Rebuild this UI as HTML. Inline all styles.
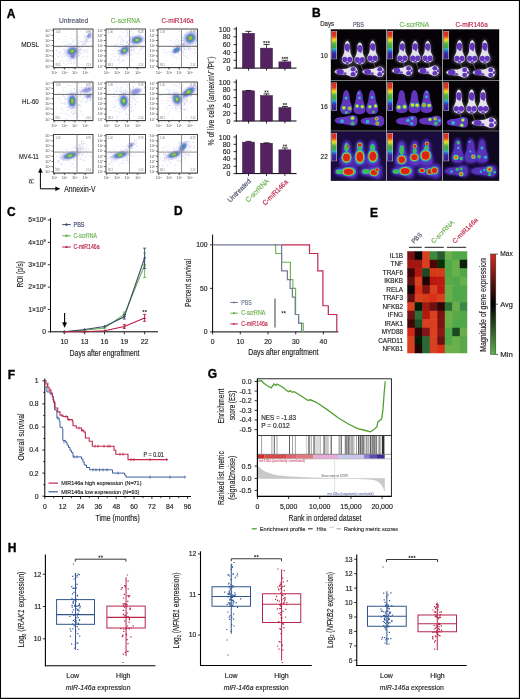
<!DOCTYPE html>
<html><head><meta charset="utf-8"><title>Figure</title>
<style>html,body{margin:0;padding:0;background:#fff;} svg{display:block;will-change:transform;} text{font-family:"Liberation Sans", sans-serif;}</style>
</head><body>
<svg width="520" height="699" viewBox="0 0 520 699" font-family='"Liberation Sans", sans-serif'>
<rect x="0" y="0" width="520" height="699" fill="#000"/>
<rect x="1" y="1" width="517.9" height="696.8" fill="#fff"/>
<text x="6.80" y="17.90" font-size="12" fill="#000" font-weight="bold" stroke="#000" stroke-width="0.35">A</text>
<text x="58.90" y="22.90" font-size="7.6" fill="#50546e" textLength="29.30" lengthAdjust="spacingAndGlyphs" stroke="#50546e" stroke-width="0.16">Untreated</text>
<text x="110.80" y="22.90" font-size="7.6" fill="#6ab04c" textLength="29.60" lengthAdjust="spacingAndGlyphs" stroke="#6ab04c" stroke-width="0.16">C-scrRNA</text>
<text x="161.50" y="22.90" font-size="7.6" fill="#c0264b" textLength="32.00" lengthAdjust="spacingAndGlyphs" stroke="#c0264b" stroke-width="0.16">C-miR146a</text>
<text x="21.20" y="47.30" font-size="7.6" fill="#231f20" textLength="18.00" lengthAdjust="spacingAndGlyphs" stroke="#231f20" stroke-width="0.16">MDSL</text>
<text x="22.00" y="103.90" font-size="7.6" fill="#231f20" textLength="16.80" lengthAdjust="spacingAndGlyphs" stroke="#231f20" stroke-width="0.16">HL-60</text>
<text x="19.00" y="158.90" font-size="7.6" fill="#231f20" textLength="19.80" lengthAdjust="spacingAndGlyphs" stroke="#231f20" stroke-width="0.16">MV4-11</text>
<defs><filter id="bl" x="-50%" y="-50%" width="200%" height="200%"><feGaussianBlur stdDeviation="0.9"/></filter><filter id="bl2" x="-50%" y="-50%" width="200%" height="200%"><feGaussianBlur stdDeviation="0.55"/></filter><filter id="bl3" x="-50%" y="-50%" width="200%" height="200%"><feGaussianBlur stdDeviation="1.4"/></filter><linearGradient id="hmcb" x1="0" y1="0" x2="0" y2="1"><stop offset="0" stop-color="#d42a1e"/><stop offset="0.5" stop-color="#000"/><stop offset="1" stop-color="#5cb04a"/></linearGradient></defs>
<g>
<path d="M71.4 54.8h.6v.6h-.6zM69.9 50.0h.6v.6h-.6zM64.9 52.5h.6v.6h-.6zM81.5 50.6h.6v.6h-.6zM80.6 49.8h.6v.6h-.6zM75.7 51.2h.6v.6h-.6zM61.6 60.6h.6v.6h-.6zM77.1 52.7h.6v.6h-.6zM56.0 45.9h.6v.6h-.6zM64.6 51.0h.6v.6h-.6zM74.5 50.1h.6v.6h-.6zM74.9 46.1h.6v.6h-.6zM75.4 52.6h.6v.6h-.6zM70.9 62.8h.6v.6h-.6zM79.0 56.5h.6v.6h-.6zM66.1 48.7h.6v.6h-.6zM69.5 51.5h.6v.6h-.6zM77.6 50.9h.6v.6h-.6zM66.9 47.0h.6v.6h-.6zM70.9 59.6h.6v.6h-.6zM66.7 54.8h.6v.6h-.6zM72.4 41.5h.6v.6h-.6zM75.4 58.5h.6v.6h-.6zM56.5 54.9h.6v.6h-.6zM69.8 46.8h.6v.6h-.6zM75.9 49.5h.6v.6h-.6zM63.0 59.9h.6v.6h-.6zM79.3 54.8h.6v.6h-.6zM83.9 49.3h.6v.6h-.6zM70.5 43.5h.6v.6h-.6zM75.7 46.0h.6v.6h-.6zM66.3 45.2h.6v.6h-.6zM63.9 50.8h.6v.6h-.6zM77.8 36.1h.6v.6h-.6zM61.8 56.6h.6v.6h-.6zM84.4 50.6h.6v.6h-.6zM73.5 46.0h.6v.6h-.6zM65.9 59.8h.6v.6h-.6zM80.9 49.1h.6v.6h-.6zM75.1 53.0h.6v.6h-.6zM85.6 50.4h.6v.6h-.6zM77.3 52.9h.6v.6h-.6zM63.2 62.8h.6v.6h-.6zM80.6 51.6h.6v.6h-.6zM56.1 53.0h.6v.6h-.6zM74.9 38.5h.6v.6h-.6zM73.0 57.5h.6v.6h-.6zM65.8 64.0h.6v.6h-.6zM76.1 48.8h.6v.6h-.6zM76.1 54.0h.6v.6h-.6zM75.6 57.4h.6v.6h-.6zM66.5 50.6h.6v.6h-.6zM80.2 48.5h.6v.6h-.6zM67.6 59.0h.6v.6h-.6zM82.4 44.6h.6v.6h-.6zM61.6 54.2h.6v.6h-.6zM70.6 49.9h.6v.6h-.6zM80.7 41.5h.6v.6h-.6zM79.1 40.5h.6v.6h-.6zM67.7 57.0h.6v.6h-.6zM82.6 53.0h.6v.6h-.6zM75.2 51.1h.6v.6h-.6zM74.6 54.1h.6v.6h-.6zM71.6 53.3h.6v.6h-.6zM76.6 49.6h.6v.6h-.6zM79.2 52.3h.6v.6h-.6zM88.1 47.6h.6v.6h-.6zM68.3 50.2h.6v.6h-.6zM74.1 56.5h.6v.6h-.6zM70.6 54.3h.6v.6h-.6zM80.8 31.5h.6v.6h-.6zM64.4 55.7h.6v.6h-.6zM75.8 51.5h.6v.6h-.6zM70.4 56.1h.6v.6h-.6zM73.3 47.4h.6v.6h-.6zM91.3 46.6h.6v.6h-.6zM67.9 52.1h.6v.6h-.6zM70.5 51.5h.6v.6h-.6zM77.5 41.8h.6v.6h-.6zM73.8 56.8h.6v.6h-.6zM81.8 57.4h.6v.6h-.6zM58.8 53.8h.6v.6h-.6zM71.0 55.7h.6v.6h-.6zM74.9 32.9h.6v.6h-.6zM77.5 40.0h.6v.6h-.6zM74.3 40.8h.6v.6h-.6zM76.1 57.5h.6v.6h-.6zM71.6 52.7h.6v.6h-.6zM78.6 49.8h.6v.6h-.6zM74.8 60.2h.6v.6h-.6zM79.6 46.7h.6v.6h-.6zM90.6 37.1h.6v.6h-.6zM78.6 47.2h.6v.6h-.6zM74.8 54.9h.6v.6h-.6zM75.3 54.2h.6v.6h-.6zM57.7 46.8h.6v.6h-.6zM74.9 44.0h.6v.6h-.6zM61.5 45.6h.6v.6h-.6zM83.4 52.0h.6v.6h-.6zM81.4 41.8h.6v.6h-.6zM69.9 44.7h.6v.6h-.6zM81.4 58.2h.6v.6h-.6zM68.9 62.6h.6v.6h-.6zM79.4 47.5h.6v.6h-.6zM60.4 64.6h.6v.6h-.6zM70.3 48.0h.6v.6h-.6zM76.2 52.4h.6v.6h-.6zM81.4 41.3h.6v.6h-.6zM83.9 56.6h.6v.6h-.6zM82.8 46.2h.6v.6h-.6zM68.8 59.1h.6v.6h-.6zM73.4 51.6h.6v.6h-.6zM82.5 45.8h.6v.6h-.6zM60.1 61.0h.6v.6h-.6zM73.4 46.8h.6v.6h-.6zM74.0 56.0h.6v.6h-.6zM75.7 58.6h.6v.6h-.6zM74.0 57.3h.6v.6h-.6zM86.9 56.3h.6v.6h-.6zM69.1 58.1h.6v.6h-.6zM55.9 50.1h.6v.6h-.6zM59.8 62.7h.6v.6h-.6zM63.0 54.5h.6v.6h-.6zM70.8 51.6h.6v.6h-.6zM68.3 54.2h.6v.6h-.6zM85.9 46.6h.6v.6h-.6zM78.4 55.5h.6v.6h-.6zM68.2 44.5h.6v.6h-.6zM70.4 58.9h.6v.6h-.6zM58.7 52.3h.6v.6h-.6zM81.5 53.0h.6v.6h-.6zM74.0 55.8h.6v.6h-.6zM71.1 44.0h.6v.6h-.6zM59.2 51.8h.6v.6h-.6zM78.1 45.4h.6v.6h-.6zM63.9 49.3h.6v.6h-.6zM60.5 54.7h.6v.6h-.6zM64.2 56.5h.6v.6h-.6zM55.2 59.5h.6v.6h-.6zM63.4 41.9h.6v.6h-.6zM77.2 47.6h.6v.6h-.6zM73.5 47.8h.6v.6h-.6zM79.7 53.3h.6v.6h-.6zM78.0 51.2h.6v.6h-.6zM83.7 51.3h.6v.6h-.6zM71.4 38.1h.6v.6h-.6zM81.8 56.2h.6v.6h-.6zM69.1 49.3h.6v.6h-.6zM83.2 35.8h.6v.6h-.6zM80.9 63.8h.6v.6h-.6zM66.8 57.7h.6v.6h-.6zM86.2 45.4h.6v.6h-.6zM78.4 54.8h.6v.6h-.6zM65.3 53.2h.6v.6h-.6zM76.2 55.1h.6v.6h-.6zM71.6 50.2h.6v.6h-.6zM63.9 51.9h.6v.6h-.6zM79.2 49.3h.6v.6h-.6zM64.1 48.7h.6v.6h-.6zM71.7 34.6h.6v.6h-.6zM78.0 52.2h.6v.6h-.6zM85.8 49.0h.6v.6h-.6zM72.9 54.4h.6v.6h-.6zM59.8 62.4h.6v.6h-.6zM73.3 46.3h.6v.6h-.6zM86.0 57.9h.6v.6h-.6zM60.4 51.2h.6v.6h-.6zM74.9 51.5h.6v.6h-.6zM67.3 46.7h.6v.6h-.6zM90.4 51.3h.6v.6h-.6zM60.5 46.8h.6v.6h-.6zM87.2 52.2h.6v.6h-.6zM87.7 50.8h.6v.6h-.6zM66.3 55.1h.6v.6h-.6zM54.5 52.8h.6v.6h-.6zM72.9 54.3h.6v.6h-.6zM66.6 52.5h.6v.6h-.6zM76.5 52.1h.6v.6h-.6zM77.5 50.6h.6v.6h-.6zM71.5 56.6h.6v.6h-.6zM71.0 46.3h.6v.6h-.6zM67.6 52.9h.6v.6h-.6zM71.8 52.4h.6v.6h-.6zM72.7 52.2h.6v.6h-.6zM68.7 44.4h.6v.6h-.6zM77.7 56.1h.6v.6h-.6zM75.2 48.9h.6v.6h-.6zM73.6 44.5h.6v.6h-.6zM58.2 56.7h.6v.6h-.6zM66.8 58.0h.6v.6h-.6zM58.7 39.1h.6v.6h-.6zM67.8 63.1h.6v.6h-.6zM66.6 44.4h.6v.6h-.6zM67.6 56.3h.6v.6h-.6zM76.4 50.9h.6v.6h-.6zM84.9 51.2h.6v.6h-.6zM73.4 54.7h.6v.6h-.6zM86.8 52.2h.6v.6h-.6zM77.7 42.2h.6v.6h-.6zM72.7 55.8h.6v.6h-.6zM72.3 58.1h.6v.6h-.6zM78.7 54.8h.6v.6h-.6zM76.0 66.3h.6v.6h-.6zM81.2 46.6h.6v.6h-.6zM78.4 65.8h.6v.6h-.6zM71.5 57.1h.6v.6h-.6zM79.7 48.6h.6v.6h-.6zM63.9 55.5h.6v.6h-.6zM77.4 56.7h.6v.6h-.6zM78.2 49.2h.6v.6h-.6zM79.8 51.9h.6v.6h-.6zM74.0 51.0h.6v.6h-.6zM71.9 55.8h.6v.6h-.6zM63.1 50.5h.6v.6h-.6zM69.3 42.8h.6v.6h-.6zM64.8 40.9h.6v.6h-.6zM68.3 56.3h.6v.6h-.6zM76.4 49.3h.6v.6h-.6zM67.6 43.7h.6v.6h-.6zM87.1 49.1h.6v.6h-.6zM78.7 43.2h.6v.6h-.6zM67.1 41.3h.6v.6h-.6zM80.1 54.4h.6v.6h-.6zM57.9 56.1h.6v.6h-.6zM73.4 39.4h.6v.6h-.6zM56.4 50.1h.6v.6h-.6zM64.7 44.9h.6v.6h-.6zM73.1 52.5h.6v.6h-.6zM78.5 53.5h.6v.6h-.6zM86.0 53.7h.6v.6h-.6zM61.4 51.9h.6v.6h-.6zM62.1 47.9h.6v.6h-.6zM71.7 51.5h.6v.6h-.6zM72.7 40.8h.6v.6h-.6zM62.9 54.5h.6v.6h-.6zM70.2 50.0h.6v.6h-.6zM70.2 47.0h.6v.6h-.6zM78.3 51.3h.6v.6h-.6zM70.2 47.6h.6v.6h-.6zM65.3 36.1h.6v.6h-.6zM65.0 54.1h.6v.6h-.6zM61.4 56.5h.6v.6h-.6zM70.5 42.9h.6v.6h-.6zM69.8 50.1h.6v.6h-.6zM77.0 53.4h.6v.6h-.6zM70.3 46.4h.6v.6h-.6zM71.1 51.2h.6v.6h-.6zM78.4 50.9h.6v.6h-.6zM64.1 45.4h.6v.6h-.6zM68.0 48.0h.6v.6h-.6zM63.7 53.6h.6v.6h-.6z" fill="#5658c8" fill-opacity="0.45"/>
<g transform="translate(72.30 51.20) rotate(-20)" filter="url(#bl2)">
<ellipse rx="7.25" ry="5.51" fill="#8a8ee0" opacity="0.35"/>
<ellipse rx="5.00" ry="3.80" fill="#6a70d0" opacity="0.75"/>
<ellipse rx="3.60" ry="2.74" fill="#3f8fb8"/>
<ellipse rx="2.50" ry="1.90" fill="#4caf50"/>
<ellipse rx="1.50" ry="1.14" fill="#d8cf28"/>
<ellipse rx="0.75" ry="0.57" fill="#e07020"/>
</g>
<path d="M71.3 56.3h.6v.6h-.6zM73.8 54.8h.6v.6h-.6zM78.3 55.0h.6v.6h-.6zM75.3 56.4h.6v.6h-.6zM75.3 48.9h.6v.6h-.6zM70.6 56.7h.6v.6h-.6zM74.0 63.0h.6v.6h-.6zM73.3 59.8h.6v.6h-.6zM74.4 58.8h.6v.6h-.6zM73.8 55.5h.6v.6h-.6zM73.8 52.8h.6v.6h-.6zM75.5 52.9h.6v.6h-.6zM73.1 62.4h.6v.6h-.6zM71.9 56.1h.6v.6h-.6zM75.4 56.1h.6v.6h-.6zM70.5 56.8h.6v.6h-.6zM74.0 58.1h.6v.6h-.6zM70.6 61.3h.6v.6h-.6zM76.7 56.1h.6v.6h-.6zM73.2 54.7h.6v.6h-.6zM76.0 53.9h.6v.6h-.6zM74.2 54.6h.6v.6h-.6zM70.8 58.2h.6v.6h-.6zM75.8 56.0h.6v.6h-.6zM70.8 58.4h.6v.6h-.6zM72.4 56.9h.6v.6h-.6zM76.3 59.4h.6v.6h-.6zM71.2 62.9h.6v.6h-.6zM72.5 58.4h.6v.6h-.6zM70.9 55.9h.6v.6h-.6zM68.1 61.4h.6v.6h-.6zM75.9 52.4h.6v.6h-.6zM68.7 51.1h.6v.6h-.6zM75.4 54.6h.6v.6h-.6zM72.3 55.1h.6v.6h-.6zM72.2 52.7h.6v.6h-.6zM72.6 51.7h.6v.6h-.6zM72.3 56.9h.6v.6h-.6zM73.7 55.3h.6v.6h-.6zM70.2 56.5h.6v.6h-.6zM71.3 60.7h.6v.6h-.6zM74.4 55.7h.6v.6h-.6zM71.3 53.9h.6v.6h-.6zM70.2 54.9h.6v.6h-.6zM73.2 57.5h.6v.6h-.6zM73.9 62.3h.6v.6h-.6zM70.7 56.0h.6v.6h-.6zM79.5 50.4h.6v.6h-.6zM71.2 56.5h.6v.6h-.6zM72.9 57.2h.6v.6h-.6zM71.9 57.1h.6v.6h-.6zM72.6 58.3h.6v.6h-.6zM67.8 53.3h.6v.6h-.6zM72.5 52.9h.6v.6h-.6zM69.9 57.9h.6v.6h-.6zM70.9 57.9h.6v.6h-.6zM74.4 56.9h.6v.6h-.6zM73.8 55.7h.6v.6h-.6zM69.0 55.9h.6v.6h-.6zM73.6 54.4h.6v.6h-.6zM72.3 58.2h.6v.6h-.6zM70.3 57.9h.6v.6h-.6zM77.2 54.3h.6v.6h-.6zM72.9 55.5h.6v.6h-.6zM76.4 56.9h.6v.6h-.6zM74.7 53.9h.6v.6h-.6zM72.5 56.0h.6v.6h-.6zM68.1 60.3h.6v.6h-.6zM74.7 50.8h.6v.6h-.6zM74.4 55.6h.6v.6h-.6zM73.6 57.1h.6v.6h-.6zM68.8 55.4h.6v.6h-.6zM76.2 54.3h.6v.6h-.6zM69.9 51.9h.6v.6h-.6zM69.4 57.0h.6v.6h-.6zM76.7 57.3h.6v.6h-.6zM73.1 62.7h.6v.6h-.6zM71.2 54.0h.6v.6h-.6zM73.8 57.6h.6v.6h-.6zM70.0 52.5h.6v.6h-.6zM73.2 56.7h.6v.6h-.6z" fill="#5658c8" fill-opacity="0.45"/>
<g transform="translate(72.50 56.00) rotate(0)" filter="url(#bl2)"><ellipse rx="2.50" ry="3.00" fill="#7a80d8" opacity="0.4"/><ellipse rx="1.50" ry="1.80" fill="#5a60c8" opacity="0.45"/></g>
<path d="M79.7 46.3h.6v.6h-.6zM83.5 43.5h.6v.6h-.6zM84.4 40.9h.6v.6h-.6zM85.1 43.3h.6v.6h-.6zM89.9 33.7h.6v.6h-.6zM87.2 35.7h.6v.6h-.6zM86.3 41.0h.6v.6h-.6zM90.3 33.1h.6v.6h-.6zM85.0 41.1h.6v.6h-.6zM79.2 47.4h.6v.6h-.6zM82.9 44.0h.6v.6h-.6zM77.9 43.4h.6v.6h-.6zM85.5 40.6h.6v.6h-.6zM84.1 44.1h.6v.6h-.6zM83.1 41.1h.6v.6h-.6zM84.7 36.5h.6v.6h-.6zM82.4 43.6h.6v.6h-.6zM88.0 36.4h.6v.6h-.6zM85.3 38.3h.6v.6h-.6zM88.5 41.0h.6v.6h-.6zM85.6 46.4h.6v.6h-.6zM82.5 43.5h.6v.6h-.6zM87.1 40.9h.6v.6h-.6zM77.3 43.8h.6v.6h-.6zM88.4 38.6h.6v.6h-.6zM91.0 40.7h.6v.6h-.6zM86.1 39.9h.6v.6h-.6zM89.1 36.7h.6v.6h-.6zM89.7 31.4h.6v.6h-.6zM78.8 38.2h.6v.6h-.6zM87.6 36.3h.6v.6h-.6zM91.5 38.7h.6v.6h-.6zM84.6 40.2h.6v.6h-.6zM81.9 41.8h.6v.6h-.6zM83.5 44.1h.6v.6h-.6zM85.2 40.4h.6v.6h-.6zM85.6 42.4h.6v.6h-.6zM86.7 38.1h.6v.6h-.6zM87.4 37.3h.6v.6h-.6zM82.6 47.5h.6v.6h-.6zM85.5 37.3h.6v.6h-.6zM89.6 35.9h.6v.6h-.6zM81.2 49.6h.6v.6h-.6zM87.5 40.0h.6v.6h-.6zM85.6 39.4h.6v.6h-.6zM80.4 48.7h.6v.6h-.6zM84.7 40.0h.6v.6h-.6zM86.5 39.0h.6v.6h-.6zM87.1 37.0h.6v.6h-.6zM81.9 38.2h.6v.6h-.6zM84.3 43.2h.6v.6h-.6zM89.7 33.9h.6v.6h-.6zM86.7 42.9h.6v.6h-.6zM84.8 42.8h.6v.6h-.6zM91.5 32.8h.6v.6h-.6zM88.8 34.0h.6v.6h-.6zM85.7 39.5h.6v.6h-.6zM87.0 41.3h.6v.6h-.6zM83.5 43.7h.6v.6h-.6zM81.6 45.9h.6v.6h-.6zM86.8 37.6h.6v.6h-.6zM84.9 36.3h.6v.6h-.6z" fill="#5658c8" fill-opacity="0.45"/>
<path d="M88.6 32.2h.6v.6h-.6zM87.1 35.8h.6v.6h-.6zM89.3 37.3h.6v.6h-.6zM88.7 34.8h.6v.6h-.6zM91.8 36.8h.6v.6h-.6zM89.4 36.0h.6v.6h-.6zM91.6 34.0h.6v.6h-.6zM89.5 40.9h.6v.6h-.6zM89.4 36.1h.6v.6h-.6zM91.5 34.9h.6v.6h-.6zM87.3 34.5h.6v.6h-.6zM90.4 36.8h.6v.6h-.6zM85.8 35.8h.6v.6h-.6zM86.7 32.9h.6v.6h-.6zM88.0 35.3h.6v.6h-.6zM89.0 33.8h.6v.6h-.6zM86.9 36.3h.6v.6h-.6zM88.1 34.7h.6v.6h-.6zM89.9 36.5h.6v.6h-.6zM87.1 36.1h.6v.6h-.6zM86.6 41.9h.6v.6h-.6zM87.6 36.6h.6v.6h-.6zM88.4 32.8h.6v.6h-.6zM89.8 34.7h.6v.6h-.6zM86.0 38.7h.6v.6h-.6zM89.0 31.1h.6v.6h-.6zM90.7 34.5h.6v.6h-.6zM90.4 35.4h.6v.6h-.6zM91.1 33.2h.6v.6h-.6zM90.1 33.6h.6v.6h-.6zM89.4 33.3h.6v.6h-.6zM90.8 38.1h.6v.6h-.6zM89.6 34.6h.6v.6h-.6zM86.0 36.2h.6v.6h-.6zM90.4 36.5h.6v.6h-.6zM90.4 35.6h.6v.6h-.6zM90.5 37.4h.6v.6h-.6zM87.6 35.3h.6v.6h-.6zM90.7 34.2h.6v.6h-.6zM87.8 35.1h.6v.6h-.6zM89.2 36.8h.6v.6h-.6zM88.3 33.3h.6v.6h-.6zM90.0 35.1h.6v.6h-.6zM88.1 38.1h.6v.6h-.6zM88.1 35.5h.6v.6h-.6zM92.0 36.1h.6v.6h-.6zM88.2 37.2h.6v.6h-.6zM90.1 40.0h.6v.6h-.6zM89.5 37.9h.6v.6h-.6zM88.7 37.6h.6v.6h-.6zM88.8 36.9h.6v.6h-.6zM88.1 34.7h.6v.6h-.6zM87.0 39.2h.6v.6h-.6zM87.2 39.7h.6v.6h-.6zM88.1 36.6h.6v.6h-.6zM91.5 33.7h.6v.6h-.6zM84.5 35.3h.6v.6h-.6zM88.5 37.9h.6v.6h-.6zM90.7 35.6h.6v.6h-.6zM84.5 38.6h.6v.6h-.6zM91.5 35.1h.6v.6h-.6zM87.8 30.8h.6v.6h-.6zM89.9 35.9h.6v.6h-.6zM88.4 36.1h.6v.6h-.6zM90.1 33.5h.6v.6h-.6zM90.2 32.6h.6v.6h-.6zM88.9 34.4h.6v.6h-.6zM88.5 34.3h.6v.6h-.6zM87.3 39.5h.6v.6h-.6zM88.9 34.3h.6v.6h-.6zM90.5 36.6h.6v.6h-.6z" fill="#5658c8" fill-opacity="0.45"/>
<g transform="translate(89.00 35.50) rotate(-40)" filter="url(#bl2)"><ellipse rx="2.40" ry="1.80" fill="#7a80d8" opacity="0.4"/><ellipse rx="1.44" ry="1.08" fill="#5a60c8" opacity="0.45"/></g>
</g>
<rect x="53.50" y="29.00" width="39.50" height="38.50" fill="none" stroke="#3c3c3c" stroke-width="0.95"/>
<line x1="77.00" y1="29.00" x2="77.00" y2="67.50" stroke="#8f8f8f" stroke-width="1.0"/>
<line x1="53.50" y1="46.30" x2="93.00" y2="46.30" stroke="#5a5a5a" stroke-width="0.9"/>
<line x1="51.50" y1="30.20" x2="53.50" y2="30.20" stroke="#333" stroke-width="0.7"/>
<text x="50.90" y="31.50" font-size="4" fill="#555" text-anchor="end">10<tspan font-size="2.4" dy="-1.3">7</tspan></text>
<line x1="51.50" y1="35.36" x2="53.50" y2="35.36" stroke="#333" stroke-width="0.7"/>
<text x="50.90" y="36.66" font-size="4" fill="#555" text-anchor="end">10<tspan font-size="2.4" dy="-1.3">6</tspan></text>
<line x1="51.50" y1="40.51" x2="53.50" y2="40.51" stroke="#333" stroke-width="0.7"/>
<text x="50.90" y="41.81" font-size="4" fill="#555" text-anchor="end">10<tspan font-size="2.4" dy="-1.3">5</tspan></text>
<line x1="51.50" y1="45.67" x2="53.50" y2="45.67" stroke="#333" stroke-width="0.7"/>
<text x="50.90" y="46.97" font-size="4" fill="#555" text-anchor="end">10<tspan font-size="2.4" dy="-1.3">4</tspan></text>
<line x1="51.50" y1="50.83" x2="53.50" y2="50.83" stroke="#333" stroke-width="0.7"/>
<text x="50.90" y="52.13" font-size="4" fill="#555" text-anchor="end">10<tspan font-size="2.4" dy="-1.3">3</tspan></text>
<line x1="51.50" y1="55.99" x2="53.50" y2="55.99" stroke="#333" stroke-width="0.7"/>
<text x="50.90" y="57.29" font-size="4" fill="#555" text-anchor="end">10<tspan font-size="2.4" dy="-1.3">2</tspan></text>
<line x1="51.50" y1="61.14" x2="53.50" y2="61.14" stroke="#333" stroke-width="0.7"/>
<text x="50.90" y="62.44" font-size="4" fill="#555" text-anchor="end">10<tspan font-size="2.4" dy="-1.3">1</tspan></text>
<line x1="51.50" y1="66.30" x2="53.50" y2="66.30" stroke="#333" stroke-width="0.7"/>
<text x="50.90" y="67.60" font-size="4" fill="#555" text-anchor="end">10<tspan font-size="2.4" dy="-1.3">0</tspan></text>
<line x1="54.10" y1="67.50" x2="54.10" y2="69.10" stroke="#333" stroke-width="0.5"/>
<line x1="55.52" y1="67.50" x2="55.52" y2="68.40" stroke="#333" stroke-width="0.5"/>
<line x1="56.94" y1="67.50" x2="56.94" y2="68.40" stroke="#333" stroke-width="0.5"/>
<line x1="58.36" y1="67.50" x2="58.36" y2="68.40" stroke="#333" stroke-width="0.5"/>
<line x1="59.77" y1="67.50" x2="59.77" y2="68.40" stroke="#333" stroke-width="0.5"/>
<line x1="61.19" y1="67.50" x2="61.19" y2="68.40" stroke="#333" stroke-width="0.5"/>
<line x1="62.61" y1="67.50" x2="62.61" y2="68.40" stroke="#333" stroke-width="0.5"/>
<line x1="64.03" y1="67.50" x2="64.03" y2="69.10" stroke="#333" stroke-width="0.5"/>
<line x1="65.45" y1="67.50" x2="65.45" y2="68.40" stroke="#333" stroke-width="0.5"/>
<line x1="66.87" y1="67.50" x2="66.87" y2="68.40" stroke="#333" stroke-width="0.5"/>
<line x1="68.29" y1="67.50" x2="68.29" y2="68.40" stroke="#333" stroke-width="0.5"/>
<line x1="69.70" y1="67.50" x2="69.70" y2="68.40" stroke="#333" stroke-width="0.5"/>
<line x1="71.12" y1="67.50" x2="71.12" y2="68.40" stroke="#333" stroke-width="0.5"/>
<line x1="72.54" y1="67.50" x2="72.54" y2="68.40" stroke="#333" stroke-width="0.5"/>
<line x1="73.96" y1="67.50" x2="73.96" y2="69.10" stroke="#333" stroke-width="0.5"/>
<line x1="75.38" y1="67.50" x2="75.38" y2="68.40" stroke="#333" stroke-width="0.5"/>
<line x1="76.80" y1="67.50" x2="76.80" y2="68.40" stroke="#333" stroke-width="0.5"/>
<line x1="78.21" y1="67.50" x2="78.21" y2="68.40" stroke="#333" stroke-width="0.5"/>
<line x1="79.63" y1="67.50" x2="79.63" y2="68.40" stroke="#333" stroke-width="0.5"/>
<line x1="81.05" y1="67.50" x2="81.05" y2="68.40" stroke="#333" stroke-width="0.5"/>
<line x1="82.47" y1="67.50" x2="82.47" y2="68.40" stroke="#333" stroke-width="0.5"/>
<line x1="83.89" y1="67.50" x2="83.89" y2="69.10" stroke="#333" stroke-width="0.5"/>
<line x1="85.31" y1="67.50" x2="85.31" y2="68.40" stroke="#333" stroke-width="0.5"/>
<line x1="86.73" y1="67.50" x2="86.73" y2="68.40" stroke="#333" stroke-width="0.5"/>
<line x1="88.14" y1="67.50" x2="88.14" y2="68.40" stroke="#333" stroke-width="0.5"/>
<line x1="89.56" y1="67.50" x2="89.56" y2="68.40" stroke="#333" stroke-width="0.5"/>
<line x1="90.98" y1="67.50" x2="90.98" y2="68.40" stroke="#333" stroke-width="0.5"/>
<line x1="92.40" y1="67.50" x2="92.40" y2="68.40" stroke="#333" stroke-width="0.5"/>
<line x1="54.20" y1="67.50" x2="54.20" y2="69.50" stroke="#333" stroke-width="0.7"/>
<text x="54.20" y="73.80" font-size="4" fill="#555" text-anchor="middle">10<tspan font-size="2.4" dy="-1.3">2</tspan></text>
<line x1="64.60" y1="67.50" x2="64.60" y2="69.50" stroke="#333" stroke-width="0.7"/>
<text x="64.60" y="73.80" font-size="4" fill="#555" text-anchor="middle">10<tspan font-size="2.4" dy="-1.3">3</tspan></text>
<line x1="75.00" y1="67.50" x2="75.00" y2="69.50" stroke="#333" stroke-width="0.7"/>
<text x="75.00" y="73.80" font-size="4" fill="#555" text-anchor="middle">10<tspan font-size="2.4" dy="-1.3">4</tspan></text>
<line x1="85.40" y1="67.50" x2="85.40" y2="69.50" stroke="#333" stroke-width="0.7"/>
<text x="85.40" y="73.80" font-size="4" fill="#555" text-anchor="middle">10<tspan font-size="2.4" dy="-1.3">5</tspan></text>
<text x="55.50" y="33.00" font-size="2.6" fill="#777">1.00</text>
<text x="91.00" y="33.00" font-size="2.6" fill="#777" text-anchor="end">8.78</text>
<text x="55.50" y="65.50" font-size="2.6" fill="#777">88.1</text>
<text x="91.00" y="65.50" font-size="2.6" fill="#777" text-anchor="end">2.14</text>
<g>
<path d="M118.3 54.2h.6v.6h-.6zM129.3 50.4h.6v.6h-.6zM116.3 43.1h.6v.6h-.6zM133.0 46.6h.6v.6h-.6zM123.8 49.3h.6v.6h-.6zM124.8 47.6h.6v.6h-.6zM116.1 51.7h.6v.6h-.6zM119.1 50.5h.6v.6h-.6zM119.4 58.1h.6v.6h-.6zM118.5 58.8h.6v.6h-.6zM119.4 56.3h.6v.6h-.6zM133.4 45.6h.6v.6h-.6zM120.2 53.8h.6v.6h-.6zM120.3 42.6h.6v.6h-.6zM121.3 53.7h.6v.6h-.6zM121.9 52.8h.6v.6h-.6zM131.2 50.6h.6v.6h-.6zM131.7 49.1h.6v.6h-.6zM122.7 51.6h.6v.6h-.6zM121.9 50.3h.6v.6h-.6zM118.4 44.0h.6v.6h-.6zM122.4 51.8h.6v.6h-.6zM118.6 54.5h.6v.6h-.6zM127.1 47.6h.6v.6h-.6zM129.4 30.8h.6v.6h-.6zM117.9 43.7h.6v.6h-.6zM138.2 57.5h.6v.6h-.6zM109.8 61.6h.6v.6h-.6zM126.7 47.0h.6v.6h-.6zM121.2 38.8h.6v.6h-.6zM130.7 48.5h.6v.6h-.6zM122.9 47.9h.6v.6h-.6zM126.9 45.8h.6v.6h-.6zM124.3 47.4h.6v.6h-.6zM110.9 59.9h.6v.6h-.6zM127.9 52.8h.6v.6h-.6zM119.1 54.1h.6v.6h-.6zM128.6 48.5h.6v.6h-.6zM137.8 53.6h.6v.6h-.6zM113.4 46.3h.6v.6h-.6zM134.2 53.3h.6v.6h-.6zM132.5 50.0h.6v.6h-.6zM118.7 50.1h.6v.6h-.6zM127.2 42.9h.6v.6h-.6zM110.6 54.0h.6v.6h-.6zM118.2 50.3h.6v.6h-.6zM123.7 46.4h.6v.6h-.6zM132.2 44.6h.6v.6h-.6zM121.8 60.6h.6v.6h-.6zM121.6 53.9h.6v.6h-.6zM123.5 49.2h.6v.6h-.6zM124.4 46.2h.6v.6h-.6zM114.6 52.7h.6v.6h-.6zM124.5 50.8h.6v.6h-.6zM128.2 48.7h.6v.6h-.6zM117.6 50.9h.6v.6h-.6zM111.2 58.7h.6v.6h-.6zM129.0 50.7h.6v.6h-.6zM123.3 50.3h.6v.6h-.6zM130.2 46.6h.6v.6h-.6zM130.7 49.8h.6v.6h-.6zM129.6 55.1h.6v.6h-.6zM120.0 51.4h.6v.6h-.6zM117.3 50.6h.6v.6h-.6zM139.0 51.3h.6v.6h-.6zM126.3 52.8h.6v.6h-.6zM134.0 48.9h.6v.6h-.6zM128.1 40.1h.6v.6h-.6zM122.0 55.1h.6v.6h-.6zM133.5 44.9h.6v.6h-.6zM118.3 52.6h.6v.6h-.6zM118.0 49.7h.6v.6h-.6zM131.7 41.5h.6v.6h-.6zM131.0 59.5h.6v.6h-.6zM132.6 46.9h.6v.6h-.6zM122.0 54.8h.6v.6h-.6zM136.1 46.3h.6v.6h-.6zM132.4 45.6h.6v.6h-.6zM127.0 47.5h.6v.6h-.6zM130.9 54.2h.6v.6h-.6zM115.7 56.3h.6v.6h-.6zM124.3 47.1h.6v.6h-.6zM125.0 55.1h.6v.6h-.6zM138.4 44.7h.6v.6h-.6zM121.9 42.6h.6v.6h-.6zM136.3 42.7h.6v.6h-.6zM121.0 46.0h.6v.6h-.6zM120.9 46.1h.6v.6h-.6zM126.3 52.2h.6v.6h-.6zM125.5 51.5h.6v.6h-.6zM123.6 60.1h.6v.6h-.6zM115.2 45.6h.6v.6h-.6zM121.1 48.1h.6v.6h-.6zM117.4 53.3h.6v.6h-.6zM122.8 44.3h.6v.6h-.6zM127.9 57.1h.6v.6h-.6zM128.2 47.0h.6v.6h-.6zM124.9 49.5h.6v.6h-.6zM126.4 53.8h.6v.6h-.6zM116.9 40.8h.6v.6h-.6zM121.8 46.9h.6v.6h-.6zM126.6 45.2h.6v.6h-.6zM131.8 59.0h.6v.6h-.6zM114.9 50.2h.6v.6h-.6zM109.0 46.4h.6v.6h-.6zM114.2 60.0h.6v.6h-.6zM115.2 45.4h.6v.6h-.6zM117.4 59.3h.6v.6h-.6zM118.7 52.2h.6v.6h-.6zM130.5 54.8h.6v.6h-.6zM139.2 46.6h.6v.6h-.6zM125.9 50.7h.6v.6h-.6zM139.6 48.9h.6v.6h-.6zM124.0 53.7h.6v.6h-.6zM126.4 49.5h.6v.6h-.6zM117.6 47.0h.6v.6h-.6zM116.7 46.3h.6v.6h-.6zM133.5 47.6h.6v.6h-.6zM121.3 61.4h.6v.6h-.6zM124.3 38.7h.6v.6h-.6zM138.0 46.1h.6v.6h-.6zM133.3 36.6h.6v.6h-.6zM128.9 50.0h.6v.6h-.6zM126.2 50.4h.6v.6h-.6zM126.5 39.8h.6v.6h-.6zM112.9 49.9h.6v.6h-.6zM119.4 50.3h.6v.6h-.6zM127.5 50.1h.6v.6h-.6zM122.7 47.5h.6v.6h-.6zM124.6 56.4h.6v.6h-.6zM129.4 47.7h.6v.6h-.6zM127.1 58.4h.6v.6h-.6zM122.8 55.7h.6v.6h-.6zM130.7 44.5h.6v.6h-.6zM126.2 42.3h.6v.6h-.6zM131.2 47.1h.6v.6h-.6zM116.9 60.0h.6v.6h-.6zM122.9 59.6h.6v.6h-.6zM119.9 52.7h.6v.6h-.6zM125.2 47.9h.6v.6h-.6zM124.4 47.1h.6v.6h-.6zM128.6 47.7h.6v.6h-.6zM117.7 38.1h.6v.6h-.6zM131.6 45.7h.6v.6h-.6zM114.0 58.4h.6v.6h-.6zM130.5 53.0h.6v.6h-.6zM122.5 61.6h.6v.6h-.6zM130.6 61.2h.6v.6h-.6zM125.6 54.0h.6v.6h-.6zM119.0 47.4h.6v.6h-.6zM133.8 49.7h.6v.6h-.6zM136.3 47.6h.6v.6h-.6zM116.2 45.9h.6v.6h-.6zM118.6 50.4h.6v.6h-.6zM121.3 56.4h.6v.6h-.6zM125.7 48.0h.6v.6h-.6zM125.1 49.2h.6v.6h-.6zM128.0 52.8h.6v.6h-.6zM128.3 43.6h.6v.6h-.6zM119.6 62.8h.6v.6h-.6zM128.4 54.7h.6v.6h-.6zM113.6 56.1h.6v.6h-.6zM120.4 44.3h.6v.6h-.6zM123.5 55.7h.6v.6h-.6zM135.7 52.6h.6v.6h-.6zM115.2 48.3h.6v.6h-.6zM130.4 52.2h.6v.6h-.6zM121.8 44.2h.6v.6h-.6zM131.5 50.5h.6v.6h-.6zM126.4 46.1h.6v.6h-.6zM128.7 52.5h.6v.6h-.6zM115.7 45.1h.6v.6h-.6zM127.9 51.1h.6v.6h-.6zM127.2 54.2h.6v.6h-.6zM120.7 52.6h.6v.6h-.6zM124.3 54.2h.6v.6h-.6zM133.4 42.7h.6v.6h-.6zM141.4 48.2h.6v.6h-.6zM131.0 49.6h.6v.6h-.6zM134.6 42.3h.6v.6h-.6zM120.7 46.5h.6v.6h-.6zM131.3 54.1h.6v.6h-.6zM129.0 50.0h.6v.6h-.6zM123.8 52.1h.6v.6h-.6zM119.0 60.9h.6v.6h-.6zM118.8 47.6h.6v.6h-.6zM117.5 50.2h.6v.6h-.6zM132.8 51.3h.6v.6h-.6zM119.0 60.1h.6v.6h-.6zM128.2 44.3h.6v.6h-.6zM113.3 53.6h.6v.6h-.6z" fill="#5658c8" fill-opacity="0.45"/>
<g transform="translate(124.50 50.50) rotate(-35)" filter="url(#bl2)">
<ellipse rx="6.67" ry="4.64" fill="#8a8ee0" opacity="0.35"/>
<ellipse rx="4.60" ry="3.20" fill="#6a70d0" opacity="0.75"/>
<ellipse rx="3.31" ry="2.30" fill="#3f8fb8"/>
<ellipse rx="2.30" ry="1.60" fill="#4caf50"/>
<ellipse rx="1.38" ry="0.96" fill="#d8cf28"/>
</g>
<path d="M131.9 42.8h.6v.6h-.6zM137.5 31.4h.6v.6h-.6zM143.6 32.2h.6v.6h-.6zM130.3 36.5h.6v.6h-.6zM133.6 47.8h.6v.6h-.6zM138.3 31.2h.6v.6h-.6zM132.0 37.8h.6v.6h-.6zM129.2 44.2h.6v.6h-.6zM130.0 37.3h.6v.6h-.6zM126.2 30.5h.6v.6h-.6zM143.3 46.2h.6v.6h-.6zM137.6 34.5h.6v.6h-.6zM114.1 45.0h.6v.6h-.6zM123.5 40.1h.6v.6h-.6zM124.8 41.6h.6v.6h-.6zM140.9 33.4h.6v.6h-.6zM120.7 50.0h.6v.6h-.6zM141.6 47.3h.6v.6h-.6zM126.7 47.7h.6v.6h-.6zM135.5 41.8h.6v.6h-.6zM136.6 45.6h.6v.6h-.6zM126.1 46.0h.6v.6h-.6zM133.6 44.1h.6v.6h-.6zM140.8 48.3h.6v.6h-.6zM141.6 48.9h.6v.6h-.6zM132.8 43.1h.6v.6h-.6zM140.2 32.1h.6v.6h-.6zM126.5 43.2h.6v.6h-.6zM142.7 53.1h.6v.6h-.6zM130.7 47.4h.6v.6h-.6zM130.2 42.1h.6v.6h-.6zM132.7 39.9h.6v.6h-.6zM140.2 35.0h.6v.6h-.6zM140.4 35.9h.6v.6h-.6zM132.9 43.7h.6v.6h-.6zM132.4 42.4h.6v.6h-.6zM136.5 44.2h.6v.6h-.6zM134.9 46.3h.6v.6h-.6zM126.7 45.2h.6v.6h-.6zM131.9 36.5h.6v.6h-.6zM135.9 39.5h.6v.6h-.6zM132.8 37.3h.6v.6h-.6zM141.1 41.1h.6v.6h-.6zM140.1 49.0h.6v.6h-.6zM134.7 43.0h.6v.6h-.6zM124.4 36.2h.6v.6h-.6zM126.4 31.7h.6v.6h-.6zM142.6 47.0h.6v.6h-.6zM123.0 40.7h.6v.6h-.6zM121.4 47.1h.6v.6h-.6zM130.5 39.7h.6v.6h-.6zM138.0 42.8h.6v.6h-.6zM134.1 40.6h.6v.6h-.6zM132.5 41.4h.6v.6h-.6zM127.1 42.1h.6v.6h-.6zM120.1 40.3h.6v.6h-.6zM126.5 43.3h.6v.6h-.6zM127.2 32.6h.6v.6h-.6zM131.4 45.1h.6v.6h-.6zM140.2 38.9h.6v.6h-.6zM128.1 35.6h.6v.6h-.6zM126.9 30.1h.6v.6h-.6zM127.7 55.3h.6v.6h-.6zM127.2 41.3h.6v.6h-.6zM138.6 38.8h.6v.6h-.6zM133.3 33.1h.6v.6h-.6zM129.7 50.6h.6v.6h-.6zM131.4 45.7h.6v.6h-.6zM122.3 41.1h.6v.6h-.6zM140.2 45.2h.6v.6h-.6zM128.0 44.9h.6v.6h-.6zM139.6 35.5h.6v.6h-.6zM140.2 34.5h.6v.6h-.6zM130.2 41.1h.6v.6h-.6zM113.8 43.5h.6v.6h-.6zM127.1 33.7h.6v.6h-.6zM134.1 44.7h.6v.6h-.6zM134.8 47.4h.6v.6h-.6zM125.9 34.7h.6v.6h-.6zM144.3 34.2h.6v.6h-.6zM144.1 40.2h.6v.6h-.6zM142.5 39.2h.6v.6h-.6zM127.4 33.5h.6v.6h-.6zM127.2 36.5h.6v.6h-.6zM132.0 33.9h.6v.6h-.6zM133.9 37.1h.6v.6h-.6zM131.4 35.7h.6v.6h-.6zM136.9 37.5h.6v.6h-.6zM138.2 41.2h.6v.6h-.6zM131.7 36.5h.6v.6h-.6zM142.1 30.4h.6v.6h-.6zM130.6 39.5h.6v.6h-.6zM135.1 45.8h.6v.6h-.6zM134.1 45.8h.6v.6h-.6zM122.8 32.5h.6v.6h-.6zM141.3 39.9h.6v.6h-.6zM140.0 32.8h.6v.6h-.6zM119.0 36.1h.6v.6h-.6zM133.9 41.9h.6v.6h-.6zM132.9 37.7h.6v.6h-.6zM138.0 40.6h.6v.6h-.6zM138.2 40.5h.6v.6h-.6zM135.1 36.3h.6v.6h-.6zM135.8 36.7h.6v.6h-.6zM131.4 30.4h.6v.6h-.6zM136.2 37.8h.6v.6h-.6zM126.7 35.5h.6v.6h-.6zM118.4 46.4h.6v.6h-.6zM138.9 53.9h.6v.6h-.6zM136.6 39.3h.6v.6h-.6zM138.1 37.8h.6v.6h-.6zM133.3 48.9h.6v.6h-.6zM134.1 40.7h.6v.6h-.6zM130.4 46.5h.6v.6h-.6zM125.7 45.1h.6v.6h-.6zM130.0 47.2h.6v.6h-.6zM130.2 37.0h.6v.6h-.6zM126.8 48.2h.6v.6h-.6zM130.2 39.3h.6v.6h-.6zM130.7 31.2h.6v.6h-.6zM132.4 47.4h.6v.6h-.6zM130.6 38.3h.6v.6h-.6zM121.8 47.7h.6v.6h-.6zM128.8 47.3h.6v.6h-.6zM121.3 35.8h.6v.6h-.6zM138.7 35.5h.6v.6h-.6zM143.7 38.9h.6v.6h-.6zM127.6 45.1h.6v.6h-.6zM130.5 39.2h.6v.6h-.6zM127.6 30.5h.6v.6h-.6zM135.3 42.2h.6v.6h-.6zM122.1 39.4h.6v.6h-.6zM142.8 47.7h.6v.6h-.6zM142.4 37.4h.6v.6h-.6zM126.1 36.8h.6v.6h-.6zM131.5 41.8h.6v.6h-.6zM138.2 49.0h.6v.6h-.6zM138.4 33.8h.6v.6h-.6zM137.2 36.0h.6v.6h-.6zM120.1 37.3h.6v.6h-.6zM144.0 34.3h.6v.6h-.6z" fill="#5658c8" fill-opacity="0.45"/>
<g transform="translate(137.00 40.00) rotate(-10)" filter="url(#bl2)">
<ellipse rx="7.83" ry="4.93" fill="#8a8ee0" opacity="0.35"/>
<ellipse rx="5.40" ry="3.40" fill="#6a70d0" opacity="0.75"/>
<ellipse rx="3.89" ry="2.45" fill="#3f8fb8"/>
<ellipse rx="2.70" ry="1.70" fill="#4caf50"/>
<ellipse rx="1.62" ry="1.02" fill="#d8cf28"/>
</g>
</g>
<rect x="106.00" y="29.00" width="39.50" height="38.50" fill="none" stroke="#3c3c3c" stroke-width="0.95"/>
<line x1="129.50" y1="29.00" x2="129.50" y2="67.50" stroke="#8f8f8f" stroke-width="1.0"/>
<line x1="106.00" y1="46.30" x2="145.50" y2="46.30" stroke="#5a5a5a" stroke-width="0.9"/>
<line x1="104.00" y1="30.20" x2="106.00" y2="30.20" stroke="#333" stroke-width="0.7"/>
<text x="103.40" y="31.50" font-size="4" fill="#555" text-anchor="end">10<tspan font-size="2.4" dy="-1.3">7</tspan></text>
<line x1="104.00" y1="35.36" x2="106.00" y2="35.36" stroke="#333" stroke-width="0.7"/>
<text x="103.40" y="36.66" font-size="4" fill="#555" text-anchor="end">10<tspan font-size="2.4" dy="-1.3">6</tspan></text>
<line x1="104.00" y1="40.51" x2="106.00" y2="40.51" stroke="#333" stroke-width="0.7"/>
<text x="103.40" y="41.81" font-size="4" fill="#555" text-anchor="end">10<tspan font-size="2.4" dy="-1.3">5</tspan></text>
<line x1="104.00" y1="45.67" x2="106.00" y2="45.67" stroke="#333" stroke-width="0.7"/>
<text x="103.40" y="46.97" font-size="4" fill="#555" text-anchor="end">10<tspan font-size="2.4" dy="-1.3">4</tspan></text>
<line x1="104.00" y1="50.83" x2="106.00" y2="50.83" stroke="#333" stroke-width="0.7"/>
<text x="103.40" y="52.13" font-size="4" fill="#555" text-anchor="end">10<tspan font-size="2.4" dy="-1.3">3</tspan></text>
<line x1="104.00" y1="55.99" x2="106.00" y2="55.99" stroke="#333" stroke-width="0.7"/>
<text x="103.40" y="57.29" font-size="4" fill="#555" text-anchor="end">10<tspan font-size="2.4" dy="-1.3">2</tspan></text>
<line x1="104.00" y1="61.14" x2="106.00" y2="61.14" stroke="#333" stroke-width="0.7"/>
<text x="103.40" y="62.44" font-size="4" fill="#555" text-anchor="end">10<tspan font-size="2.4" dy="-1.3">1</tspan></text>
<line x1="104.00" y1="66.30" x2="106.00" y2="66.30" stroke="#333" stroke-width="0.7"/>
<text x="103.40" y="67.60" font-size="4" fill="#555" text-anchor="end">10<tspan font-size="2.4" dy="-1.3">0</tspan></text>
<line x1="106.60" y1="67.50" x2="106.60" y2="69.10" stroke="#333" stroke-width="0.5"/>
<line x1="108.02" y1="67.50" x2="108.02" y2="68.40" stroke="#333" stroke-width="0.5"/>
<line x1="109.44" y1="67.50" x2="109.44" y2="68.40" stroke="#333" stroke-width="0.5"/>
<line x1="110.86" y1="67.50" x2="110.86" y2="68.40" stroke="#333" stroke-width="0.5"/>
<line x1="112.27" y1="67.50" x2="112.27" y2="68.40" stroke="#333" stroke-width="0.5"/>
<line x1="113.69" y1="67.50" x2="113.69" y2="68.40" stroke="#333" stroke-width="0.5"/>
<line x1="115.11" y1="67.50" x2="115.11" y2="68.40" stroke="#333" stroke-width="0.5"/>
<line x1="116.53" y1="67.50" x2="116.53" y2="69.10" stroke="#333" stroke-width="0.5"/>
<line x1="117.95" y1="67.50" x2="117.95" y2="68.40" stroke="#333" stroke-width="0.5"/>
<line x1="119.37" y1="67.50" x2="119.37" y2="68.40" stroke="#333" stroke-width="0.5"/>
<line x1="120.79" y1="67.50" x2="120.79" y2="68.40" stroke="#333" stroke-width="0.5"/>
<line x1="122.20" y1="67.50" x2="122.20" y2="68.40" stroke="#333" stroke-width="0.5"/>
<line x1="123.62" y1="67.50" x2="123.62" y2="68.40" stroke="#333" stroke-width="0.5"/>
<line x1="125.04" y1="67.50" x2="125.04" y2="68.40" stroke="#333" stroke-width="0.5"/>
<line x1="126.46" y1="67.50" x2="126.46" y2="69.10" stroke="#333" stroke-width="0.5"/>
<line x1="127.88" y1="67.50" x2="127.88" y2="68.40" stroke="#333" stroke-width="0.5"/>
<line x1="129.30" y1="67.50" x2="129.30" y2="68.40" stroke="#333" stroke-width="0.5"/>
<line x1="130.71" y1="67.50" x2="130.71" y2="68.40" stroke="#333" stroke-width="0.5"/>
<line x1="132.13" y1="67.50" x2="132.13" y2="68.40" stroke="#333" stroke-width="0.5"/>
<line x1="133.55" y1="67.50" x2="133.55" y2="68.40" stroke="#333" stroke-width="0.5"/>
<line x1="134.97" y1="67.50" x2="134.97" y2="68.40" stroke="#333" stroke-width="0.5"/>
<line x1="136.39" y1="67.50" x2="136.39" y2="69.10" stroke="#333" stroke-width="0.5"/>
<line x1="137.81" y1="67.50" x2="137.81" y2="68.40" stroke="#333" stroke-width="0.5"/>
<line x1="139.23" y1="67.50" x2="139.23" y2="68.40" stroke="#333" stroke-width="0.5"/>
<line x1="140.64" y1="67.50" x2="140.64" y2="68.40" stroke="#333" stroke-width="0.5"/>
<line x1="142.06" y1="67.50" x2="142.06" y2="68.40" stroke="#333" stroke-width="0.5"/>
<line x1="143.48" y1="67.50" x2="143.48" y2="68.40" stroke="#333" stroke-width="0.5"/>
<line x1="144.90" y1="67.50" x2="144.90" y2="68.40" stroke="#333" stroke-width="0.5"/>
<line x1="106.70" y1="67.50" x2="106.70" y2="69.50" stroke="#333" stroke-width="0.7"/>
<text x="106.70" y="73.80" font-size="4" fill="#555" text-anchor="middle">10<tspan font-size="2.4" dy="-1.3">2</tspan></text>
<line x1="117.10" y1="67.50" x2="117.10" y2="69.50" stroke="#333" stroke-width="0.7"/>
<text x="117.10" y="73.80" font-size="4" fill="#555" text-anchor="middle">10<tspan font-size="2.4" dy="-1.3">3</tspan></text>
<line x1="127.50" y1="67.50" x2="127.50" y2="69.50" stroke="#333" stroke-width="0.7"/>
<text x="127.50" y="73.80" font-size="4" fill="#555" text-anchor="middle">10<tspan font-size="2.4" dy="-1.3">4</tspan></text>
<line x1="137.90" y1="67.50" x2="137.90" y2="69.50" stroke="#333" stroke-width="0.7"/>
<text x="137.90" y="73.80" font-size="4" fill="#555" text-anchor="middle">10<tspan font-size="2.4" dy="-1.3">5</tspan></text>
<text x="108.00" y="33.00" font-size="2.6" fill="#777">1.00</text>
<text x="143.50" y="33.00" font-size="2.6" fill="#777" text-anchor="end">8.78</text>
<text x="108.00" y="65.50" font-size="2.6" fill="#777">88.1</text>
<text x="143.50" y="65.50" font-size="2.6" fill="#777" text-anchor="end">2.14</text>
<g>
<path d="M170.3 55.2h.6v.6h-.6zM179.0 51.0h.6v.6h-.6zM182.7 52.0h.6v.6h-.6zM174.4 55.9h.6v.6h-.6zM173.0 55.5h.6v.6h-.6zM177.9 50.1h.6v.6h-.6zM181.3 46.6h.6v.6h-.6zM183.9 48.8h.6v.6h-.6zM176.0 47.8h.6v.6h-.6zM171.6 51.0h.6v.6h-.6zM175.4 50.6h.6v.6h-.6zM192.7 41.5h.6v.6h-.6zM178.5 44.7h.6v.6h-.6zM172.3 51.5h.6v.6h-.6zM175.3 46.2h.6v.6h-.6zM183.3 42.7h.6v.6h-.6zM176.9 39.2h.6v.6h-.6zM177.1 50.9h.6v.6h-.6zM178.7 51.1h.6v.6h-.6zM178.2 49.5h.6v.6h-.6zM165.6 54.4h.6v.6h-.6zM166.2 60.1h.6v.6h-.6zM177.6 48.3h.6v.6h-.6zM171.2 51.1h.6v.6h-.6zM189.3 48.8h.6v.6h-.6zM178.9 54.1h.6v.6h-.6zM164.5 49.7h.6v.6h-.6zM172.2 49.0h.6v.6h-.6zM174.1 52.5h.6v.6h-.6zM190.2 37.5h.6v.6h-.6zM177.3 50.7h.6v.6h-.6zM178.3 52.9h.6v.6h-.6zM182.7 40.1h.6v.6h-.6zM176.7 48.6h.6v.6h-.6zM175.0 44.1h.6v.6h-.6zM162.9 49.1h.6v.6h-.6zM179.5 48.7h.6v.6h-.6zM171.9 42.6h.6v.6h-.6zM173.0 49.0h.6v.6h-.6zM167.5 52.2h.6v.6h-.6zM181.1 49.2h.6v.6h-.6zM177.5 51.6h.6v.6h-.6zM173.6 52.3h.6v.6h-.6zM177.9 51.5h.6v.6h-.6zM175.8 49.8h.6v.6h-.6zM174.5 48.5h.6v.6h-.6zM188.7 43.8h.6v.6h-.6zM183.5 55.4h.6v.6h-.6zM180.2 40.4h.6v.6h-.6zM181.7 50.1h.6v.6h-.6zM188.7 47.4h.6v.6h-.6zM177.9 43.8h.6v.6h-.6zM172.7 53.8h.6v.6h-.6zM176.9 45.2h.6v.6h-.6zM173.7 50.1h.6v.6h-.6zM177.5 50.8h.6v.6h-.6zM172.5 47.3h.6v.6h-.6zM186.1 50.5h.6v.6h-.6zM178.1 53.5h.6v.6h-.6zM180.1 50.4h.6v.6h-.6zM177.3 46.0h.6v.6h-.6zM181.5 51.0h.6v.6h-.6zM176.2 59.1h.6v.6h-.6zM190.8 48.2h.6v.6h-.6zM188.0 45.3h.6v.6h-.6zM173.5 49.4h.6v.6h-.6zM172.7 53.2h.6v.6h-.6zM177.8 52.1h.6v.6h-.6zM171.3 64.0h.6v.6h-.6zM187.8 42.0h.6v.6h-.6zM180.9 49.1h.6v.6h-.6zM177.4 48.4h.6v.6h-.6zM174.1 47.9h.6v.6h-.6zM177.3 49.3h.6v.6h-.6zM176.3 46.3h.6v.6h-.6zM176.8 50.0h.6v.6h-.6zM177.3 44.7h.6v.6h-.6zM180.7 51.5h.6v.6h-.6zM178.7 46.8h.6v.6h-.6zM173.6 51.0h.6v.6h-.6zM183.4 52.1h.6v.6h-.6zM174.4 48.6h.6v.6h-.6zM178.8 49.3h.6v.6h-.6zM170.4 50.9h.6v.6h-.6zM177.4 52.4h.6v.6h-.6zM168.4 51.1h.6v.6h-.6zM176.4 44.6h.6v.6h-.6zM177.8 50.7h.6v.6h-.6zM173.8 47.3h.6v.6h-.6zM175.5 49.2h.6v.6h-.6zM176.4 46.3h.6v.6h-.6zM178.4 41.1h.6v.6h-.6zM175.6 50.6h.6v.6h-.6zM180.0 44.8h.6v.6h-.6zM178.0 46.4h.6v.6h-.6zM183.8 52.7h.6v.6h-.6zM175.4 52.7h.6v.6h-.6zM173.9 56.2h.6v.6h-.6zM182.6 45.9h.6v.6h-.6zM171.7 55.2h.6v.6h-.6zM184.5 49.3h.6v.6h-.6zM176.7 41.6h.6v.6h-.6zM176.1 56.7h.6v.6h-.6zM172.8 57.7h.6v.6h-.6zM187.5 45.7h.6v.6h-.6zM181.4 45.1h.6v.6h-.6zM170.2 54.0h.6v.6h-.6zM175.4 50.6h.6v.6h-.6zM179.7 47.1h.6v.6h-.6zM178.4 50.6h.6v.6h-.6zM180.4 55.6h.6v.6h-.6zM178.9 48.7h.6v.6h-.6zM174.1 48.8h.6v.6h-.6zM183.5 45.8h.6v.6h-.6zM169.9 52.1h.6v.6h-.6zM174.9 49.1h.6v.6h-.6z" fill="#5658c8" fill-opacity="0.45"/>
<g transform="translate(176.50 50.00) rotate(-35)" filter="url(#bl2)">
<ellipse rx="5.51" ry="3.33" fill="#8a8ee0" opacity="0.35"/>
<ellipse rx="3.80" ry="2.30" fill="#6a70d0" opacity="0.75"/>
<ellipse rx="2.74" ry="1.66" fill="#3f8fb8"/>
</g>
<path d="M194.3 36.2h.6v.6h-.6zM183.2 44.6h.6v.6h-.6zM192.3 41.3h.6v.6h-.6zM189.1 42.1h.6v.6h-.6zM174.8 40.8h.6v.6h-.6zM187.6 34.7h.6v.6h-.6zM188.6 46.1h.6v.6h-.6zM185.3 56.3h.6v.6h-.6zM187.2 32.1h.6v.6h-.6zM195.1 42.8h.6v.6h-.6zM179.2 58.1h.6v.6h-.6zM195.5 43.9h.6v.6h-.6zM183.1 37.4h.6v.6h-.6zM187.8 39.6h.6v.6h-.6zM185.9 46.5h.6v.6h-.6zM194.3 35.5h.6v.6h-.6zM190.9 36.0h.6v.6h-.6zM184.5 37.2h.6v.6h-.6zM184.9 35.8h.6v.6h-.6zM173.7 46.4h.6v.6h-.6zM184.5 38.0h.6v.6h-.6zM183.1 42.9h.6v.6h-.6zM194.3 32.4h.6v.6h-.6zM193.8 48.3h.6v.6h-.6zM194.9 45.0h.6v.6h-.6zM186.4 40.3h.6v.6h-.6zM194.7 38.1h.6v.6h-.6zM193.4 45.0h.6v.6h-.6zM192.8 43.0h.6v.6h-.6zM179.2 41.5h.6v.6h-.6zM184.2 46.3h.6v.6h-.6zM181.6 38.4h.6v.6h-.6zM192.0 43.4h.6v.6h-.6zM188.4 48.3h.6v.6h-.6zM190.9 32.3h.6v.6h-.6zM181.6 41.5h.6v.6h-.6zM195.2 49.9h.6v.6h-.6zM193.3 38.7h.6v.6h-.6zM183.7 49.5h.6v.6h-.6zM196.2 37.6h.6v.6h-.6zM190.4 49.6h.6v.6h-.6zM175.1 38.4h.6v.6h-.6zM185.6 31.2h.6v.6h-.6zM192.1 34.1h.6v.6h-.6zM190.6 37.3h.6v.6h-.6zM174.3 51.9h.6v.6h-.6zM182.4 40.4h.6v.6h-.6zM182.7 38.6h.6v.6h-.6zM185.3 45.5h.6v.6h-.6zM185.7 34.1h.6v.6h-.6zM188.0 47.8h.6v.6h-.6zM189.1 44.8h.6v.6h-.6zM183.6 43.8h.6v.6h-.6zM196.4 40.6h.6v.6h-.6zM187.1 38.8h.6v.6h-.6zM193.4 31.5h.6v.6h-.6zM193.8 33.5h.6v.6h-.6zM182.6 54.0h.6v.6h-.6zM192.6 36.5h.6v.6h-.6zM181.4 41.1h.6v.6h-.6zM164.3 51.7h.6v.6h-.6zM182.2 43.7h.6v.6h-.6zM183.7 35.0h.6v.6h-.6zM190.1 48.4h.6v.6h-.6zM190.6 56.7h.6v.6h-.6zM181.9 34.7h.6v.6h-.6zM187.4 47.8h.6v.6h-.6zM174.4 42.6h.6v.6h-.6zM196.5 30.5h.6v.6h-.6zM184.6 47.9h.6v.6h-.6zM196.2 33.0h.6v.6h-.6zM177.3 45.7h.6v.6h-.6zM187.2 40.4h.6v.6h-.6zM182.6 43.8h.6v.6h-.6zM194.8 40.0h.6v.6h-.6zM179.9 37.4h.6v.6h-.6zM190.3 62.6h.6v.6h-.6zM188.2 37.8h.6v.6h-.6zM185.4 51.2h.6v.6h-.6zM193.9 49.0h.6v.6h-.6zM196.0 33.6h.6v.6h-.6zM185.7 36.5h.6v.6h-.6zM182.5 44.9h.6v.6h-.6zM196.4 46.9h.6v.6h-.6zM166.0 52.1h.6v.6h-.6zM182.5 40.3h.6v.6h-.6zM195.1 38.0h.6v.6h-.6zM188.4 35.2h.6v.6h-.6zM195.4 37.4h.6v.6h-.6zM177.5 46.4h.6v.6h-.6zM176.1 38.7h.6v.6h-.6zM191.7 37.6h.6v.6h-.6zM187.1 32.5h.6v.6h-.6zM184.9 33.9h.6v.6h-.6zM196.2 39.8h.6v.6h-.6zM183.2 39.7h.6v.6h-.6zM186.0 44.7h.6v.6h-.6zM170.5 42.7h.6v.6h-.6zM184.7 47.8h.6v.6h-.6zM191.9 39.7h.6v.6h-.6zM194.4 53.6h.6v.6h-.6zM189.0 31.8h.6v.6h-.6zM170.4 40.3h.6v.6h-.6zM175.2 51.5h.6v.6h-.6zM195.5 43.4h.6v.6h-.6zM186.3 34.8h.6v.6h-.6zM194.8 52.7h.6v.6h-.6zM180.1 48.4h.6v.6h-.6zM193.6 41.3h.6v.6h-.6zM190.3 43.0h.6v.6h-.6zM195.0 32.8h.6v.6h-.6zM186.7 39.4h.6v.6h-.6zM183.4 42.0h.6v.6h-.6zM189.6 40.8h.6v.6h-.6zM190.5 43.8h.6v.6h-.6zM196.0 40.7h.6v.6h-.6zM191.9 39.4h.6v.6h-.6zM183.8 36.1h.6v.6h-.6zM190.1 34.0h.6v.6h-.6zM182.3 51.3h.6v.6h-.6zM189.1 33.8h.6v.6h-.6zM190.4 50.4h.6v.6h-.6zM187.3 57.6h.6v.6h-.6zM185.8 41.7h.6v.6h-.6zM188.0 41.6h.6v.6h-.6zM185.6 34.9h.6v.6h-.6zM189.9 43.8h.6v.6h-.6zM185.0 38.4h.6v.6h-.6zM191.0 34.0h.6v.6h-.6zM182.1 44.1h.6v.6h-.6zM188.1 49.3h.6v.6h-.6zM183.8 40.2h.6v.6h-.6zM189.7 41.3h.6v.6h-.6zM192.7 48.9h.6v.6h-.6zM189.9 47.1h.6v.6h-.6zM191.5 40.6h.6v.6h-.6zM191.9 43.2h.6v.6h-.6zM193.9 44.7h.6v.6h-.6zM183.7 36.1h.6v.6h-.6zM186.1 49.0h.6v.6h-.6zM185.6 35.2h.6v.6h-.6zM190.3 30.8h.6v.6h-.6zM185.5 37.8h.6v.6h-.6zM192.6 36.9h.6v.6h-.6zM195.4 39.3h.6v.6h-.6zM192.8 44.9h.6v.6h-.6zM185.6 37.5h.6v.6h-.6zM185.9 34.6h.6v.6h-.6zM184.5 48.9h.6v.6h-.6zM190.5 38.3h.6v.6h-.6zM191.4 40.0h.6v.6h-.6zM196.1 35.4h.6v.6h-.6zM188.5 35.6h.6v.6h-.6zM183.9 34.5h.6v.6h-.6zM192.0 40.9h.6v.6h-.6zM195.2 30.7h.6v.6h-.6zM181.9 37.6h.6v.6h-.6zM186.1 46.7h.6v.6h-.6zM192.4 34.2h.6v.6h-.6zM189.2 36.2h.6v.6h-.6zM178.9 31.1h.6v.6h-.6zM195.9 45.5h.6v.6h-.6zM184.9 40.7h.6v.6h-.6zM188.5 43.0h.6v.6h-.6zM191.6 41.9h.6v.6h-.6zM181.2 32.0h.6v.6h-.6zM194.4 41.9h.6v.6h-.6zM183.1 43.2h.6v.6h-.6zM194.2 31.4h.6v.6h-.6zM195.8 52.6h.6v.6h-.6zM192.2 51.9h.6v.6h-.6zM177.8 43.8h.6v.6h-.6zM181.7 39.2h.6v.6h-.6zM190.2 43.3h.6v.6h-.6z" fill="#5658c8" fill-opacity="0.45"/>
<g transform="translate(190.50 38.00) rotate(-40)" filter="url(#bl2)">
<ellipse rx="7.54" ry="6.67" fill="#8a8ee0" opacity="0.35"/>
<ellipse rx="5.20" ry="4.60" fill="#6a70d0" opacity="0.75"/>
<ellipse rx="3.74" ry="3.31" fill="#3f8fb8"/>
<ellipse rx="2.60" ry="2.30" fill="#4caf50"/>
<ellipse rx="1.56" ry="1.38" fill="#d8cf28"/>
<ellipse rx="0.78" ry="0.69" fill="#e07020"/>
</g>
<path d="M187.1 45.3h.6v.6h-.6zM183.1 45.1h.6v.6h-.6zM184.1 46.5h.6v.6h-.6zM183.7 45.5h.6v.6h-.6zM184.4 43.8h.6v.6h-.6zM187.7 40.7h.6v.6h-.6zM188.2 42.6h.6v.6h-.6zM186.7 41.3h.6v.6h-.6zM187.0 43.4h.6v.6h-.6zM183.0 45.5h.6v.6h-.6zM183.7 44.2h.6v.6h-.6zM186.0 40.5h.6v.6h-.6zM178.1 44.6h.6v.6h-.6zM182.2 43.9h.6v.6h-.6zM184.7 44.8h.6v.6h-.6zM188.3 41.2h.6v.6h-.6zM184.1 42.1h.6v.6h-.6zM187.0 44.9h.6v.6h-.6zM184.5 38.6h.6v.6h-.6zM187.9 44.7h.6v.6h-.6zM184.0 40.3h.6v.6h-.6zM184.0 45.4h.6v.6h-.6zM183.9 42.0h.6v.6h-.6zM183.2 47.1h.6v.6h-.6zM182.8 48.6h.6v.6h-.6zM184.4 44.4h.6v.6h-.6zM180.3 45.6h.6v.6h-.6zM183.7 40.6h.6v.6h-.6zM186.8 38.1h.6v.6h-.6zM181.4 46.3h.6v.6h-.6zM186.0 44.2h.6v.6h-.6zM182.9 44.4h.6v.6h-.6zM182.8 43.6h.6v.6h-.6zM179.5 50.2h.6v.6h-.6zM184.8 43.8h.6v.6h-.6zM182.9 45.5h.6v.6h-.6zM183.9 43.9h.6v.6h-.6zM184.3 39.4h.6v.6h-.6zM183.2 42.0h.6v.6h-.6zM185.1 46.8h.6v.6h-.6zM181.5 45.9h.6v.6h-.6zM183.9 46.5h.6v.6h-.6zM179.8 43.3h.6v.6h-.6zM184.7 42.5h.6v.6h-.6zM184.6 46.2h.6v.6h-.6zM181.6 45.1h.6v.6h-.6zM184.8 44.3h.6v.6h-.6zM184.1 46.5h.6v.6h-.6zM188.4 39.2h.6v.6h-.6zM185.5 37.4h.6v.6h-.6zM186.7 40.9h.6v.6h-.6zM183.9 43.2h.6v.6h-.6zM181.0 43.3h.6v.6h-.6zM184.7 46.6h.6v.6h-.6zM186.1 41.4h.6v.6h-.6zM182.0 43.9h.6v.6h-.6zM183.6 48.9h.6v.6h-.6zM185.6 42.9h.6v.6h-.6zM181.7 43.4h.6v.6h-.6zM187.9 42.7h.6v.6h-.6z" fill="#5658c8" fill-opacity="0.45"/>
</g>
<rect x="158.00" y="29.00" width="39.50" height="38.50" fill="none" stroke="#3c3c3c" stroke-width="0.95"/>
<line x1="181.50" y1="29.00" x2="181.50" y2="67.50" stroke="#8f8f8f" stroke-width="1.0"/>
<line x1="158.00" y1="46.30" x2="197.50" y2="46.30" stroke="#5a5a5a" stroke-width="0.9"/>
<line x1="156.00" y1="30.20" x2="158.00" y2="30.20" stroke="#333" stroke-width="0.7"/>
<text x="155.40" y="31.50" font-size="4" fill="#555" text-anchor="end">10<tspan font-size="2.4" dy="-1.3">7</tspan></text>
<line x1="156.00" y1="35.36" x2="158.00" y2="35.36" stroke="#333" stroke-width="0.7"/>
<text x="155.40" y="36.66" font-size="4" fill="#555" text-anchor="end">10<tspan font-size="2.4" dy="-1.3">6</tspan></text>
<line x1="156.00" y1="40.51" x2="158.00" y2="40.51" stroke="#333" stroke-width="0.7"/>
<text x="155.40" y="41.81" font-size="4" fill="#555" text-anchor="end">10<tspan font-size="2.4" dy="-1.3">5</tspan></text>
<line x1="156.00" y1="45.67" x2="158.00" y2="45.67" stroke="#333" stroke-width="0.7"/>
<text x="155.40" y="46.97" font-size="4" fill="#555" text-anchor="end">10<tspan font-size="2.4" dy="-1.3">4</tspan></text>
<line x1="156.00" y1="50.83" x2="158.00" y2="50.83" stroke="#333" stroke-width="0.7"/>
<text x="155.40" y="52.13" font-size="4" fill="#555" text-anchor="end">10<tspan font-size="2.4" dy="-1.3">3</tspan></text>
<line x1="156.00" y1="55.99" x2="158.00" y2="55.99" stroke="#333" stroke-width="0.7"/>
<text x="155.40" y="57.29" font-size="4" fill="#555" text-anchor="end">10<tspan font-size="2.4" dy="-1.3">2</tspan></text>
<line x1="156.00" y1="61.14" x2="158.00" y2="61.14" stroke="#333" stroke-width="0.7"/>
<text x="155.40" y="62.44" font-size="4" fill="#555" text-anchor="end">10<tspan font-size="2.4" dy="-1.3">1</tspan></text>
<line x1="156.00" y1="66.30" x2="158.00" y2="66.30" stroke="#333" stroke-width="0.7"/>
<text x="155.40" y="67.60" font-size="4" fill="#555" text-anchor="end">10<tspan font-size="2.4" dy="-1.3">0</tspan></text>
<line x1="158.60" y1="67.50" x2="158.60" y2="69.10" stroke="#333" stroke-width="0.5"/>
<line x1="160.02" y1="67.50" x2="160.02" y2="68.40" stroke="#333" stroke-width="0.5"/>
<line x1="161.44" y1="67.50" x2="161.44" y2="68.40" stroke="#333" stroke-width="0.5"/>
<line x1="162.86" y1="67.50" x2="162.86" y2="68.40" stroke="#333" stroke-width="0.5"/>
<line x1="164.27" y1="67.50" x2="164.27" y2="68.40" stroke="#333" stroke-width="0.5"/>
<line x1="165.69" y1="67.50" x2="165.69" y2="68.40" stroke="#333" stroke-width="0.5"/>
<line x1="167.11" y1="67.50" x2="167.11" y2="68.40" stroke="#333" stroke-width="0.5"/>
<line x1="168.53" y1="67.50" x2="168.53" y2="69.10" stroke="#333" stroke-width="0.5"/>
<line x1="169.95" y1="67.50" x2="169.95" y2="68.40" stroke="#333" stroke-width="0.5"/>
<line x1="171.37" y1="67.50" x2="171.37" y2="68.40" stroke="#333" stroke-width="0.5"/>
<line x1="172.79" y1="67.50" x2="172.79" y2="68.40" stroke="#333" stroke-width="0.5"/>
<line x1="174.20" y1="67.50" x2="174.20" y2="68.40" stroke="#333" stroke-width="0.5"/>
<line x1="175.62" y1="67.50" x2="175.62" y2="68.40" stroke="#333" stroke-width="0.5"/>
<line x1="177.04" y1="67.50" x2="177.04" y2="68.40" stroke="#333" stroke-width="0.5"/>
<line x1="178.46" y1="67.50" x2="178.46" y2="69.10" stroke="#333" stroke-width="0.5"/>
<line x1="179.88" y1="67.50" x2="179.88" y2="68.40" stroke="#333" stroke-width="0.5"/>
<line x1="181.30" y1="67.50" x2="181.30" y2="68.40" stroke="#333" stroke-width="0.5"/>
<line x1="182.71" y1="67.50" x2="182.71" y2="68.40" stroke="#333" stroke-width="0.5"/>
<line x1="184.13" y1="67.50" x2="184.13" y2="68.40" stroke="#333" stroke-width="0.5"/>
<line x1="185.55" y1="67.50" x2="185.55" y2="68.40" stroke="#333" stroke-width="0.5"/>
<line x1="186.97" y1="67.50" x2="186.97" y2="68.40" stroke="#333" stroke-width="0.5"/>
<line x1="188.39" y1="67.50" x2="188.39" y2="69.10" stroke="#333" stroke-width="0.5"/>
<line x1="189.81" y1="67.50" x2="189.81" y2="68.40" stroke="#333" stroke-width="0.5"/>
<line x1="191.23" y1="67.50" x2="191.23" y2="68.40" stroke="#333" stroke-width="0.5"/>
<line x1="192.64" y1="67.50" x2="192.64" y2="68.40" stroke="#333" stroke-width="0.5"/>
<line x1="194.06" y1="67.50" x2="194.06" y2="68.40" stroke="#333" stroke-width="0.5"/>
<line x1="195.48" y1="67.50" x2="195.48" y2="68.40" stroke="#333" stroke-width="0.5"/>
<line x1="196.90" y1="67.50" x2="196.90" y2="68.40" stroke="#333" stroke-width="0.5"/>
<line x1="158.70" y1="67.50" x2="158.70" y2="69.50" stroke="#333" stroke-width="0.7"/>
<text x="158.70" y="73.80" font-size="4" fill="#555" text-anchor="middle">10<tspan font-size="2.4" dy="-1.3">2</tspan></text>
<line x1="169.10" y1="67.50" x2="169.10" y2="69.50" stroke="#333" stroke-width="0.7"/>
<text x="169.10" y="73.80" font-size="4" fill="#555" text-anchor="middle">10<tspan font-size="2.4" dy="-1.3">3</tspan></text>
<line x1="179.50" y1="67.50" x2="179.50" y2="69.50" stroke="#333" stroke-width="0.7"/>
<text x="179.50" y="73.80" font-size="4" fill="#555" text-anchor="middle">10<tspan font-size="2.4" dy="-1.3">4</tspan></text>
<line x1="189.90" y1="67.50" x2="189.90" y2="69.50" stroke="#333" stroke-width="0.7"/>
<text x="189.90" y="73.80" font-size="4" fill="#555" text-anchor="middle">10<tspan font-size="2.4" dy="-1.3">5</tspan></text>
<text x="160.00" y="33.00" font-size="2.6" fill="#777">1.00</text>
<text x="195.50" y="33.00" font-size="2.6" fill="#777" text-anchor="end">8.78</text>
<text x="160.00" y="65.50" font-size="2.6" fill="#777">88.1</text>
<text x="195.50" y="65.50" font-size="2.6" fill="#777" text-anchor="end">2.14</text>
<g>
<path d="M67.0 109.8h.6v.6h-.6zM66.2 106.7h.6v.6h-.6zM67.0 97.3h.6v.6h-.6zM75.0 104.9h.6v.6h-.6zM77.9 93.5h.6v.6h-.6zM81.0 113.0h.6v.6h-.6zM72.2 105.1h.6v.6h-.6zM68.0 99.6h.6v.6h-.6zM65.0 101.8h.6v.6h-.6zM73.4 113.0h.6v.6h-.6zM77.5 108.3h.6v.6h-.6zM70.3 99.0h.6v.6h-.6zM70.4 103.0h.6v.6h-.6zM61.6 107.9h.6v.6h-.6zM63.6 96.4h.6v.6h-.6zM72.4 96.4h.6v.6h-.6zM81.5 100.1h.6v.6h-.6zM81.0 111.5h.6v.6h-.6zM69.6 104.6h.6v.6h-.6zM79.5 98.0h.6v.6h-.6zM72.8 96.0h.6v.6h-.6zM72.6 97.8h.6v.6h-.6zM72.8 109.9h.6v.6h-.6zM80.0 102.2h.6v.6h-.6zM73.4 108.6h.6v.6h-.6zM70.7 91.6h.6v.6h-.6zM78.4 92.7h.6v.6h-.6zM77.4 92.4h.6v.6h-.6zM82.4 91.7h.6v.6h-.6zM77.0 114.4h.6v.6h-.6zM67.0 114.2h.6v.6h-.6zM67.7 85.3h.6v.6h-.6zM76.3 107.2h.6v.6h-.6zM72.0 98.3h.6v.6h-.6zM70.2 98.4h.6v.6h-.6zM62.4 95.9h.6v.6h-.6zM82.3 114.8h.6v.6h-.6zM70.3 94.7h.6v.6h-.6zM74.5 110.5h.6v.6h-.6zM76.3 90.6h.6v.6h-.6zM73.2 102.3h.6v.6h-.6zM80.3 111.7h.6v.6h-.6zM75.2 111.8h.6v.6h-.6zM70.1 114.7h.6v.6h-.6zM69.9 104.5h.6v.6h-.6zM77.4 92.9h.6v.6h-.6zM68.4 85.3h.6v.6h-.6zM73.2 100.5h.6v.6h-.6zM70.5 105.4h.6v.6h-.6zM60.6 100.8h.6v.6h-.6zM72.8 98.6h.6v.6h-.6zM76.7 116.6h.6v.6h-.6zM69.8 92.6h.6v.6h-.6zM69.0 101.8h.6v.6h-.6zM75.5 93.3h.6v.6h-.6zM77.8 91.9h.6v.6h-.6zM76.9 104.8h.6v.6h-.6zM70.8 99.5h.6v.6h-.6zM74.9 108.7h.6v.6h-.6zM64.9 103.4h.6v.6h-.6zM68.2 106.6h.6v.6h-.6zM79.9 101.5h.6v.6h-.6zM71.7 102.6h.6v.6h-.6zM56.0 107.9h.6v.6h-.6zM75.4 102.5h.6v.6h-.6zM70.1 94.5h.6v.6h-.6zM71.3 111.8h.6v.6h-.6zM71.7 113.0h.6v.6h-.6zM58.1 96.9h.6v.6h-.6zM73.8 100.9h.6v.6h-.6zM63.1 95.1h.6v.6h-.6zM79.2 89.5h.6v.6h-.6zM66.8 91.2h.6v.6h-.6zM69.2 106.7h.6v.6h-.6zM80.4 95.7h.6v.6h-.6zM69.0 115.9h.6v.6h-.6zM71.8 90.0h.6v.6h-.6zM68.8 94.5h.6v.6h-.6zM66.7 98.0h.6v.6h-.6zM77.2 104.1h.6v.6h-.6zM66.8 102.0h.6v.6h-.6zM72.5 107.8h.6v.6h-.6zM70.5 105.1h.6v.6h-.6zM83.9 101.9h.6v.6h-.6zM66.3 103.9h.6v.6h-.6zM67.9 97.7h.6v.6h-.6zM73.3 104.0h.6v.6h-.6zM70.7 108.6h.6v.6h-.6zM71.2 89.4h.6v.6h-.6zM77.2 97.8h.6v.6h-.6zM79.0 95.2h.6v.6h-.6zM75.5 103.8h.6v.6h-.6zM57.4 87.7h.6v.6h-.6zM66.1 113.5h.6v.6h-.6zM61.9 109.1h.6v.6h-.6zM78.3 105.4h.6v.6h-.6zM76.0 96.6h.6v.6h-.6zM72.2 103.0h.6v.6h-.6zM74.6 107.3h.6v.6h-.6zM71.2 94.8h.6v.6h-.6zM69.2 104.7h.6v.6h-.6zM63.1 89.8h.6v.6h-.6zM70.0 96.1h.6v.6h-.6zM70.4 98.8h.6v.6h-.6zM76.6 83.4h.6v.6h-.6zM70.6 105.2h.6v.6h-.6zM75.0 111.7h.6v.6h-.6zM78.1 91.6h.6v.6h-.6zM75.8 98.0h.6v.6h-.6zM67.9 114.7h.6v.6h-.6zM68.8 93.4h.6v.6h-.6zM70.0 93.4h.6v.6h-.6zM77.9 104.4h.6v.6h-.6zM80.1 104.7h.6v.6h-.6zM68.9 110.3h.6v.6h-.6zM68.7 96.9h.6v.6h-.6zM71.4 101.4h.6v.6h-.6zM78.9 95.6h.6v.6h-.6zM74.2 100.8h.6v.6h-.6zM65.3 91.2h.6v.6h-.6zM71.1 104.6h.6v.6h-.6zM74.1 105.3h.6v.6h-.6zM72.6 97.0h.6v.6h-.6zM74.7 92.0h.6v.6h-.6zM64.8 98.0h.6v.6h-.6zM64.4 96.4h.6v.6h-.6zM68.2 96.0h.6v.6h-.6zM72.1 93.8h.6v.6h-.6zM70.0 85.7h.6v.6h-.6zM73.1 93.1h.6v.6h-.6zM67.8 103.2h.6v.6h-.6zM58.7 97.8h.6v.6h-.6zM72.8 101.9h.6v.6h-.6zM64.0 103.1h.6v.6h-.6zM73.1 92.3h.6v.6h-.6zM76.4 100.6h.6v.6h-.6zM72.4 97.0h.6v.6h-.6zM75.3 101.9h.6v.6h-.6zM78.6 105.0h.6v.6h-.6zM68.9 99.0h.6v.6h-.6zM77.4 97.7h.6v.6h-.6zM74.4 105.7h.6v.6h-.6zM73.0 102.9h.6v.6h-.6zM73.1 94.2h.6v.6h-.6zM79.0 99.8h.6v.6h-.6zM68.8 94.6h.6v.6h-.6zM74.3 91.2h.6v.6h-.6zM66.7 118.9h.6v.6h-.6zM79.6 110.5h.6v.6h-.6zM79.9 106.3h.6v.6h-.6zM62.9 111.7h.6v.6h-.6zM79.2 105.4h.6v.6h-.6zM61.4 112.2h.6v.6h-.6zM79.9 96.6h.6v.6h-.6zM73.0 108.0h.6v.6h-.6zM71.8 110.9h.6v.6h-.6zM72.8 107.2h.6v.6h-.6zM72.8 87.7h.6v.6h-.6zM73.9 112.8h.6v.6h-.6zM78.7 116.4h.6v.6h-.6zM75.4 95.6h.6v.6h-.6zM72.4 83.7h.6v.6h-.6zM71.2 109.2h.6v.6h-.6zM60.2 102.8h.6v.6h-.6zM76.9 112.9h.6v.6h-.6zM67.1 95.1h.6v.6h-.6zM61.8 91.8h.6v.6h-.6zM65.9 113.4h.6v.6h-.6zM74.7 96.5h.6v.6h-.6zM71.9 103.0h.6v.6h-.6zM84.2 117.2h.6v.6h-.6zM85.0 102.2h.6v.6h-.6zM77.8 113.3h.6v.6h-.6zM75.2 104.2h.6v.6h-.6zM71.3 97.3h.6v.6h-.6zM65.4 118.6h.6v.6h-.6zM73.8 100.7h.6v.6h-.6zM73.3 117.4h.6v.6h-.6zM71.7 98.6h.6v.6h-.6zM68.1 100.8h.6v.6h-.6zM69.8 102.8h.6v.6h-.6zM89.8 104.5h.6v.6h-.6zM67.5 118.4h.6v.6h-.6zM77.1 108.4h.6v.6h-.6zM76.3 108.4h.6v.6h-.6zM76.1 113.7h.6v.6h-.6zM77.9 113.2h.6v.6h-.6zM69.5 101.0h.6v.6h-.6zM68.2 109.6h.6v.6h-.6zM77.0 96.8h.6v.6h-.6zM79.2 90.9h.6v.6h-.6zM71.8 106.7h.6v.6h-.6zM72.1 104.5h.6v.6h-.6zM78.9 104.0h.6v.6h-.6zM66.1 107.5h.6v.6h-.6zM71.8 102.0h.6v.6h-.6zM69.1 88.5h.6v.6h-.6zM65.3 97.8h.6v.6h-.6zM78.7 90.5h.6v.6h-.6zM68.2 105.8h.6v.6h-.6zM58.8 113.1h.6v.6h-.6zM68.0 107.0h.6v.6h-.6zM69.6 103.8h.6v.6h-.6zM72.9 101.0h.6v.6h-.6zM62.1 87.7h.6v.6h-.6zM72.1 113.7h.6v.6h-.6zM69.2 105.8h.6v.6h-.6zM73.2 105.4h.6v.6h-.6zM77.9 87.5h.6v.6h-.6zM73.8 99.4h.6v.6h-.6zM70.5 93.3h.6v.6h-.6zM67.9 91.7h.6v.6h-.6zM81.8 101.1h.6v.6h-.6zM76.5 92.2h.6v.6h-.6zM56.7 84.5h.6v.6h-.6zM73.1 114.0h.6v.6h-.6zM72.1 92.0h.6v.6h-.6zM70.9 92.0h.6v.6h-.6zM64.5 98.9h.6v.6h-.6zM70.1 93.7h.6v.6h-.6zM67.3 92.6h.6v.6h-.6zM73.6 113.6h.6v.6h-.6zM63.2 103.5h.6v.6h-.6zM65.8 99.5h.6v.6h-.6zM72.9 106.1h.6v.6h-.6zM78.6 96.0h.6v.6h-.6zM65.3 99.3h.6v.6h-.6zM73.9 94.7h.6v.6h-.6zM77.3 116.2h.6v.6h-.6zM64.3 104.3h.6v.6h-.6zM78.0 83.6h.6v.6h-.6zM73.5 99.0h.6v.6h-.6zM64.3 112.9h.6v.6h-.6zM73.5 96.7h.6v.6h-.6zM74.8 106.8h.6v.6h-.6zM76.6 106.2h.6v.6h-.6zM74.6 90.4h.6v.6h-.6zM69.9 102.2h.6v.6h-.6zM70.2 91.5h.6v.6h-.6zM62.1 103.3h.6v.6h-.6zM72.5 95.7h.6v.6h-.6zM70.0 93.0h.6v.6h-.6zM68.1 100.1h.6v.6h-.6zM68.7 107.1h.6v.6h-.6zM71.5 102.2h.6v.6h-.6zM74.6 112.5h.6v.6h-.6zM75.7 103.1h.6v.6h-.6zM71.4 93.7h.6v.6h-.6zM70.4 107.2h.6v.6h-.6zM73.6 97.5h.6v.6h-.6zM64.8 87.1h.6v.6h-.6zM74.1 110.3h.6v.6h-.6zM74.4 88.6h.6v.6h-.6zM71.1 103.0h.6v.6h-.6z" fill="#5658c8" fill-opacity="0.45"/>
<g transform="translate(72.30 101.00) rotate(0)" filter="url(#bl2)">
<ellipse rx="5.22" ry="8.41" fill="#8a8ee0" opacity="0.35"/>
<ellipse rx="3.60" ry="5.80" fill="#6a70d0" opacity="0.75"/>
<ellipse rx="2.59" ry="4.18" fill="#3f8fb8"/>
<ellipse rx="1.80" ry="2.90" fill="#4caf50"/>
<ellipse rx="1.08" ry="1.74" fill="#d8cf28"/>
<ellipse rx="0.54" ry="0.87" fill="#e07020"/>
</g>
<path d="M81.6 92.4h.6v.6h-.6zM85.2 88.1h.6v.6h-.6zM80.0 94.2h.6v.6h-.6zM88.6 87.1h.6v.6h-.6zM81.4 94.0h.6v.6h-.6zM90.4 88.2h.6v.6h-.6zM81.3 94.6h.6v.6h-.6zM86.1 91.2h.6v.6h-.6zM86.5 87.3h.6v.6h-.6zM79.6 91.4h.6v.6h-.6zM80.4 92.5h.6v.6h-.6zM89.8 86.7h.6v.6h-.6zM74.2 94.4h.6v.6h-.6zM80.5 93.0h.6v.6h-.6zM75.2 92.8h.6v.6h-.6zM81.0 87.4h.6v.6h-.6zM85.6 90.8h.6v.6h-.6zM82.8 87.8h.6v.6h-.6zM87.1 85.1h.6v.6h-.6zM90.6 90.4h.6v.6h-.6zM89.4 90.1h.6v.6h-.6zM86.2 86.5h.6v.6h-.6zM84.4 87.5h.6v.6h-.6zM80.2 93.7h.6v.6h-.6zM89.1 88.3h.6v.6h-.6zM83.9 93.8h.6v.6h-.6zM86.8 92.3h.6v.6h-.6zM85.7 92.4h.6v.6h-.6zM91.3 86.0h.6v.6h-.6zM80.4 91.6h.6v.6h-.6zM89.6 87.6h.6v.6h-.6zM87.8 90.7h.6v.6h-.6zM80.9 91.0h.6v.6h-.6zM80.1 92.6h.6v.6h-.6zM81.5 90.1h.6v.6h-.6zM87.9 87.9h.6v.6h-.6zM80.5 91.1h.6v.6h-.6zM81.6 90.4h.6v.6h-.6zM86.6 95.2h.6v.6h-.6zM85.6 94.8h.6v.6h-.6zM88.8 85.8h.6v.6h-.6zM73.4 95.6h.6v.6h-.6zM75.4 95.1h.6v.6h-.6zM85.5 89.7h.6v.6h-.6zM88.4 88.8h.6v.6h-.6zM83.5 89.9h.6v.6h-.6zM88.5 86.4h.6v.6h-.6zM81.7 87.6h.6v.6h-.6zM86.3 92.1h.6v.6h-.6zM88.5 88.2h.6v.6h-.6zM90.5 88.1h.6v.6h-.6zM89.5 90.1h.6v.6h-.6zM79.6 94.1h.6v.6h-.6zM87.9 96.0h.6v.6h-.6zM85.2 88.9h.6v.6h-.6zM86.3 92.2h.6v.6h-.6zM81.9 90.1h.6v.6h-.6zM83.5 90.3h.6v.6h-.6zM91.4 87.5h.6v.6h-.6zM88.6 88.2h.6v.6h-.6zM85.9 90.8h.6v.6h-.6zM81.2 94.4h.6v.6h-.6zM89.2 93.0h.6v.6h-.6zM85.3 87.4h.6v.6h-.6zM85.3 89.2h.6v.6h-.6zM88.2 88.4h.6v.6h-.6zM86.2 92.8h.6v.6h-.6zM86.2 86.8h.6v.6h-.6zM89.4 88.8h.6v.6h-.6zM74.7 93.9h.6v.6h-.6z" fill="#5658c8" fill-opacity="0.45"/>
<g transform="translate(87.00 90.00) rotate(-15)" filter="url(#bl2)"><ellipse rx="6.50" ry="2.80" fill="#7a80d8" opacity="0.4"/><ellipse rx="3.90" ry="1.68" fill="#5a60c8" opacity="0.45"/></g>
<path d="M84.9 95.6h.6v.6h-.6zM90.1 96.1h.6v.6h-.6zM89.2 100.6h.6v.6h-.6zM89.3 94.3h.6v.6h-.6zM89.1 95.5h.6v.6h-.6zM81.0 95.2h.6v.6h-.6zM86.0 101.6h.6v.6h-.6zM87.8 95.6h.6v.6h-.6zM87.6 98.6h.6v.6h-.6zM89.8 99.4h.6v.6h-.6zM92.0 98.4h.6v.6h-.6zM88.4 96.9h.6v.6h-.6zM87.1 96.1h.6v.6h-.6zM83.1 96.7h.6v.6h-.6zM85.3 95.7h.6v.6h-.6zM91.9 97.0h.6v.6h-.6zM87.3 98.2h.6v.6h-.6zM87.2 95.3h.6v.6h-.6zM86.9 100.5h.6v.6h-.6zM90.3 93.4h.6v.6h-.6zM89.6 96.5h.6v.6h-.6zM89.3 94.9h.6v.6h-.6zM84.8 97.4h.6v.6h-.6zM91.6 96.7h.6v.6h-.6zM91.2 97.5h.6v.6h-.6zM85.6 97.0h.6v.6h-.6zM90.2 97.6h.6v.6h-.6zM89.3 96.9h.6v.6h-.6zM90.4 100.0h.6v.6h-.6zM82.2 98.3h.6v.6h-.6zM83.3 98.2h.6v.6h-.6zM83.9 96.2h.6v.6h-.6zM90.4 99.2h.6v.6h-.6zM90.3 96.8h.6v.6h-.6zM91.6 95.3h.6v.6h-.6zM85.9 96.7h.6v.6h-.6zM89.3 95.1h.6v.6h-.6zM86.3 96.0h.6v.6h-.6zM83.4 95.5h.6v.6h-.6zM88.0 95.4h.6v.6h-.6zM89.6 98.8h.6v.6h-.6zM89.3 95.6h.6v.6h-.6zM84.3 95.1h.6v.6h-.6zM89.0 93.9h.6v.6h-.6zM89.0 93.4h.6v.6h-.6zM88.8 95.7h.6v.6h-.6zM91.1 94.2h.6v.6h-.6zM87.6 96.9h.6v.6h-.6zM89.9 99.3h.6v.6h-.6zM87.4 95.2h.6v.6h-.6zM87.9 97.3h.6v.6h-.6zM89.7 97.1h.6v.6h-.6zM86.3 102.4h.6v.6h-.6zM85.1 97.6h.6v.6h-.6zM88.1 91.1h.6v.6h-.6zM87.5 93.0h.6v.6h-.6zM90.8 98.3h.6v.6h-.6zM90.4 91.9h.6v.6h-.6zM87.8 97.4h.6v.6h-.6zM88.0 94.9h.6v.6h-.6zM90.3 90.5h.6v.6h-.6zM91.9 92.6h.6v.6h-.6zM90.0 91.8h.6v.6h-.6zM85.4 95.8h.6v.6h-.6zM89.7 91.9h.6v.6h-.6zM89.8 94.1h.6v.6h-.6zM91.9 94.1h.6v.6h-.6zM89.8 95.1h.6v.6h-.6zM89.9 100.0h.6v.6h-.6zM89.2 97.3h.6v.6h-.6zM86.5 97.2h.6v.6h-.6zM82.0 98.6h.6v.6h-.6zM85.5 93.7h.6v.6h-.6zM85.2 99.8h.6v.6h-.6zM88.6 92.5h.6v.6h-.6zM87.6 96.9h.6v.6h-.6zM84.0 94.0h.6v.6h-.6zM87.2 99.1h.6v.6h-.6zM90.1 91.9h.6v.6h-.6z" fill="#5658c8" fill-opacity="0.45"/>
<g transform="translate(88.50 96.00) rotate(-20)" filter="url(#bl2)"><ellipse rx="3.20" ry="2.20" fill="#7a80d8" opacity="0.4"/><ellipse rx="1.92" ry="1.32" fill="#5a60c8" opacity="0.45"/></g>
</g>
<rect x="53.50" y="82.00" width="39.50" height="38.50" fill="none" stroke="#3c3c3c" stroke-width="0.95"/>
<line x1="77.00" y1="82.00" x2="77.00" y2="120.50" stroke="#8f8f8f" stroke-width="1.0"/>
<line x1="53.50" y1="94.40" x2="93.00" y2="94.40" stroke="#5a5a5a" stroke-width="0.9"/>
<line x1="51.50" y1="83.20" x2="53.50" y2="83.20" stroke="#333" stroke-width="0.7"/>
<text x="50.90" y="84.50" font-size="4" fill="#555" text-anchor="end">10<tspan font-size="2.4" dy="-1.3">7</tspan></text>
<line x1="51.50" y1="88.36" x2="53.50" y2="88.36" stroke="#333" stroke-width="0.7"/>
<text x="50.90" y="89.66" font-size="4" fill="#555" text-anchor="end">10<tspan font-size="2.4" dy="-1.3">6</tspan></text>
<line x1="51.50" y1="93.51" x2="53.50" y2="93.51" stroke="#333" stroke-width="0.7"/>
<text x="50.90" y="94.81" font-size="4" fill="#555" text-anchor="end">10<tspan font-size="2.4" dy="-1.3">5</tspan></text>
<line x1="51.50" y1="98.67" x2="53.50" y2="98.67" stroke="#333" stroke-width="0.7"/>
<text x="50.90" y="99.97" font-size="4" fill="#555" text-anchor="end">10<tspan font-size="2.4" dy="-1.3">4</tspan></text>
<line x1="51.50" y1="103.83" x2="53.50" y2="103.83" stroke="#333" stroke-width="0.7"/>
<text x="50.90" y="105.13" font-size="4" fill="#555" text-anchor="end">10<tspan font-size="2.4" dy="-1.3">3</tspan></text>
<line x1="51.50" y1="108.99" x2="53.50" y2="108.99" stroke="#333" stroke-width="0.7"/>
<text x="50.90" y="110.29" font-size="4" fill="#555" text-anchor="end">10<tspan font-size="2.4" dy="-1.3">2</tspan></text>
<line x1="51.50" y1="114.14" x2="53.50" y2="114.14" stroke="#333" stroke-width="0.7"/>
<text x="50.90" y="115.44" font-size="4" fill="#555" text-anchor="end">10<tspan font-size="2.4" dy="-1.3">1</tspan></text>
<line x1="51.50" y1="119.30" x2="53.50" y2="119.30" stroke="#333" stroke-width="0.7"/>
<text x="50.90" y="120.60" font-size="4" fill="#555" text-anchor="end">10<tspan font-size="2.4" dy="-1.3">0</tspan></text>
<line x1="54.10" y1="120.50" x2="54.10" y2="122.10" stroke="#333" stroke-width="0.5"/>
<line x1="55.52" y1="120.50" x2="55.52" y2="121.40" stroke="#333" stroke-width="0.5"/>
<line x1="56.94" y1="120.50" x2="56.94" y2="121.40" stroke="#333" stroke-width="0.5"/>
<line x1="58.36" y1="120.50" x2="58.36" y2="121.40" stroke="#333" stroke-width="0.5"/>
<line x1="59.77" y1="120.50" x2="59.77" y2="121.40" stroke="#333" stroke-width="0.5"/>
<line x1="61.19" y1="120.50" x2="61.19" y2="121.40" stroke="#333" stroke-width="0.5"/>
<line x1="62.61" y1="120.50" x2="62.61" y2="121.40" stroke="#333" stroke-width="0.5"/>
<line x1="64.03" y1="120.50" x2="64.03" y2="122.10" stroke="#333" stroke-width="0.5"/>
<line x1="65.45" y1="120.50" x2="65.45" y2="121.40" stroke="#333" stroke-width="0.5"/>
<line x1="66.87" y1="120.50" x2="66.87" y2="121.40" stroke="#333" stroke-width="0.5"/>
<line x1="68.29" y1="120.50" x2="68.29" y2="121.40" stroke="#333" stroke-width="0.5"/>
<line x1="69.70" y1="120.50" x2="69.70" y2="121.40" stroke="#333" stroke-width="0.5"/>
<line x1="71.12" y1="120.50" x2="71.12" y2="121.40" stroke="#333" stroke-width="0.5"/>
<line x1="72.54" y1="120.50" x2="72.54" y2="121.40" stroke="#333" stroke-width="0.5"/>
<line x1="73.96" y1="120.50" x2="73.96" y2="122.10" stroke="#333" stroke-width="0.5"/>
<line x1="75.38" y1="120.50" x2="75.38" y2="121.40" stroke="#333" stroke-width="0.5"/>
<line x1="76.80" y1="120.50" x2="76.80" y2="121.40" stroke="#333" stroke-width="0.5"/>
<line x1="78.21" y1="120.50" x2="78.21" y2="121.40" stroke="#333" stroke-width="0.5"/>
<line x1="79.63" y1="120.50" x2="79.63" y2="121.40" stroke="#333" stroke-width="0.5"/>
<line x1="81.05" y1="120.50" x2="81.05" y2="121.40" stroke="#333" stroke-width="0.5"/>
<line x1="82.47" y1="120.50" x2="82.47" y2="121.40" stroke="#333" stroke-width="0.5"/>
<line x1="83.89" y1="120.50" x2="83.89" y2="122.10" stroke="#333" stroke-width="0.5"/>
<line x1="85.31" y1="120.50" x2="85.31" y2="121.40" stroke="#333" stroke-width="0.5"/>
<line x1="86.73" y1="120.50" x2="86.73" y2="121.40" stroke="#333" stroke-width="0.5"/>
<line x1="88.14" y1="120.50" x2="88.14" y2="121.40" stroke="#333" stroke-width="0.5"/>
<line x1="89.56" y1="120.50" x2="89.56" y2="121.40" stroke="#333" stroke-width="0.5"/>
<line x1="90.98" y1="120.50" x2="90.98" y2="121.40" stroke="#333" stroke-width="0.5"/>
<line x1="92.40" y1="120.50" x2="92.40" y2="121.40" stroke="#333" stroke-width="0.5"/>
<line x1="54.20" y1="120.50" x2="54.20" y2="122.50" stroke="#333" stroke-width="0.7"/>
<text x="54.20" y="126.80" font-size="4" fill="#555" text-anchor="middle">10<tspan font-size="2.4" dy="-1.3">2</tspan></text>
<line x1="64.60" y1="120.50" x2="64.60" y2="122.50" stroke="#333" stroke-width="0.7"/>
<text x="64.60" y="126.80" font-size="4" fill="#555" text-anchor="middle">10<tspan font-size="2.4" dy="-1.3">3</tspan></text>
<line x1="75.00" y1="120.50" x2="75.00" y2="122.50" stroke="#333" stroke-width="0.7"/>
<text x="75.00" y="126.80" font-size="4" fill="#555" text-anchor="middle">10<tspan font-size="2.4" dy="-1.3">4</tspan></text>
<line x1="85.40" y1="120.50" x2="85.40" y2="122.50" stroke="#333" stroke-width="0.7"/>
<text x="85.40" y="126.80" font-size="4" fill="#555" text-anchor="middle">10<tspan font-size="2.4" dy="-1.3">5</tspan></text>
<text x="55.50" y="86.00" font-size="2.6" fill="#777">1.00</text>
<text x="91.00" y="86.00" font-size="2.6" fill="#777" text-anchor="end">8.78</text>
<text x="55.50" y="118.50" font-size="2.6" fill="#777">88.1</text>
<text x="91.00" y="118.50" font-size="2.6" fill="#777" text-anchor="end">2.14</text>
<g>
<path d="M130.8 100.7h.6v.6h-.6zM126.8 101.2h.6v.6h-.6zM125.4 91.9h.6v.6h-.6zM118.0 95.2h.6v.6h-.6zM122.1 106.7h.6v.6h-.6zM118.0 115.8h.6v.6h-.6zM119.7 96.1h.6v.6h-.6zM128.2 104.5h.6v.6h-.6zM121.0 91.7h.6v.6h-.6zM116.7 87.3h.6v.6h-.6zM131.3 110.1h.6v.6h-.6zM135.1 104.5h.6v.6h-.6zM126.3 107.6h.6v.6h-.6zM129.1 98.2h.6v.6h-.6zM112.8 89.4h.6v.6h-.6zM118.8 108.2h.6v.6h-.6zM130.5 97.4h.6v.6h-.6zM127.7 100.2h.6v.6h-.6zM125.1 96.0h.6v.6h-.6zM123.6 101.0h.6v.6h-.6zM113.6 106.7h.6v.6h-.6zM124.5 109.6h.6v.6h-.6zM130.6 107.4h.6v.6h-.6zM127.8 92.1h.6v.6h-.6zM115.2 116.7h.6v.6h-.6zM130.1 91.9h.6v.6h-.6zM131.8 106.3h.6v.6h-.6zM110.2 110.3h.6v.6h-.6zM118.9 111.9h.6v.6h-.6zM119.2 94.7h.6v.6h-.6zM114.6 99.9h.6v.6h-.6zM129.2 94.5h.6v.6h-.6zM135.1 106.2h.6v.6h-.6zM119.7 90.5h.6v.6h-.6zM114.7 106.8h.6v.6h-.6zM130.6 90.9h.6v.6h-.6zM123.6 98.5h.6v.6h-.6zM122.7 105.6h.6v.6h-.6zM135.5 94.3h.6v.6h-.6zM129.6 110.3h.6v.6h-.6zM122.0 99.8h.6v.6h-.6zM116.8 111.3h.6v.6h-.6zM120.2 95.4h.6v.6h-.6zM123.5 93.3h.6v.6h-.6zM117.5 98.9h.6v.6h-.6zM132.3 98.4h.6v.6h-.6zM125.7 87.7h.6v.6h-.6zM113.8 118.2h.6v.6h-.6zM120.3 87.5h.6v.6h-.6zM123.7 106.5h.6v.6h-.6zM113.0 94.0h.6v.6h-.6zM124.6 92.6h.6v.6h-.6zM129.2 109.2h.6v.6h-.6zM126.1 96.9h.6v.6h-.6zM123.0 95.4h.6v.6h-.6zM123.3 103.9h.6v.6h-.6zM122.8 109.8h.6v.6h-.6zM138.5 94.8h.6v.6h-.6zM126.4 108.2h.6v.6h-.6zM127.4 98.5h.6v.6h-.6zM121.8 110.2h.6v.6h-.6zM127.8 105.2h.6v.6h-.6zM119.6 107.0h.6v.6h-.6zM128.3 98.9h.6v.6h-.6zM113.3 107.4h.6v.6h-.6zM115.9 89.4h.6v.6h-.6zM122.8 106.0h.6v.6h-.6zM123.2 90.6h.6v.6h-.6zM114.9 96.8h.6v.6h-.6zM123.2 93.6h.6v.6h-.6zM116.4 117.5h.6v.6h-.6zM118.8 100.0h.6v.6h-.6zM120.1 96.0h.6v.6h-.6zM123.8 98.3h.6v.6h-.6zM126.5 90.1h.6v.6h-.6zM116.6 119.2h.6v.6h-.6zM124.0 107.9h.6v.6h-.6zM131.1 105.4h.6v.6h-.6zM122.8 87.1h.6v.6h-.6zM115.2 110.6h.6v.6h-.6zM128.2 105.7h.6v.6h-.6zM116.7 91.0h.6v.6h-.6zM123.9 91.8h.6v.6h-.6zM132.6 94.6h.6v.6h-.6zM121.2 109.0h.6v.6h-.6zM125.0 92.8h.6v.6h-.6zM130.1 117.8h.6v.6h-.6zM116.4 99.4h.6v.6h-.6zM116.0 84.1h.6v.6h-.6zM128.0 106.9h.6v.6h-.6zM129.9 104.3h.6v.6h-.6zM111.9 101.8h.6v.6h-.6zM118.9 90.8h.6v.6h-.6zM117.9 108.4h.6v.6h-.6zM123.6 118.8h.6v.6h-.6zM125.1 83.6h.6v.6h-.6zM130.0 111.8h.6v.6h-.6zM123.0 90.1h.6v.6h-.6zM133.2 88.3h.6v.6h-.6zM121.8 83.9h.6v.6h-.6zM115.1 86.4h.6v.6h-.6zM131.1 111.0h.6v.6h-.6zM120.3 89.0h.6v.6h-.6zM123.7 104.4h.6v.6h-.6zM113.9 91.4h.6v.6h-.6zM123.7 107.4h.6v.6h-.6zM124.6 105.0h.6v.6h-.6zM124.9 92.6h.6v.6h-.6zM122.8 97.7h.6v.6h-.6zM126.0 93.8h.6v.6h-.6zM132.4 100.5h.6v.6h-.6zM127.4 106.4h.6v.6h-.6zM130.3 104.1h.6v.6h-.6zM113.0 96.2h.6v.6h-.6zM135.2 104.3h.6v.6h-.6zM127.5 104.9h.6v.6h-.6zM119.5 95.2h.6v.6h-.6zM120.9 111.8h.6v.6h-.6zM127.4 116.9h.6v.6h-.6zM128.2 117.8h.6v.6h-.6zM125.6 90.1h.6v.6h-.6zM134.4 103.2h.6v.6h-.6zM131.0 102.3h.6v.6h-.6zM122.0 102.7h.6v.6h-.6zM116.2 90.8h.6v.6h-.6zM118.1 96.7h.6v.6h-.6zM115.7 100.8h.6v.6h-.6zM127.2 119.2h.6v.6h-.6zM134.7 99.6h.6v.6h-.6zM128.9 98.6h.6v.6h-.6zM126.1 100.5h.6v.6h-.6zM120.6 102.0h.6v.6h-.6zM115.4 105.8h.6v.6h-.6zM121.2 91.3h.6v.6h-.6zM122.1 106.2h.6v.6h-.6zM120.1 105.7h.6v.6h-.6zM128.4 114.9h.6v.6h-.6zM117.2 100.6h.6v.6h-.6zM128.0 114.4h.6v.6h-.6zM126.0 107.7h.6v.6h-.6zM114.6 96.5h.6v.6h-.6zM133.5 97.5h.6v.6h-.6zM136.1 93.2h.6v.6h-.6zM120.9 86.6h.6v.6h-.6zM127.8 103.1h.6v.6h-.6zM136.0 101.5h.6v.6h-.6zM121.2 88.3h.6v.6h-.6zM124.1 109.7h.6v.6h-.6zM129.2 111.8h.6v.6h-.6zM128.9 100.1h.6v.6h-.6zM127.6 102.3h.6v.6h-.6zM117.2 117.3h.6v.6h-.6zM125.2 91.2h.6v.6h-.6zM126.3 103.4h.6v.6h-.6zM130.9 113.7h.6v.6h-.6zM132.2 91.5h.6v.6h-.6zM112.9 104.5h.6v.6h-.6zM126.1 104.0h.6v.6h-.6zM116.8 97.3h.6v.6h-.6zM125.6 107.7h.6v.6h-.6zM137.2 102.5h.6v.6h-.6zM130.1 99.2h.6v.6h-.6zM122.4 92.0h.6v.6h-.6zM126.8 84.2h.6v.6h-.6zM124.5 102.1h.6v.6h-.6zM126.6 112.8h.6v.6h-.6zM123.3 101.9h.6v.6h-.6zM127.7 86.3h.6v.6h-.6zM122.1 101.8h.6v.6h-.6zM128.9 93.2h.6v.6h-.6zM128.9 104.1h.6v.6h-.6zM113.7 88.2h.6v.6h-.6zM115.3 103.0h.6v.6h-.6zM125.6 107.5h.6v.6h-.6zM128.3 95.5h.6v.6h-.6zM130.9 108.0h.6v.6h-.6zM127.0 105.2h.6v.6h-.6zM116.4 105.0h.6v.6h-.6zM116.6 90.6h.6v.6h-.6zM121.8 102.5h.6v.6h-.6zM123.2 98.0h.6v.6h-.6zM117.9 103.2h.6v.6h-.6zM118.2 88.5h.6v.6h-.6zM125.5 114.3h.6v.6h-.6zM120.5 91.5h.6v.6h-.6zM133.5 116.0h.6v.6h-.6zM121.9 99.2h.6v.6h-.6zM125.4 110.1h.6v.6h-.6zM125.0 84.0h.6v.6h-.6zM116.2 90.2h.6v.6h-.6zM126.5 101.7h.6v.6h-.6zM134.4 97.6h.6v.6h-.6zM125.7 101.5h.6v.6h-.6zM126.7 114.4h.6v.6h-.6zM131.1 94.7h.6v.6h-.6zM127.6 97.1h.6v.6h-.6zM124.6 102.4h.6v.6h-.6zM123.5 96.7h.6v.6h-.6zM133.0 97.7h.6v.6h-.6zM129.4 116.1h.6v.6h-.6zM128.4 110.1h.6v.6h-.6zM133.1 110.3h.6v.6h-.6zM133.0 86.9h.6v.6h-.6zM135.6 100.2h.6v.6h-.6zM112.7 96.0h.6v.6h-.6zM115.4 101.5h.6v.6h-.6zM114.0 92.5h.6v.6h-.6zM125.7 102.3h.6v.6h-.6zM118.8 99.3h.6v.6h-.6zM123.3 101.7h.6v.6h-.6zM123.6 99.0h.6v.6h-.6z" fill="#5658c8" fill-opacity="0.45"/>
<g transform="translate(123.80 101.00) rotate(-5)" filter="url(#bl2)">
<ellipse rx="5.51" ry="8.41" fill="#8a8ee0" opacity="0.35"/>
<ellipse rx="3.80" ry="5.80" fill="#6a70d0" opacity="0.75"/>
<ellipse rx="2.74" ry="4.18" fill="#3f8fb8"/>
<ellipse rx="1.90" ry="2.90" fill="#4caf50"/>
<ellipse rx="1.14" ry="1.74" fill="#d8cf28"/>
</g>
<path d="M139.2 84.7h.6v.6h-.6zM132.7 93.0h.6v.6h-.6zM132.6 90.7h.6v.6h-.6zM133.2 93.1h.6v.6h-.6zM143.0 88.2h.6v.6h-.6zM134.4 93.2h.6v.6h-.6zM132.0 86.2h.6v.6h-.6zM136.8 89.8h.6v.6h-.6zM132.8 94.7h.6v.6h-.6zM135.3 89.7h.6v.6h-.6zM120.4 91.2h.6v.6h-.6zM135.6 91.1h.6v.6h-.6zM138.5 91.2h.6v.6h-.6zM131.3 88.8h.6v.6h-.6zM128.8 93.5h.6v.6h-.6zM129.4 96.3h.6v.6h-.6zM125.5 89.1h.6v.6h-.6zM132.5 86.6h.6v.6h-.6zM144.5 84.9h.6v.6h-.6zM135.0 90.9h.6v.6h-.6zM128.7 88.0h.6v.6h-.6zM125.2 98.2h.6v.6h-.6zM144.2 95.7h.6v.6h-.6zM127.3 96.4h.6v.6h-.6zM136.4 94.1h.6v.6h-.6zM133.3 94.8h.6v.6h-.6zM141.7 91.3h.6v.6h-.6zM144.2 87.8h.6v.6h-.6zM144.3 86.0h.6v.6h-.6zM134.8 89.1h.6v.6h-.6zM136.7 94.6h.6v.6h-.6zM140.1 90.2h.6v.6h-.6zM144.4 83.3h.6v.6h-.6zM132.3 97.9h.6v.6h-.6zM135.3 84.5h.6v.6h-.6zM136.4 87.2h.6v.6h-.6zM133.7 96.6h.6v.6h-.6zM131.5 96.1h.6v.6h-.6zM139.0 89.8h.6v.6h-.6zM126.6 93.8h.6v.6h-.6zM121.0 94.9h.6v.6h-.6zM125.6 99.3h.6v.6h-.6zM127.0 86.3h.6v.6h-.6zM139.6 91.3h.6v.6h-.6zM134.8 99.0h.6v.6h-.6zM140.4 90.0h.6v.6h-.6zM128.4 84.0h.6v.6h-.6zM139.6 93.3h.6v.6h-.6zM130.4 88.6h.6v.6h-.6zM133.5 86.6h.6v.6h-.6zM136.5 93.8h.6v.6h-.6zM137.6 93.3h.6v.6h-.6zM143.8 87.4h.6v.6h-.6zM127.2 91.8h.6v.6h-.6zM126.9 91.6h.6v.6h-.6zM135.2 92.8h.6v.6h-.6zM136.6 91.4h.6v.6h-.6zM133.9 93.6h.6v.6h-.6zM141.8 91.8h.6v.6h-.6zM144.4 87.3h.6v.6h-.6zM135.9 97.2h.6v.6h-.6zM137.3 92.3h.6v.6h-.6zM134.6 95.2h.6v.6h-.6zM132.0 89.4h.6v.6h-.6zM134.7 90.3h.6v.6h-.6zM140.3 88.5h.6v.6h-.6zM136.1 90.6h.6v.6h-.6zM137.0 88.8h.6v.6h-.6zM140.8 84.8h.6v.6h-.6zM132.5 90.2h.6v.6h-.6zM139.6 90.2h.6v.6h-.6zM138.2 89.4h.6v.6h-.6zM130.0 89.7h.6v.6h-.6zM133.0 90.6h.6v.6h-.6zM137.7 91.9h.6v.6h-.6zM141.5 89.0h.6v.6h-.6zM129.9 90.0h.6v.6h-.6zM136.4 92.4h.6v.6h-.6zM130.5 97.5h.6v.6h-.6zM144.0 93.0h.6v.6h-.6zM136.6 94.4h.6v.6h-.6zM132.6 92.4h.6v.6h-.6zM137.7 96.8h.6v.6h-.6zM135.3 94.9h.6v.6h-.6zM135.2 89.2h.6v.6h-.6zM137.8 92.9h.6v.6h-.6z" fill="#5658c8" fill-opacity="0.45"/>
<g transform="translate(135.60 91.50) rotate(-20)" filter="url(#bl2)"><ellipse rx="6.50" ry="3.20" fill="#7a80d8" opacity="0.4"/><ellipse rx="3.90" ry="1.92" fill="#5a60c8" opacity="0.45"/></g>
</g>
<rect x="106.00" y="82.00" width="39.50" height="38.50" fill="none" stroke="#3c3c3c" stroke-width="0.95"/>
<line x1="129.50" y1="82.00" x2="129.50" y2="120.50" stroke="#8f8f8f" stroke-width="1.0"/>
<line x1="106.00" y1="94.40" x2="145.50" y2="94.40" stroke="#5a5a5a" stroke-width="0.9"/>
<line x1="104.00" y1="83.20" x2="106.00" y2="83.20" stroke="#333" stroke-width="0.7"/>
<text x="103.40" y="84.50" font-size="4" fill="#555" text-anchor="end">10<tspan font-size="2.4" dy="-1.3">7</tspan></text>
<line x1="104.00" y1="88.36" x2="106.00" y2="88.36" stroke="#333" stroke-width="0.7"/>
<text x="103.40" y="89.66" font-size="4" fill="#555" text-anchor="end">10<tspan font-size="2.4" dy="-1.3">6</tspan></text>
<line x1="104.00" y1="93.51" x2="106.00" y2="93.51" stroke="#333" stroke-width="0.7"/>
<text x="103.40" y="94.81" font-size="4" fill="#555" text-anchor="end">10<tspan font-size="2.4" dy="-1.3">5</tspan></text>
<line x1="104.00" y1="98.67" x2="106.00" y2="98.67" stroke="#333" stroke-width="0.7"/>
<text x="103.40" y="99.97" font-size="4" fill="#555" text-anchor="end">10<tspan font-size="2.4" dy="-1.3">4</tspan></text>
<line x1="104.00" y1="103.83" x2="106.00" y2="103.83" stroke="#333" stroke-width="0.7"/>
<text x="103.40" y="105.13" font-size="4" fill="#555" text-anchor="end">10<tspan font-size="2.4" dy="-1.3">3</tspan></text>
<line x1="104.00" y1="108.99" x2="106.00" y2="108.99" stroke="#333" stroke-width="0.7"/>
<text x="103.40" y="110.29" font-size="4" fill="#555" text-anchor="end">10<tspan font-size="2.4" dy="-1.3">2</tspan></text>
<line x1="104.00" y1="114.14" x2="106.00" y2="114.14" stroke="#333" stroke-width="0.7"/>
<text x="103.40" y="115.44" font-size="4" fill="#555" text-anchor="end">10<tspan font-size="2.4" dy="-1.3">1</tspan></text>
<line x1="104.00" y1="119.30" x2="106.00" y2="119.30" stroke="#333" stroke-width="0.7"/>
<text x="103.40" y="120.60" font-size="4" fill="#555" text-anchor="end">10<tspan font-size="2.4" dy="-1.3">0</tspan></text>
<line x1="106.60" y1="120.50" x2="106.60" y2="122.10" stroke="#333" stroke-width="0.5"/>
<line x1="108.02" y1="120.50" x2="108.02" y2="121.40" stroke="#333" stroke-width="0.5"/>
<line x1="109.44" y1="120.50" x2="109.44" y2="121.40" stroke="#333" stroke-width="0.5"/>
<line x1="110.86" y1="120.50" x2="110.86" y2="121.40" stroke="#333" stroke-width="0.5"/>
<line x1="112.27" y1="120.50" x2="112.27" y2="121.40" stroke="#333" stroke-width="0.5"/>
<line x1="113.69" y1="120.50" x2="113.69" y2="121.40" stroke="#333" stroke-width="0.5"/>
<line x1="115.11" y1="120.50" x2="115.11" y2="121.40" stroke="#333" stroke-width="0.5"/>
<line x1="116.53" y1="120.50" x2="116.53" y2="122.10" stroke="#333" stroke-width="0.5"/>
<line x1="117.95" y1="120.50" x2="117.95" y2="121.40" stroke="#333" stroke-width="0.5"/>
<line x1="119.37" y1="120.50" x2="119.37" y2="121.40" stroke="#333" stroke-width="0.5"/>
<line x1="120.79" y1="120.50" x2="120.79" y2="121.40" stroke="#333" stroke-width="0.5"/>
<line x1="122.20" y1="120.50" x2="122.20" y2="121.40" stroke="#333" stroke-width="0.5"/>
<line x1="123.62" y1="120.50" x2="123.62" y2="121.40" stroke="#333" stroke-width="0.5"/>
<line x1="125.04" y1="120.50" x2="125.04" y2="121.40" stroke="#333" stroke-width="0.5"/>
<line x1="126.46" y1="120.50" x2="126.46" y2="122.10" stroke="#333" stroke-width="0.5"/>
<line x1="127.88" y1="120.50" x2="127.88" y2="121.40" stroke="#333" stroke-width="0.5"/>
<line x1="129.30" y1="120.50" x2="129.30" y2="121.40" stroke="#333" stroke-width="0.5"/>
<line x1="130.71" y1="120.50" x2="130.71" y2="121.40" stroke="#333" stroke-width="0.5"/>
<line x1="132.13" y1="120.50" x2="132.13" y2="121.40" stroke="#333" stroke-width="0.5"/>
<line x1="133.55" y1="120.50" x2="133.55" y2="121.40" stroke="#333" stroke-width="0.5"/>
<line x1="134.97" y1="120.50" x2="134.97" y2="121.40" stroke="#333" stroke-width="0.5"/>
<line x1="136.39" y1="120.50" x2="136.39" y2="122.10" stroke="#333" stroke-width="0.5"/>
<line x1="137.81" y1="120.50" x2="137.81" y2="121.40" stroke="#333" stroke-width="0.5"/>
<line x1="139.23" y1="120.50" x2="139.23" y2="121.40" stroke="#333" stroke-width="0.5"/>
<line x1="140.64" y1="120.50" x2="140.64" y2="121.40" stroke="#333" stroke-width="0.5"/>
<line x1="142.06" y1="120.50" x2="142.06" y2="121.40" stroke="#333" stroke-width="0.5"/>
<line x1="143.48" y1="120.50" x2="143.48" y2="121.40" stroke="#333" stroke-width="0.5"/>
<line x1="144.90" y1="120.50" x2="144.90" y2="121.40" stroke="#333" stroke-width="0.5"/>
<line x1="106.70" y1="120.50" x2="106.70" y2="122.50" stroke="#333" stroke-width="0.7"/>
<text x="106.70" y="126.80" font-size="4" fill="#555" text-anchor="middle">10<tspan font-size="2.4" dy="-1.3">2</tspan></text>
<line x1="117.10" y1="120.50" x2="117.10" y2="122.50" stroke="#333" stroke-width="0.7"/>
<text x="117.10" y="126.80" font-size="4" fill="#555" text-anchor="middle">10<tspan font-size="2.4" dy="-1.3">3</tspan></text>
<line x1="127.50" y1="120.50" x2="127.50" y2="122.50" stroke="#333" stroke-width="0.7"/>
<text x="127.50" y="126.80" font-size="4" fill="#555" text-anchor="middle">10<tspan font-size="2.4" dy="-1.3">4</tspan></text>
<line x1="137.90" y1="120.50" x2="137.90" y2="122.50" stroke="#333" stroke-width="0.7"/>
<text x="137.90" y="126.80" font-size="4" fill="#555" text-anchor="middle">10<tspan font-size="2.4" dy="-1.3">5</tspan></text>
<text x="108.00" y="86.00" font-size="2.6" fill="#777">1.00</text>
<text x="143.50" y="86.00" font-size="2.6" fill="#777" text-anchor="end">8.78</text>
<text x="108.00" y="118.50" font-size="2.6" fill="#777">88.1</text>
<text x="143.50" y="118.50" font-size="2.6" fill="#777" text-anchor="end">2.14</text>
<g>
<path d="M174.6 105.4h.6v.6h-.6zM170.4 94.1h.6v.6h-.6zM177.5 97.0h.6v.6h-.6zM166.8 89.0h.6v.6h-.6zM177.7 101.0h.6v.6h-.6zM174.8 101.6h.6v.6h-.6zM169.2 105.3h.6v.6h-.6zM180.0 100.4h.6v.6h-.6zM173.6 101.1h.6v.6h-.6zM180.6 107.0h.6v.6h-.6zM179.2 100.5h.6v.6h-.6zM175.1 107.2h.6v.6h-.6zM182.2 93.1h.6v.6h-.6zM181.4 100.2h.6v.6h-.6zM173.1 89.6h.6v.6h-.6zM177.6 95.7h.6v.6h-.6zM182.3 93.6h.6v.6h-.6zM178.8 103.7h.6v.6h-.6zM178.1 94.3h.6v.6h-.6zM181.9 100.7h.6v.6h-.6zM181.1 93.3h.6v.6h-.6zM175.6 96.4h.6v.6h-.6zM172.8 102.9h.6v.6h-.6zM183.1 109.0h.6v.6h-.6zM176.1 102.8h.6v.6h-.6zM183.1 96.0h.6v.6h-.6zM177.6 100.1h.6v.6h-.6zM170.3 93.2h.6v.6h-.6zM183.7 98.2h.6v.6h-.6zM173.1 90.0h.6v.6h-.6zM180.8 107.8h.6v.6h-.6zM167.9 94.9h.6v.6h-.6zM187.1 107.6h.6v.6h-.6zM184.2 91.8h.6v.6h-.6zM178.3 92.3h.6v.6h-.6zM178.9 95.4h.6v.6h-.6zM181.7 108.8h.6v.6h-.6zM178.2 96.7h.6v.6h-.6zM177.9 101.1h.6v.6h-.6zM174.5 101.8h.6v.6h-.6zM184.6 109.6h.6v.6h-.6zM161.9 94.6h.6v.6h-.6zM172.3 108.3h.6v.6h-.6zM191.3 95.6h.6v.6h-.6zM180.7 107.5h.6v.6h-.6zM162.5 102.9h.6v.6h-.6zM159.6 106.8h.6v.6h-.6zM172.7 96.6h.6v.6h-.6zM177.2 94.1h.6v.6h-.6zM183.2 96.9h.6v.6h-.6zM186.0 117.4h.6v.6h-.6zM176.9 107.0h.6v.6h-.6zM175.6 110.2h.6v.6h-.6zM182.8 98.3h.6v.6h-.6zM186.9 109.2h.6v.6h-.6zM184.7 96.4h.6v.6h-.6zM179.6 107.6h.6v.6h-.6zM166.9 97.7h.6v.6h-.6zM181.2 102.4h.6v.6h-.6zM192.2 108.5h.6v.6h-.6zM179.9 101.8h.6v.6h-.6zM168.9 100.5h.6v.6h-.6zM177.8 97.0h.6v.6h-.6zM178.9 103.6h.6v.6h-.6zM170.0 96.9h.6v.6h-.6zM169.9 111.4h.6v.6h-.6zM166.3 88.7h.6v.6h-.6zM180.7 96.0h.6v.6h-.6zM181.4 94.5h.6v.6h-.6zM190.9 100.1h.6v.6h-.6zM178.1 99.7h.6v.6h-.6zM177.9 105.6h.6v.6h-.6zM187.1 91.9h.6v.6h-.6zM172.4 105.9h.6v.6h-.6zM178.9 85.9h.6v.6h-.6zM170.3 93.2h.6v.6h-.6zM181.4 101.8h.6v.6h-.6zM169.7 92.3h.6v.6h-.6zM180.1 96.7h.6v.6h-.6zM190.4 102.6h.6v.6h-.6zM172.9 98.4h.6v.6h-.6zM173.4 94.4h.6v.6h-.6zM180.0 106.2h.6v.6h-.6zM167.8 100.6h.6v.6h-.6zM187.3 101.6h.6v.6h-.6zM170.1 94.9h.6v.6h-.6zM167.8 89.1h.6v.6h-.6zM183.6 97.4h.6v.6h-.6zM169.1 90.0h.6v.6h-.6zM173.4 96.2h.6v.6h-.6zM185.4 92.3h.6v.6h-.6zM180.4 106.9h.6v.6h-.6zM180.2 96.5h.6v.6h-.6zM168.4 114.0h.6v.6h-.6zM179.1 94.8h.6v.6h-.6zM173.8 92.3h.6v.6h-.6zM167.9 90.1h.6v.6h-.6zM181.1 102.0h.6v.6h-.6zM180.0 104.6h.6v.6h-.6zM180.2 99.0h.6v.6h-.6zM173.5 105.4h.6v.6h-.6zM185.3 101.4h.6v.6h-.6zM182.6 93.2h.6v.6h-.6zM174.8 110.4h.6v.6h-.6zM174.3 102.2h.6v.6h-.6zM175.9 99.8h.6v.6h-.6zM173.9 95.8h.6v.6h-.6zM172.0 116.9h.6v.6h-.6zM172.9 84.6h.6v.6h-.6zM168.8 92.7h.6v.6h-.6zM184.5 110.1h.6v.6h-.6zM177.5 105.2h.6v.6h-.6zM176.9 88.8h.6v.6h-.6zM179.2 84.3h.6v.6h-.6zM172.7 97.7h.6v.6h-.6zM184.3 97.5h.6v.6h-.6zM174.0 93.5h.6v.6h-.6zM177.5 99.3h.6v.6h-.6zM184.7 108.0h.6v.6h-.6zM181.1 97.8h.6v.6h-.6zM180.3 111.3h.6v.6h-.6zM178.0 98.7h.6v.6h-.6zM191.2 107.1h.6v.6h-.6zM179.8 97.2h.6v.6h-.6zM176.2 108.3h.6v.6h-.6zM176.9 107.2h.6v.6h-.6zM172.8 101.6h.6v.6h-.6zM179.5 99.4h.6v.6h-.6zM179.2 101.5h.6v.6h-.6zM167.7 93.3h.6v.6h-.6zM180.9 112.8h.6v.6h-.6zM173.7 92.6h.6v.6h-.6zM173.3 100.8h.6v.6h-.6zM182.0 92.6h.6v.6h-.6zM180.5 99.4h.6v.6h-.6zM172.4 93.0h.6v.6h-.6zM174.1 94.2h.6v.6h-.6zM175.2 85.2h.6v.6h-.6zM185.2 102.5h.6v.6h-.6zM184.1 109.0h.6v.6h-.6zM175.7 85.4h.6v.6h-.6zM178.4 102.4h.6v.6h-.6zM170.1 92.3h.6v.6h-.6zM180.7 102.1h.6v.6h-.6zM173.9 98.3h.6v.6h-.6zM172.6 96.1h.6v.6h-.6zM179.4 107.2h.6v.6h-.6zM167.0 100.0h.6v.6h-.6zM186.7 98.3h.6v.6h-.6zM180.0 105.0h.6v.6h-.6zM168.1 92.4h.6v.6h-.6zM163.8 91.9h.6v.6h-.6zM180.6 104.9h.6v.6h-.6zM172.8 95.1h.6v.6h-.6zM180.8 102.9h.6v.6h-.6zM173.3 84.7h.6v.6h-.6zM176.0 92.5h.6v.6h-.6zM177.3 111.5h.6v.6h-.6zM185.5 100.1h.6v.6h-.6zM178.9 99.9h.6v.6h-.6zM173.5 100.0h.6v.6h-.6zM185.2 88.9h.6v.6h-.6zM173.6 101.7h.6v.6h-.6zM184.1 103.5h.6v.6h-.6zM171.2 100.2h.6v.6h-.6zM172.1 90.7h.6v.6h-.6zM176.1 95.5h.6v.6h-.6zM183.2 100.5h.6v.6h-.6zM172.8 101.4h.6v.6h-.6zM173.2 95.3h.6v.6h-.6zM177.0 108.0h.6v.6h-.6zM170.0 87.5h.6v.6h-.6zM174.7 106.7h.6v.6h-.6zM186.1 87.1h.6v.6h-.6zM174.0 97.5h.6v.6h-.6zM170.2 105.0h.6v.6h-.6zM177.4 101.3h.6v.6h-.6zM188.6 92.7h.6v.6h-.6zM183.5 103.7h.6v.6h-.6zM171.8 96.2h.6v.6h-.6zM187.5 101.3h.6v.6h-.6zM174.8 90.9h.6v.6h-.6zM183.2 101.3h.6v.6h-.6zM193.0 105.5h.6v.6h-.6zM182.1 99.5h.6v.6h-.6zM175.8 95.1h.6v.6h-.6zM179.3 100.4h.6v.6h-.6zM183.4 105.8h.6v.6h-.6zM177.2 94.6h.6v.6h-.6zM185.5 108.9h.6v.6h-.6zM173.4 104.0h.6v.6h-.6zM181.4 102.0h.6v.6h-.6zM179.5 97.5h.6v.6h-.6zM180.8 111.7h.6v.6h-.6zM182.8 85.5h.6v.6h-.6zM164.0 107.5h.6v.6h-.6z" fill="#5658c8" fill-opacity="0.45"/>
<g transform="translate(176.90 99.20) rotate(-20)" filter="url(#bl2)">
<ellipse rx="5.51" ry="7.25" fill="#8a8ee0" opacity="0.35"/>
<ellipse rx="3.80" ry="5.00" fill="#6a70d0" opacity="0.75"/>
<ellipse rx="2.74" ry="3.60" fill="#3f8fb8"/>
<ellipse rx="1.90" ry="2.50" fill="#4caf50"/>
<ellipse rx="1.14" ry="1.50" fill="#d8cf28"/>
</g>
<path d="M181.0 94.1h.6v.6h-.6zM175.3 103.4h.6v.6h-.6zM186.5 90.1h.6v.6h-.6zM186.7 97.3h.6v.6h-.6zM191.5 97.0h.6v.6h-.6zM193.6 88.2h.6v.6h-.6zM191.4 85.6h.6v.6h-.6zM186.9 96.5h.6v.6h-.6zM176.3 106.2h.6v.6h-.6zM169.2 97.2h.6v.6h-.6zM195.5 85.4h.6v.6h-.6zM190.4 96.6h.6v.6h-.6zM184.4 99.0h.6v.6h-.6zM186.3 95.6h.6v.6h-.6zM179.7 102.9h.6v.6h-.6zM195.8 100.9h.6v.6h-.6zM181.5 86.5h.6v.6h-.6zM189.1 87.1h.6v.6h-.6zM181.1 92.1h.6v.6h-.6zM189.8 88.3h.6v.6h-.6zM179.8 96.7h.6v.6h-.6zM189.7 86.0h.6v.6h-.6zM191.0 87.9h.6v.6h-.6zM178.8 90.7h.6v.6h-.6zM177.9 97.4h.6v.6h-.6zM184.3 104.2h.6v.6h-.6zM193.0 94.4h.6v.6h-.6zM189.9 93.9h.6v.6h-.6zM188.1 93.5h.6v.6h-.6zM188.4 87.8h.6v.6h-.6zM192.1 90.5h.6v.6h-.6zM186.2 89.5h.6v.6h-.6zM180.2 99.3h.6v.6h-.6zM187.6 100.9h.6v.6h-.6zM194.6 83.4h.6v.6h-.6zM187.0 104.8h.6v.6h-.6zM184.0 93.8h.6v.6h-.6zM170.9 98.2h.6v.6h-.6zM177.6 98.8h.6v.6h-.6zM175.2 107.8h.6v.6h-.6zM183.6 91.8h.6v.6h-.6zM185.0 99.0h.6v.6h-.6zM177.1 104.1h.6v.6h-.6zM185.4 95.3h.6v.6h-.6zM170.9 102.6h.6v.6h-.6zM187.9 86.7h.6v.6h-.6zM195.9 97.0h.6v.6h-.6zM188.6 87.8h.6v.6h-.6zM181.5 99.4h.6v.6h-.6zM176.7 86.3h.6v.6h-.6zM193.2 93.8h.6v.6h-.6zM185.6 103.0h.6v.6h-.6zM196.4 93.7h.6v.6h-.6zM174.9 101.5h.6v.6h-.6zM188.3 88.3h.6v.6h-.6zM180.1 108.7h.6v.6h-.6zM189.6 92.5h.6v.6h-.6zM168.8 105.6h.6v.6h-.6zM166.8 106.2h.6v.6h-.6zM183.1 94.5h.6v.6h-.6zM173.4 94.3h.6v.6h-.6zM179.3 102.4h.6v.6h-.6zM190.4 95.7h.6v.6h-.6zM180.5 101.2h.6v.6h-.6zM184.8 95.1h.6v.6h-.6zM180.6 87.4h.6v.6h-.6zM191.3 94.8h.6v.6h-.6zM182.6 95.7h.6v.6h-.6zM168.8 97.6h.6v.6h-.6zM195.8 94.8h.6v.6h-.6zM180.9 87.1h.6v.6h-.6zM180.6 88.0h.6v.6h-.6zM191.6 101.7h.6v.6h-.6zM190.7 89.5h.6v.6h-.6zM192.1 90.7h.6v.6h-.6zM188.3 83.2h.6v.6h-.6zM160.2 95.2h.6v.6h-.6zM184.7 103.8h.6v.6h-.6zM190.6 94.7h.6v.6h-.6zM196.0 92.2h.6v.6h-.6zM181.1 93.6h.6v.6h-.6zM193.6 92.1h.6v.6h-.6zM194.7 89.8h.6v.6h-.6zM187.3 99.6h.6v.6h-.6zM195.8 93.4h.6v.6h-.6zM168.5 112.2h.6v.6h-.6zM167.1 108.3h.6v.6h-.6zM182.9 96.7h.6v.6h-.6zM183.3 93.7h.6v.6h-.6zM191.2 92.2h.6v.6h-.6zM174.0 86.6h.6v.6h-.6zM183.0 99.2h.6v.6h-.6zM182.1 99.1h.6v.6h-.6zM182.4 90.4h.6v.6h-.6zM187.4 92.4h.6v.6h-.6zM183.9 102.2h.6v.6h-.6zM195.2 84.2h.6v.6h-.6zM182.5 98.4h.6v.6h-.6zM174.3 98.9h.6v.6h-.6zM179.3 83.3h.6v.6h-.6zM196.1 91.4h.6v.6h-.6zM174.5 96.8h.6v.6h-.6zM182.6 108.8h.6v.6h-.6zM178.7 96.9h.6v.6h-.6zM191.7 92.6h.6v.6h-.6zM178.3 100.1h.6v.6h-.6zM180.5 107.7h.6v.6h-.6zM184.8 100.8h.6v.6h-.6zM180.7 98.3h.6v.6h-.6zM181.6 102.4h.6v.6h-.6zM187.9 87.7h.6v.6h-.6zM184.4 99.4h.6v.6h-.6zM180.2 108.3h.6v.6h-.6zM180.8 96.2h.6v.6h-.6zM184.8 104.7h.6v.6h-.6zM194.7 88.2h.6v.6h-.6zM194.2 91.6h.6v.6h-.6zM196.0 88.5h.6v.6h-.6zM182.3 86.4h.6v.6h-.6zM166.7 102.8h.6v.6h-.6zM183.8 97.0h.6v.6h-.6zM182.5 83.9h.6v.6h-.6zM186.3 95.4h.6v.6h-.6zM163.2 99.9h.6v.6h-.6zM191.8 90.2h.6v.6h-.6zM190.3 91.7h.6v.6h-.6zM181.1 88.6h.6v.6h-.6zM193.8 90.7h.6v.6h-.6zM170.3 90.2h.6v.6h-.6zM178.4 112.4h.6v.6h-.6zM181.3 99.5h.6v.6h-.6zM190.5 95.1h.6v.6h-.6zM185.2 90.6h.6v.6h-.6zM192.3 92.6h.6v.6h-.6zM183.5 103.7h.6v.6h-.6zM186.8 91.7h.6v.6h-.6zM175.3 105.3h.6v.6h-.6zM178.1 96.2h.6v.6h-.6zM186.2 98.9h.6v.6h-.6zM193.5 91.5h.6v.6h-.6zM181.1 103.6h.6v.6h-.6z" fill="#5658c8" fill-opacity="0.45"/>
<g transform="translate(188.50 92.00) rotate(-35)" filter="url(#bl2)">
<ellipse rx="10.15" ry="4.64" fill="#8a8ee0" opacity="0.35"/>
<ellipse rx="7.00" ry="3.20" fill="#6a70d0" opacity="0.75"/>
<ellipse rx="5.04" ry="2.30" fill="#3f8fb8"/>
<ellipse rx="3.50" ry="1.60" fill="#4caf50"/>
<ellipse rx="2.10" ry="0.96" fill="#d8cf28"/>
</g>
</g>
<rect x="158.00" y="82.00" width="39.50" height="38.50" fill="none" stroke="#3c3c3c" stroke-width="0.95"/>
<line x1="181.50" y1="82.00" x2="181.50" y2="120.50" stroke="#8f8f8f" stroke-width="1.0"/>
<line x1="158.00" y1="94.40" x2="197.50" y2="94.40" stroke="#5a5a5a" stroke-width="0.9"/>
<line x1="156.00" y1="83.20" x2="158.00" y2="83.20" stroke="#333" stroke-width="0.7"/>
<text x="155.40" y="84.50" font-size="4" fill="#555" text-anchor="end">10<tspan font-size="2.4" dy="-1.3">7</tspan></text>
<line x1="156.00" y1="88.36" x2="158.00" y2="88.36" stroke="#333" stroke-width="0.7"/>
<text x="155.40" y="89.66" font-size="4" fill="#555" text-anchor="end">10<tspan font-size="2.4" dy="-1.3">6</tspan></text>
<line x1="156.00" y1="93.51" x2="158.00" y2="93.51" stroke="#333" stroke-width="0.7"/>
<text x="155.40" y="94.81" font-size="4" fill="#555" text-anchor="end">10<tspan font-size="2.4" dy="-1.3">5</tspan></text>
<line x1="156.00" y1="98.67" x2="158.00" y2="98.67" stroke="#333" stroke-width="0.7"/>
<text x="155.40" y="99.97" font-size="4" fill="#555" text-anchor="end">10<tspan font-size="2.4" dy="-1.3">4</tspan></text>
<line x1="156.00" y1="103.83" x2="158.00" y2="103.83" stroke="#333" stroke-width="0.7"/>
<text x="155.40" y="105.13" font-size="4" fill="#555" text-anchor="end">10<tspan font-size="2.4" dy="-1.3">3</tspan></text>
<line x1="156.00" y1="108.99" x2="158.00" y2="108.99" stroke="#333" stroke-width="0.7"/>
<text x="155.40" y="110.29" font-size="4" fill="#555" text-anchor="end">10<tspan font-size="2.4" dy="-1.3">2</tspan></text>
<line x1="156.00" y1="114.14" x2="158.00" y2="114.14" stroke="#333" stroke-width="0.7"/>
<text x="155.40" y="115.44" font-size="4" fill="#555" text-anchor="end">10<tspan font-size="2.4" dy="-1.3">1</tspan></text>
<line x1="156.00" y1="119.30" x2="158.00" y2="119.30" stroke="#333" stroke-width="0.7"/>
<text x="155.40" y="120.60" font-size="4" fill="#555" text-anchor="end">10<tspan font-size="2.4" dy="-1.3">0</tspan></text>
<line x1="158.60" y1="120.50" x2="158.60" y2="122.10" stroke="#333" stroke-width="0.5"/>
<line x1="160.02" y1="120.50" x2="160.02" y2="121.40" stroke="#333" stroke-width="0.5"/>
<line x1="161.44" y1="120.50" x2="161.44" y2="121.40" stroke="#333" stroke-width="0.5"/>
<line x1="162.86" y1="120.50" x2="162.86" y2="121.40" stroke="#333" stroke-width="0.5"/>
<line x1="164.27" y1="120.50" x2="164.27" y2="121.40" stroke="#333" stroke-width="0.5"/>
<line x1="165.69" y1="120.50" x2="165.69" y2="121.40" stroke="#333" stroke-width="0.5"/>
<line x1="167.11" y1="120.50" x2="167.11" y2="121.40" stroke="#333" stroke-width="0.5"/>
<line x1="168.53" y1="120.50" x2="168.53" y2="122.10" stroke="#333" stroke-width="0.5"/>
<line x1="169.95" y1="120.50" x2="169.95" y2="121.40" stroke="#333" stroke-width="0.5"/>
<line x1="171.37" y1="120.50" x2="171.37" y2="121.40" stroke="#333" stroke-width="0.5"/>
<line x1="172.79" y1="120.50" x2="172.79" y2="121.40" stroke="#333" stroke-width="0.5"/>
<line x1="174.20" y1="120.50" x2="174.20" y2="121.40" stroke="#333" stroke-width="0.5"/>
<line x1="175.62" y1="120.50" x2="175.62" y2="121.40" stroke="#333" stroke-width="0.5"/>
<line x1="177.04" y1="120.50" x2="177.04" y2="121.40" stroke="#333" stroke-width="0.5"/>
<line x1="178.46" y1="120.50" x2="178.46" y2="122.10" stroke="#333" stroke-width="0.5"/>
<line x1="179.88" y1="120.50" x2="179.88" y2="121.40" stroke="#333" stroke-width="0.5"/>
<line x1="181.30" y1="120.50" x2="181.30" y2="121.40" stroke="#333" stroke-width="0.5"/>
<line x1="182.71" y1="120.50" x2="182.71" y2="121.40" stroke="#333" stroke-width="0.5"/>
<line x1="184.13" y1="120.50" x2="184.13" y2="121.40" stroke="#333" stroke-width="0.5"/>
<line x1="185.55" y1="120.50" x2="185.55" y2="121.40" stroke="#333" stroke-width="0.5"/>
<line x1="186.97" y1="120.50" x2="186.97" y2="121.40" stroke="#333" stroke-width="0.5"/>
<line x1="188.39" y1="120.50" x2="188.39" y2="122.10" stroke="#333" stroke-width="0.5"/>
<line x1="189.81" y1="120.50" x2="189.81" y2="121.40" stroke="#333" stroke-width="0.5"/>
<line x1="191.23" y1="120.50" x2="191.23" y2="121.40" stroke="#333" stroke-width="0.5"/>
<line x1="192.64" y1="120.50" x2="192.64" y2="121.40" stroke="#333" stroke-width="0.5"/>
<line x1="194.06" y1="120.50" x2="194.06" y2="121.40" stroke="#333" stroke-width="0.5"/>
<line x1="195.48" y1="120.50" x2="195.48" y2="121.40" stroke="#333" stroke-width="0.5"/>
<line x1="196.90" y1="120.50" x2="196.90" y2="121.40" stroke="#333" stroke-width="0.5"/>
<line x1="158.70" y1="120.50" x2="158.70" y2="122.50" stroke="#333" stroke-width="0.7"/>
<text x="158.70" y="126.80" font-size="4" fill="#555" text-anchor="middle">10<tspan font-size="2.4" dy="-1.3">2</tspan></text>
<line x1="169.10" y1="120.50" x2="169.10" y2="122.50" stroke="#333" stroke-width="0.7"/>
<text x="169.10" y="126.80" font-size="4" fill="#555" text-anchor="middle">10<tspan font-size="2.4" dy="-1.3">3</tspan></text>
<line x1="179.50" y1="120.50" x2="179.50" y2="122.50" stroke="#333" stroke-width="0.7"/>
<text x="179.50" y="126.80" font-size="4" fill="#555" text-anchor="middle">10<tspan font-size="2.4" dy="-1.3">4</tspan></text>
<line x1="189.90" y1="120.50" x2="189.90" y2="122.50" stroke="#333" stroke-width="0.7"/>
<text x="189.90" y="126.80" font-size="4" fill="#555" text-anchor="middle">10<tspan font-size="2.4" dy="-1.3">5</tspan></text>
<text x="160.00" y="86.00" font-size="2.6" fill="#777">1.00</text>
<text x="195.50" y="86.00" font-size="2.6" fill="#777" text-anchor="end">8.78</text>
<text x="160.00" y="118.50" font-size="2.6" fill="#777">88.1</text>
<text x="195.50" y="118.50" font-size="2.6" fill="#777" text-anchor="end">2.14</text>
<g>
<path d="M71.5 149.6h.6v.6h-.6zM89.4 150.7h.6v.6h-.6zM57.1 162.7h.6v.6h-.6zM62.2 154.9h.6v.6h-.6zM64.5 159.7h.6v.6h-.6zM84.6 146.9h.6v.6h-.6zM72.6 146.2h.6v.6h-.6zM86.4 150.8h.6v.6h-.6zM64.3 164.5h.6v.6h-.6zM70.5 162.0h.6v.6h-.6zM83.6 159.9h.6v.6h-.6zM61.4 158.2h.6v.6h-.6zM73.8 153.7h.6v.6h-.6zM85.6 148.0h.6v.6h-.6zM82.5 158.8h.6v.6h-.6zM59.6 155.8h.6v.6h-.6zM74.0 153.7h.6v.6h-.6zM70.3 153.3h.6v.6h-.6zM69.7 158.0h.6v.6h-.6zM77.1 149.9h.6v.6h-.6zM67.9 152.5h.6v.6h-.6zM66.3 149.7h.6v.6h-.6zM81.1 155.8h.6v.6h-.6zM67.9 152.9h.6v.6h-.6zM64.3 153.9h.6v.6h-.6zM55.3 167.4h.6v.6h-.6zM58.1 161.6h.6v.6h-.6zM74.7 146.8h.6v.6h-.6zM64.7 157.4h.6v.6h-.6zM69.3 153.1h.6v.6h-.6zM68.1 154.7h.6v.6h-.6zM83.4 151.6h.6v.6h-.6zM69.0 153.3h.6v.6h-.6zM62.3 154.1h.6v.6h-.6zM72.3 163.8h.6v.6h-.6zM82.3 153.4h.6v.6h-.6zM89.3 155.3h.6v.6h-.6zM72.0 154.3h.6v.6h-.6zM58.4 159.9h.6v.6h-.6zM64.7 149.4h.6v.6h-.6zM58.4 168.0h.6v.6h-.6zM72.9 157.2h.6v.6h-.6zM71.6 152.9h.6v.6h-.6zM76.3 159.1h.6v.6h-.6zM67.3 158.8h.6v.6h-.6zM80.5 150.5h.6v.6h-.6zM70.9 151.8h.6v.6h-.6zM76.1 152.2h.6v.6h-.6zM81.5 148.9h.6v.6h-.6zM87.9 149.3h.6v.6h-.6zM59.8 154.0h.6v.6h-.6zM76.1 149.8h.6v.6h-.6zM91.1 156.1h.6v.6h-.6zM73.9 147.7h.6v.6h-.6zM68.9 152.4h.6v.6h-.6zM80.3 159.0h.6v.6h-.6zM59.2 156.9h.6v.6h-.6zM73.5 156.9h.6v.6h-.6zM57.9 159.9h.6v.6h-.6zM70.0 160.2h.6v.6h-.6zM64.2 155.6h.6v.6h-.6zM77.1 150.7h.6v.6h-.6zM80.3 157.7h.6v.6h-.6zM80.2 151.9h.6v.6h-.6zM60.7 156.9h.6v.6h-.6zM77.3 154.2h.6v.6h-.6zM77.0 156.5h.6v.6h-.6zM59.3 154.0h.6v.6h-.6zM85.0 149.2h.6v.6h-.6zM55.1 168.5h.6v.6h-.6zM59.9 153.8h.6v.6h-.6zM79.1 147.7h.6v.6h-.6zM61.8 162.8h.6v.6h-.6zM64.1 169.2h.6v.6h-.6zM74.3 167.3h.6v.6h-.6zM71.5 155.5h.6v.6h-.6zM62.8 156.5h.6v.6h-.6zM64.6 156.9h.6v.6h-.6zM76.8 147.7h.6v.6h-.6zM57.6 148.9h.6v.6h-.6zM86.2 150.9h.6v.6h-.6zM69.8 155.4h.6v.6h-.6zM81.3 154.1h.6v.6h-.6zM79.0 152.4h.6v.6h-.6zM68.6 155.7h.6v.6h-.6zM77.3 153.9h.6v.6h-.6zM80.8 160.9h.6v.6h-.6zM91.8 156.4h.6v.6h-.6zM70.0 165.4h.6v.6h-.6zM60.4 157.8h.6v.6h-.6zM80.5 151.8h.6v.6h-.6zM68.3 154.4h.6v.6h-.6zM81.8 140.6h.6v.6h-.6zM85.0 156.7h.6v.6h-.6zM69.9 158.3h.6v.6h-.6zM60.9 163.4h.6v.6h-.6zM85.0 151.3h.6v.6h-.6zM65.8 154.4h.6v.6h-.6zM66.4 150.5h.6v.6h-.6zM57.3 167.0h.6v.6h-.6zM70.5 158.1h.6v.6h-.6zM73.9 156.8h.6v.6h-.6zM78.0 158.2h.6v.6h-.6zM56.9 156.3h.6v.6h-.6zM59.2 161.6h.6v.6h-.6zM73.8 154.7h.6v.6h-.6zM63.4 159.0h.6v.6h-.6zM69.5 152.2h.6v.6h-.6zM72.8 151.7h.6v.6h-.6zM81.1 155.6h.6v.6h-.6zM63.3 160.2h.6v.6h-.6zM69.9 152.2h.6v.6h-.6zM58.1 150.8h.6v.6h-.6zM58.2 160.4h.6v.6h-.6zM82.3 149.3h.6v.6h-.6zM72.1 156.7h.6v.6h-.6zM79.0 155.3h.6v.6h-.6zM84.2 155.5h.6v.6h-.6zM62.2 159.6h.6v.6h-.6zM70.9 158.1h.6v.6h-.6zM67.7 160.2h.6v.6h-.6zM83.3 148.0h.6v.6h-.6zM64.4 158.3h.6v.6h-.6zM75.5 154.8h.6v.6h-.6zM77.6 147.9h.6v.6h-.6zM79.8 158.6h.6v.6h-.6zM82.5 154.3h.6v.6h-.6zM67.9 158.1h.6v.6h-.6zM67.3 148.7h.6v.6h-.6zM63.4 157.2h.6v.6h-.6zM63.3 152.9h.6v.6h-.6zM67.0 154.6h.6v.6h-.6zM70.7 155.2h.6v.6h-.6zM73.1 159.6h.6v.6h-.6zM72.0 157.0h.6v.6h-.6zM66.5 159.8h.6v.6h-.6zM65.6 153.8h.6v.6h-.6zM57.7 163.2h.6v.6h-.6zM64.6 158.2h.6v.6h-.6zM82.9 154.7h.6v.6h-.6zM81.2 155.9h.6v.6h-.6zM63.0 157.7h.6v.6h-.6zM62.7 152.6h.6v.6h-.6zM72.3 151.3h.6v.6h-.6zM87.3 147.4h.6v.6h-.6zM64.2 157.6h.6v.6h-.6zM64.5 157.3h.6v.6h-.6zM61.7 151.0h.6v.6h-.6zM87.0 153.2h.6v.6h-.6zM71.1 153.1h.6v.6h-.6zM68.8 157.4h.6v.6h-.6zM61.9 163.8h.6v.6h-.6zM60.0 163.9h.6v.6h-.6zM68.2 169.2h.6v.6h-.6zM69.2 156.0h.6v.6h-.6zM85.7 155.6h.6v.6h-.6zM78.9 148.1h.6v.6h-.6zM84.3 159.8h.6v.6h-.6zM68.3 153.7h.6v.6h-.6z" fill="#5658c8" fill-opacity="0.45"/>
<g transform="translate(70.00 155.60) rotate(-15)" filter="url(#bl2)">
<ellipse rx="10.15" ry="4.21" fill="#8a8ee0" opacity="0.35"/>
<ellipse rx="7.00" ry="2.90" fill="#6a70d0" opacity="0.75"/>
<ellipse rx="5.04" ry="2.09" fill="#3f8fb8"/>
<ellipse rx="3.50" ry="1.45" fill="#4caf50"/>
<ellipse rx="2.10" ry="0.87" fill="#d8cf28"/>
</g>
<path d="M78.4 151.5h.6v.6h-.6zM80.8 146.2h.6v.6h-.6zM78.8 152.8h.6v.6h-.6zM82.4 144.5h.6v.6h-.6zM82.8 141.5h.6v.6h-.6zM81.1 143.1h.6v.6h-.6zM83.6 142.6h.6v.6h-.6zM82.9 143.0h.6v.6h-.6zM82.7 147.5h.6v.6h-.6zM77.6 149.7h.6v.6h-.6zM78.8 150.6h.6v.6h-.6zM77.8 148.2h.6v.6h-.6zM81.1 149.2h.6v.6h-.6zM77.0 149.9h.6v.6h-.6zM78.3 147.2h.6v.6h-.6zM77.5 149.0h.6v.6h-.6zM78.4 144.3h.6v.6h-.6zM79.0 144.7h.6v.6h-.6zM83.3 150.2h.6v.6h-.6zM77.2 149.6h.6v.6h-.6zM80.7 149.1h.6v.6h-.6zM76.1 145.8h.6v.6h-.6zM75.7 151.8h.6v.6h-.6zM82.2 147.8h.6v.6h-.6zM79.4 149.5h.6v.6h-.6zM78.8 151.8h.6v.6h-.6zM78.8 146.2h.6v.6h-.6zM83.0 149.0h.6v.6h-.6zM75.9 147.6h.6v.6h-.6zM75.5 148.2h.6v.6h-.6zM80.4 147.6h.6v.6h-.6zM79.8 147.7h.6v.6h-.6zM82.9 143.2h.6v.6h-.6zM73.2 147.3h.6v.6h-.6zM79.7 145.4h.6v.6h-.6zM79.9 148.3h.6v.6h-.6zM79.1 143.5h.6v.6h-.6zM77.4 149.8h.6v.6h-.6zM81.2 149.0h.6v.6h-.6zM75.7 145.5h.6v.6h-.6zM81.0 141.4h.6v.6h-.6zM77.8 150.3h.6v.6h-.6zM80.5 153.5h.6v.6h-.6zM81.4 147.1h.6v.6h-.6zM81.9 151.4h.6v.6h-.6zM80.5 144.5h.6v.6h-.6zM81.2 141.1h.6v.6h-.6zM78.7 149.1h.6v.6h-.6zM79.0 145.3h.6v.6h-.6zM86.6 144.6h.6v.6h-.6zM77.9 150.2h.6v.6h-.6zM77.6 148.2h.6v.6h-.6zM83.0 144.4h.6v.6h-.6zM79.8 147.5h.6v.6h-.6zM78.4 152.0h.6v.6h-.6zM79.7 151.0h.6v.6h-.6zM78.1 147.7h.6v.6h-.6zM84.5 143.1h.6v.6h-.6zM77.4 148.1h.6v.6h-.6zM84.4 147.9h.6v.6h-.6zM81.2 144.7h.6v.6h-.6zM75.9 149.2h.6v.6h-.6zM80.0 147.7h.6v.6h-.6zM80.0 150.7h.6v.6h-.6zM76.3 148.7h.6v.6h-.6zM82.1 146.3h.6v.6h-.6zM80.3 149.5h.6v.6h-.6z" fill="#5658c8" fill-opacity="0.45"/>
</g>
<rect x="53.50" y="134.50" width="39.50" height="38.50" fill="none" stroke="#3c3c3c" stroke-width="0.95"/>
<line x1="77.00" y1="134.50" x2="77.00" y2="173.00" stroke="#8f8f8f" stroke-width="1.0"/>
<line x1="53.50" y1="152.10" x2="93.00" y2="152.10" stroke="#8a8a8a" stroke-width="0.9"/>
<line x1="51.50" y1="135.70" x2="53.50" y2="135.70" stroke="#333" stroke-width="0.7"/>
<text x="50.90" y="137.00" font-size="4" fill="#555" text-anchor="end">10<tspan font-size="2.4" dy="-1.3">7</tspan></text>
<line x1="51.50" y1="140.86" x2="53.50" y2="140.86" stroke="#333" stroke-width="0.7"/>
<text x="50.90" y="142.16" font-size="4" fill="#555" text-anchor="end">10<tspan font-size="2.4" dy="-1.3">6</tspan></text>
<line x1="51.50" y1="146.01" x2="53.50" y2="146.01" stroke="#333" stroke-width="0.7"/>
<text x="50.90" y="147.31" font-size="4" fill="#555" text-anchor="end">10<tspan font-size="2.4" dy="-1.3">5</tspan></text>
<line x1="51.50" y1="151.17" x2="53.50" y2="151.17" stroke="#333" stroke-width="0.7"/>
<text x="50.90" y="152.47" font-size="4" fill="#555" text-anchor="end">10<tspan font-size="2.4" dy="-1.3">4</tspan></text>
<line x1="51.50" y1="156.33" x2="53.50" y2="156.33" stroke="#333" stroke-width="0.7"/>
<text x="50.90" y="157.63" font-size="4" fill="#555" text-anchor="end">10<tspan font-size="2.4" dy="-1.3">3</tspan></text>
<line x1="51.50" y1="161.49" x2="53.50" y2="161.49" stroke="#333" stroke-width="0.7"/>
<text x="50.90" y="162.79" font-size="4" fill="#555" text-anchor="end">10<tspan font-size="2.4" dy="-1.3">2</tspan></text>
<line x1="51.50" y1="166.64" x2="53.50" y2="166.64" stroke="#333" stroke-width="0.7"/>
<text x="50.90" y="167.94" font-size="4" fill="#555" text-anchor="end">10<tspan font-size="2.4" dy="-1.3">1</tspan></text>
<line x1="51.50" y1="171.80" x2="53.50" y2="171.80" stroke="#333" stroke-width="0.7"/>
<text x="50.90" y="173.10" font-size="4" fill="#555" text-anchor="end">10<tspan font-size="2.4" dy="-1.3">0</tspan></text>
<line x1="54.10" y1="173.00" x2="54.10" y2="174.60" stroke="#333" stroke-width="0.5"/>
<line x1="55.52" y1="173.00" x2="55.52" y2="173.90" stroke="#333" stroke-width="0.5"/>
<line x1="56.94" y1="173.00" x2="56.94" y2="173.90" stroke="#333" stroke-width="0.5"/>
<line x1="58.36" y1="173.00" x2="58.36" y2="173.90" stroke="#333" stroke-width="0.5"/>
<line x1="59.77" y1="173.00" x2="59.77" y2="173.90" stroke="#333" stroke-width="0.5"/>
<line x1="61.19" y1="173.00" x2="61.19" y2="173.90" stroke="#333" stroke-width="0.5"/>
<line x1="62.61" y1="173.00" x2="62.61" y2="173.90" stroke="#333" stroke-width="0.5"/>
<line x1="64.03" y1="173.00" x2="64.03" y2="174.60" stroke="#333" stroke-width="0.5"/>
<line x1="65.45" y1="173.00" x2="65.45" y2="173.90" stroke="#333" stroke-width="0.5"/>
<line x1="66.87" y1="173.00" x2="66.87" y2="173.90" stroke="#333" stroke-width="0.5"/>
<line x1="68.29" y1="173.00" x2="68.29" y2="173.90" stroke="#333" stroke-width="0.5"/>
<line x1="69.70" y1="173.00" x2="69.70" y2="173.90" stroke="#333" stroke-width="0.5"/>
<line x1="71.12" y1="173.00" x2="71.12" y2="173.90" stroke="#333" stroke-width="0.5"/>
<line x1="72.54" y1="173.00" x2="72.54" y2="173.90" stroke="#333" stroke-width="0.5"/>
<line x1="73.96" y1="173.00" x2="73.96" y2="174.60" stroke="#333" stroke-width="0.5"/>
<line x1="75.38" y1="173.00" x2="75.38" y2="173.90" stroke="#333" stroke-width="0.5"/>
<line x1="76.80" y1="173.00" x2="76.80" y2="173.90" stroke="#333" stroke-width="0.5"/>
<line x1="78.21" y1="173.00" x2="78.21" y2="173.90" stroke="#333" stroke-width="0.5"/>
<line x1="79.63" y1="173.00" x2="79.63" y2="173.90" stroke="#333" stroke-width="0.5"/>
<line x1="81.05" y1="173.00" x2="81.05" y2="173.90" stroke="#333" stroke-width="0.5"/>
<line x1="82.47" y1="173.00" x2="82.47" y2="173.90" stroke="#333" stroke-width="0.5"/>
<line x1="83.89" y1="173.00" x2="83.89" y2="174.60" stroke="#333" stroke-width="0.5"/>
<line x1="85.31" y1="173.00" x2="85.31" y2="173.90" stroke="#333" stroke-width="0.5"/>
<line x1="86.73" y1="173.00" x2="86.73" y2="173.90" stroke="#333" stroke-width="0.5"/>
<line x1="88.14" y1="173.00" x2="88.14" y2="173.90" stroke="#333" stroke-width="0.5"/>
<line x1="89.56" y1="173.00" x2="89.56" y2="173.90" stroke="#333" stroke-width="0.5"/>
<line x1="90.98" y1="173.00" x2="90.98" y2="173.90" stroke="#333" stroke-width="0.5"/>
<line x1="92.40" y1="173.00" x2="92.40" y2="173.90" stroke="#333" stroke-width="0.5"/>
<line x1="54.20" y1="173.00" x2="54.20" y2="175.00" stroke="#333" stroke-width="0.7"/>
<text x="54.20" y="179.30" font-size="4" fill="#555" text-anchor="middle">10<tspan font-size="2.4" dy="-1.3">2</tspan></text>
<line x1="64.60" y1="173.00" x2="64.60" y2="175.00" stroke="#333" stroke-width="0.7"/>
<text x="64.60" y="179.30" font-size="4" fill="#555" text-anchor="middle">10<tspan font-size="2.4" dy="-1.3">3</tspan></text>
<line x1="75.00" y1="173.00" x2="75.00" y2="175.00" stroke="#333" stroke-width="0.7"/>
<text x="75.00" y="179.30" font-size="4" fill="#555" text-anchor="middle">10<tspan font-size="2.4" dy="-1.3">4</tspan></text>
<line x1="85.40" y1="173.00" x2="85.40" y2="175.00" stroke="#333" stroke-width="0.7"/>
<text x="85.40" y="179.30" font-size="4" fill="#555" text-anchor="middle">10<tspan font-size="2.4" dy="-1.3">5</tspan></text>
<text x="55.50" y="138.50" font-size="2.6" fill="#777">1.00</text>
<text x="91.00" y="138.50" font-size="2.6" fill="#777" text-anchor="end">8.78</text>
<text x="55.50" y="171.00" font-size="2.6" fill="#777">88.1</text>
<text x="91.00" y="171.00" font-size="2.6" fill="#777" text-anchor="end">2.14</text>
<g>
<path d="M123.8 163.2h.6v.6h-.6zM122.3 160.6h.6v.6h-.6zM118.3 156.4h.6v.6h-.6zM123.8 145.9h.6v.6h-.6zM119.9 163.0h.6v.6h-.6zM130.6 153.7h.6v.6h-.6zM123.9 160.4h.6v.6h-.6zM121.6 145.8h.6v.6h-.6zM109.6 156.5h.6v.6h-.6zM121.2 152.6h.6v.6h-.6zM121.0 162.5h.6v.6h-.6zM131.0 154.9h.6v.6h-.6zM120.4 155.2h.6v.6h-.6zM124.4 155.0h.6v.6h-.6zM113.3 160.5h.6v.6h-.6zM111.2 157.2h.6v.6h-.6zM115.0 151.1h.6v.6h-.6zM126.7 152.9h.6v.6h-.6zM107.5 158.0h.6v.6h-.6zM128.1 162.1h.6v.6h-.6zM114.9 159.7h.6v.6h-.6zM108.8 154.1h.6v.6h-.6zM119.7 157.0h.6v.6h-.6zM129.9 151.2h.6v.6h-.6zM133.2 156.0h.6v.6h-.6zM110.5 156.8h.6v.6h-.6zM112.3 165.0h.6v.6h-.6zM115.3 160.4h.6v.6h-.6zM129.8 151.3h.6v.6h-.6zM115.3 157.9h.6v.6h-.6zM110.4 151.8h.6v.6h-.6zM110.2 159.3h.6v.6h-.6zM124.3 162.0h.6v.6h-.6zM109.1 163.3h.6v.6h-.6zM127.8 153.5h.6v.6h-.6zM135.7 149.1h.6v.6h-.6zM113.3 152.0h.6v.6h-.6zM113.3 157.4h.6v.6h-.6zM128.9 158.6h.6v.6h-.6zM116.5 152.6h.6v.6h-.6zM116.1 154.1h.6v.6h-.6zM114.7 154.6h.6v.6h-.6zM110.8 157.3h.6v.6h-.6zM114.5 155.8h.6v.6h-.6zM127.1 156.1h.6v.6h-.6zM113.0 151.7h.6v.6h-.6zM112.9 155.5h.6v.6h-.6zM113.4 160.6h.6v.6h-.6zM139.5 148.2h.6v.6h-.6zM116.8 154.1h.6v.6h-.6zM117.9 154.8h.6v.6h-.6zM118.1 151.9h.6v.6h-.6zM123.4 151.7h.6v.6h-.6zM125.1 148.7h.6v.6h-.6zM143.1 149.8h.6v.6h-.6zM113.8 151.4h.6v.6h-.6zM124.3 151.5h.6v.6h-.6zM127.5 150.5h.6v.6h-.6zM130.0 153.0h.6v.6h-.6zM124.2 154.6h.6v.6h-.6zM115.9 154.5h.6v.6h-.6zM125.9 156.7h.6v.6h-.6zM118.4 165.7h.6v.6h-.6zM137.0 145.3h.6v.6h-.6zM131.7 151.6h.6v.6h-.6zM121.8 151.0h.6v.6h-.6zM136.9 146.7h.6v.6h-.6zM118.5 152.1h.6v.6h-.6zM142.3 154.8h.6v.6h-.6zM123.6 152.1h.6v.6h-.6zM115.2 151.4h.6v.6h-.6zM121.6 149.6h.6v.6h-.6zM131.8 162.8h.6v.6h-.6zM118.6 162.9h.6v.6h-.6zM123.4 151.1h.6v.6h-.6zM115.4 151.9h.6v.6h-.6zM122.2 157.7h.6v.6h-.6zM129.8 151.2h.6v.6h-.6zM107.4 158.1h.6v.6h-.6zM138.4 151.4h.6v.6h-.6zM117.2 146.3h.6v.6h-.6zM116.2 158.6h.6v.6h-.6zM111.6 163.5h.6v.6h-.6zM113.2 152.9h.6v.6h-.6zM113.9 156.3h.6v.6h-.6zM130.2 149.7h.6v.6h-.6zM127.5 160.1h.6v.6h-.6zM109.9 164.5h.6v.6h-.6zM127.9 155.0h.6v.6h-.6zM111.0 153.5h.6v.6h-.6zM111.1 161.7h.6v.6h-.6zM123.8 158.9h.6v.6h-.6zM139.6 149.9h.6v.6h-.6zM121.9 163.3h.6v.6h-.6zM115.8 154.5h.6v.6h-.6zM120.8 151.0h.6v.6h-.6zM131.0 145.9h.6v.6h-.6zM109.6 150.2h.6v.6h-.6zM126.7 152.4h.6v.6h-.6zM129.9 155.2h.6v.6h-.6zM114.0 156.5h.6v.6h-.6zM126.4 162.5h.6v.6h-.6zM115.9 157.8h.6v.6h-.6zM127.4 158.6h.6v.6h-.6zM125.9 158.4h.6v.6h-.6zM108.6 156.9h.6v.6h-.6zM121.5 155.9h.6v.6h-.6zM120.2 149.0h.6v.6h-.6zM112.6 156.3h.6v.6h-.6zM121.0 150.9h.6v.6h-.6zM118.2 152.2h.6v.6h-.6zM112.6 160.9h.6v.6h-.6zM135.1 153.7h.6v.6h-.6zM117.3 153.3h.6v.6h-.6zM138.2 155.4h.6v.6h-.6zM122.3 153.3h.6v.6h-.6zM120.7 156.8h.6v.6h-.6zM120.6 156.9h.6v.6h-.6zM112.1 157.4h.6v.6h-.6zM117.7 160.6h.6v.6h-.6zM108.5 164.0h.6v.6h-.6zM118.7 153.1h.6v.6h-.6zM120.6 155.5h.6v.6h-.6zM118.2 157.5h.6v.6h-.6zM112.2 149.5h.6v.6h-.6zM127.6 152.9h.6v.6h-.6zM138.4 151.9h.6v.6h-.6zM113.5 159.3h.6v.6h-.6zM108.5 157.8h.6v.6h-.6zM125.0 149.1h.6v.6h-.6zM126.1 157.7h.6v.6h-.6zM128.0 149.9h.6v.6h-.6zM111.6 152.3h.6v.6h-.6zM122.1 160.4h.6v.6h-.6zM122.8 152.9h.6v.6h-.6zM121.9 154.4h.6v.6h-.6zM108.3 153.5h.6v.6h-.6zM125.8 149.1h.6v.6h-.6zM127.1 156.0h.6v.6h-.6zM114.3 149.3h.6v.6h-.6zM126.2 159.8h.6v.6h-.6zM110.0 152.1h.6v.6h-.6zM131.9 152.5h.6v.6h-.6zM115.0 162.0h.6v.6h-.6zM117.8 157.7h.6v.6h-.6zM115.1 153.0h.6v.6h-.6zM121.6 150.8h.6v.6h-.6zM134.6 156.1h.6v.6h-.6zM144.4 153.0h.6v.6h-.6zM137.6 151.5h.6v.6h-.6zM116.1 158.2h.6v.6h-.6zM111.0 160.8h.6v.6h-.6zM115.7 157.4h.6v.6h-.6z" fill="#5658c8" fill-opacity="0.45"/>
<g transform="translate(120.20 155.00) rotate(-15)" filter="url(#bl2)">
<ellipse rx="10.15" ry="4.06" fill="#8a8ee0" opacity="0.35"/>
<ellipse rx="7.00" ry="2.80" fill="#6a70d0" opacity="0.75"/>
<ellipse rx="5.04" ry="2.02" fill="#3f8fb8"/>
<ellipse rx="3.50" ry="1.40" fill="#4caf50"/>
<ellipse rx="2.10" ry="0.84" fill="#d8cf28"/>
</g>
<path d="M128.6 147.3h.6v.6h-.6zM132.9 142.7h.6v.6h-.6zM129.6 147.4h.6v.6h-.6zM132.7 143.0h.6v.6h-.6zM125.8 146.1h.6v.6h-.6zM129.0 150.1h.6v.6h-.6zM131.3 146.3h.6v.6h-.6zM133.8 143.2h.6v.6h-.6zM131.3 143.6h.6v.6h-.6zM127.8 150.2h.6v.6h-.6zM131.4 146.4h.6v.6h-.6zM128.0 147.8h.6v.6h-.6zM134.6 139.4h.6v.6h-.6zM132.8 147.0h.6v.6h-.6zM130.4 146.1h.6v.6h-.6zM126.7 151.6h.6v.6h-.6zM131.5 148.2h.6v.6h-.6zM130.1 145.1h.6v.6h-.6zM131.5 144.0h.6v.6h-.6zM131.7 148.8h.6v.6h-.6zM133.3 143.2h.6v.6h-.6zM133.9 144.6h.6v.6h-.6zM132.3 144.1h.6v.6h-.6zM131.6 145.8h.6v.6h-.6zM132.7 144.5h.6v.6h-.6zM129.4 146.6h.6v.6h-.6zM130.6 143.0h.6v.6h-.6zM131.8 146.5h.6v.6h-.6zM130.8 144.6h.6v.6h-.6zM130.1 144.8h.6v.6h-.6zM132.7 142.5h.6v.6h-.6zM125.1 147.8h.6v.6h-.6zM131.8 145.0h.6v.6h-.6zM127.9 144.8h.6v.6h-.6zM129.3 144.6h.6v.6h-.6zM129.2 147.0h.6v.6h-.6zM129.4 147.7h.6v.6h-.6zM128.4 146.6h.6v.6h-.6zM132.3 148.0h.6v.6h-.6zM135.9 142.9h.6v.6h-.6zM129.0 147.2h.6v.6h-.6zM134.1 144.3h.6v.6h-.6zM126.8 149.3h.6v.6h-.6zM130.0 148.2h.6v.6h-.6zM131.6 143.1h.6v.6h-.6zM135.6 139.9h.6v.6h-.6zM136.5 139.3h.6v.6h-.6zM133.2 148.2h.6v.6h-.6zM128.9 146.1h.6v.6h-.6zM134.3 141.8h.6v.6h-.6zM130.3 142.6h.6v.6h-.6zM136.5 142.4h.6v.6h-.6zM132.6 145.5h.6v.6h-.6zM129.0 146.0h.6v.6h-.6zM127.5 149.7h.6v.6h-.6zM135.0 143.6h.6v.6h-.6zM134.0 144.2h.6v.6h-.6zM126.8 145.9h.6v.6h-.6zM132.6 144.1h.6v.6h-.6zM132.8 142.7h.6v.6h-.6zM129.3 148.2h.6v.6h-.6zM127.3 144.6h.6v.6h-.6zM128.2 145.7h.6v.6h-.6zM127.4 147.4h.6v.6h-.6zM136.3 146.3h.6v.6h-.6zM134.4 140.7h.6v.6h-.6zM133.5 142.6h.6v.6h-.6zM130.9 143.5h.6v.6h-.6zM128.4 143.3h.6v.6h-.6zM134.1 140.1h.6v.6h-.6zM131.5 143.2h.6v.6h-.6zM129.9 143.2h.6v.6h-.6zM131.1 147.6h.6v.6h-.6zM129.6 141.4h.6v.6h-.6z" fill="#5658c8" fill-opacity="0.45"/>
<g transform="translate(130.80 145.40) rotate(-45)" filter="url(#bl2)"><ellipse rx="3.50" ry="2.00" fill="#7a80d8" opacity="0.4"/><ellipse rx="2.10" ry="1.20" fill="#5a60c8" opacity="0.45"/></g>
</g>
<rect x="106.00" y="134.50" width="39.50" height="38.50" fill="none" stroke="#3c3c3c" stroke-width="0.95"/>
<line x1="129.50" y1="134.50" x2="129.50" y2="173.00" stroke="#8f8f8f" stroke-width="1.0"/>
<line x1="106.00" y1="152.10" x2="145.50" y2="152.10" stroke="#8a8a8a" stroke-width="0.9"/>
<line x1="104.00" y1="135.70" x2="106.00" y2="135.70" stroke="#333" stroke-width="0.7"/>
<text x="103.40" y="137.00" font-size="4" fill="#555" text-anchor="end">10<tspan font-size="2.4" dy="-1.3">7</tspan></text>
<line x1="104.00" y1="140.86" x2="106.00" y2="140.86" stroke="#333" stroke-width="0.7"/>
<text x="103.40" y="142.16" font-size="4" fill="#555" text-anchor="end">10<tspan font-size="2.4" dy="-1.3">6</tspan></text>
<line x1="104.00" y1="146.01" x2="106.00" y2="146.01" stroke="#333" stroke-width="0.7"/>
<text x="103.40" y="147.31" font-size="4" fill="#555" text-anchor="end">10<tspan font-size="2.4" dy="-1.3">5</tspan></text>
<line x1="104.00" y1="151.17" x2="106.00" y2="151.17" stroke="#333" stroke-width="0.7"/>
<text x="103.40" y="152.47" font-size="4" fill="#555" text-anchor="end">10<tspan font-size="2.4" dy="-1.3">4</tspan></text>
<line x1="104.00" y1="156.33" x2="106.00" y2="156.33" stroke="#333" stroke-width="0.7"/>
<text x="103.40" y="157.63" font-size="4" fill="#555" text-anchor="end">10<tspan font-size="2.4" dy="-1.3">3</tspan></text>
<line x1="104.00" y1="161.49" x2="106.00" y2="161.49" stroke="#333" stroke-width="0.7"/>
<text x="103.40" y="162.79" font-size="4" fill="#555" text-anchor="end">10<tspan font-size="2.4" dy="-1.3">2</tspan></text>
<line x1="104.00" y1="166.64" x2="106.00" y2="166.64" stroke="#333" stroke-width="0.7"/>
<text x="103.40" y="167.94" font-size="4" fill="#555" text-anchor="end">10<tspan font-size="2.4" dy="-1.3">1</tspan></text>
<line x1="104.00" y1="171.80" x2="106.00" y2="171.80" stroke="#333" stroke-width="0.7"/>
<text x="103.40" y="173.10" font-size="4" fill="#555" text-anchor="end">10<tspan font-size="2.4" dy="-1.3">0</tspan></text>
<line x1="106.60" y1="173.00" x2="106.60" y2="174.60" stroke="#333" stroke-width="0.5"/>
<line x1="108.02" y1="173.00" x2="108.02" y2="173.90" stroke="#333" stroke-width="0.5"/>
<line x1="109.44" y1="173.00" x2="109.44" y2="173.90" stroke="#333" stroke-width="0.5"/>
<line x1="110.86" y1="173.00" x2="110.86" y2="173.90" stroke="#333" stroke-width="0.5"/>
<line x1="112.27" y1="173.00" x2="112.27" y2="173.90" stroke="#333" stroke-width="0.5"/>
<line x1="113.69" y1="173.00" x2="113.69" y2="173.90" stroke="#333" stroke-width="0.5"/>
<line x1="115.11" y1="173.00" x2="115.11" y2="173.90" stroke="#333" stroke-width="0.5"/>
<line x1="116.53" y1="173.00" x2="116.53" y2="174.60" stroke="#333" stroke-width="0.5"/>
<line x1="117.95" y1="173.00" x2="117.95" y2="173.90" stroke="#333" stroke-width="0.5"/>
<line x1="119.37" y1="173.00" x2="119.37" y2="173.90" stroke="#333" stroke-width="0.5"/>
<line x1="120.79" y1="173.00" x2="120.79" y2="173.90" stroke="#333" stroke-width="0.5"/>
<line x1="122.20" y1="173.00" x2="122.20" y2="173.90" stroke="#333" stroke-width="0.5"/>
<line x1="123.62" y1="173.00" x2="123.62" y2="173.90" stroke="#333" stroke-width="0.5"/>
<line x1="125.04" y1="173.00" x2="125.04" y2="173.90" stroke="#333" stroke-width="0.5"/>
<line x1="126.46" y1="173.00" x2="126.46" y2="174.60" stroke="#333" stroke-width="0.5"/>
<line x1="127.88" y1="173.00" x2="127.88" y2="173.90" stroke="#333" stroke-width="0.5"/>
<line x1="129.30" y1="173.00" x2="129.30" y2="173.90" stroke="#333" stroke-width="0.5"/>
<line x1="130.71" y1="173.00" x2="130.71" y2="173.90" stroke="#333" stroke-width="0.5"/>
<line x1="132.13" y1="173.00" x2="132.13" y2="173.90" stroke="#333" stroke-width="0.5"/>
<line x1="133.55" y1="173.00" x2="133.55" y2="173.90" stroke="#333" stroke-width="0.5"/>
<line x1="134.97" y1="173.00" x2="134.97" y2="173.90" stroke="#333" stroke-width="0.5"/>
<line x1="136.39" y1="173.00" x2="136.39" y2="174.60" stroke="#333" stroke-width="0.5"/>
<line x1="137.81" y1="173.00" x2="137.81" y2="173.90" stroke="#333" stroke-width="0.5"/>
<line x1="139.23" y1="173.00" x2="139.23" y2="173.90" stroke="#333" stroke-width="0.5"/>
<line x1="140.64" y1="173.00" x2="140.64" y2="173.90" stroke="#333" stroke-width="0.5"/>
<line x1="142.06" y1="173.00" x2="142.06" y2="173.90" stroke="#333" stroke-width="0.5"/>
<line x1="143.48" y1="173.00" x2="143.48" y2="173.90" stroke="#333" stroke-width="0.5"/>
<line x1="144.90" y1="173.00" x2="144.90" y2="173.90" stroke="#333" stroke-width="0.5"/>
<line x1="106.70" y1="173.00" x2="106.70" y2="175.00" stroke="#333" stroke-width="0.7"/>
<text x="106.70" y="179.30" font-size="4" fill="#555" text-anchor="middle">10<tspan font-size="2.4" dy="-1.3">2</tspan></text>
<line x1="117.10" y1="173.00" x2="117.10" y2="175.00" stroke="#333" stroke-width="0.7"/>
<text x="117.10" y="179.30" font-size="4" fill="#555" text-anchor="middle">10<tspan font-size="2.4" dy="-1.3">3</tspan></text>
<line x1="127.50" y1="173.00" x2="127.50" y2="175.00" stroke="#333" stroke-width="0.7"/>
<text x="127.50" y="179.30" font-size="4" fill="#555" text-anchor="middle">10<tspan font-size="2.4" dy="-1.3">4</tspan></text>
<line x1="137.90" y1="173.00" x2="137.90" y2="175.00" stroke="#333" stroke-width="0.7"/>
<text x="137.90" y="179.30" font-size="4" fill="#555" text-anchor="middle">10<tspan font-size="2.4" dy="-1.3">5</tspan></text>
<text x="108.00" y="138.50" font-size="2.6" fill="#777">1.00</text>
<text x="143.50" y="138.50" font-size="2.6" fill="#777" text-anchor="end">8.78</text>
<text x="108.00" y="171.00" font-size="2.6" fill="#777">88.1</text>
<text x="143.50" y="171.00" font-size="2.6" fill="#777" text-anchor="end">2.14</text>
<g>
<path d="M180.3 146.4h.6v.6h-.6zM177.5 155.8h.6v.6h-.6zM167.4 155.6h.6v.6h-.6zM172.3 157.1h.6v.6h-.6zM184.8 156.9h.6v.6h-.6zM180.1 161.5h.6v.6h-.6zM167.6 165.1h.6v.6h-.6zM172.6 158.7h.6v.6h-.6zM172.9 155.4h.6v.6h-.6zM165.8 159.4h.6v.6h-.6zM193.6 148.2h.6v.6h-.6zM173.8 154.8h.6v.6h-.6zM180.5 151.4h.6v.6h-.6zM174.3 155.5h.6v.6h-.6zM187.9 153.9h.6v.6h-.6zM163.0 155.8h.6v.6h-.6zM175.5 158.0h.6v.6h-.6zM183.0 150.5h.6v.6h-.6zM194.1 146.6h.6v.6h-.6zM189.5 155.5h.6v.6h-.6zM189.6 149.9h.6v.6h-.6zM177.3 146.6h.6v.6h-.6zM182.5 156.4h.6v.6h-.6zM174.6 159.2h.6v.6h-.6zM181.8 158.8h.6v.6h-.6zM163.4 153.8h.6v.6h-.6zM188.4 145.2h.6v.6h-.6zM165.5 156.0h.6v.6h-.6zM181.8 149.7h.6v.6h-.6zM181.9 154.3h.6v.6h-.6zM164.5 147.4h.6v.6h-.6zM163.4 152.9h.6v.6h-.6zM188.6 146.1h.6v.6h-.6zM164.3 159.9h.6v.6h-.6zM173.2 150.7h.6v.6h-.6zM185.8 154.5h.6v.6h-.6zM175.6 150.7h.6v.6h-.6zM162.7 149.5h.6v.6h-.6zM178.3 154.9h.6v.6h-.6zM165.3 158.0h.6v.6h-.6zM169.2 154.2h.6v.6h-.6zM179.8 152.0h.6v.6h-.6zM184.3 153.3h.6v.6h-.6zM185.3 151.1h.6v.6h-.6zM159.2 164.8h.6v.6h-.6zM174.4 148.2h.6v.6h-.6zM175.9 157.9h.6v.6h-.6zM164.3 158.4h.6v.6h-.6zM165.5 153.2h.6v.6h-.6zM170.0 161.9h.6v.6h-.6zM180.6 152.1h.6v.6h-.6zM173.4 155.4h.6v.6h-.6zM177.0 154.4h.6v.6h-.6zM162.0 147.2h.6v.6h-.6zM179.0 147.4h.6v.6h-.6zM172.5 154.8h.6v.6h-.6zM169.1 158.9h.6v.6h-.6zM171.0 154.5h.6v.6h-.6zM164.5 156.9h.6v.6h-.6zM164.1 158.4h.6v.6h-.6zM188.2 154.1h.6v.6h-.6zM176.1 147.7h.6v.6h-.6zM185.2 154.8h.6v.6h-.6zM190.5 138.4h.6v.6h-.6zM173.7 153.3h.6v.6h-.6zM182.9 146.5h.6v.6h-.6zM173.7 165.3h.6v.6h-.6zM180.7 143.2h.6v.6h-.6zM176.2 160.0h.6v.6h-.6zM169.0 159.2h.6v.6h-.6zM172.8 148.4h.6v.6h-.6zM169.7 161.4h.6v.6h-.6zM184.5 148.1h.6v.6h-.6zM183.8 147.9h.6v.6h-.6zM176.4 153.7h.6v.6h-.6zM162.5 160.3h.6v.6h-.6zM166.3 145.0h.6v.6h-.6zM164.8 154.1h.6v.6h-.6zM164.6 153.6h.6v.6h-.6zM163.8 147.2h.6v.6h-.6zM182.7 151.8h.6v.6h-.6zM176.1 152.7h.6v.6h-.6zM174.2 153.4h.6v.6h-.6zM161.3 152.3h.6v.6h-.6zM176.2 158.5h.6v.6h-.6zM178.6 160.3h.6v.6h-.6zM160.5 158.3h.6v.6h-.6zM169.9 161.7h.6v.6h-.6zM189.5 146.6h.6v.6h-.6zM180.7 151.1h.6v.6h-.6zM164.2 157.7h.6v.6h-.6zM166.3 164.5h.6v.6h-.6zM181.4 157.3h.6v.6h-.6zM173.9 143.6h.6v.6h-.6zM181.9 152.2h.6v.6h-.6zM186.2 158.0h.6v.6h-.6zM165.3 161.4h.6v.6h-.6zM177.0 152.8h.6v.6h-.6zM172.1 157.7h.6v.6h-.6zM180.5 155.3h.6v.6h-.6zM168.2 150.7h.6v.6h-.6zM188.6 155.2h.6v.6h-.6zM168.5 156.5h.6v.6h-.6zM179.2 144.7h.6v.6h-.6zM182.4 162.6h.6v.6h-.6zM175.6 150.8h.6v.6h-.6zM193.7 147.5h.6v.6h-.6zM175.4 152.2h.6v.6h-.6zM173.1 146.8h.6v.6h-.6zM159.5 153.2h.6v.6h-.6zM182.5 151.1h.6v.6h-.6zM182.1 142.4h.6v.6h-.6zM170.4 162.6h.6v.6h-.6zM163.7 149.9h.6v.6h-.6zM166.3 155.8h.6v.6h-.6zM175.8 159.9h.6v.6h-.6zM189.1 156.2h.6v.6h-.6zM178.9 150.6h.6v.6h-.6zM167.1 150.4h.6v.6h-.6zM188.1 155.2h.6v.6h-.6zM173.6 150.7h.6v.6h-.6zM181.2 154.2h.6v.6h-.6zM173.8 149.4h.6v.6h-.6zM175.5 151.5h.6v.6h-.6zM182.0 154.4h.6v.6h-.6zM177.6 151.3h.6v.6h-.6zM189.8 152.4h.6v.6h-.6zM187.4 153.6h.6v.6h-.6zM180.9 153.9h.6v.6h-.6zM161.1 151.0h.6v.6h-.6zM165.9 160.4h.6v.6h-.6zM183.0 152.2h.6v.6h-.6zM177.6 161.7h.6v.6h-.6zM167.6 148.8h.6v.6h-.6zM181.8 155.1h.6v.6h-.6zM173.1 158.7h.6v.6h-.6zM172.5 151.9h.6v.6h-.6zM171.5 159.0h.6v.6h-.6zM181.5 146.7h.6v.6h-.6zM164.7 158.6h.6v.6h-.6zM192.7 142.5h.6v.6h-.6zM162.6 160.7h.6v.6h-.6zM178.0 150.4h.6v.6h-.6zM174.5 156.7h.6v.6h-.6zM181.1 156.2h.6v.6h-.6zM185.1 150.2h.6v.6h-.6zM162.2 165.1h.6v.6h-.6zM180.5 149.3h.6v.6h-.6zM185.5 155.2h.6v.6h-.6zM169.2 145.6h.6v.6h-.6zM168.4 153.2h.6v.6h-.6zM165.9 157.2h.6v.6h-.6zM164.2 159.9h.6v.6h-.6zM190.4 143.2h.6v.6h-.6zM183.2 148.8h.6v.6h-.6zM179.0 152.2h.6v.6h-.6zM185.2 147.3h.6v.6h-.6zM179.9 148.9h.6v.6h-.6zM176.2 153.7h.6v.6h-.6zM182.1 144.4h.6v.6h-.6zM163.1 164.9h.6v.6h-.6zM180.2 160.1h.6v.6h-.6zM164.5 159.0h.6v.6h-.6zM182.4 159.6h.6v.6h-.6zM172.8 153.0h.6v.6h-.6zM180.7 151.7h.6v.6h-.6zM168.0 160.3h.6v.6h-.6zM186.3 147.8h.6v.6h-.6zM171.5 157.2h.6v.6h-.6z" fill="#5658c8" fill-opacity="0.45"/>
<g transform="translate(174.00 154.60) rotate(-20)" filter="url(#bl2)">
<ellipse rx="9.42" ry="4.06" fill="#8a8ee0" opacity="0.35"/>
<ellipse rx="6.50" ry="2.80" fill="#6a70d0" opacity="0.75"/>
<ellipse rx="4.68" ry="2.02" fill="#3f8fb8"/>
<ellipse rx="3.25" ry="1.40" fill="#4caf50"/>
<ellipse rx="1.95" ry="0.84" fill="#d8cf28"/>
</g>
<path d="M189.2 141.7h.6v.6h-.6zM177.3 151.3h.6v.6h-.6zM186.9 140.7h.6v.6h-.6zM183.2 152.6h.6v.6h-.6zM194.4 145.2h.6v.6h-.6zM176.4 151.7h.6v.6h-.6zM181.3 151.8h.6v.6h-.6zM184.6 152.2h.6v.6h-.6zM175.2 164.6h.6v.6h-.6zM179.5 150.1h.6v.6h-.6zM185.9 144.2h.6v.6h-.6zM183.6 156.1h.6v.6h-.6zM183.8 142.6h.6v.6h-.6zM180.4 143.4h.6v.6h-.6zM177.1 153.4h.6v.6h-.6zM184.8 145.1h.6v.6h-.6zM175.5 148.4h.6v.6h-.6zM181.3 160.2h.6v.6h-.6zM182.0 143.1h.6v.6h-.6zM189.5 141.4h.6v.6h-.6zM179.4 148.0h.6v.6h-.6zM188.6 141.2h.6v.6h-.6zM190.7 138.4h.6v.6h-.6zM178.8 149.0h.6v.6h-.6zM181.0 151.6h.6v.6h-.6zM185.9 146.9h.6v.6h-.6zM181.5 142.1h.6v.6h-.6zM179.2 146.1h.6v.6h-.6zM180.8 141.3h.6v.6h-.6zM178.0 148.5h.6v.6h-.6zM179.7 150.0h.6v.6h-.6zM188.3 137.7h.6v.6h-.6zM176.3 154.6h.6v.6h-.6zM187.8 143.9h.6v.6h-.6zM190.2 150.0h.6v.6h-.6zM187.8 140.8h.6v.6h-.6zM183.7 137.1h.6v.6h-.6zM179.6 146.1h.6v.6h-.6zM188.8 149.5h.6v.6h-.6zM186.0 153.4h.6v.6h-.6zM183.4 156.0h.6v.6h-.6zM173.5 154.9h.6v.6h-.6zM186.7 141.1h.6v.6h-.6zM183.5 146.1h.6v.6h-.6zM183.2 145.6h.6v.6h-.6zM178.2 152.0h.6v.6h-.6zM180.6 144.4h.6v.6h-.6zM190.4 148.2h.6v.6h-.6zM174.7 155.2h.6v.6h-.6zM181.9 148.6h.6v.6h-.6zM181.1 144.9h.6v.6h-.6zM182.9 147.2h.6v.6h-.6zM187.5 150.9h.6v.6h-.6zM178.9 143.0h.6v.6h-.6zM178.6 157.3h.6v.6h-.6zM179.7 147.6h.6v.6h-.6zM176.6 154.1h.6v.6h-.6zM180.5 146.0h.6v.6h-.6zM184.4 151.0h.6v.6h-.6zM187.9 143.7h.6v.6h-.6zM178.0 145.0h.6v.6h-.6zM190.8 145.8h.6v.6h-.6zM191.8 142.3h.6v.6h-.6zM185.3 146.2h.6v.6h-.6zM186.9 149.8h.6v.6h-.6zM188.7 153.3h.6v.6h-.6zM185.1 141.8h.6v.6h-.6zM177.9 143.5h.6v.6h-.6zM179.1 150.5h.6v.6h-.6zM186.9 141.9h.6v.6h-.6zM183.8 150.1h.6v.6h-.6zM178.0 160.5h.6v.6h-.6zM191.7 136.6h.6v.6h-.6zM183.3 147.7h.6v.6h-.6zM184.1 142.1h.6v.6h-.6zM185.1 147.4h.6v.6h-.6zM182.8 149.9h.6v.6h-.6zM186.6 146.7h.6v.6h-.6zM177.4 151.5h.6v.6h-.6zM185.1 152.1h.6v.6h-.6zM178.8 141.9h.6v.6h-.6zM184.0 158.6h.6v.6h-.6zM180.3 142.2h.6v.6h-.6zM179.8 152.5h.6v.6h-.6zM193.8 142.4h.6v.6h-.6zM180.6 148.4h.6v.6h-.6zM190.3 138.8h.6v.6h-.6zM187.4 149.3h.6v.6h-.6zM182.3 142.4h.6v.6h-.6zM176.9 155.8h.6v.6h-.6zM189.4 147.1h.6v.6h-.6zM176.7 164.9h.6v.6h-.6zM190.3 146.8h.6v.6h-.6zM186.9 142.9h.6v.6h-.6zM186.0 145.4h.6v.6h-.6zM180.1 150.3h.6v.6h-.6zM182.1 145.3h.6v.6h-.6zM172.6 152.2h.6v.6h-.6zM186.7 145.3h.6v.6h-.6zM179.8 143.8h.6v.6h-.6zM185.2 141.3h.6v.6h-.6zM179.6 162.3h.6v.6h-.6zM184.1 160.5h.6v.6h-.6zM183.8 143.0h.6v.6h-.6zM171.4 158.9h.6v.6h-.6zM193.2 141.5h.6v.6h-.6zM178.7 141.7h.6v.6h-.6zM180.6 148.6h.6v.6h-.6zM184.5 144.1h.6v.6h-.6zM179.2 141.4h.6v.6h-.6zM185.0 153.9h.6v.6h-.6zM180.1 157.4h.6v.6h-.6zM181.4 157.7h.6v.6h-.6zM176.6 158.4h.6v.6h-.6zM185.3 152.1h.6v.6h-.6zM188.3 140.7h.6v.6h-.6zM193.3 138.9h.6v.6h-.6zM178.0 147.6h.6v.6h-.6zM184.3 144.4h.6v.6h-.6z" fill="#5658c8" fill-opacity="0.45"/>
<g transform="translate(183.00 147.00) rotate(-55)" filter="url(#bl2)">
<ellipse rx="6.52" ry="3.62" fill="#8a8ee0" opacity="0.35"/>
<ellipse rx="4.50" ry="2.50" fill="#6a70d0" opacity="0.75"/>
<ellipse rx="3.24" ry="1.80" fill="#3f8fb8"/>
</g>
</g>
<rect x="158.00" y="134.50" width="39.50" height="38.50" fill="none" stroke="#3c3c3c" stroke-width="0.95"/>
<line x1="181.50" y1="134.50" x2="181.50" y2="173.00" stroke="#8f8f8f" stroke-width="1.0"/>
<line x1="158.00" y1="152.10" x2="197.50" y2="152.10" stroke="#8a8a8a" stroke-width="0.9"/>
<line x1="156.00" y1="135.70" x2="158.00" y2="135.70" stroke="#333" stroke-width="0.7"/>
<text x="155.40" y="137.00" font-size="4" fill="#555" text-anchor="end">10<tspan font-size="2.4" dy="-1.3">7</tspan></text>
<line x1="156.00" y1="140.86" x2="158.00" y2="140.86" stroke="#333" stroke-width="0.7"/>
<text x="155.40" y="142.16" font-size="4" fill="#555" text-anchor="end">10<tspan font-size="2.4" dy="-1.3">6</tspan></text>
<line x1="156.00" y1="146.01" x2="158.00" y2="146.01" stroke="#333" stroke-width="0.7"/>
<text x="155.40" y="147.31" font-size="4" fill="#555" text-anchor="end">10<tspan font-size="2.4" dy="-1.3">5</tspan></text>
<line x1="156.00" y1="151.17" x2="158.00" y2="151.17" stroke="#333" stroke-width="0.7"/>
<text x="155.40" y="152.47" font-size="4" fill="#555" text-anchor="end">10<tspan font-size="2.4" dy="-1.3">4</tspan></text>
<line x1="156.00" y1="156.33" x2="158.00" y2="156.33" stroke="#333" stroke-width="0.7"/>
<text x="155.40" y="157.63" font-size="4" fill="#555" text-anchor="end">10<tspan font-size="2.4" dy="-1.3">3</tspan></text>
<line x1="156.00" y1="161.49" x2="158.00" y2="161.49" stroke="#333" stroke-width="0.7"/>
<text x="155.40" y="162.79" font-size="4" fill="#555" text-anchor="end">10<tspan font-size="2.4" dy="-1.3">2</tspan></text>
<line x1="156.00" y1="166.64" x2="158.00" y2="166.64" stroke="#333" stroke-width="0.7"/>
<text x="155.40" y="167.94" font-size="4" fill="#555" text-anchor="end">10<tspan font-size="2.4" dy="-1.3">1</tspan></text>
<line x1="156.00" y1="171.80" x2="158.00" y2="171.80" stroke="#333" stroke-width="0.7"/>
<text x="155.40" y="173.10" font-size="4" fill="#555" text-anchor="end">10<tspan font-size="2.4" dy="-1.3">0</tspan></text>
<line x1="158.60" y1="173.00" x2="158.60" y2="174.60" stroke="#333" stroke-width="0.5"/>
<line x1="160.02" y1="173.00" x2="160.02" y2="173.90" stroke="#333" stroke-width="0.5"/>
<line x1="161.44" y1="173.00" x2="161.44" y2="173.90" stroke="#333" stroke-width="0.5"/>
<line x1="162.86" y1="173.00" x2="162.86" y2="173.90" stroke="#333" stroke-width="0.5"/>
<line x1="164.27" y1="173.00" x2="164.27" y2="173.90" stroke="#333" stroke-width="0.5"/>
<line x1="165.69" y1="173.00" x2="165.69" y2="173.90" stroke="#333" stroke-width="0.5"/>
<line x1="167.11" y1="173.00" x2="167.11" y2="173.90" stroke="#333" stroke-width="0.5"/>
<line x1="168.53" y1="173.00" x2="168.53" y2="174.60" stroke="#333" stroke-width="0.5"/>
<line x1="169.95" y1="173.00" x2="169.95" y2="173.90" stroke="#333" stroke-width="0.5"/>
<line x1="171.37" y1="173.00" x2="171.37" y2="173.90" stroke="#333" stroke-width="0.5"/>
<line x1="172.79" y1="173.00" x2="172.79" y2="173.90" stroke="#333" stroke-width="0.5"/>
<line x1="174.20" y1="173.00" x2="174.20" y2="173.90" stroke="#333" stroke-width="0.5"/>
<line x1="175.62" y1="173.00" x2="175.62" y2="173.90" stroke="#333" stroke-width="0.5"/>
<line x1="177.04" y1="173.00" x2="177.04" y2="173.90" stroke="#333" stroke-width="0.5"/>
<line x1="178.46" y1="173.00" x2="178.46" y2="174.60" stroke="#333" stroke-width="0.5"/>
<line x1="179.88" y1="173.00" x2="179.88" y2="173.90" stroke="#333" stroke-width="0.5"/>
<line x1="181.30" y1="173.00" x2="181.30" y2="173.90" stroke="#333" stroke-width="0.5"/>
<line x1="182.71" y1="173.00" x2="182.71" y2="173.90" stroke="#333" stroke-width="0.5"/>
<line x1="184.13" y1="173.00" x2="184.13" y2="173.90" stroke="#333" stroke-width="0.5"/>
<line x1="185.55" y1="173.00" x2="185.55" y2="173.90" stroke="#333" stroke-width="0.5"/>
<line x1="186.97" y1="173.00" x2="186.97" y2="173.90" stroke="#333" stroke-width="0.5"/>
<line x1="188.39" y1="173.00" x2="188.39" y2="174.60" stroke="#333" stroke-width="0.5"/>
<line x1="189.81" y1="173.00" x2="189.81" y2="173.90" stroke="#333" stroke-width="0.5"/>
<line x1="191.23" y1="173.00" x2="191.23" y2="173.90" stroke="#333" stroke-width="0.5"/>
<line x1="192.64" y1="173.00" x2="192.64" y2="173.90" stroke="#333" stroke-width="0.5"/>
<line x1="194.06" y1="173.00" x2="194.06" y2="173.90" stroke="#333" stroke-width="0.5"/>
<line x1="195.48" y1="173.00" x2="195.48" y2="173.90" stroke="#333" stroke-width="0.5"/>
<line x1="196.90" y1="173.00" x2="196.90" y2="173.90" stroke="#333" stroke-width="0.5"/>
<line x1="158.70" y1="173.00" x2="158.70" y2="175.00" stroke="#333" stroke-width="0.7"/>
<text x="158.70" y="179.30" font-size="4" fill="#555" text-anchor="middle">10<tspan font-size="2.4" dy="-1.3">2</tspan></text>
<line x1="169.10" y1="173.00" x2="169.10" y2="175.00" stroke="#333" stroke-width="0.7"/>
<text x="169.10" y="179.30" font-size="4" fill="#555" text-anchor="middle">10<tspan font-size="2.4" dy="-1.3">3</tspan></text>
<line x1="179.50" y1="173.00" x2="179.50" y2="175.00" stroke="#333" stroke-width="0.7"/>
<text x="179.50" y="179.30" font-size="4" fill="#555" text-anchor="middle">10<tspan font-size="2.4" dy="-1.3">4</tspan></text>
<line x1="189.90" y1="173.00" x2="189.90" y2="175.00" stroke="#333" stroke-width="0.7"/>
<text x="189.90" y="179.30" font-size="4" fill="#555" text-anchor="middle">10<tspan font-size="2.4" dy="-1.3">5</tspan></text>
<text x="160.00" y="138.50" font-size="2.6" fill="#777">1.00</text>
<text x="195.50" y="138.50" font-size="2.6" fill="#777" text-anchor="end">8.78</text>
<text x="160.00" y="171.00" font-size="2.6" fill="#777">88.1</text>
<text x="195.50" y="171.00" font-size="2.6" fill="#777" text-anchor="end">2.14</text>
<line x1="40.40" y1="171.00" x2="40.40" y2="188.80" stroke="#000" stroke-width="1"/>
<line x1="40.40" y1="188.80" x2="57.00" y2="188.80" stroke="#000" stroke-width="1"/>
<path d="M40.4,168 L38.4,172.5 L42.4,172.5 Z" stroke="#000" stroke-width="0.3" fill="#000"/>
<path d="M60,188.8 L55.5,186.8 L55.5,190.8 Z" stroke="#000" stroke-width="0.3" fill="#000"/>
<text x="33.60" y="183.80" font-size="7.6" fill="#231f20" textLength="5.40" lengthAdjust="spacingAndGlyphs" transform="rotate(-90 33.60 183.80)" stroke="#231f20" stroke-width="0.16">PI</text>
<text x="64.30" y="191.60" font-size="9" fill="#231f20" textLength="31.10" lengthAdjust="spacingAndGlyphs" stroke="#231f20" stroke-width="0.16">Annexin-V</text>
<line x1="236.30" y1="26.90" x2="236.30" y2="68.60" stroke="#000" stroke-width="1"/>
<line x1="235.80" y1="68.10" x2="296.50" y2="68.10" stroke="#000" stroke-width="1"/>
<line x1="233.50" y1="68.10" x2="236.30" y2="68.10" stroke="#000" stroke-width="0.8"/>
<text x="230.50" y="70.60" font-size="7" fill="#231f20" text-anchor="end" stroke="#231f20" stroke-width="0.16">0</text>
<line x1="233.50" y1="60.28" x2="236.30" y2="60.28" stroke="#000" stroke-width="0.8"/>
<text x="230.50" y="62.78" font-size="7" fill="#231f20" text-anchor="end" stroke="#231f20" stroke-width="0.16">20</text>
<line x1="233.50" y1="52.46" x2="236.30" y2="52.46" stroke="#000" stroke-width="0.8"/>
<text x="230.50" y="54.96" font-size="7" fill="#231f20" text-anchor="end" stroke="#231f20" stroke-width="0.16">40</text>
<line x1="233.50" y1="44.64" x2="236.30" y2="44.64" stroke="#000" stroke-width="0.8"/>
<text x="230.50" y="47.14" font-size="7" fill="#231f20" text-anchor="end" stroke="#231f20" stroke-width="0.16">60</text>
<line x1="233.50" y1="36.82" x2="236.30" y2="36.82" stroke="#000" stroke-width="0.8"/>
<text x="230.50" y="39.32" font-size="7" fill="#231f20" text-anchor="end" stroke="#231f20" stroke-width="0.16">80</text>
<line x1="233.50" y1="29.00" x2="236.30" y2="29.00" stroke="#000" stroke-width="0.8"/>
<text x="230.50" y="31.50" font-size="7" fill="#231f20" text-anchor="end" stroke="#231f20" stroke-width="0.16">100</text>
<rect x="242.50" y="33.30" width="12.00" height="34.80" fill="#53235f" stroke="#3b1149" stroke-width="0.5"/>
<line x1="248.50" y1="33.30" x2="248.50" y2="31.35" stroke="#000" stroke-width="0.7"/>
<line x1="245.50" y1="31.35" x2="251.50" y2="31.35" stroke="#000" stroke-width="0.8"/>
<line x1="248.50" y1="68.10" x2="248.50" y2="70.60" stroke="#000" stroke-width="0.8"/>
<rect x="260.50" y="48.16" width="12.00" height="19.94" fill="#53235f" stroke="#3b1149" stroke-width="0.5"/>
<line x1="266.50" y1="48.16" x2="266.50" y2="44.44" stroke="#000" stroke-width="0.7"/>
<line x1="263.50" y1="44.44" x2="269.50" y2="44.44" stroke="#000" stroke-width="0.8"/>
<line x1="266.50" y1="68.10" x2="266.50" y2="70.60" stroke="#000" stroke-width="0.8"/>
<path d="M264.20,41.04V43.04M263.33,41.54L265.07,42.54M263.33,42.54L265.07,41.54M266.50,41.04V43.04M265.63,41.54L267.37,42.54M265.63,42.54L267.37,41.54M268.80,41.04V43.04M267.93,41.54L269.67,42.54M267.93,42.54L269.67,41.54" stroke="#231f20" stroke-width="0.6" fill="none"/>
<rect x="278.90" y="61.84" width="12.00" height="6.26" fill="#53235f" stroke="#3b1149" stroke-width="0.5"/>
<line x1="284.90" y1="61.84" x2="284.90" y2="60.28" stroke="#000" stroke-width="0.7"/>
<line x1="281.90" y1="60.28" x2="287.90" y2="60.28" stroke="#000" stroke-width="0.8"/>
<line x1="284.90" y1="68.10" x2="284.90" y2="70.60" stroke="#000" stroke-width="0.8"/>
<path d="M282.60,56.88V58.88M281.73,57.38L283.47,58.38M281.73,58.38L283.47,57.38M284.90,56.88V58.88M284.03,57.38L285.77,58.38M284.03,58.38L285.77,57.38M287.20,56.88V58.88M286.33,57.38L288.07,58.38M286.33,58.38L288.07,57.38" stroke="#231f20" stroke-width="0.6" fill="none"/>
<line x1="236.30" y1="79.50" x2="236.30" y2="121.50" stroke="#000" stroke-width="1"/>
<line x1="235.80" y1="121.00" x2="296.50" y2="121.00" stroke="#000" stroke-width="1"/>
<line x1="233.50" y1="121.00" x2="236.30" y2="121.00" stroke="#000" stroke-width="0.8"/>
<text x="230.50" y="123.50" font-size="7" fill="#231f20" text-anchor="end" stroke="#231f20" stroke-width="0.16">0</text>
<line x1="233.50" y1="113.22" x2="236.30" y2="113.22" stroke="#000" stroke-width="0.8"/>
<text x="230.50" y="115.72" font-size="7" fill="#231f20" text-anchor="end" stroke="#231f20" stroke-width="0.16">20</text>
<line x1="233.50" y1="105.44" x2="236.30" y2="105.44" stroke="#000" stroke-width="0.8"/>
<text x="230.50" y="107.94" font-size="7" fill="#231f20" text-anchor="end" stroke="#231f20" stroke-width="0.16">40</text>
<line x1="233.50" y1="97.66" x2="236.30" y2="97.66" stroke="#000" stroke-width="0.8"/>
<text x="230.50" y="100.16" font-size="7" fill="#231f20" text-anchor="end" stroke="#231f20" stroke-width="0.16">60</text>
<line x1="233.50" y1="89.88" x2="236.30" y2="89.88" stroke="#000" stroke-width="0.8"/>
<text x="230.50" y="92.38" font-size="7" fill="#231f20" text-anchor="end" stroke="#231f20" stroke-width="0.16">80</text>
<line x1="233.50" y1="82.10" x2="236.30" y2="82.10" stroke="#000" stroke-width="0.8"/>
<text x="230.50" y="84.60" font-size="7" fill="#231f20" text-anchor="end" stroke="#231f20" stroke-width="0.16">100</text>
<rect x="242.50" y="90.85" width="12.00" height="30.15" fill="#53235f" stroke="#3b1149" stroke-width="0.5"/>
<line x1="248.50" y1="90.85" x2="248.50" y2="90.46" stroke="#000" stroke-width="0.7"/>
<line x1="245.50" y1="90.46" x2="251.50" y2="90.46" stroke="#000" stroke-width="0.8"/>
<line x1="248.50" y1="121.00" x2="248.50" y2="123.50" stroke="#000" stroke-width="0.8"/>
<rect x="260.50" y="95.52" width="12.00" height="25.48" fill="#53235f" stroke="#3b1149" stroke-width="0.5"/>
<line x1="266.50" y1="95.52" x2="266.50" y2="93.96" stroke="#000" stroke-width="0.7"/>
<line x1="263.50" y1="93.96" x2="269.50" y2="93.96" stroke="#000" stroke-width="0.8"/>
<line x1="266.50" y1="121.00" x2="266.50" y2="123.50" stroke="#000" stroke-width="0.8"/>
<path d="M265.35,90.56V92.56M264.48,91.06L266.22,92.06M264.48,92.06L266.22,91.06M267.65,90.56V92.56M266.78,91.06L268.52,92.06M266.78,92.06L268.52,91.06" stroke="#231f20" stroke-width="0.6" fill="none"/>
<rect x="278.90" y="107.58" width="12.00" height="13.42" fill="#53235f" stroke="#3b1149" stroke-width="0.5"/>
<line x1="284.90" y1="107.58" x2="284.90" y2="106.41" stroke="#000" stroke-width="0.7"/>
<line x1="281.90" y1="106.41" x2="287.90" y2="106.41" stroke="#000" stroke-width="0.8"/>
<line x1="284.90" y1="121.00" x2="284.90" y2="123.50" stroke="#000" stroke-width="0.8"/>
<path d="M283.75,103.01V105.01M282.88,103.51L284.62,104.51M282.88,104.51L284.62,103.51M286.05,103.01V105.01M285.18,103.51L286.92,104.51M285.18,104.51L286.92,103.51" stroke="#231f20" stroke-width="0.6" fill="none"/>
<line x1="236.30" y1="134.70" x2="236.30" y2="174.10" stroke="#000" stroke-width="1"/>
<line x1="235.80" y1="173.60" x2="296.50" y2="173.60" stroke="#000" stroke-width="1"/>
<line x1="233.50" y1="173.60" x2="236.30" y2="173.60" stroke="#000" stroke-width="0.8"/>
<text x="230.50" y="176.10" font-size="7" fill="#231f20" text-anchor="end" stroke="#231f20" stroke-width="0.16">0</text>
<line x1="233.50" y1="166.28" x2="236.30" y2="166.28" stroke="#000" stroke-width="0.8"/>
<text x="230.50" y="168.78" font-size="7" fill="#231f20" text-anchor="end" stroke="#231f20" stroke-width="0.16">20</text>
<line x1="233.50" y1="158.96" x2="236.30" y2="158.96" stroke="#000" stroke-width="0.8"/>
<text x="230.50" y="161.46" font-size="7" fill="#231f20" text-anchor="end" stroke="#231f20" stroke-width="0.16">40</text>
<line x1="233.50" y1="151.64" x2="236.30" y2="151.64" stroke="#000" stroke-width="0.8"/>
<text x="230.50" y="154.14" font-size="7" fill="#231f20" text-anchor="end" stroke="#231f20" stroke-width="0.16">60</text>
<line x1="233.50" y1="144.32" x2="236.30" y2="144.32" stroke="#000" stroke-width="0.8"/>
<text x="230.50" y="146.82" font-size="7" fill="#231f20" text-anchor="end" stroke="#231f20" stroke-width="0.16">80</text>
<line x1="233.50" y1="137.00" x2="236.30" y2="137.00" stroke="#000" stroke-width="0.8"/>
<text x="230.50" y="139.50" font-size="7" fill="#231f20" text-anchor="end" stroke="#231f20" stroke-width="0.16">100</text>
<rect x="242.50" y="142.12" width="12.00" height="31.48" fill="#53235f" stroke="#3b1149" stroke-width="0.5"/>
<line x1="248.50" y1="142.12" x2="248.50" y2="141.39" stroke="#000" stroke-width="0.7"/>
<line x1="245.50" y1="141.39" x2="251.50" y2="141.39" stroke="#000" stroke-width="0.8"/>
<line x1="248.50" y1="173.60" x2="248.50" y2="176.10" stroke="#000" stroke-width="0.8"/>
<rect x="260.50" y="143.22" width="12.00" height="30.38" fill="#53235f" stroke="#3b1149" stroke-width="0.5"/>
<line x1="266.50" y1="143.22" x2="266.50" y2="142.86" stroke="#000" stroke-width="0.7"/>
<line x1="263.50" y1="142.86" x2="269.50" y2="142.86" stroke="#000" stroke-width="0.8"/>
<line x1="266.50" y1="173.60" x2="266.50" y2="176.10" stroke="#000" stroke-width="0.8"/>
<rect x="278.90" y="149.81" width="12.00" height="23.79" fill="#53235f" stroke="#3b1149" stroke-width="0.5"/>
<line x1="284.90" y1="149.81" x2="284.90" y2="147.98" stroke="#000" stroke-width="0.7"/>
<line x1="281.90" y1="147.98" x2="287.90" y2="147.98" stroke="#000" stroke-width="0.8"/>
<line x1="284.90" y1="173.60" x2="284.90" y2="176.10" stroke="#000" stroke-width="0.8"/>
<path d="M283.75,144.58V146.58M282.88,145.08L284.62,146.08M282.88,146.08L284.62,145.08M286.05,144.58V146.58M285.18,145.08L286.92,146.08M285.18,146.08L286.92,145.08" stroke="#231f20" stroke-width="0.6" fill="none"/>
<text x="213.80" y="101.00" font-size="9" fill="#231f20" text-anchor="middle" textLength="89.00" lengthAdjust="spacingAndGlyphs" transform="rotate(-90 213.80 101.00)" stroke="#231f20" stroke-width="0.16">% of live cells (annexinV⁻/PI⁻)</text>
<text x="251.50" y="181.50" font-size="7" fill="#50546e" text-anchor="end" textLength="30.00" lengthAdjust="spacingAndGlyphs" transform="rotate(-45 251.50 181.50)" stroke="#50546e" stroke-width="0.16">Untreated</text>
<text x="269.50" y="181.50" font-size="7" fill="#6ab04c" text-anchor="end" textLength="30.00" lengthAdjust="spacingAndGlyphs" transform="rotate(-45 269.50 181.50)" stroke="#6ab04c" stroke-width="0.16">C-scrRNA</text>
<text x="288.50" y="182.50" font-size="7" fill="#c0264b" text-anchor="end" textLength="33.00" lengthAdjust="spacingAndGlyphs" transform="rotate(-45 288.50 182.50)" stroke="#c0264b" stroke-width="0.16">C-miR146a</text>
<text x="312.00" y="17.20" font-size="12" fill="#000" font-weight="bold" stroke="#000" stroke-width="0.35">B</text>
<text x="320.20" y="26.30" font-size="6.8" fill="#231f20" textLength="13.80" lengthAdjust="spacingAndGlyphs" stroke="#231f20" stroke-width="0.16">Days</text>
<text x="352.90" y="26.60" font-size="7" fill="#50546e" textLength="11.00" lengthAdjust="spacingAndGlyphs" stroke="#50546e" stroke-width="0.16">PBS</text>
<text x="399.40" y="26.60" font-size="7" fill="#6ab04c" textLength="29.90" lengthAdjust="spacingAndGlyphs" stroke="#6ab04c" stroke-width="0.16">C-scrRNA</text>
<text x="455.40" y="26.60" font-size="7" fill="#c0264b" textLength="32.30" lengthAdjust="spacingAndGlyphs" stroke="#c0264b" stroke-width="0.16">C-miR146a</text>
<text x="320.60" y="58.00" font-size="7" fill="#231f20" textLength="7.10" lengthAdjust="spacingAndGlyphs" stroke="#231f20" stroke-width="0.16">10</text>
<text x="320.60" y="108.50" font-size="7" fill="#231f20" textLength="7.10" lengthAdjust="spacingAndGlyphs" stroke="#231f20" stroke-width="0.16">16</text>
<text x="320.60" y="159.00" font-size="7" fill="#231f20" textLength="7.10" lengthAdjust="spacingAndGlyphs" stroke="#231f20" stroke-width="0.16">22</text>
<rect x="330.50" y="29.00" width="169.00" height="152.00" fill="#9a9a9a"/>
<rect x="331.00" y="29.50" width="55.00" height="50.70" fill="#050208"/>
<rect x="387.00" y="29.50" width="55.00" height="50.70" fill="#050208"/>
<rect x="443.00" y="29.50" width="56.00" height="50.70" fill="#050208"/>
<rect x="331.00" y="81.00" width="55.00" height="49.60" fill="#050208"/>
<rect x="387.00" y="81.00" width="55.00" height="49.60" fill="#050208"/>
<rect x="443.00" y="81.00" width="56.00" height="49.60" fill="#050208"/>
<rect x="331.00" y="131.50" width="55.00" height="49.10" fill="#050208"/>
<rect x="387.00" y="131.50" width="55.00" height="49.10" fill="#050208"/>
<rect x="443.00" y="131.50" width="56.00" height="49.10" fill="#050208"/>
<defs><linearGradient id="lcb" x1="0" y1="0" x2="0" y2="1"><stop offset="0" stop-color="#d62a1e"/><stop offset="0.17" stop-color="#d83a20"/><stop offset="0.24" stop-color="#f08a1e"/><stop offset="0.31" stop-color="#f2e01e"/><stop offset="0.38" stop-color="#9ccc3c"/><stop offset="0.46" stop-color="#4caf42"/><stop offset="0.58" stop-color="#3ea848"/><stop offset="0.65" stop-color="#2ab4c8"/><stop offset="0.72" stop-color="#2a60d0"/><stop offset="0.8" stop-color="#3a2aa0"/><stop offset="1" stop-color="#3a1a90"/></linearGradient><filter id="mb" x="-30%" y="-30%" width="160%" height="160%"><feGaussianBlur stdDeviation="0.6"/></filter><filter id="hb" x="-30%" y="-30%" width="160%" height="160%"><feGaussianBlur stdDeviation="2.2"/></filter><clipPath id="cpB"><rect x="331" y="29.5" width="168" height="151.1"/></clipPath></defs>
<g clip-path="url(#cpB)">
<g filter="url(#hb2)" opacity="0.7">
<path d="M347.3,39.2 L348.7,40.0 L350.1,41.9 L350.9,45.1 L351.2,48.8 L351.5,52.5 L352.9,55.7 L354.3,58.4 L354.6,61.0 L353.5,63.7 L350.8,65.3 L348.7,65.8 L347.3,65.8 L347.3,65.8 L345.9,65.8 L343.8,65.3 L341.1,63.7 L340.0,61.0 L340.3,58.4 L341.7,55.7 L343.1,52.5 L343.4,48.8 L343.7,45.1 L344.5,41.9 L345.9,40.0 L347.3,39.2Z" fill="#4a4a50"/>
<path d="M359.8,40.9 L361.2,41.6 L362.6,43.4 L363.4,46.4 L363.7,49.9 L364.0,53.3 L365.4,56.3 L366.8,58.8 L367.1,61.3 L366.0,63.8 L363.3,65.3 L361.2,65.8 L359.8,65.8 L359.8,65.8 L358.4,65.8 L356.3,65.3 L353.6,63.8 L352.5,61.3 L352.8,58.8 L354.2,56.3 L355.6,53.3 L355.9,49.9 L356.2,46.4 L357.0,43.4 L358.4,41.6 L359.8,40.9Z" fill="#4a4a50"/>
<path d="M372.7,39.0 L374.1,39.8 L375.5,41.5 L376.3,44.5 L376.6,48.0 L376.9,51.5 L378.3,54.6 L379.7,57.1 L380.0,59.6 L378.9,62.1 L376.2,63.6 L374.1,64.1 L372.7,64.1 L372.7,64.1 L371.3,64.1 L369.2,63.6 L366.5,62.1 L365.4,59.6 L365.7,57.1 L367.1,54.6 L368.5,51.5 L368.8,48.0 L369.1,44.5 L369.9,41.5 L371.3,39.8 L372.7,39.0Z" fill="#4a4a50"/>
<path d="M333.1,71.8 L333.9,73.1 L335.7,74.4 L338.8,75.2 L342.5,75.4 L346.1,75.7 L349.3,77.0 L351.9,78.3 L354.5,78.6 L357.1,77.5 L358.7,75.0 L359.2,73.1 L359.2,71.8 L359.2,71.8 L359.2,70.5 L358.7,68.5 L357.1,66.1 L354.5,65.0 L351.9,65.3 L349.3,66.6 L346.1,67.9 L342.5,68.2 L338.8,68.4 L335.7,69.2 L333.9,70.5 L333.1,71.8Z" fill="#4a4a50"/>
<path d="M360.8,71.8 L361.5,73.1 L363.3,74.4 L366.3,75.2 L369.8,75.4 L373.2,75.7 L376.2,77.0 L378.7,78.3 L381.2,78.6 L383.7,77.5 L385.2,75.0 L385.7,73.1 L385.7,71.8 L385.7,71.8 L385.7,70.5 L385.2,68.5 L383.7,66.1 L381.2,65.0 L378.7,65.3 L376.2,66.6 L373.2,67.9 L369.8,68.2 L366.3,68.4 L363.3,69.2 L361.5,70.5 L360.8,71.8Z" fill="#4a4a50"/>
</g>
<path d="M347.3,62.3 q1.5,4 3,8" stroke="#5a5a5a" stroke-width="0.9" fill="none"/>
<path d="M359.8,62.3 q1.5,4 3,8" stroke="#5a5a5a" stroke-width="0.9" fill="none"/>
<path d="M372.7,60.6 q1.5,4 3,8" stroke="#5a5a5a" stroke-width="0.9" fill="none"/>
<g filter="url(#mb)">
<path d="M347.3,40.7 L348.4,41.4 L349.4,43.1 L350.0,45.9 L350.2,49.2 L350.4,52.5 L351.5,55.3 L352.6,57.7 L352.8,60.1 L351.9,62.4 L349.9,63.8 L348.4,64.3 L347.3,64.3 L347.3,64.3 L346.2,64.3 L344.7,63.8 L342.7,62.4 L341.8,60.1 L342.1,57.7 L343.1,55.3 L344.2,52.5 L344.4,49.2 L344.6,45.9 L345.2,43.1 L346.2,41.4 L347.3,40.7Z" fill="#e4e3ea"/>
<ellipse cx="347.3" cy="47.3" rx="2.7" ry="3.8" fill="#6234bc"/>
<ellipse cx="348.1" cy="51.1" rx="1.2" ry="1.1" fill="#6234bc" opacity="0.8"/>
<ellipse cx="344.8" cy="59.6" rx="2.6" ry="2.8" fill="#6234bc"/>
<ellipse cx="349.8" cy="59.6" rx="2.6" ry="2.8" fill="#6234bc"/>
<ellipse cx="347.3" cy="63.1" rx="1.8" ry="1.1" fill="#6234bc"/>
<path d="M359.8,42.4 L360.9,43.1 L361.9,44.6 L362.5,47.2 L362.7,50.3 L362.9,53.3 L364.0,56.0 L365.1,58.2 L365.3,60.4 L364.4,62.5 L362.4,63.9 L360.9,64.3 L359.8,64.3 L359.8,64.3 L358.8,64.3 L357.2,63.9 L355.2,62.5 L354.3,60.4 L354.6,58.2 L355.6,56.0 L356.7,53.3 L356.9,50.3 L357.1,47.2 L357.7,44.6 L358.8,43.1 L359.8,42.4Z" fill="#e4e3ea"/>
<ellipse cx="359.8" cy="48.5" rx="2.7" ry="3.5" fill="#6234bc"/>
<ellipse cx="360.6" cy="52.0" rx="1.2" ry="1.1" fill="#6234bc" opacity="0.8"/>
<ellipse cx="357.3" cy="59.9" rx="2.6" ry="2.8" fill="#6234bc"/>
<ellipse cx="362.3" cy="59.9" rx="2.6" ry="2.8" fill="#6234bc"/>
<ellipse cx="359.8" cy="63.2" rx="1.8" ry="1.1" fill="#6234bc"/>
<path d="M372.7,40.5 L373.8,41.2 L374.8,42.7 L375.4,45.4 L375.6,48.5 L375.8,51.5 L376.9,54.2 L377.9,56.4 L378.2,58.6 L377.3,60.8 L375.3,62.2 L373.8,62.6 L372.7,62.6 L372.7,62.6 L371.6,62.6 L370.1,62.2 L368.1,60.8 L367.2,58.6 L367.4,56.4 L368.5,54.2 L369.6,51.5 L369.8,48.5 L370.0,45.4 L370.6,42.7 L371.6,41.2 L372.7,40.5Z" fill="#e4e3ea"/>
<ellipse cx="372.7" cy="46.7" rx="2.7" ry="3.5" fill="#6234bc"/>
<ellipse cx="373.5" cy="50.2" rx="1.2" ry="1.1" fill="#6234bc" opacity="0.8"/>
<ellipse cx="370.2" cy="58.2" rx="2.6" ry="2.8" fill="#6234bc"/>
<ellipse cx="375.2" cy="58.2" rx="2.6" ry="2.8" fill="#6234bc"/>
<ellipse cx="372.7" cy="61.5" rx="1.8" ry="1.1" fill="#6234bc"/>
<path d="M334.6,71.8 L335.3,72.8 L336.9,73.8 L339.7,74.4 L342.9,74.6 L346.1,74.8 L348.9,75.8 L351.2,76.8 L353.5,77.0 L355.9,76.2 L357.2,74.3 L357.7,72.8 L357.7,71.8 L357.7,71.8 L357.7,70.8 L357.2,69.3 L355.9,67.4 L353.5,66.6 L351.2,66.8 L348.9,67.8 L346.1,68.8 L342.9,69.0 L339.7,69.2 L336.9,69.8 L335.3,70.8 L334.6,71.8Z" fill="#e4e3ea"/>
<ellipse cx="340.1" cy="71.8" rx="3.7" ry="2.9" fill="#6234bc"/>
<ellipse cx="345.0" cy="73.6" rx="1.6" ry="1.3" fill="#6234bc" opacity="0.85"/>
<ellipse cx="353.1" cy="69.3" rx="2.5" ry="2.2" fill="#6234bc"/>
<ellipse cx="353.1" cy="74.3" rx="2.5" ry="2.2" fill="#6234bc"/>
<ellipse cx="356.5" cy="71.8" rx="1.2" ry="1.5" fill="#6234bc"/>
<path d="M362.3,71.8 L363.0,72.8 L364.5,73.8 L367.1,74.4 L370.2,74.6 L373.2,74.8 L375.9,75.8 L378.1,76.8 L380.3,77.0 L382.4,76.2 L383.8,74.3 L384.2,72.8 L384.2,71.8 L384.2,71.8 L384.2,70.8 L383.8,69.3 L382.4,67.4 L380.3,66.6 L378.1,66.8 L375.9,67.8 L373.2,68.8 L370.2,69.0 L367.1,69.2 L364.5,69.8 L363.0,70.8 L362.3,71.8Z" fill="#e4e3ea"/>
<ellipse cx="367.6" cy="71.8" rx="3.5" ry="2.9" fill="#6234bc"/>
<ellipse cx="372.2" cy="73.6" rx="1.6" ry="1.3" fill="#6234bc" opacity="0.85"/>
<ellipse cx="379.8" cy="69.3" rx="2.5" ry="2.2" fill="#6234bc"/>
<ellipse cx="379.8" cy="74.3" rx="2.5" ry="2.2" fill="#6234bc"/>
<ellipse cx="383.1" cy="71.8" rx="1.2" ry="1.5" fill="#6234bc"/>
</g>
<g filter="url(#hb2)" opacity="0.7">
<path d="M402.3,39.2 L403.7,39.9 L405.1,41.7 L405.9,44.7 L406.2,48.2 L406.5,51.7 L407.9,54.6 L409.3,57.1 L409.6,59.6 L408.5,62.1 L405.8,63.6 L403.7,64.1 L402.3,64.1 L402.3,64.1 L400.9,64.1 L398.8,63.6 L396.1,62.1 L395.0,59.6 L395.3,57.1 L396.7,54.6 L398.1,51.7 L398.4,48.2 L398.7,44.7 L399.5,41.7 L400.9,39.9 L402.3,39.2Z" fill="#4a4a50"/>
<path d="M415.2,39.2 L416.6,39.9 L418.0,41.7 L418.8,44.7 L419.1,48.2 L419.4,51.7 L420.8,54.6 L422.2,57.1 L422.5,59.6 L421.4,62.1 L418.7,63.6 L416.6,64.1 L415.2,64.1 L415.2,64.1 L413.8,64.1 L411.7,63.6 L409.0,62.1 L407.9,59.6 L408.2,57.1 L409.6,54.6 L411.0,51.7 L411.3,48.2 L411.6,44.7 L412.4,41.7 L413.8,39.9 L415.2,39.2Z" fill="#4a4a50"/>
<path d="M427.7,39.2 L429.1,39.9 L430.5,41.7 L431.3,44.7 L431.6,48.2 L431.9,51.7 L433.3,54.6 L434.7,57.1 L435.0,59.6 L433.9,62.1 L431.2,63.6 L429.1,64.1 L427.7,64.1 L427.7,64.1 L426.3,64.1 L424.2,63.6 L421.5,62.1 L420.4,59.6 L420.7,57.1 L422.1,54.6 L423.5,51.7 L423.8,48.2 L424.1,44.7 L424.9,41.7 L426.3,39.9 L427.7,39.2Z" fill="#4a4a50"/>
<path d="M390.5,70.7 L391.2,72.0 L392.9,73.3 L395.7,74.1 L399.0,74.3 L402.4,74.6 L405.2,75.9 L407.6,77.2 L409.9,77.5 L412.3,76.4 L413.7,74.0 L414.2,72.0 L414.2,70.7 L414.2,70.7 L414.2,69.4 L413.7,67.5 L412.3,65.0 L409.9,63.9 L407.6,64.2 L405.2,65.5 L402.4,66.8 L399.0,67.1 L395.7,67.3 L392.9,68.1 L391.2,69.4 L390.5,70.7Z" fill="#4a4a50"/>
<path d="M416.4,70.7 L417.1,72.0 L418.8,73.3 L421.7,74.1 L425.1,74.3 L428.5,74.6 L431.5,75.9 L433.9,77.2 L436.3,77.5 L438.8,76.4 L440.2,74.0 L440.7,72.0 L440.7,70.7 L440.7,70.7 L440.7,69.4 L440.2,67.5 L438.8,65.0 L436.3,63.9 L433.9,64.2 L431.5,65.5 L428.5,66.8 L425.1,67.1 L421.7,67.3 L418.8,68.1 L417.1,69.4 L416.4,70.7Z" fill="#4a4a50"/>
</g>
<path d="M402.3,60.6 q1.5,4 3,8" stroke="#5a5a5a" stroke-width="0.9" fill="none"/>
<path d="M415.2,60.6 q1.5,4 3,8" stroke="#5a5a5a" stroke-width="0.9" fill="none"/>
<path d="M427.7,60.6 q1.5,4 3,8" stroke="#5a5a5a" stroke-width="0.9" fill="none"/>
<g filter="url(#mb)">
<path d="M402.3,40.7 L403.4,41.4 L404.4,42.9 L405.0,45.5 L405.2,48.6 L405.4,51.7 L406.5,54.3 L407.6,56.5 L407.8,58.7 L406.9,60.8 L404.9,62.2 L403.4,62.6 L402.3,62.6 L402.3,62.6 L401.2,62.6 L399.7,62.2 L397.7,60.8 L396.8,58.7 L397.1,56.5 L398.1,54.3 L399.2,51.7 L399.4,48.6 L399.6,45.5 L400.2,42.9 L401.2,41.4 L402.3,40.7Z" fill="#e4e3ea"/>
<ellipse cx="402.3" cy="46.8" rx="2.7" ry="3.5" fill="#6234bc"/>
<ellipse cx="403.1" cy="50.3" rx="1.2" ry="1.1" fill="#6234bc" opacity="0.8"/>
<ellipse cx="399.8" cy="58.2" rx="2.6" ry="2.8" fill="#6234bc"/>
<ellipse cx="404.8" cy="58.2" rx="2.6" ry="2.8" fill="#6234bc"/>
<ellipse cx="402.3" cy="61.5" rx="1.8" ry="1.1" fill="#6234bc"/>
<path d="M415.2,40.7 L416.2,41.4 L417.3,42.9 L417.9,45.5 L418.1,48.6 L418.3,51.7 L419.4,54.3 L420.4,56.5 L420.7,58.7 L419.8,60.8 L417.8,62.2 L416.2,62.6 L415.2,62.6 L415.2,62.6 L414.1,62.6 L412.6,62.2 L410.6,60.8 L409.7,58.7 L409.9,56.5 L411.0,54.3 L412.1,51.7 L412.3,48.6 L412.5,45.5 L413.1,42.9 L414.1,41.4 L415.2,40.7Z" fill="#e4e3ea"/>
<ellipse cx="415.2" cy="46.8" rx="2.7" ry="3.5" fill="#6234bc"/>
<ellipse cx="416.0" cy="50.3" rx="1.2" ry="1.1" fill="#6234bc" opacity="0.8"/>
<ellipse cx="412.7" cy="58.2" rx="2.6" ry="2.8" fill="#6234bc"/>
<ellipse cx="417.7" cy="58.2" rx="2.6" ry="2.8" fill="#6234bc"/>
<ellipse cx="415.2" cy="61.5" rx="1.8" ry="1.1" fill="#6234bc"/>
<path d="M427.7,40.7 L428.8,41.4 L429.8,42.9 L430.4,45.5 L430.6,48.6 L430.8,51.7 L431.9,54.3 L432.9,56.5 L433.2,58.7 L432.3,60.8 L430.3,62.2 L428.8,62.6 L427.7,62.6 L427.7,62.6 L426.6,62.6 L425.1,62.2 L423.1,60.8 L422.2,58.7 L422.4,56.5 L423.5,54.3 L424.6,51.7 L424.8,48.6 L425.0,45.5 L425.6,42.9 L426.6,41.4 L427.7,40.7Z" fill="#e4e3ea"/>
<ellipse cx="427.7" cy="46.8" rx="2.7" ry="3.5" fill="#6234bc"/>
<ellipse cx="428.5" cy="50.3" rx="1.2" ry="1.1" fill="#6234bc" opacity="0.8"/>
<ellipse cx="425.2" cy="58.2" rx="2.6" ry="2.8" fill="#6234bc"/>
<ellipse cx="430.2" cy="58.2" rx="2.6" ry="2.8" fill="#6234bc"/>
<ellipse cx="427.7" cy="61.5" rx="1.8" ry="1.1" fill="#6234bc"/>
<path d="M392.0,70.7 L392.6,71.7 L394.1,72.7 L396.6,73.3 L399.5,73.5 L402.4,73.7 L404.8,74.7 L406.9,75.7 L409.0,75.9 L411.0,75.1 L412.3,73.2 L412.7,71.7 L412.7,70.7 L412.7,70.7 L412.7,69.7 L412.3,68.2 L411.0,66.3 L409.0,65.5 L406.9,65.7 L404.8,66.7 L402.4,67.7 L399.5,67.9 L396.6,68.1 L394.1,68.7 L392.6,69.7 L392.0,70.7Z" fill="#e4e3ea"/>
<ellipse cx="397.0" cy="70.7" rx="3.3" ry="2.9" fill="#6234bc"/>
<ellipse cx="401.3" cy="72.5" rx="1.6" ry="1.3" fill="#6234bc" opacity="0.85"/>
<ellipse cx="408.6" cy="68.2" rx="2.5" ry="2.2" fill="#6234bc"/>
<ellipse cx="408.6" cy="73.2" rx="2.5" ry="2.2" fill="#6234bc"/>
<ellipse cx="411.7" cy="70.7" rx="1.2" ry="1.5" fill="#6234bc"/>
<path d="M417.9,70.7 L418.5,71.7 L420.0,72.7 L422.6,73.3 L425.6,73.5 L428.5,73.7 L431.1,74.7 L433.2,75.7 L435.4,75.9 L437.5,75.1 L438.8,73.2 L439.2,71.7 L439.2,70.7 L439.2,70.7 L439.2,69.7 L438.8,68.2 L437.5,66.3 L435.4,65.5 L433.2,65.7 L431.1,66.7 L428.5,67.7 L425.6,67.9 L422.6,68.1 L420.0,68.7 L418.5,69.7 L417.9,70.7Z" fill="#e4e3ea"/>
<ellipse cx="423.0" cy="70.7" rx="3.4" ry="2.9" fill="#6234bc"/>
<ellipse cx="427.5" cy="72.5" rx="1.6" ry="1.3" fill="#6234bc" opacity="0.85"/>
<ellipse cx="434.9" cy="68.2" rx="2.5" ry="2.2" fill="#6234bc"/>
<ellipse cx="434.9" cy="73.2" rx="2.5" ry="2.2" fill="#6234bc"/>
<ellipse cx="438.1" cy="70.7" rx="1.2" ry="1.5" fill="#6234bc"/>
</g>
<g filter="url(#hb2)" opacity="0.7">
<path d="M459.5,38.5 L460.9,39.3 L462.3,41.1 L463.1,44.3 L463.4,47.9 L463.7,51.6 L465.1,54.7 L466.5,57.4 L466.8,60.0 L465.7,62.6 L463.0,64.2 L460.9,64.7 L459.5,64.7 L459.5,64.7 L458.1,64.7 L456.0,64.2 L453.3,62.6 L452.2,60.0 L452.5,57.4 L453.9,54.7 L455.3,51.6 L455.6,47.9 L455.9,44.3 L456.7,41.1 L458.1,39.3 L459.5,38.5Z" fill="#4a4a50"/>
<path d="M472.2,38.5 L473.6,39.3 L475.0,41.1 L475.8,44.3 L476.1,47.9 L476.4,51.6 L477.8,54.7 L479.2,57.4 L479.5,60.0 L478.4,62.6 L475.7,64.2 L473.6,64.7 L472.2,64.7 L472.2,64.7 L470.8,64.7 L468.7,64.2 L466.0,62.6 L464.9,60.0 L465.2,57.4 L466.6,54.7 L468.0,51.6 L468.3,47.9 L468.6,44.3 L469.4,41.1 L470.8,39.3 L472.2,38.5Z" fill="#4a4a50"/>
<path d="M484.8,38.5 L486.2,39.3 L487.6,41.1 L488.4,44.3 L488.7,47.9 L489.0,51.6 L490.4,54.7 L491.8,57.4 L492.1,60.0 L491.0,62.6 L488.3,64.2 L486.2,64.7 L484.8,64.7 L484.8,64.7 L483.4,64.7 L481.3,64.2 L478.6,62.6 L477.5,60.0 L477.8,57.4 L479.2,54.7 L480.6,51.6 L480.9,47.9 L481.2,44.3 L482.0,41.1 L483.4,39.3 L484.8,38.5Z" fill="#4a4a50"/>
<path d="M444.7,72.4 L445.5,73.7 L447.3,75.0 L450.4,75.8 L454.1,76.0 L457.8,76.3 L460.9,77.6 L463.5,78.9 L466.1,79.2 L468.7,78.1 L470.3,75.7 L470.8,73.7 L470.8,72.4 L470.8,72.4 L470.8,71.1 L470.3,69.2 L468.7,66.7 L466.1,65.6 L463.5,65.9 L460.9,67.2 L457.8,68.5 L454.1,68.8 L450.4,69.0 L447.3,69.8 L445.5,71.1 L444.7,72.4Z" fill="#4a4a50"/>
<path d="M471.2,72.4 L472.0,73.7 L473.8,75.0 L476.8,75.8 L480.4,76.0 L483.9,76.3 L487.0,77.6 L489.6,78.9 L492.1,79.2 L494.7,78.1 L496.2,75.7 L496.7,73.7 L496.7,72.4 L496.7,72.4 L496.7,71.1 L496.2,69.2 L494.7,66.7 L492.1,65.6 L489.6,65.9 L487.0,67.2 L483.9,68.5 L480.4,68.8 L476.8,69.0 L473.8,69.8 L472.0,71.1 L471.2,72.4Z" fill="#4a4a50"/>
</g>
<path d="M459.5,61.2 q1.5,4 3,8" stroke="#5a5a5a" stroke-width="0.9" fill="none"/>
<path d="M472.2,61.2 q1.5,4 3,8" stroke="#5a5a5a" stroke-width="0.9" fill="none"/>
<path d="M484.8,61.2 q1.5,4 3,8" stroke="#5a5a5a" stroke-width="0.9" fill="none"/>
<g filter="url(#mb)">
<path d="M459.5,40.0 L460.6,40.7 L461.6,42.3 L462.2,45.1 L462.4,48.4 L462.6,51.6 L463.7,54.4 L464.8,56.7 L465.0,59.0 L464.1,61.3 L462.1,62.7 L460.6,63.2 L459.5,63.2 L459.5,63.2 L458.4,63.2 L456.9,62.7 L454.9,61.3 L454.0,59.0 L454.2,56.7 L455.3,54.4 L456.4,51.6 L456.6,48.4 L456.8,45.1 L457.4,42.3 L458.4,40.7 L459.5,40.0Z" fill="#e4e3ea"/>
<ellipse cx="459.5" cy="46.5" rx="2.7" ry="3.7" fill="#6234bc"/>
<ellipse cx="460.3" cy="50.2" rx="1.2" ry="1.1" fill="#6234bc" opacity="0.8"/>
<ellipse cx="457.0" cy="58.6" rx="2.6" ry="2.8" fill="#6234bc"/>
<ellipse cx="462.0" cy="58.6" rx="2.6" ry="2.8" fill="#6234bc"/>
<ellipse cx="459.5" cy="62.0" rx="1.8" ry="1.1" fill="#6234bc"/>
<path d="M472.2,40.0 L473.2,40.7 L474.3,42.3 L474.9,45.1 L475.1,48.4 L475.3,51.6 L476.4,54.4 L477.4,56.7 L477.7,59.0 L476.8,61.3 L474.8,62.7 L473.2,63.2 L472.2,63.2 L472.2,63.2 L471.1,63.2 L469.6,62.7 L467.6,61.3 L466.7,59.0 L466.9,56.7 L468.0,54.4 L469.1,51.6 L469.3,48.4 L469.5,45.1 L470.1,42.3 L471.1,40.7 L472.2,40.0Z" fill="#e4e3ea"/>
<ellipse cx="472.2" cy="46.5" rx="2.7" ry="3.7" fill="#6234bc"/>
<ellipse cx="473.0" cy="50.2" rx="1.2" ry="1.1" fill="#6234bc" opacity="0.8"/>
<ellipse cx="469.7" cy="58.6" rx="2.6" ry="2.8" fill="#6234bc"/>
<ellipse cx="474.7" cy="58.6" rx="2.6" ry="2.8" fill="#6234bc"/>
<ellipse cx="472.2" cy="62.0" rx="1.8" ry="1.1" fill="#6234bc"/>
<path d="M484.8,40.0 L485.9,40.7 L486.9,42.3 L487.5,45.1 L487.7,48.4 L487.9,51.6 L489.0,54.4 L490.1,56.7 L490.3,59.0 L489.4,61.3 L487.4,62.7 L485.9,63.2 L484.8,63.2 L484.8,63.2 L483.8,63.2 L482.2,62.7 L480.2,61.3 L479.3,59.0 L479.6,56.7 L480.6,54.4 L481.7,51.6 L481.9,48.4 L482.1,45.1 L482.7,42.3 L483.8,40.7 L484.8,40.0Z" fill="#e4e3ea"/>
<ellipse cx="484.8" cy="46.5" rx="2.7" ry="3.7" fill="#6234bc"/>
<ellipse cx="485.6" cy="50.2" rx="1.2" ry="1.1" fill="#6234bc" opacity="0.8"/>
<ellipse cx="482.3" cy="58.6" rx="2.6" ry="2.8" fill="#6234bc"/>
<ellipse cx="487.3" cy="58.6" rx="2.6" ry="2.8" fill="#6234bc"/>
<ellipse cx="484.8" cy="62.0" rx="1.8" ry="1.1" fill="#6234bc"/>
<path d="M446.2,72.4 L446.9,73.4 L448.5,74.4 L451.3,75.0 L454.5,75.2 L457.8,75.4 L460.5,76.4 L462.8,77.4 L465.1,77.6 L467.5,76.8 L468.8,74.9 L469.3,73.4 L469.3,72.4 L469.3,72.4 L469.3,71.4 L468.8,69.9 L467.5,68.0 L465.1,67.2 L462.8,67.4 L460.5,68.4 L457.8,69.4 L454.5,69.6 L451.3,69.8 L448.5,70.4 L446.9,71.4 L446.2,72.4Z" fill="#e4e3ea"/>
<ellipse cx="451.7" cy="72.4" rx="3.7" ry="2.9" fill="#6234bc"/>
<ellipse cx="456.6" cy="74.2" rx="1.6" ry="1.3" fill="#6234bc" opacity="0.85"/>
<ellipse cx="464.7" cy="69.9" rx="2.5" ry="2.2" fill="#6234bc"/>
<ellipse cx="464.7" cy="74.9" rx="2.5" ry="2.2" fill="#6234bc"/>
<ellipse cx="468.1" cy="72.4" rx="1.2" ry="1.5" fill="#6234bc"/>
<path d="M472.7,72.4 L473.4,73.4 L474.9,74.4 L477.6,75.0 L480.8,75.2 L483.9,75.4 L486.6,76.4 L488.9,77.4 L491.1,77.6 L493.4,76.8 L494.8,74.9 L495.2,73.4 L495.2,72.4 L495.2,72.4 L495.2,71.4 L494.8,69.9 L493.4,68.0 L491.1,67.2 L488.9,67.4 L486.6,68.4 L483.9,69.4 L480.8,69.6 L477.6,69.8 L474.9,70.4 L473.4,71.4 L472.7,72.4Z" fill="#e4e3ea"/>
<ellipse cx="478.1" cy="72.4" rx="3.6" ry="2.9" fill="#6234bc"/>
<ellipse cx="482.8" cy="74.2" rx="1.6" ry="1.3" fill="#6234bc" opacity="0.85"/>
<ellipse cx="490.7" cy="69.9" rx="2.5" ry="2.2" fill="#6234bc"/>
<ellipse cx="490.7" cy="74.9" rx="2.5" ry="2.2" fill="#6234bc"/>
<ellipse cx="494.1" cy="72.4" rx="1.2" ry="1.5" fill="#6234bc"/>
</g>
<g filter="url(#mb)">
<path d="M346.2,90.0 L347.4,90.5 L348.4,91.9 L349.3,94.4 L349.7,97.7 L350.1,100.9 L351.2,104.0 L352.1,106.9 L352.3,109.4 L351.6,112.3 L349.7,113.7 L347.4,114.2 L346.2,114.2 L346.2,114.2 L345.0,114.2 L342.7,113.7 L340.8,112.3 L340.1,109.4 L340.3,106.9 L341.2,104.0 L342.3,100.9 L342.7,97.7 L343.1,94.4 L344.0,91.9 L345.0,90.5 L346.2,90.0Z" fill="#6234bc"/>
<path d="M359.4,90.0 L360.6,90.5 L361.6,91.9 L362.5,94.4 L362.9,97.7 L363.3,100.9 L364.4,104.0 L365.3,106.9 L365.5,109.4 L364.8,112.3 L362.9,113.7 L360.6,114.2 L359.4,114.2 L359.4,114.2 L358.2,114.2 L355.9,113.7 L354.0,112.3 L353.3,109.4 L353.5,106.9 L354.4,104.0 L355.5,100.9 L355.9,97.7 L356.3,94.4 L357.2,91.9 L358.2,90.5 L359.4,90.0Z" fill="#6234bc"/>
<path d="M372.1,90.0 L373.3,90.5 L374.3,91.9 L375.2,94.4 L375.6,97.7 L376.0,100.9 L377.1,104.0 L378.0,106.9 L378.2,109.4 L377.5,112.3 L375.6,113.7 L373.3,114.2 L372.1,114.2 L372.1,114.2 L370.9,114.2 L368.6,113.7 L366.7,112.3 L366.0,109.4 L366.2,106.9 L367.1,104.0 L368.2,100.9 L368.6,97.7 L369.0,94.4 L369.9,91.9 L370.9,90.5 L372.1,90.0Z" fill="#6234bc"/>
<path d="M334.6,120.5 L335.1,121.8 L336.4,122.9 L339.2,123.8 L343.4,124.1 L347.1,124.7 L350.1,125.5 L353.1,126.0 L355.9,125.3 L357.2,123.7 L357.7,121.5 L357.7,120.5 L357.7,120.5 L357.7,119.5 L357.2,117.3 L355.9,115.7 L353.1,115.0 L350.1,115.5 L347.1,116.3 L343.4,116.9 L339.2,117.2 L336.4,118.1 L335.1,119.2 L334.6,120.5Z" fill="#6234bc"/>
<path d="M360.6,121.1 L361.1,122.4 L362.5,123.5 L365.3,124.4 L369.6,124.7 L373.3,125.3 L376.4,126.1 L379.5,126.6 L382.3,125.9 L383.7,124.2 L384.2,122.1 L384.2,121.1 L384.2,121.1 L384.2,120.0 L383.7,117.9 L382.3,116.3 L379.5,115.6 L376.4,116.1 L373.3,116.9 L369.6,117.5 L365.3,117.8 L362.5,118.7 L361.1,119.8 L360.6,121.1Z" fill="#6234bc"/>
</g>
<g filter="url(#mb)">
<ellipse cx="343.8" cy="107.8" rx="2.12" ry="2.12" fill="#2ab4d8"/>
<ellipse cx="343.8" cy="107.8" rx="1.76" ry="1.76" fill="#3cba4a"/>
<ellipse cx="343.8" cy="107.8" rx="1.40" ry="1.40" fill="#e8e020"/>
</g>
<g filter="url(#mb)">
<ellipse cx="349.6" cy="108.4" rx="2.12" ry="2.12" fill="#2ab4d8"/>
<ellipse cx="349.6" cy="108.4" rx="1.76" ry="1.76" fill="#3cba4a"/>
<ellipse cx="349.6" cy="108.4" rx="1.40" ry="1.40" fill="#e8e020"/>
<ellipse cx="349.6" cy="108.4" rx="1.04" ry="1.04" fill="#f08020"/>
</g>
<g filter="url(#mb)">
<ellipse cx="346.2" cy="98.0" rx="1.50" ry="1.50" fill="#2ab4d8"/>
</g>
<g filter="url(#mb)">
<ellipse cx="346.2" cy="112.5" rx="1.38" ry="1.38" fill="#2ab4d8"/>
<ellipse cx="346.2" cy="112.5" rx="1.14" ry="1.14" fill="#3cba4a"/>
</g>
<g filter="url(#mb)">
<ellipse cx="357.1" cy="106.1" rx="2.00" ry="2.00" fill="#2ab4d8"/>
<ellipse cx="357.1" cy="106.1" rx="1.66" ry="1.66" fill="#3cba4a"/>
<ellipse cx="357.1" cy="106.1" rx="1.32" ry="1.32" fill="#e8e020"/>
</g>
<g filter="url(#mb)">
<ellipse cx="362.3" cy="106.7" rx="2.00" ry="2.00" fill="#2ab4d8"/>
<ellipse cx="362.3" cy="106.7" rx="1.66" ry="1.66" fill="#3cba4a"/>
<ellipse cx="362.3" cy="106.7" rx="1.32" ry="1.32" fill="#e8e020"/>
</g>
<g filter="url(#mb)">
<ellipse cx="359.4" cy="98.0" rx="1.38" ry="1.38" fill="#2ab4d8"/>
</g>
<g filter="url(#mb)">
<ellipse cx="358.8" cy="93.4" rx="1.12" ry="1.12" fill="#2ab4d8"/>
</g>
<g filter="url(#mb)">
<ellipse cx="369.8" cy="106.7" rx="2.00" ry="2.00" fill="#2ab4d8"/>
<ellipse cx="369.8" cy="106.7" rx="1.66" ry="1.66" fill="#3cba4a"/>
<ellipse cx="369.8" cy="106.7" rx="1.32" ry="1.32" fill="#e8e020"/>
</g>
<g filter="url(#mb)">
<ellipse cx="375.6" cy="106.1" rx="2.00" ry="2.00" fill="#2ab4d8"/>
<ellipse cx="375.6" cy="106.1" rx="1.66" ry="1.66" fill="#3cba4a"/>
<ellipse cx="375.6" cy="106.1" rx="1.32" ry="1.32" fill="#e8e020"/>
</g>
<g filter="url(#mb)">
<ellipse cx="372.1" cy="97.5" rx="1.38" ry="1.38" fill="#2ab4d8"/>
</g>
<g filter="url(#mb)">
<ellipse cx="373.3" cy="111.9" rx="1.38" ry="1.38" fill="#2ab4d8"/>
<ellipse cx="373.3" cy="111.9" rx="1.14" ry="1.14" fill="#3cba4a"/>
</g>
<g filter="url(#mb)">
<ellipse cx="342.1" cy="121.1" rx="1.88" ry="1.88" fill="#2ab4d8"/>
</g>
<g filter="url(#mb)">
<ellipse cx="352.5" cy="118.2" rx="2.12" ry="2.12" fill="#2ab4d8"/>
<ellipse cx="352.5" cy="118.2" rx="1.76" ry="1.76" fill="#3cba4a"/>
<ellipse cx="352.5" cy="118.2" rx="1.40" ry="1.40" fill="#e8e020"/>
</g>
<g filter="url(#mb)">
<ellipse cx="352.5" cy="123.4" rx="1.88" ry="1.88" fill="#2ab4d8"/>
<ellipse cx="352.5" cy="123.4" rx="1.56" ry="1.56" fill="#3cba4a"/>
</g>
<g filter="url(#mb)">
<ellipse cx="367.5" cy="121.7" rx="1.88" ry="1.88" fill="#2ab4d8"/>
</g>
<g filter="url(#mb)">
<ellipse cx="376.7" cy="118.8" rx="2.12" ry="2.12" fill="#2ab4d8"/>
<ellipse cx="376.7" cy="118.8" rx="1.76" ry="1.76" fill="#3cba4a"/>
<ellipse cx="376.7" cy="118.8" rx="1.40" ry="1.40" fill="#e8e020"/>
<ellipse cx="376.7" cy="118.8" rx="1.04" ry="1.04" fill="#f08020"/>
<ellipse cx="376.7" cy="118.8" rx="0.68" ry="0.68" fill="#e02020"/>
</g>
<g filter="url(#mb)">
<ellipse cx="377.3" cy="123.4" rx="2.12" ry="2.12" fill="#2ab4d8"/>
<ellipse cx="377.3" cy="123.4" rx="1.76" ry="1.76" fill="#3cba4a"/>
<ellipse cx="377.3" cy="123.4" rx="1.40" ry="1.40" fill="#e8e020"/>
<ellipse cx="377.3" cy="123.4" rx="1.04" ry="1.04" fill="#f08020"/>
<ellipse cx="377.3" cy="123.4" rx="0.68" ry="0.68" fill="#e02020"/>
</g>
<g filter="url(#mb)">
<path d="M401.7,90.0 L402.9,90.5 L403.9,91.8 L404.8,94.1 L405.2,97.4 L405.6,100.3 L406.7,103.3 L407.6,106.1 L407.8,108.4 L407.1,111.2 L405.2,112.5 L402.9,113.0 L401.7,113.0 L401.7,113.0 L400.5,113.0 L398.2,112.5 L396.3,111.2 L395.6,108.4 L395.8,106.1 L396.7,103.3 L397.8,100.3 L398.2,97.4 L398.6,94.1 L399.5,91.8 L400.5,90.5 L401.7,90.0Z" fill="#6234bc"/>
<path d="M414.4,90.0 L415.6,90.5 L416.6,91.8 L417.5,94.1 L417.9,97.4 L418.3,100.3 L419.4,103.3 L420.3,106.1 L420.5,108.4 L419.8,111.2 L417.9,112.5 L415.6,113.0 L414.4,113.0 L414.4,113.0 L413.2,113.0 L410.9,112.5 L409.0,111.2 L408.3,108.4 L408.5,106.1 L409.4,103.3 L410.5,100.3 L410.9,97.4 L411.3,94.1 L412.2,91.8 L413.2,90.5 L414.4,90.0Z" fill="#6234bc"/>
<path d="M426.5,90.0 L427.7,90.5 L428.7,91.8 L429.6,94.1 L430.0,97.4 L430.4,100.3 L431.5,103.3 L432.4,106.1 L432.6,108.4 L431.9,111.2 L430.0,112.5 L427.7,113.0 L426.5,113.0 L426.5,113.0 L425.3,113.0 L423.0,112.5 L421.1,111.2 L420.4,108.4 L420.6,106.1 L421.5,103.3 L422.6,100.3 L423.0,97.4 L423.4,94.1 L424.3,91.8 L425.3,90.5 L426.5,90.0Z" fill="#6234bc"/>
<path d="M396.0,121.1 L396.4,122.4 L397.7,123.5 L400.3,124.4 L404.1,124.7 L407.5,125.3 L410.3,126.1 L413.0,126.6 L415.6,125.9 L416.9,124.2 L417.3,122.1 L417.3,121.1 L417.3,121.1 L417.3,120.0 L416.9,117.9 L415.6,116.3 L413.0,115.6 L410.3,116.1 L407.5,116.9 L404.1,117.5 L400.3,117.8 L397.7,118.7 L396.4,119.8 L396.0,121.1Z" fill="#6234bc"/>
<path d="M419.0,121.1 L419.4,122.4 L420.8,123.5 L423.5,124.4 L427.6,124.7 L431.1,125.3 L434.1,126.1 L437.0,126.6 L439.7,125.9 L441.1,124.2 L441.5,122.1 L441.5,121.1 L441.5,121.1 L441.5,120.0 L441.1,117.9 L439.7,116.3 L437.0,115.6 L434.1,116.1 L431.1,116.9 L427.6,117.5 L423.5,117.8 L420.8,118.7 L419.4,119.8 L419.0,121.1Z" fill="#6234bc"/>
</g>
<g filter="url(#mb)">
<ellipse cx="398.8" cy="107.3" rx="2.25" ry="2.25" fill="#2ab4d8"/>
<ellipse cx="398.8" cy="107.3" rx="1.87" ry="1.87" fill="#3cba4a"/>
<ellipse cx="398.8" cy="107.3" rx="1.48" ry="1.48" fill="#e8e020"/>
</g>
<g filter="url(#mb)">
<ellipse cx="404.6" cy="106.7" rx="2.25" ry="2.25" fill="#2ab4d8"/>
<ellipse cx="404.6" cy="106.7" rx="1.87" ry="1.87" fill="#3cba4a"/>
<ellipse cx="404.6" cy="106.7" rx="1.48" ry="1.48" fill="#e8e020"/>
</g>
<g filter="url(#mb)">
<ellipse cx="412.5" cy="105.0" rx="2.25" ry="2.25" fill="#2ab4d8"/>
<ellipse cx="412.5" cy="105.0" rx="1.87" ry="1.87" fill="#3cba4a"/>
<ellipse cx="412.5" cy="105.0" rx="1.48" ry="1.48" fill="#e8e020"/>
</g>
<g filter="url(#mb)">
<ellipse cx="417.1" cy="105.3" rx="2.25" ry="2.25" fill="#2ab4d8"/>
<ellipse cx="417.1" cy="105.3" rx="1.87" ry="1.87" fill="#3cba4a"/>
<ellipse cx="417.1" cy="105.3" rx="1.48" ry="1.48" fill="#e8e020"/>
</g>
<g filter="url(#mb)">
<ellipse cx="424.0" cy="105.0" rx="2.38" ry="2.38" fill="#2ab4d8"/>
<ellipse cx="424.0" cy="105.0" rx="1.97" ry="1.97" fill="#3cba4a"/>
<ellipse cx="424.0" cy="105.0" rx="1.57" ry="1.57" fill="#e8e020"/>
<ellipse cx="424.0" cy="105.0" rx="1.16" ry="1.16" fill="#f08020"/>
</g>
<g filter="url(#mb)">
<ellipse cx="429.1" cy="105.5" rx="2.12" ry="2.12" fill="#2ab4d8"/>
<ellipse cx="429.1" cy="105.5" rx="1.76" ry="1.76" fill="#3cba4a"/>
<ellipse cx="429.1" cy="105.5" rx="1.40" ry="1.40" fill="#e8e020"/>
</g>
<g filter="url(#mb)">
<ellipse cx="426.5" cy="96.9" rx="1.38" ry="1.38" fill="#2ab4d8"/>
</g>
<g filter="url(#mb)">
<ellipse cx="426.8" cy="92.6" rx="1.12" ry="1.12" fill="#2ab4d8"/>
</g>
<g filter="url(#mb)">
<ellipse cx="412.1" cy="118.2" rx="1.50" ry="1.50" fill="#2ab4d8"/>
</g>
<g filter="url(#mb)">
<ellipse cx="411.5" cy="123.4" rx="1.50" ry="1.50" fill="#2ab4d8"/>
</g>
<g filter="url(#mb)">
<ellipse cx="430.0" cy="119.6" rx="1.88" ry="1.88" fill="#2ab4d8"/>
<ellipse cx="430.0" cy="119.6" rx="1.56" ry="1.56" fill="#3cba4a"/>
<ellipse cx="430.0" cy="119.6" rx="1.24" ry="1.24" fill="#e8e020"/>
</g>
<g filter="url(#mb)">
<ellipse cx="435.2" cy="118.8" rx="2.00" ry="2.00" fill="#2ab4d8"/>
<ellipse cx="435.2" cy="118.8" rx="1.66" ry="1.66" fill="#3cba4a"/>
<ellipse cx="435.2" cy="118.8" rx="1.32" ry="1.32" fill="#e8e020"/>
<ellipse cx="435.2" cy="118.8" rx="0.98" ry="0.98" fill="#f08020"/>
</g>
<g filter="url(#mb)">
<ellipse cx="435.8" cy="123.4" rx="2.00" ry="2.00" fill="#2ab4d8"/>
<ellipse cx="435.8" cy="123.4" rx="1.66" ry="1.66" fill="#3cba4a"/>
</g>
<g filter="url(#mb)">
<ellipse cx="439.2" cy="120.5" rx="1.50" ry="1.50" fill="#2ab4d8"/>
</g>
<g filter="url(#mb)">
<ellipse cx="408.0" cy="120.5" rx="1.75" ry="1.75" fill="#2ab4d8"/>
</g>
<g filter="url(#hb2)" opacity="0.7">
<path d="M458.9,87.9 L460.3,88.7 L461.7,90.6 L462.5,93.9 L462.8,97.7 L463.1,101.5 L464.5,104.8 L465.9,107.5 L466.2,110.2 L465.1,112.9 L462.4,114.6 L460.3,115.1 L458.9,115.1 L458.9,115.1 L457.5,115.1 L455.4,114.6 L452.7,112.9 L451.6,110.2 L451.9,107.5 L453.3,104.8 L454.7,101.5 L455.0,97.7 L455.3,93.9 L456.1,90.6 L457.5,88.7 L458.9,87.9Z" fill="#4a4a50"/>
<path d="M471.6,87.9 L473.0,88.7 L474.4,90.6 L475.2,93.9 L475.5,97.7 L475.8,101.5 L477.2,104.8 L478.6,107.5 L478.9,110.2 L477.8,112.9 L475.1,114.6 L473.0,115.1 L471.6,115.1 L471.6,115.1 L470.2,115.1 L468.1,114.6 L465.4,112.9 L464.3,110.2 L464.6,107.5 L466.0,104.8 L467.4,101.5 L467.7,97.7 L468.0,93.9 L468.8,90.6 L470.2,88.7 L471.6,87.9Z" fill="#4a4a50"/>
<path d="M483.1,87.9 L484.5,88.7 L485.9,90.6 L486.7,93.9 L487.0,97.7 L487.3,101.5 L488.7,104.8 L490.1,107.5 L490.4,110.2 L489.3,112.9 L486.6,114.6 L484.5,115.1 L483.1,115.1 L483.1,115.1 L481.7,115.1 L479.6,114.6 L476.9,112.9 L475.8,110.2 L476.1,107.5 L477.5,104.8 L478.9,101.5 L479.2,97.7 L479.5,93.9 L480.3,90.6 L481.7,88.7 L483.1,87.9Z" fill="#4a4a50"/>
<path d="M470.1,122.8 L470.9,124.1 L472.9,125.4 L476.2,126.2 L480.1,126.4 L484.0,126.7 L487.3,128.0 L490.1,129.3 L492.9,129.6 L495.7,128.5 L497.3,126.0 L497.9,124.1 L497.9,122.8 L497.9,122.8 L497.9,121.5 L497.3,119.5 L495.7,117.1 L492.9,116.0 L490.1,116.3 L487.3,117.6 L484.0,118.9 L480.1,119.2 L476.2,119.4 L472.9,120.2 L470.9,121.5 L470.1,122.8Z" fill="#4a4a50"/>
</g>
<path d="M458.9,111.6 q1.5,4 3,8" stroke="#5a5a5a" stroke-width="0.9" fill="none"/>
<path d="M471.6,111.6 q1.5,4 3,8" stroke="#5a5a5a" stroke-width="0.9" fill="none"/>
<path d="M483.1,111.6 q1.5,4 3,8" stroke="#5a5a5a" stroke-width="0.9" fill="none"/>
<g filter="url(#mb)">
<path d="M458.9,89.4 L459.9,90.1 L461.0,91.8 L461.6,94.7 L461.8,98.1 L462.0,101.5 L463.1,104.4 L464.1,106.8 L464.4,109.2 L463.5,111.7 L461.5,113.1 L459.9,113.6 L458.9,113.6 L458.9,113.6 L457.8,113.6 L456.3,113.1 L454.3,111.7 L453.4,109.2 L453.6,106.8 L454.7,104.4 L455.8,101.5 L456.0,98.1 L456.2,94.7 L456.8,91.8 L457.8,90.1 L458.9,89.4Z" fill="#e4e3ea"/>
<ellipse cx="458.9" cy="96.2" rx="2.7" ry="3.9" fill="#6234bc"/>
<ellipse cx="459.7" cy="100.0" rx="1.2" ry="1.1" fill="#6234bc" opacity="0.8"/>
<ellipse cx="456.4" cy="108.8" rx="2.6" ry="2.8" fill="#6234bc"/>
<ellipse cx="461.4" cy="108.8" rx="2.6" ry="2.8" fill="#6234bc"/>
<ellipse cx="458.9" cy="112.4" rx="1.8" ry="1.1" fill="#6234bc"/>
<path d="M471.6,89.4 L472.7,90.1 L473.7,91.8 L474.3,94.7 L474.5,98.1 L474.8,101.5 L475.8,104.4 L476.9,106.8 L477.1,109.2 L476.2,111.7 L474.2,113.1 L472.7,113.6 L471.6,113.6 L471.6,113.6 L470.6,113.6 L469.0,113.1 L467.0,111.7 L466.1,109.2 L466.4,106.8 L467.4,104.4 L468.5,101.5 L468.7,98.1 L468.9,94.7 L469.5,91.8 L470.6,90.1 L471.6,89.4Z" fill="#e4e3ea"/>
<ellipse cx="471.6" cy="96.2" rx="2.7" ry="3.9" fill="#6234bc"/>
<ellipse cx="472.4" cy="100.0" rx="1.2" ry="1.1" fill="#6234bc" opacity="0.8"/>
<ellipse cx="469.1" cy="108.8" rx="2.6" ry="2.8" fill="#6234bc"/>
<ellipse cx="474.1" cy="108.8" rx="2.6" ry="2.8" fill="#6234bc"/>
<ellipse cx="471.6" cy="112.4" rx="1.8" ry="1.1" fill="#6234bc"/>
<path d="M483.1,89.4 L484.2,90.1 L485.2,91.8 L485.8,94.7 L486.0,98.1 L486.2,101.5 L487.3,104.4 L488.4,106.8 L488.6,109.2 L487.7,111.7 L485.7,113.1 L484.2,113.6 L483.1,113.6 L483.1,113.6 L482.1,113.6 L480.5,113.1 L478.5,111.7 L477.6,109.2 L477.9,106.8 L478.9,104.4 L480.0,101.5 L480.2,98.1 L480.4,94.7 L481.0,91.8 L482.1,90.1 L483.1,89.4Z" fill="#e4e3ea"/>
<ellipse cx="483.1" cy="96.2" rx="2.7" ry="3.9" fill="#6234bc"/>
<ellipse cx="483.9" cy="100.0" rx="1.2" ry="1.1" fill="#6234bc" opacity="0.8"/>
<ellipse cx="480.6" cy="108.8" rx="2.6" ry="2.8" fill="#6234bc"/>
<ellipse cx="485.6" cy="108.8" rx="2.6" ry="2.8" fill="#6234bc"/>
<ellipse cx="483.1" cy="112.4" rx="1.8" ry="1.1" fill="#6234bc"/>
<path d="M471.6,122.8 L472.3,123.8 L474.1,124.8 L477.1,125.4 L480.5,125.6 L484.0,125.8 L487.0,126.8 L489.5,127.8 L491.9,128.0 L494.4,127.2 L495.9,125.3 L496.4,123.8 L496.4,122.8 L496.4,122.8 L496.4,121.8 L495.9,120.3 L494.4,118.4 L491.9,117.6 L489.5,117.8 L487.0,118.8 L484.0,119.8 L480.5,120.0 L477.1,120.2 L474.1,120.8 L472.3,121.8 L471.6,122.8Z" fill="#e4e3ea"/>
<ellipse cx="477.6" cy="122.8" rx="4.0" ry="2.9" fill="#6234bc"/>
<ellipse cx="482.8" cy="124.6" rx="1.6" ry="1.3" fill="#6234bc" opacity="0.85"/>
<ellipse cx="491.4" cy="120.3" rx="2.5" ry="2.2" fill="#6234bc"/>
<ellipse cx="491.4" cy="125.3" rx="2.5" ry="2.2" fill="#6234bc"/>
<ellipse cx="495.2" cy="122.8" rx="1.2" ry="1.5" fill="#6234bc"/>
</g>
<g filter="url(#mb)">
<path d="M446.8,122.3 L447.2,123.6 L448.5,124.7 L451.1,125.6 L454.9,125.9 L458.3,126.5 L461.1,127.3 L463.8,127.8 L466.4,127.1 L467.7,125.5 L468.1,123.3 L468.1,122.3 L468.1,122.3 L468.1,121.2 L467.7,119.1 L466.4,117.5 L463.8,116.8 L461.1,117.3 L458.3,118.1 L454.9,118.7 L451.1,119.0 L448.5,119.9 L447.2,121.0 L446.8,122.3Z" fill="#6234bc"/>
</g>
<g filter="url(#mb)">
<ellipse cx="453.1" cy="122.8" rx="1.88" ry="1.88" fill="#2ab4d8"/>
</g>
<g filter="url(#mb)">
<ellipse cx="462.9" cy="120.0" rx="1.88" ry="1.88" fill="#2ab4d8"/>
<ellipse cx="462.9" cy="120.0" rx="1.56" ry="1.56" fill="#3cba4a"/>
<ellipse cx="462.9" cy="120.0" rx="1.24" ry="1.24" fill="#e8e020"/>
</g>
<g filter="url(#mb)">
<ellipse cx="461.8" cy="125.2" rx="1.88" ry="1.88" fill="#2ab4d8"/>
<ellipse cx="461.8" cy="125.2" rx="1.56" ry="1.56" fill="#3cba4a"/>
<ellipse cx="461.8" cy="125.2" rx="1.24" ry="1.24" fill="#e8e020"/>
</g>
<defs><filter id="hb2" x="-30%" y="-30%" width="160%" height="160%"><feGaussianBlur stdDeviation="1.3"/></filter></defs>
<rect x="331" y="131.5" width="55" height="49.1" fill="#1a0c3e"/>
<rect x="387" y="131.5" width="55" height="49.1" fill="#1a0c3e"/>
<rect x="443" y="131.5" width="56" height="49.1" fill="#0e0820"/>
<g filter="url(#hb2)">
<path d="M346.7,140.0 L348.5,140.5 L350.1,142.2 L351.3,145.4 L351.7,150.3 L352.6,154.6 L353.8,158.1 L354.4,161.6 L353.5,164.8 L351.2,166.5 L348.2,167.0 L346.7,167.0 L346.7,167.0 L345.2,167.0 L342.2,166.5 L339.9,164.8 L339.0,161.6 L339.6,158.1 L340.8,154.6 L341.7,150.3 L342.1,145.4 L343.3,142.2 L344.9,140.5 L346.7,140.0Z" fill="#4a28aa"/>
<path d="M359.8,140.0 L361.6,140.5 L363.2,142.2 L364.4,145.4 L364.8,150.3 L365.7,154.6 L366.9,158.1 L367.5,161.6 L366.6,164.8 L364.3,166.5 L361.3,167.0 L359.8,167.0 L359.8,167.0 L358.3,167.0 L355.3,166.5 L353.0,164.8 L352.1,161.6 L352.7,158.1 L353.9,154.6 L354.8,150.3 L355.2,145.4 L356.4,142.2 L358.0,140.5 L359.8,140.0Z" fill="#4a28aa"/>
<path d="M372.7,140.0 L374.5,140.5 L376.1,142.2 L377.3,145.4 L377.7,150.3 L378.6,154.6 L379.8,158.1 L380.4,161.6 L379.5,164.8 L377.2,166.5 L374.2,167.0 L372.7,167.0 L372.7,167.0 L371.2,167.0 L368.2,166.5 L365.9,164.8 L365.0,161.6 L365.6,158.1 L366.8,154.6 L367.7,150.3 L368.1,145.4 L369.3,142.2 L370.9,140.5 L372.7,140.0Z" fill="#4a28aa"/>
<path d="M333.8,171.7 L334.3,173.5 L335.7,175.1 L338.6,176.3 L343.0,176.8 L346.9,177.7 L350.0,178.9 L353.2,179.5 L356.1,178.6 L357.5,176.2 L358.0,173.2 L358.0,171.7 L358.0,171.7 L358.0,170.2 L357.5,167.2 L356.1,164.8 L353.2,163.9 L350.0,164.5 L346.9,165.7 L343.0,166.6 L338.6,167.0 L335.7,168.2 L334.3,169.9 L333.8,171.7Z" fill="#4a28aa"/>
<path d="M359.2,171.7 L359.7,173.5 L361.1,175.1 L363.9,176.3 L368.2,176.8 L371.9,177.7 L375.0,178.9 L378.1,179.5 L380.9,178.6 L382.3,176.2 L382.8,173.2 L382.8,171.7 L382.8,171.7 L382.8,170.2 L382.3,167.2 L380.9,164.8 L378.1,163.9 L375.0,164.5 L371.9,165.7 L368.2,166.6 L363.9,167.0 L361.1,168.2 L359.7,169.9 L359.2,171.7Z" fill="#4a28aa"/>
</g>
<g filter="url(#hb2)">
<path d="M401.7,140.0 L403.5,140.5 L405.1,142.2 L406.3,145.4 L406.7,150.3 L407.6,154.6 L408.8,158.1 L409.4,161.6 L408.5,164.8 L406.2,166.5 L403.2,167.0 L401.7,167.0 L401.7,167.0 L400.2,167.0 L397.2,166.5 L394.9,164.8 L394.0,161.6 L394.6,158.1 L395.8,154.6 L396.7,150.3 L397.1,145.4 L398.3,142.2 L399.9,140.5 L401.7,140.0Z" fill="#4a28aa"/>
<path d="M414.8,140.0 L416.6,140.5 L418.2,142.2 L419.4,145.4 L419.8,150.3 L420.7,154.6 L421.9,158.1 L422.5,161.6 L421.6,164.8 L419.3,166.5 L416.3,167.0 L414.8,167.0 L414.8,167.0 L413.3,167.0 L410.3,166.5 L408.0,164.8 L407.1,161.6 L407.7,158.1 L408.9,154.6 L409.8,150.3 L410.2,145.4 L411.4,142.2 L413.0,140.5 L414.8,140.0Z" fill="#4a28aa"/>
<path d="M426.3,139.0 L428.1,139.6 L429.7,141.2 L430.9,144.6 L431.3,149.6 L432.2,154.1 L433.4,157.8 L434.0,161.4 L433.1,164.8 L430.8,166.4 L427.8,167.0 L426.3,167.0 L426.3,167.0 L424.8,167.0 L421.8,166.4 L419.5,164.8 L418.6,161.4 L419.2,157.8 L420.4,154.1 L421.3,149.6 L421.7,144.6 L422.9,141.2 L424.5,139.6 L426.3,139.0Z" fill="#4a28aa"/>
<path d="M391.0,171.1 L391.5,172.9 L392.9,174.5 L395.7,175.8 L400.0,176.2 L403.8,177.1 L406.9,178.3 L410.0,178.9 L412.8,178.0 L414.2,175.6 L414.7,172.6 L414.7,171.1 L414.7,171.1 L414.7,169.6 L414.2,166.6 L412.8,164.2 L410.0,163.3 L406.9,163.9 L403.8,165.1 L400.0,166.0 L395.7,166.4 L392.9,167.7 L391.5,169.3 L391.0,171.1Z" fill="#4a28aa"/>
<path d="M416.5,171.1 L417.0,172.9 L418.5,174.5 L421.4,175.8 L425.9,176.2 L429.8,177.1 L433.0,178.3 L436.3,178.9 L439.2,178.0 L440.7,175.6 L441.2,172.6 L441.2,171.1 L441.2,171.1 L441.2,169.6 L440.7,166.6 L439.2,164.2 L436.3,163.3 L433.0,163.9 L429.8,165.1 L425.9,166.0 L421.4,166.4 L418.5,167.7 L417.0,169.3 L416.5,171.1Z" fill="#4a28aa"/>
</g>
<g filter="url(#hb2)">
<path d="M457.7,137.4 L459.3,137.9 L460.7,139.6 L461.8,142.8 L462.2,147.7 L463.0,152.0 L464.0,155.6 L464.6,159.1 L463.8,162.3 L461.7,164.0 L459.0,164.5 L457.7,164.5 L457.7,164.5 L456.4,164.5 L453.7,164.0 L451.6,162.3 L450.8,159.1 L451.4,155.6 L452.4,152.0 L453.2,147.7 L453.6,142.8 L454.7,139.6 L456.1,137.9 L457.7,137.4Z" fill="#3a1c88"/>
<path d="M470.8,137.4 L472.4,137.9 L473.8,139.6 L474.9,142.8 L475.3,147.7 L476.1,152.0 L477.1,155.6 L477.7,159.1 L476.9,162.3 L474.8,164.0 L472.1,164.5 L470.8,164.5 L470.8,164.5 L469.5,164.5 L466.8,164.0 L464.7,162.3 L463.9,159.1 L464.5,155.6 L465.5,152.0 L466.3,147.7 L466.7,142.8 L467.8,139.6 L469.2,137.9 L470.8,137.4Z" fill="#3a1c88"/>
<path d="M482.0,137.4 L483.6,137.9 L485.0,139.6 L486.1,142.8 L486.5,147.7 L487.3,152.0 L488.3,155.6 L488.9,159.1 L488.1,162.3 L486.0,164.0 L483.3,164.5 L482.0,164.5 L482.0,164.5 L480.7,164.5 L478.0,164.0 L475.9,162.3 L475.1,159.1 L475.7,155.6 L476.7,152.0 L477.5,147.7 L477.9,142.8 L479.0,139.6 L480.4,137.9 L482.0,137.4Z" fill="#3a1c88"/>
<path d="M443.6,171.1 L444.1,172.7 L445.7,174.1 L448.8,175.1 L453.4,175.5 L457.6,176.3 L461.0,177.3 L464.3,177.9 L467.4,177.1 L469.0,175.0 L469.5,172.4 L469.5,171.1 L469.5,171.1 L469.5,169.8 L469.0,167.2 L467.4,165.1 L464.3,164.3 L461.0,164.9 L457.6,165.9 L453.4,166.7 L448.8,167.1 L445.7,168.1 L444.1,169.5 L443.6,171.1Z" fill="#3a1c88"/>
<path d="M469.6,171.1 L470.2,172.7 L471.9,174.1 L475.2,175.1 L480.3,175.5 L484.8,176.3 L488.5,177.3 L492.2,177.9 L495.5,177.1 L497.2,175.0 L497.8,172.4 L497.8,171.1 L497.8,171.1 L497.8,169.8 L497.2,167.2 L495.5,165.1 L492.2,164.3 L488.5,164.9 L484.8,165.9 L480.3,166.7 L475.2,167.1 L471.9,168.1 L470.2,169.5 L469.6,171.1Z" fill="#3a1c88"/>
</g>
<g filter="url(#mb)">
<path d="M346.7,142.0 L347.9,142.5 L348.9,143.8 L349.8,146.1 L350.2,149.4 L350.6,152.3 L351.7,155.3 L352.6,158.1 L352.8,160.4 L352.1,163.2 L350.2,164.5 L347.9,165.0 L346.7,165.0 L346.7,165.0 L345.5,165.0 L343.2,164.5 L341.3,163.2 L340.6,160.4 L340.8,158.1 L341.7,155.3 L342.8,152.3 L343.2,149.4 L343.6,146.1 L344.5,143.8 L345.5,142.5 L346.7,142.0Z" fill="#5a34c0"/>
<path d="M359.8,142.0 L361.0,142.5 L362.0,143.8 L362.9,146.1 L363.3,149.4 L363.7,152.3 L364.8,155.3 L365.7,158.1 L365.9,160.4 L365.2,163.2 L363.3,164.5 L361.0,165.0 L359.8,165.0 L359.8,165.0 L358.6,165.0 L356.3,164.5 L354.4,163.2 L353.7,160.4 L353.9,158.1 L354.8,155.3 L355.9,152.3 L356.3,149.4 L356.7,146.1 L357.6,143.8 L358.6,142.5 L359.8,142.0Z" fill="#5a34c0"/>
<path d="M372.7,142.0 L373.9,142.5 L374.9,143.8 L375.8,146.1 L376.2,149.4 L376.6,152.3 L377.7,155.3 L378.6,158.1 L378.8,160.4 L378.1,163.2 L376.2,164.5 L373.9,165.0 L372.7,165.0 L372.7,165.0 L371.5,165.0 L369.2,164.5 L367.3,163.2 L366.6,160.4 L366.8,158.1 L367.7,155.3 L368.8,152.3 L369.2,149.4 L369.6,146.1 L370.5,143.8 L371.5,142.5 L372.7,142.0Z" fill="#5a34c0"/>
<path d="M335.8,171.7 L336.2,173.0 L337.4,174.1 L339.8,175.0 L343.5,175.3 L346.7,175.9 L349.3,176.7 L352.0,177.2 L354.4,176.5 L355.6,174.8 L356.0,172.8 L356.0,171.7 L356.0,171.7 L356.0,170.6 L355.6,168.5 L354.4,166.9 L352.0,166.2 L349.3,166.7 L346.7,167.5 L343.5,168.1 L339.8,168.4 L337.4,169.3 L336.2,170.4 L335.8,171.7Z" fill="#5a34c0"/>
<path d="M361.2,171.7 L361.6,173.0 L362.8,174.1 L365.1,175.0 L368.6,175.3 L371.8,175.9 L374.3,176.7 L376.9,177.2 L379.2,176.5 L380.4,174.8 L380.8,172.8 L380.8,171.7 L380.8,171.7 L380.8,170.6 L380.4,168.5 L379.2,166.9 L376.9,166.2 L374.3,166.7 L371.8,167.5 L368.6,168.1 L365.1,168.4 L362.8,169.3 L361.6,170.4 L361.2,171.7Z" fill="#5a34c0"/>
</g>
<g filter="url(#mb)">
<path d="M401.7,142.0 L402.9,142.5 L403.9,143.8 L404.8,146.1 L405.2,149.4 L405.6,152.3 L406.7,155.3 L407.6,158.1 L407.8,160.4 L407.1,163.2 L405.2,164.5 L402.9,165.0 L401.7,165.0 L401.7,165.0 L400.5,165.0 L398.2,164.5 L396.3,163.2 L395.6,160.4 L395.8,158.1 L396.7,155.3 L397.8,152.3 L398.2,149.4 L398.6,146.1 L399.5,143.8 L400.5,142.5 L401.7,142.0Z" fill="#5a34c0"/>
<path d="M414.8,142.0 L416.0,142.5 L417.0,143.8 L417.9,146.1 L418.3,149.4 L418.7,152.3 L419.8,155.3 L420.7,158.1 L420.9,160.4 L420.2,163.2 L418.3,164.5 L416.0,165.0 L414.8,165.0 L414.8,165.0 L413.6,165.0 L411.3,164.5 L409.4,163.2 L408.7,160.4 L408.9,158.1 L409.8,155.3 L410.9,152.3 L411.3,149.4 L411.7,146.1 L412.6,143.8 L413.6,142.5 L414.8,142.0Z" fill="#5a34c0"/>
<path d="M426.3,141.0 L427.5,141.5 L428.5,142.9 L429.4,145.3 L429.8,148.7 L430.2,151.8 L431.3,154.9 L432.2,157.8 L432.4,160.2 L431.7,163.1 L429.8,164.5 L427.5,165.0 L426.3,165.0 L426.3,165.0 L425.1,165.0 L422.8,164.5 L420.9,163.1 L420.2,160.2 L420.4,157.8 L421.3,154.9 L422.4,151.8 L422.8,148.7 L423.2,145.3 L424.1,142.9 L425.1,141.5 L426.3,141.0Z" fill="#5a34c0"/>
<path d="M393.0,171.1 L393.4,172.4 L394.6,173.5 L396.9,174.4 L400.5,174.7 L403.6,175.3 L406.2,176.1 L408.8,176.6 L411.1,175.9 L412.3,174.2 L412.7,172.2 L412.7,171.1 L412.7,171.1 L412.7,170.0 L412.3,167.9 L411.1,166.3 L408.8,165.6 L406.2,166.1 L403.6,166.9 L400.5,167.5 L396.9,167.8 L394.6,168.7 L393.4,169.8 L393.0,171.1Z" fill="#5a34c0"/>
<path d="M418.5,171.1 L418.9,172.4 L420.2,173.5 L422.6,174.4 L426.4,174.7 L429.7,175.3 L432.4,176.1 L435.1,176.6 L437.5,175.9 L438.8,174.2 L439.2,172.2 L439.2,171.1 L439.2,171.1 L439.2,170.0 L438.8,167.9 L437.5,166.3 L435.1,165.6 L432.4,166.1 L429.7,166.9 L426.4,167.5 L422.6,167.8 L420.2,168.7 L418.9,169.8 L418.5,171.1Z" fill="#5a34c0"/>
</g>
<g filter="url(#mb)">
<ellipse cx="346.5" cy="147.5" rx="2.20" ry="4.50" fill="#2aa8e0"/>
<ellipse cx="346.5" cy="147.5" rx="1.89" ry="3.87" fill="#3fbf48"/>
</g>
<g filter="url(#mb)">
<ellipse cx="347.9" cy="146.3" rx="1.60" ry="1.80" fill="#2aa8e0"/>
<ellipse cx="347.9" cy="146.3" rx="1.38" ry="1.55" fill="#3fbf48"/>
<ellipse cx="347.9" cy="146.3" rx="1.22" ry="1.37" fill="#e6e024"/>
<ellipse cx="347.9" cy="146.3" rx="1.07" ry="1.21" fill="#e02418"/>
</g>
<g filter="url(#mb)">
<ellipse cx="346.5" cy="157.5" rx="5.20" ry="6.00" fill="#2aa8e0"/>
<ellipse cx="346.5" cy="157.5" rx="4.47" ry="5.16" fill="#3fbf48"/>
<ellipse cx="346.5" cy="157.5" rx="3.95" ry="4.56" fill="#e6e024"/>
<ellipse cx="346.5" cy="157.5" rx="3.48" ry="4.02" fill="#e02418"/>
</g>
<g filter="url(#mb)">
<ellipse cx="359.8" cy="145.5" rx="3.00" ry="3.20" fill="#2aa8e0"/>
<ellipse cx="359.8" cy="145.5" rx="2.58" ry="2.75" fill="#3fbf48"/>
<ellipse cx="359.8" cy="145.5" rx="2.28" ry="2.43" fill="#e6e024"/>
<ellipse cx="359.8" cy="145.5" rx="2.01" ry="2.14" fill="#e02418"/>
</g>
<g filter="url(#mb)">
<ellipse cx="359.8" cy="149.0" rx="2.50" ry="3.00" fill="#2aa8e0"/>
<ellipse cx="359.8" cy="149.0" rx="2.15" ry="2.58" fill="#3fbf48"/>
</g>
<g filter="url(#mb)">
<ellipse cx="359.8" cy="156.8" rx="5.20" ry="7.60" fill="#2aa8e0"/>
<ellipse cx="359.8" cy="156.8" rx="4.47" ry="6.54" fill="#3fbf48"/>
<ellipse cx="359.8" cy="156.8" rx="3.95" ry="5.78" fill="#e6e024"/>
<ellipse cx="359.8" cy="156.8" rx="3.48" ry="5.09" fill="#e02418"/>
</g>
<g filter="url(#mb)">
<ellipse cx="372.5" cy="148.0" rx="2.60" ry="4.00" fill="#2aa8e0"/>
<ellipse cx="372.5" cy="148.0" rx="2.24" ry="3.44" fill="#3fbf48"/>
</g>
<g filter="url(#mb)">
<ellipse cx="372.9" cy="156.3" rx="5.40" ry="7.00" fill="#2aa8e0"/>
<ellipse cx="372.9" cy="156.3" rx="4.64" ry="6.02" fill="#3fbf48"/>
<ellipse cx="372.9" cy="156.3" rx="4.10" ry="5.32" fill="#e6e024"/>
<ellipse cx="372.9" cy="156.3" rx="3.62" ry="4.69" fill="#e02418"/>
</g>
<g filter="url(#mb)">
<ellipse cx="339.5" cy="171.7" rx="4.00" ry="2.40" fill="#2aa8e0"/>
<ellipse cx="339.5" cy="171.7" rx="3.44" ry="2.06" fill="#3fbf48"/>
</g>
<g filter="url(#mb)">
<ellipse cx="348.5" cy="171.7" rx="7.50" ry="4.80" fill="#2aa8e0"/>
<ellipse cx="348.5" cy="171.7" rx="6.45" ry="4.13" fill="#3fbf48"/>
<ellipse cx="348.5" cy="171.7" rx="5.70" ry="3.65" fill="#e6e024"/>
<ellipse cx="348.5" cy="171.7" rx="5.03" ry="3.22" fill="#e02418"/>
</g>
<g filter="url(#mb)">
<ellipse cx="366.0" cy="171.5" rx="4.00" ry="2.60" fill="#2aa8e0"/>
<ellipse cx="366.0" cy="171.5" rx="3.44" ry="2.24" fill="#3fbf48"/>
</g>
<g filter="url(#mb)">
<ellipse cx="374.0" cy="172.5" rx="5.00" ry="4.00" fill="#2aa8e0"/>
<ellipse cx="374.0" cy="172.5" rx="4.30" ry="3.44" fill="#3fbf48"/>
<ellipse cx="374.0" cy="172.5" rx="3.80" ry="3.04" fill="#e6e024"/>
<ellipse cx="374.0" cy="172.5" rx="3.35" ry="2.68" fill="#e02418"/>
</g>
<g filter="url(#mb)">
<ellipse cx="377.0" cy="169.8" rx="2.50" ry="2.20" fill="#2aa8e0"/>
<ellipse cx="377.0" cy="169.8" rx="2.15" ry="1.89" fill="#3fbf48"/>
<ellipse cx="377.0" cy="169.8" rx="1.90" ry="1.67" fill="#e6e024"/>
<ellipse cx="377.0" cy="169.8" rx="1.68" ry="1.47" fill="#e02418"/>
</g>
<g filter="url(#mb)">
<ellipse cx="401.7" cy="150.0" rx="2.40" ry="5.00" fill="#2aa8e0"/>
<ellipse cx="401.7" cy="150.0" rx="2.06" ry="4.30" fill="#3fbf48"/>
</g>
<g filter="url(#mb)">
<ellipse cx="401.7" cy="159.6" rx="5.00" ry="5.00" fill="#2aa8e0"/>
<ellipse cx="401.7" cy="159.6" rx="4.30" ry="4.30" fill="#3fbf48"/>
<ellipse cx="401.7" cy="159.6" rx="3.80" ry="3.80" fill="#e6e024"/>
<ellipse cx="401.7" cy="159.6" rx="3.35" ry="3.35" fill="#e02418"/>
</g>
<g filter="url(#mb)">
<ellipse cx="414.8" cy="146.3" rx="2.20" ry="2.60" fill="#2aa8e0"/>
<ellipse cx="414.8" cy="146.3" rx="1.89" ry="2.24" fill="#3fbf48"/>
<ellipse cx="414.8" cy="146.3" rx="1.67" ry="1.98" fill="#e6e024"/>
<ellipse cx="414.8" cy="146.3" rx="1.47" ry="1.74" fill="#e02418"/>
</g>
<g filter="url(#mb)">
<ellipse cx="414.8" cy="151.0" rx="2.00" ry="2.50" fill="#2aa8e0"/>
<ellipse cx="414.8" cy="151.0" rx="1.72" ry="2.15" fill="#3fbf48"/>
</g>
<g filter="url(#mb)">
<ellipse cx="414.4" cy="157.3" rx="4.80" ry="4.40" fill="#2aa8e0"/>
<ellipse cx="414.4" cy="157.3" rx="4.13" ry="3.78" fill="#3fbf48"/>
<ellipse cx="414.4" cy="157.3" rx="3.65" ry="3.34" fill="#e6e024"/>
<ellipse cx="414.4" cy="157.3" rx="3.22" ry="2.95" fill="#e02418"/>
</g>
<g filter="url(#mb)">
<ellipse cx="427.1" cy="143.8" rx="2.20" ry="2.40" fill="#2aa8e0"/>
<ellipse cx="427.1" cy="143.8" rx="1.89" ry="2.06" fill="#3fbf48"/>
<ellipse cx="427.1" cy="143.8" rx="1.67" ry="1.82" fill="#e6e024"/>
<ellipse cx="427.1" cy="143.8" rx="1.47" ry="1.61" fill="#e02418"/>
</g>
<g filter="url(#mb)">
<ellipse cx="426.5" cy="149.0" rx="2.40" ry="3.50" fill="#2aa8e0"/>
<ellipse cx="426.5" cy="149.0" rx="2.06" ry="3.01" fill="#3fbf48"/>
</g>
<g filter="url(#mb)">
<ellipse cx="425.6" cy="155.5" rx="6.00" ry="6.20" fill="#2aa8e0"/>
<ellipse cx="425.6" cy="155.5" rx="5.16" ry="5.33" fill="#3fbf48"/>
<ellipse cx="425.6" cy="155.5" rx="4.56" ry="4.71" fill="#e6e024"/>
<ellipse cx="425.6" cy="155.5" rx="4.02" ry="4.15" fill="#e02418"/>
</g>
<g filter="url(#mb)">
<ellipse cx="396.0" cy="171.5" rx="3.50" ry="2.20" fill="#2aa8e0"/>
<ellipse cx="396.0" cy="171.5" rx="3.01" ry="1.89" fill="#3fbf48"/>
</g>
<g filter="url(#mb)">
<ellipse cx="405.2" cy="171.1" rx="7.00" ry="4.60" fill="#2aa8e0"/>
<ellipse cx="405.2" cy="171.1" rx="6.02" ry="3.96" fill="#3fbf48"/>
<ellipse cx="405.2" cy="171.1" rx="5.32" ry="3.50" fill="#e6e024"/>
<ellipse cx="405.2" cy="171.1" rx="4.69" ry="3.08" fill="#e02418"/>
</g>
<g filter="url(#mb)">
<ellipse cx="422.0" cy="170.5" rx="3.50" ry="2.50" fill="#2aa8e0"/>
<ellipse cx="422.0" cy="170.5" rx="3.01" ry="2.15" fill="#3fbf48"/>
<ellipse cx="422.0" cy="170.5" rx="2.66" ry="1.90" fill="#e6e024"/>
<ellipse cx="422.0" cy="170.5" rx="2.35" ry="1.68" fill="#e02418"/>
</g>
<g filter="url(#mb)">
<ellipse cx="430.0" cy="171.5" rx="4.00" ry="3.60" fill="#2aa8e0"/>
<ellipse cx="430.0" cy="171.5" rx="3.44" ry="3.10" fill="#3fbf48"/>
<ellipse cx="430.0" cy="171.5" rx="3.04" ry="2.74" fill="#e6e024"/>
<ellipse cx="430.0" cy="171.5" rx="2.68" ry="2.41" fill="#e02418"/>
</g>
<g filter="url(#mb)">
<ellipse cx="434.5" cy="170.5" rx="4.00" ry="4.00" fill="#2aa8e0"/>
<ellipse cx="434.5" cy="170.5" rx="3.44" ry="3.44" fill="#3fbf48"/>
<ellipse cx="434.5" cy="170.5" rx="3.04" ry="3.04" fill="#e6e024"/>
<ellipse cx="434.5" cy="170.5" rx="2.68" ry="2.68" fill="#e02418"/>
</g>
<g filter="url(#mb)">
<path d="M457.7,139.4 L458.9,139.9 L459.9,141.2 L460.8,143.6 L461.2,146.8 L461.6,149.8 L462.7,152.8 L463.6,155.6 L463.8,157.9 L463.1,160.7 L461.2,162.0 L458.9,162.5 L457.7,162.5 L457.7,162.5 L456.5,162.5 L454.2,162.0 L452.3,160.7 L451.6,157.9 L451.8,155.6 L452.7,152.8 L453.8,149.8 L454.2,146.8 L454.6,143.6 L455.5,141.2 L456.5,139.9 L457.7,139.4Z" fill="#5530b8"/>
<path d="M470.8,139.4 L472.0,139.9 L473.0,141.2 L473.9,143.6 L474.3,146.8 L474.7,149.8 L475.8,152.8 L476.7,155.6 L476.9,157.9 L476.2,160.7 L474.3,162.0 L472.0,162.5 L470.8,162.5 L470.8,162.5 L469.6,162.5 L467.3,162.0 L465.4,160.7 L464.7,157.9 L464.9,155.6 L465.8,152.8 L466.9,149.8 L467.3,146.8 L467.7,143.6 L468.6,141.2 L469.6,139.9 L470.8,139.4Z" fill="#5530b8"/>
<path d="M482.0,139.4 L483.2,139.9 L484.2,141.2 L485.1,143.6 L485.5,146.8 L485.9,149.8 L487.0,152.8 L487.9,155.6 L488.1,157.9 L487.4,160.7 L485.5,162.0 L483.2,162.5 L482.0,162.5 L482.0,162.5 L480.8,162.5 L478.5,162.0 L476.6,160.7 L475.9,157.9 L476.1,155.6 L477.0,152.8 L478.1,149.8 L478.5,146.8 L478.9,143.6 L479.8,141.2 L480.8,139.9 L482.0,139.4Z" fill="#5530b8"/>
<path d="M445.6,171.1 L446.0,172.4 L447.4,173.5 L450.0,174.4 L453.9,174.7 L457.4,175.3 L460.3,176.1 L463.1,176.6 L465.7,175.9 L467.1,174.2 L467.5,172.2 L467.5,171.1 L467.5,171.1 L467.5,170.0 L467.1,167.9 L465.7,166.3 L463.1,165.6 L460.3,166.1 L457.4,166.9 L453.9,167.5 L450.0,167.8 L447.4,168.7 L446.0,169.8 L445.6,171.1Z" fill="#5530b8"/>
<path d="M471.6,171.1 L472.1,172.4 L473.5,173.5 L476.4,174.4 L480.8,174.7 L484.7,175.3 L487.8,176.1 L491.0,176.6 L493.9,175.9 L495.3,174.2 L495.8,172.2 L495.8,171.1 L495.8,171.1 L495.8,170.0 L495.3,167.9 L493.9,166.3 L491.0,165.6 L487.8,166.1 L484.7,166.9 L480.8,167.5 L476.4,167.8 L473.5,168.7 L472.1,169.8 L471.6,171.1Z" fill="#5530b8"/>
</g>
<g filter="url(#mb)">
<ellipse cx="456.0" cy="157.3" rx="2.88" ry="2.88" fill="#2ab4d8"/>
<ellipse cx="456.0" cy="157.3" rx="2.39" ry="2.39" fill="#3cba4a"/>
<ellipse cx="456.0" cy="157.3" rx="1.90" ry="1.90" fill="#e8e020"/>
<ellipse cx="456.0" cy="157.3" rx="1.41" ry="1.41" fill="#f08020"/>
<ellipse cx="456.0" cy="157.3" rx="0.92" ry="0.92" fill="#e02020"/>
</g>
<g filter="url(#mb)">
<ellipse cx="461.2" cy="158.4" rx="1.75" ry="1.75" fill="#2ab4d8"/>
<ellipse cx="461.2" cy="158.4" rx="1.45" ry="1.45" fill="#3cba4a"/>
</g>
<g filter="url(#mb)">
<ellipse cx="458.3" cy="142.8" rx="1.75" ry="1.75" fill="#2ab4d8"/>
<ellipse cx="458.3" cy="142.8" rx="1.45" ry="1.45" fill="#3cba4a"/>
</g>
<g filter="url(#mb)">
<ellipse cx="458.3" cy="148.0" rx="1.25" ry="1.25" fill="#2ab4d8"/>
</g>
<g filter="url(#mb)">
<ellipse cx="473.3" cy="156.7" rx="2.38" ry="2.38" fill="#2ab4d8"/>
<ellipse cx="473.3" cy="156.7" rx="1.97" ry="1.97" fill="#3cba4a"/>
<ellipse cx="473.3" cy="156.7" rx="1.57" ry="1.57" fill="#e8e020"/>
<ellipse cx="473.3" cy="156.7" rx="1.16" ry="1.16" fill="#f08020"/>
<ellipse cx="473.3" cy="156.7" rx="0.76" ry="0.76" fill="#e02020"/>
</g>
<g filter="url(#mb)">
<ellipse cx="470.4" cy="151.5" rx="1.12" ry="1.12" fill="#2ab4d8"/>
</g>
<g filter="url(#mb)">
<ellipse cx="469.3" cy="141.7" rx="1.00" ry="1.00" fill="#2ab4d8"/>
</g>
<g filter="url(#mb)">
<ellipse cx="479.1" cy="156.7" rx="1.75" ry="1.75" fill="#2ab4d8"/>
<ellipse cx="479.1" cy="156.7" rx="1.45" ry="1.45" fill="#3cba4a"/>
</g>
<g filter="url(#mb)">
<ellipse cx="485.4" cy="157.3" rx="1.62" ry="1.62" fill="#2ab4d8"/>
</g>
<g filter="url(#mb)">
<ellipse cx="482.0" cy="148.0" rx="1.50" ry="1.50" fill="#2ab4d8"/>
</g>
<g filter="url(#mb)">
<ellipse cx="461.2" cy="174.0" rx="2.50" ry="2.50" fill="#2ab4d8"/>
<ellipse cx="461.2" cy="174.0" rx="2.07" ry="2.07" fill="#3cba4a"/>
<ellipse cx="461.2" cy="174.0" rx="1.65" ry="1.65" fill="#e8e020"/>
<ellipse cx="461.2" cy="174.0" rx="1.23" ry="1.23" fill="#f08020"/>
<ellipse cx="461.2" cy="174.0" rx="0.80" ry="0.80" fill="#e02020"/>
</g>
<g filter="url(#mb)">
<ellipse cx="457.2" cy="169.4" rx="1.62" ry="1.62" fill="#2ab4d8"/>
<ellipse cx="457.2" cy="169.4" rx="1.35" ry="1.35" fill="#3cba4a"/>
</g>
<g filter="url(#mb)">
<ellipse cx="461.2" cy="168.8" rx="1.62" ry="1.62" fill="#2ab4d8"/>
<ellipse cx="461.2" cy="168.8" rx="1.35" ry="1.35" fill="#3cba4a"/>
</g>
<g filter="url(#mb)">
<ellipse cx="451.4" cy="171.7" rx="1.38" ry="1.38" fill="#2ab4d8"/>
</g>
<g filter="url(#mb)">
<ellipse cx="489.5" cy="169.4" rx="3.25" ry="3.25" fill="#2ab4d8"/>
<ellipse cx="489.5" cy="169.4" rx="2.70" ry="2.70" fill="#3cba4a"/>
<ellipse cx="489.5" cy="169.4" rx="2.14" ry="2.14" fill="#e8e020"/>
<ellipse cx="489.5" cy="169.4" rx="1.59" ry="1.59" fill="#f08020"/>
<ellipse cx="489.5" cy="169.4" rx="1.04" ry="1.04" fill="#e02020"/>
</g>
<g filter="url(#mb)">
<ellipse cx="489.5" cy="174.6" rx="1.62" ry="1.62" fill="#2ab4d8"/>
<ellipse cx="489.5" cy="174.6" rx="1.35" ry="1.35" fill="#3cba4a"/>
</g>
<g filter="url(#mb)">
<ellipse cx="480.8" cy="171.7" rx="1.25" ry="1.25" fill="#2ab4d8"/>
</g>
<g filter="url(#mb)">
<ellipse cx="484.3" cy="170.0" rx="1.25" ry="1.25" fill="#2ab4d8"/>
</g>
<g filter="url(#mb)">
<ellipse cx="494.7" cy="172.3" rx="1.25" ry="1.25" fill="#2ab4d8"/>
<ellipse cx="494.7" cy="172.3" rx="1.04" ry="1.04" fill="#3cba4a"/>
</g>
</g>
<rect x="331.40" y="31.00" width="5.60" height="28.20" fill="#c8c8c8"/>
<rect x="331.80" y="31.40" width="4.60" height="27.40" fill="url(#lcb)"/>
<rect x="387.40" y="31.00" width="5.60" height="28.20" fill="#c8c8c8"/>
<rect x="387.80" y="31.40" width="4.60" height="27.40" fill="url(#lcb)"/>
<rect x="443.40" y="31.00" width="5.60" height="28.20" fill="#c8c8c8"/>
<rect x="443.80" y="31.40" width="4.60" height="27.40" fill="url(#lcb)"/>
<rect x="331.40" y="82.50" width="5.60" height="28.20" fill="#c8c8c8"/>
<rect x="331.80" y="82.90" width="4.60" height="27.40" fill="url(#lcb)"/>
<rect x="387.40" y="82.50" width="5.60" height="28.20" fill="#c8c8c8"/>
<rect x="387.80" y="82.90" width="4.60" height="27.40" fill="url(#lcb)"/>
<rect x="443.40" y="82.50" width="5.60" height="28.20" fill="#c8c8c8"/>
<rect x="443.80" y="82.90" width="4.60" height="27.40" fill="url(#lcb)"/>
<rect x="331.40" y="133.00" width="5.60" height="28.20" fill="#c8c8c8"/>
<rect x="331.80" y="133.40" width="4.60" height="27.40" fill="url(#lcb)"/>
<rect x="387.40" y="133.00" width="5.60" height="28.20" fill="#c8c8c8"/>
<rect x="387.80" y="133.40" width="4.60" height="27.40" fill="url(#lcb)"/>
<rect x="443.40" y="133.00" width="5.60" height="28.20" fill="#c8c8c8"/>
<rect x="443.80" y="133.40" width="4.60" height="27.40" fill="url(#lcb)"/>
<text x="6.90" y="216.40" font-size="12" fill="#000" font-weight="bold" stroke="#000" stroke-width="0.35">C</text>
<line x1="50.50" y1="218.20" x2="50.50" y2="332.30" stroke="#000" stroke-width="1"/>
<line x1="50.00" y1="331.80" x2="158.00" y2="331.80" stroke="#000" stroke-width="1"/>
<line x1="47.80" y1="331.80" x2="50.50" y2="331.80" stroke="#000" stroke-width="0.8"/>
<text x="46.00" y="334.20" font-size="6.8" fill="#231f20" text-anchor="end" stroke="#231f20" stroke-width="0.16">0</text>
<line x1="47.80" y1="309.44" x2="50.50" y2="309.44" stroke="#000" stroke-width="0.8"/>
<text x="28.3" y="311.84" font-size="6.8" fill="#231f20" stroke="#231f20" stroke-width="0.16">1×10<tspan font-size="3.8" dy="-2.6">9</tspan></text>
<line x1="47.80" y1="287.08" x2="50.50" y2="287.08" stroke="#000" stroke-width="0.8"/>
<text x="28.3" y="289.48" font-size="6.8" fill="#231f20" stroke="#231f20" stroke-width="0.16">2×10<tspan font-size="3.8" dy="-2.6">9</tspan></text>
<line x1="47.80" y1="264.72" x2="50.50" y2="264.72" stroke="#000" stroke-width="0.8"/>
<text x="28.3" y="267.12" font-size="6.8" fill="#231f20" stroke="#231f20" stroke-width="0.16">3×10<tspan font-size="3.8" dy="-2.6">9</tspan></text>
<line x1="47.80" y1="242.36" x2="50.50" y2="242.36" stroke="#000" stroke-width="0.8"/>
<text x="28.3" y="244.76" font-size="6.8" fill="#231f20" stroke="#231f20" stroke-width="0.16">4×10<tspan font-size="3.8" dy="-2.6">9</tspan></text>
<line x1="47.80" y1="220.00" x2="50.50" y2="220.00" stroke="#000" stroke-width="0.8"/>
<text x="28.3" y="222.40" font-size="6.8" fill="#231f20" stroke="#231f20" stroke-width="0.16">5×10<tspan font-size="3.8" dy="-2.6">9</tspan></text>
<line x1="64.30" y1="331.80" x2="64.30" y2="334.30" stroke="#000" stroke-width="0.8"/>
<text x="64.30" y="344.00" font-size="7" fill="#231f20" text-anchor="middle" stroke="#231f20" stroke-width="0.16">10</text>
<line x1="84.60" y1="331.80" x2="84.60" y2="334.30" stroke="#000" stroke-width="0.8"/>
<text x="84.60" y="344.00" font-size="7" fill="#231f20" text-anchor="middle" stroke="#231f20" stroke-width="0.16">13</text>
<line x1="104.50" y1="331.80" x2="104.50" y2="334.30" stroke="#000" stroke-width="0.8"/>
<text x="104.50" y="344.00" font-size="7" fill="#231f20" text-anchor="middle" stroke="#231f20" stroke-width="0.16">16</text>
<line x1="124.30" y1="331.80" x2="124.30" y2="334.30" stroke="#000" stroke-width="0.8"/>
<text x="124.30" y="344.00" font-size="7" fill="#231f20" text-anchor="middle" stroke="#231f20" stroke-width="0.16">19</text>
<line x1="144.60" y1="331.80" x2="144.60" y2="334.30" stroke="#000" stroke-width="0.8"/>
<text x="144.60" y="344.00" font-size="7" fill="#231f20" text-anchor="middle" stroke="#231f20" stroke-width="0.16">22</text>
<text x="69.60" y="356.40" font-size="8.8" fill="#231f20" textLength="69.90" lengthAdjust="spacingAndGlyphs" stroke="#231f20" stroke-width="0.16">Days after engraftment</text>
<text x="23.30" y="274.30" font-size="9" fill="#231f20" text-anchor="middle" textLength="26.20" lengthAdjust="spacingAndGlyphs" transform="rotate(-90 23.30 274.30)" stroke="#231f20" stroke-width="0.16">ROI (p/s)</text>
<path d="M64.30,331.80 L84.60,330.23 L104.50,328.00 L124.30,314.36 L144.60,265.17" stroke="#6ab04c" stroke-width="1.1" fill="none"/>
<line x1="124.30" y1="316.60" x2="124.30" y2="312.12" stroke="#6ab04c" stroke-width="0.9"/>
<line x1="122.80" y1="316.60" x2="125.80" y2="316.60" stroke="#6ab04c" stroke-width="0.9"/>
<line x1="122.80" y1="312.12" x2="125.80" y2="312.12" stroke="#6ab04c" stroke-width="0.9"/>
<line x1="144.60" y1="277.47" x2="144.60" y2="253.09" stroke="#6ab04c" stroke-width="0.9"/>
<line x1="143.10" y1="277.47" x2="146.10" y2="277.47" stroke="#6ab04c" stroke-width="0.9"/>
<line x1="143.10" y1="253.09" x2="146.10" y2="253.09" stroke="#6ab04c" stroke-width="0.9"/>
<rect x="63.18" y="330.68" width="2.24" height="2.24" fill="#6ab04c"/>
<rect x="83.48" y="329.11" width="2.24" height="2.24" fill="#6ab04c"/>
<rect x="103.38" y="326.88" width="2.24" height="2.24" fill="#6ab04c"/>
<rect x="123.18" y="313.24" width="2.24" height="2.24" fill="#6ab04c"/>
<rect x="143.48" y="264.05" width="2.24" height="2.24" fill="#6ab04c"/>
<path d="M64.30,331.80 L84.60,329.56 L104.50,326.43 L124.30,316.82 L144.60,258.01" stroke="#3d4a6d" stroke-width="1.1" fill="none"/>
<line x1="124.30" y1="319.05" x2="124.30" y2="314.58" stroke="#3d4a6d" stroke-width="0.9"/>
<line x1="122.80" y1="319.05" x2="125.80" y2="319.05" stroke="#3d4a6d" stroke-width="0.9"/>
<line x1="122.80" y1="314.58" x2="125.80" y2="314.58" stroke="#3d4a6d" stroke-width="0.9"/>
<line x1="144.60" y1="268.52" x2="144.60" y2="248.17" stroke="#3d4a6d" stroke-width="0.9"/>
<line x1="143.10" y1="268.52" x2="146.10" y2="268.52" stroke="#3d4a6d" stroke-width="0.9"/>
<line x1="143.10" y1="248.17" x2="146.10" y2="248.17" stroke="#3d4a6d" stroke-width="0.9"/>
<path d="M64.30,330.26 L65.70,331.80 L64.30,333.34 L62.90,331.80Z" fill="#3d4a6d"/>
<path d="M84.60,328.02 L86.00,329.56 L84.60,331.10 L83.20,329.56Z" fill="#3d4a6d"/>
<path d="M104.50,324.89 L105.90,326.43 L104.50,327.97 L103.10,326.43Z" fill="#3d4a6d"/>
<path d="M124.30,315.28 L125.70,316.82 L124.30,318.36 L122.90,316.82Z" fill="#3d4a6d"/>
<path d="M144.60,256.47 L146.00,258.01 L144.60,259.55 L143.20,258.01Z" fill="#3d4a6d"/>
<path d="M64.30,331.80 L84.60,331.80 L104.50,330.68 L124.30,326.43 L144.60,317.94" stroke="#b91a44" stroke-width="1.1" fill="none"/>
<line x1="124.30" y1="328.45" x2="124.30" y2="324.42" stroke="#b91a44" stroke-width="0.9"/>
<line x1="122.80" y1="328.45" x2="125.80" y2="328.45" stroke="#b91a44" stroke-width="0.9"/>
<line x1="122.80" y1="324.42" x2="125.80" y2="324.42" stroke="#b91a44" stroke-width="0.9"/>
<line x1="144.60" y1="321.29" x2="144.60" y2="314.36" stroke="#b91a44" stroke-width="0.9"/>
<line x1="143.10" y1="321.29" x2="146.10" y2="321.29" stroke="#b91a44" stroke-width="0.9"/>
<line x1="143.10" y1="314.36" x2="146.10" y2="314.36" stroke="#b91a44" stroke-width="0.9"/>
<path d="M64.30,330.40 L65.70,332.92 L62.90,332.92Z" fill="#b91a44"/>
<path d="M84.60,330.40 L86.00,332.92 L83.20,332.92Z" fill="#b91a44"/>
<path d="M104.50,329.28 L105.90,331.80 L103.10,331.80Z" fill="#b91a44"/>
<path d="M124.30,325.03 L125.70,327.55 L122.90,327.55Z" fill="#b91a44"/>
<path d="M144.60,316.54 L146.00,319.06 L143.20,319.06Z" fill="#b91a44"/>
<path d="M143.45,310.00V312.00M142.58,310.50L144.32,311.50M142.58,311.50L144.32,310.50M145.75,310.00V312.00M144.88,310.50L146.62,311.50M144.88,311.50L146.62,310.50" stroke="#231f20" stroke-width="0.6" fill="none"/>
<line x1="64.60" y1="313.00" x2="64.60" y2="324.00" stroke="#000" stroke-width="1.1"/>
<path d="M64.6,327.5 L62.4,322.5 L66.8,322.5 Z" stroke="#000" stroke-width="0.3" fill="#000"/>
<line x1="62.30" y1="224.60" x2="70.80" y2="224.60" stroke="#3d4a6d" stroke-width="1"/>
<path d="M66.50,223.06 L67.90,224.60 L66.50,226.14 L65.10,224.60Z" fill="#3d4a6d"/>
<text x="73.50" y="226.80" font-size="6.3" fill="#3d4a6d" textLength="11.00" lengthAdjust="spacingAndGlyphs" stroke="#3d4a6d" stroke-width="0.16">PBS</text>
<line x1="62.30" y1="235.80" x2="70.80" y2="235.80" stroke="#6ab04c" stroke-width="1"/>
<rect x="65.38" y="234.68" width="2.24" height="2.24" fill="#6ab04c"/>
<text x="73.50" y="238.00" font-size="6.3" fill="#6ab04c" textLength="23.50" lengthAdjust="spacingAndGlyphs" stroke="#6ab04c" stroke-width="0.16">C-scrRNA</text>
<line x1="62.30" y1="247.00" x2="70.80" y2="247.00" stroke="#b91a44" stroke-width="1"/>
<path d="M66.50,245.60 L67.90,248.12 L65.10,248.12Z" fill="#b91a44"/>
<text x="73.50" y="249.20" font-size="6.3" fill="#b91a44" textLength="26.00" lengthAdjust="spacingAndGlyphs" stroke="#b91a44" stroke-width="0.16">C-miR146a</text>
<text x="174.00" y="215.00" font-size="12" fill="#000" font-weight="bold" stroke="#000" stroke-width="0.35">D</text>
<line x1="212.60" y1="234.60" x2="212.60" y2="332.40" stroke="#000" stroke-width="1"/>
<line x1="212.10" y1="331.90" x2="338.30" y2="331.90" stroke="#000" stroke-width="1"/>
<line x1="210.00" y1="331.90" x2="212.60" y2="331.90" stroke="#000" stroke-width="0.8"/>
<text x="207.60" y="334.30" font-size="6.8" fill="#231f20" text-anchor="end" stroke="#231f20" stroke-width="0.16">0</text>
<line x1="210.00" y1="288.35" x2="212.60" y2="288.35" stroke="#000" stroke-width="0.8"/>
<text x="207.60" y="290.75" font-size="6.8" fill="#231f20" text-anchor="end" stroke="#231f20" stroke-width="0.16">50</text>
<line x1="210.00" y1="244.80" x2="212.60" y2="244.80" stroke="#000" stroke-width="0.8"/>
<text x="207.60" y="247.20" font-size="6.8" fill="#231f20" text-anchor="end" stroke="#231f20" stroke-width="0.16">100</text>
<line x1="212.60" y1="331.90" x2="212.60" y2="334.40" stroke="#000" stroke-width="0.8"/>
<text x="212.60" y="343.80" font-size="6.8" fill="#231f20" text-anchor="middle" stroke="#231f20" stroke-width="0.16">0</text>
<line x1="240.30" y1="331.90" x2="240.30" y2="334.40" stroke="#000" stroke-width="0.8"/>
<text x="240.30" y="343.80" font-size="6.8" fill="#231f20" text-anchor="middle" stroke="#231f20" stroke-width="0.16">10</text>
<line x1="268.00" y1="331.90" x2="268.00" y2="334.40" stroke="#000" stroke-width="0.8"/>
<text x="268.00" y="343.80" font-size="6.8" fill="#231f20" text-anchor="middle" stroke="#231f20" stroke-width="0.16">20</text>
<line x1="295.70" y1="331.90" x2="295.70" y2="334.40" stroke="#000" stroke-width="0.8"/>
<text x="295.70" y="343.80" font-size="6.8" fill="#231f20" text-anchor="middle" stroke="#231f20" stroke-width="0.16">30</text>
<line x1="323.40" y1="331.90" x2="323.40" y2="334.40" stroke="#000" stroke-width="0.8"/>
<text x="323.40" y="343.80" font-size="6.8" fill="#231f20" text-anchor="middle" stroke="#231f20" stroke-width="0.16">40</text>
<text x="248.30" y="355.20" font-size="8.8" fill="#231f20" textLength="70.20" lengthAdjust="spacingAndGlyphs" stroke="#231f20" stroke-width="0.16">Days after engraftment</text>
<text x="190.60" y="283.00" font-size="8.6" fill="#231f20" text-anchor="middle" textLength="48.00" lengthAdjust="spacingAndGlyphs" transform="rotate(-90 190.60 283.00)" stroke="#231f20" stroke-width="0.16">Percent survival</text>
<path d="M274.00,244.80 H275.70 V253.51 H281.60 V262.22 H290.40 V279.64 H292.90 V288.35 H295.60 V314.48 H298.60 V323.19 H303.30 V331.90" stroke="#6ab04c" stroke-width="1.1" fill="none"/>
<path d="M281.60,244.80 H309.50 V253.51 H317.80 V270.93 H322.90 V305.77 H328.30 V314.48 H336.80 V331.90" stroke="#c3264f" stroke-width="1.2" fill="none"/>
<path d="M212.60,244.80 H281.60 V270.93 H287.40 V279.64 H290.10 V288.35 H292.40 V297.06 H295.20 V314.48 H298.60 V323.19 H301.60 V331.90" stroke="#737b96" stroke-width="1.2" fill="none"/>
<line x1="275.00" y1="298.60" x2="275.00" y2="327.60" stroke="#6a6a6a" stroke-width="1.3"/>
<path d="M282.45,311.20V313.20M281.58,311.70L283.32,312.70M281.58,312.70L283.32,311.70M284.75,311.20V313.20M283.88,311.70L285.62,312.70M283.88,312.70L285.62,311.70" stroke="#231f20" stroke-width="0.6" fill="none"/>
<line x1="230.30" y1="302.50" x2="237.90" y2="302.50" stroke="#6e7693" stroke-width="1"/>
<path d="M234.10,301.18 L235.30,302.50 L234.10,303.82 L232.90,302.50Z" fill="#6e7693"/>
<text x="241.30" y="304.70" font-size="6.3" fill="#6e7693" textLength="10.50" lengthAdjust="spacingAndGlyphs" stroke="#6e7693" stroke-width="0.16">PBS</text>
<line x1="230.30" y1="313.20" x2="237.90" y2="313.20" stroke="#6ab04c" stroke-width="1"/>
<rect x="233.14" y="312.24" width="1.92" height="1.92" fill="#6ab04c"/>
<text x="241.30" y="315.40" font-size="6.3" fill="#6ab04c" textLength="24.00" lengthAdjust="spacingAndGlyphs" stroke="#6ab04c" stroke-width="0.16">C-scrRNA</text>
<line x1="230.30" y1="323.90" x2="237.90" y2="323.90" stroke="#c3264f" stroke-width="1"/>
<path d="M234.10,322.70 L235.30,324.86 L232.90,324.86Z" fill="#c3264f"/>
<text x="241.30" y="326.10" font-size="6.3" fill="#c3264f" textLength="26.50" lengthAdjust="spacingAndGlyphs" stroke="#c3264f" stroke-width="0.16">C-miR146a</text>
<text x="370.00" y="216.50" font-size="12" fill="#000" font-weight="bold" stroke="#000" stroke-width="0.35">E</text>
<rect x="407.25" y="251.25" width="8.10" height="9.10" fill="#7a1010"/>
<rect x="414.75" y="251.25" width="8.10" height="9.10" fill="#0a0505"/>
<rect x="422.25" y="251.25" width="8.10" height="9.10" fill="#d84020"/>
<rect x="429.75" y="251.25" width="8.10" height="9.10" fill="#3a8a40"/>
<rect x="437.25" y="251.25" width="8.10" height="9.10" fill="#2a5a30"/>
<rect x="444.75" y="251.25" width="8.10" height="9.10" fill="#6ab04a"/>
<rect x="452.25" y="251.25" width="8.10" height="9.10" fill="#50a848"/>
<rect x="459.75" y="251.25" width="7.50" height="9.10" fill="#50a848"/>
<text x="403.00" y="257.80" font-size="6.4" fill="#231f20" text-anchor="end" stroke="#231f20" stroke-width="0.16">IL1B</text>
<rect x="407.25" y="259.75" width="8.10" height="9.10" fill="#a01810"/>
<rect x="414.75" y="259.75" width="8.10" height="9.10" fill="#a01810"/>
<rect x="422.25" y="259.75" width="8.10" height="9.10" fill="#d84020"/>
<rect x="429.75" y="259.75" width="8.10" height="9.10" fill="#500505"/>
<rect x="437.25" y="259.75" width="8.10" height="9.10" fill="#0a300a"/>
<rect x="444.75" y="259.75" width="8.10" height="9.10" fill="#50a848"/>
<rect x="452.25" y="259.75" width="8.10" height="9.10" fill="#6ab04a"/>
<rect x="459.75" y="259.75" width="7.50" height="9.10" fill="#0a200a"/>
<text x="403.00" y="266.30" font-size="6.4" fill="#231f20" text-anchor="end" stroke="#231f20" stroke-width="0.16">TNF</text>
<rect x="407.25" y="268.25" width="8.10" height="9.10" fill="#400505"/>
<rect x="414.75" y="268.25" width="8.10" height="9.10" fill="#b01810"/>
<rect x="422.25" y="268.25" width="8.10" height="9.10" fill="#1a4a20"/>
<rect x="429.75" y="268.25" width="8.10" height="9.10" fill="#d83a18"/>
<rect x="437.25" y="268.25" width="8.10" height="9.10" fill="#d83a18"/>
<rect x="444.75" y="268.25" width="8.10" height="9.10" fill="#50a848"/>
<rect x="452.25" y="268.25" width="8.10" height="9.10" fill="#6ab04a"/>
<rect x="459.75" y="268.25" width="7.50" height="9.10" fill="#50a848"/>
<text x="403.00" y="274.80" font-size="6.4" fill="#231f20" text-anchor="end" stroke="#231f20" stroke-width="0.16">TRAF6</text>
<rect x="407.25" y="276.75" width="8.10" height="9.10" fill="#601010"/>
<rect x="414.75" y="276.75" width="8.10" height="9.10" fill="#d84020"/>
<rect x="422.25" y="276.75" width="8.10" height="9.10" fill="#200505"/>
<rect x="429.75" y="276.75" width="8.10" height="9.10" fill="#b81810"/>
<rect x="437.25" y="276.75" width="8.10" height="9.10" fill="#c01810"/>
<rect x="444.75" y="276.75" width="8.10" height="9.10" fill="#5aa848"/>
<rect x="452.25" y="276.75" width="8.10" height="9.10" fill="#50a848"/>
<rect x="459.75" y="276.75" width="7.50" height="9.10" fill="#6ab04a"/>
<text x="403.00" y="283.30" font-size="6.4" fill="#231f20" text-anchor="end" stroke="#231f20" stroke-width="0.16">IKBKB</text>
<rect x="407.25" y="285.25" width="8.10" height="9.10" fill="#100505"/>
<rect x="414.75" y="285.25" width="8.10" height="9.10" fill="#d83018"/>
<rect x="422.25" y="285.25" width="8.10" height="9.10" fill="#801510"/>
<rect x="429.75" y="285.25" width="8.10" height="9.10" fill="#d84020"/>
<rect x="437.25" y="285.25" width="8.10" height="9.10" fill="#c01810"/>
<rect x="444.75" y="285.25" width="8.10" height="9.10" fill="#6ab04a"/>
<rect x="452.25" y="285.25" width="8.10" height="9.10" fill="#50a848"/>
<rect x="459.75" y="285.25" width="7.50" height="9.10" fill="#50a848"/>
<text x="403.00" y="291.80" font-size="6.4" fill="#231f20" text-anchor="end" stroke="#231f20" stroke-width="0.16">RELA</text>
<rect x="407.25" y="293.75" width="8.10" height="9.10" fill="#601010"/>
<rect x="414.75" y="293.75" width="8.10" height="9.10" fill="#d84020"/>
<rect x="422.25" y="293.75" width="8.10" height="9.10" fill="#d83a18"/>
<rect x="429.75" y="293.75" width="8.10" height="9.10" fill="#d83018"/>
<rect x="437.25" y="293.75" width="8.10" height="9.10" fill="#d84020"/>
<rect x="444.75" y="293.75" width="8.10" height="9.10" fill="#6ab04a"/>
<rect x="452.25" y="293.75" width="8.10" height="9.10" fill="#50a848"/>
<rect x="459.75" y="293.75" width="7.50" height="9.10" fill="#50a848"/>
<text x="403.00" y="300.30" font-size="6.4" fill="#231f20" text-anchor="end" stroke="#231f20" stroke-width="0.16">TRAF3</text>
<rect x="407.25" y="302.25" width="8.10" height="9.10" fill="#d84020"/>
<rect x="414.75" y="302.25" width="8.10" height="9.10" fill="#001a05"/>
<rect x="422.25" y="302.25" width="8.10" height="9.10" fill="#a01810"/>
<rect x="429.75" y="302.25" width="8.10" height="9.10" fill="#6a1010"/>
<rect x="437.25" y="302.25" width="8.10" height="9.10" fill="#300505"/>
<rect x="444.75" y="302.25" width="8.10" height="9.10" fill="#2a7035"/>
<rect x="452.25" y="302.25" width="8.10" height="9.10" fill="#6ab04a"/>
<rect x="459.75" y="302.25" width="7.50" height="9.10" fill="#3a8a45"/>
<text x="403.00" y="308.80" font-size="6.4" fill="#231f20" text-anchor="end" stroke="#231f20" stroke-width="0.16">NFKB2</text>
<rect x="407.25" y="310.75" width="8.10" height="9.10" fill="#701010"/>
<rect x="414.75" y="310.75" width="8.10" height="9.10" fill="#2a7035"/>
<rect x="422.25" y="310.75" width="8.10" height="9.10" fill="#b01810"/>
<rect x="429.75" y="310.75" width="8.10" height="9.10" fill="#d84020"/>
<rect x="437.25" y="310.75" width="8.10" height="9.10" fill="#801010"/>
<rect x="444.75" y="310.75" width="8.10" height="9.10" fill="#6ab04a"/>
<rect x="452.25" y="310.75" width="8.10" height="9.10" fill="#5aa848"/>
<rect x="459.75" y="310.75" width="7.50" height="9.10" fill="#50a848"/>
<text x="403.00" y="317.30" font-size="6.4" fill="#231f20" text-anchor="end" stroke="#231f20" stroke-width="0.16">IFNG</text>
<rect x="407.25" y="319.25" width="8.10" height="9.10" fill="#400505"/>
<rect x="414.75" y="319.25" width="8.10" height="9.10" fill="#1a5025"/>
<rect x="422.25" y="319.25" width="8.10" height="9.10" fill="#d84020"/>
<rect x="429.75" y="319.25" width="8.10" height="9.10" fill="#d84020"/>
<rect x="437.25" y="319.25" width="8.10" height="9.10" fill="#801010"/>
<rect x="444.75" y="319.25" width="8.10" height="9.10" fill="#6ab04a"/>
<rect x="452.25" y="319.25" width="8.10" height="9.10" fill="#50a848"/>
<rect x="459.75" y="319.25" width="7.50" height="9.10" fill="#50a848"/>
<text x="403.00" y="325.80" font-size="6.4" fill="#231f20" text-anchor="end" stroke="#231f20" stroke-width="0.16">IRAK1</text>
<rect x="407.25" y="327.75" width="8.10" height="9.10" fill="#d02818"/>
<rect x="414.75" y="327.75" width="8.10" height="9.10" fill="#300505"/>
<rect x="422.25" y="327.75" width="8.10" height="9.10" fill="#801515"/>
<rect x="429.75" y="327.75" width="8.10" height="9.10" fill="#d84020"/>
<rect x="437.25" y="327.75" width="8.10" height="9.10" fill="#901515"/>
<rect x="444.75" y="327.75" width="8.10" height="9.10" fill="#50a848"/>
<rect x="452.25" y="327.75" width="8.10" height="9.10" fill="#1a4a20"/>
<rect x="459.75" y="327.75" width="7.50" height="9.10" fill="#6ab04a"/>
<text x="403.00" y="334.30" font-size="6.4" fill="#231f20" text-anchor="end" stroke="#231f20" stroke-width="0.16">MYD88</text>
<rect x="407.25" y="336.25" width="8.10" height="9.10" fill="#d84020"/>
<rect x="414.75" y="336.25" width="8.10" height="9.10" fill="#001a05"/>
<rect x="422.25" y="336.25" width="8.10" height="9.10" fill="#2a6a35"/>
<rect x="429.75" y="336.25" width="8.10" height="9.10" fill="#d84020"/>
<rect x="437.25" y="336.25" width="8.10" height="9.10" fill="#701010"/>
<rect x="444.75" y="336.25" width="8.10" height="9.10" fill="#50a848"/>
<rect x="452.25" y="336.25" width="8.10" height="9.10" fill="#6ab04a"/>
<rect x="459.75" y="336.25" width="7.50" height="9.10" fill="#5aa848"/>
<text x="403.00" y="342.80" font-size="6.4" fill="#231f20" text-anchor="end" stroke="#231f20" stroke-width="0.16">CARD11</text>
<rect x="407.25" y="344.75" width="8.10" height="8.50" fill="#d84020"/>
<rect x="414.75" y="344.75" width="8.10" height="8.50" fill="#200505"/>
<rect x="422.25" y="344.75" width="8.10" height="8.50" fill="#2a6a35"/>
<rect x="429.75" y="344.75" width="8.10" height="8.50" fill="#d84020"/>
<rect x="437.25" y="344.75" width="8.10" height="8.50" fill="#d83018"/>
<rect x="444.75" y="344.75" width="8.10" height="8.50" fill="#6ab04a"/>
<rect x="452.25" y="344.75" width="8.10" height="8.50" fill="#6ab04a"/>
<rect x="459.75" y="344.75" width="7.50" height="8.50" fill="#5aa848"/>
<text x="403.00" y="351.30" font-size="6.4" fill="#231f20" text-anchor="end" stroke="#231f20" stroke-width="0.16">NFKB1</text>
<line x1="408.90" y1="247.30" x2="421.80" y2="247.30" stroke="#231f20" stroke-width="1"/>
<line x1="424.60" y1="247.30" x2="443.80" y2="247.30" stroke="#231f20" stroke-width="1"/>
<line x1="446.90" y1="247.30" x2="466.20" y2="247.30" stroke="#231f20" stroke-width="1"/>
<text x="414.00" y="243.80" font-size="6.6" fill="#50546e" textLength="12.20" lengthAdjust="spacingAndGlyphs" transform="rotate(-45 414.00 243.80)" stroke="#50546e" stroke-width="0.16">PBS</text>
<text x="433.80" y="243.80" font-size="6.6" fill="#6ab04c" textLength="29.50" lengthAdjust="spacingAndGlyphs" transform="rotate(-45 433.80 243.80)" stroke="#6ab04c" stroke-width="0.16">C-scrRNA</text>
<text x="455.00" y="243.80" font-size="6.6" fill="#c0264b" textLength="33.00" lengthAdjust="spacingAndGlyphs" transform="rotate(-45 455.00 243.80)" stroke="#c0264b" stroke-width="0.16">C-miR146a</text>
<rect x="490.60" y="254.00" width="5.20" height="100.40" fill="url(#hmcb)" stroke="#2a2a2a" stroke-width="0.5"/>
<line x1="495.80" y1="254.00" x2="498.00" y2="254.00" stroke="#231f20" stroke-width="0.7"/>
<text x="500.20" y="256.40" font-size="6.8" fill="#231f20" textLength="12.60" lengthAdjust="spacingAndGlyphs" stroke="#231f20" stroke-width="0.16">Max</text>
<line x1="495.80" y1="304.20" x2="498.00" y2="304.20" stroke="#231f20" stroke-width="0.7"/>
<text x="500.20" y="306.60" font-size="6.8" fill="#231f20" textLength="12.60" lengthAdjust="spacingAndGlyphs" stroke="#231f20" stroke-width="0.16">Avg</text>
<line x1="495.80" y1="354.40" x2="498.00" y2="354.40" stroke="#231f20" stroke-width="0.7"/>
<text x="500.20" y="356.80" font-size="6.8" fill="#231f20" textLength="12.60" lengthAdjust="spacingAndGlyphs" stroke="#231f20" stroke-width="0.16">Min</text>
<text x="485.80" y="305.00" font-size="9.4" fill="#231f20" text-anchor="middle" textLength="93.60" lengthAdjust="spacingAndGlyphs" transform="rotate(-90 485.80 305.00)" stroke="#231f20" stroke-width="0.16">Magnitude of gene expression</text>
<text x="7.70" y="379.00" font-size="12" fill="#000" font-weight="bold" stroke="#000" stroke-width="0.35">F</text>
<line x1="44.80" y1="378.50" x2="44.80" y2="497.00" stroke="#000" stroke-width="1"/>
<line x1="44.30" y1="496.50" x2="191.00" y2="496.50" stroke="#000" stroke-width="1"/>
<line x1="42.30" y1="496.20" x2="44.80" y2="496.20" stroke="#000" stroke-width="0.8"/>
<text x="38.60" y="498.60" font-size="6.8" fill="#231f20" text-anchor="end" stroke="#231f20" stroke-width="0.16">0</text>
<line x1="43.20" y1="484.66" x2="44.80" y2="484.66" stroke="#000" stroke-width="0.8"/>
<line x1="42.30" y1="473.12" x2="44.80" y2="473.12" stroke="#000" stroke-width="0.8"/>
<text x="38.60" y="475.52" font-size="6.8" fill="#231f20" text-anchor="end" stroke="#231f20" stroke-width="0.16">0.2</text>
<line x1="43.20" y1="461.58" x2="44.80" y2="461.58" stroke="#000" stroke-width="0.8"/>
<line x1="42.30" y1="450.04" x2="44.80" y2="450.04" stroke="#000" stroke-width="0.8"/>
<text x="38.60" y="452.44" font-size="6.8" fill="#231f20" text-anchor="end" stroke="#231f20" stroke-width="0.16">0.4</text>
<line x1="43.20" y1="438.50" x2="44.80" y2="438.50" stroke="#000" stroke-width="0.8"/>
<line x1="42.30" y1="426.96" x2="44.80" y2="426.96" stroke="#000" stroke-width="0.8"/>
<text x="38.60" y="429.36" font-size="6.8" fill="#231f20" text-anchor="end" stroke="#231f20" stroke-width="0.16">0.6</text>
<line x1="43.20" y1="415.42" x2="44.80" y2="415.42" stroke="#000" stroke-width="0.8"/>
<line x1="42.30" y1="403.88" x2="44.80" y2="403.88" stroke="#000" stroke-width="0.8"/>
<text x="38.60" y="406.28" font-size="6.8" fill="#231f20" text-anchor="end" stroke="#231f20" stroke-width="0.16">0.8</text>
<line x1="43.20" y1="392.34" x2="44.80" y2="392.34" stroke="#000" stroke-width="0.8"/>
<line x1="42.30" y1="380.80" x2="44.80" y2="380.80" stroke="#000" stroke-width="0.8"/>
<text x="38.60" y="383.20" font-size="6.8" fill="#231f20" text-anchor="end" stroke="#231f20" stroke-width="0.16">1</text>
<line x1="44.80" y1="496.50" x2="44.80" y2="499.00" stroke="#000" stroke-width="0.8"/>
<text x="44.80" y="508.80" font-size="6.8" fill="#231f20" text-anchor="middle" stroke="#231f20" stroke-width="0.16">0</text>
<line x1="53.72" y1="496.50" x2="53.72" y2="498.20" stroke="#000" stroke-width="0.8"/>
<line x1="62.65" y1="496.50" x2="62.65" y2="499.00" stroke="#000" stroke-width="0.8"/>
<text x="62.65" y="508.80" font-size="6.8" fill="#231f20" text-anchor="middle" stroke="#231f20" stroke-width="0.16">12</text>
<line x1="71.58" y1="496.50" x2="71.58" y2="498.20" stroke="#000" stroke-width="0.8"/>
<line x1="80.50" y1="496.50" x2="80.50" y2="499.00" stroke="#000" stroke-width="0.8"/>
<text x="80.50" y="508.80" font-size="6.8" fill="#231f20" text-anchor="middle" stroke="#231f20" stroke-width="0.16">24</text>
<line x1="89.42" y1="496.50" x2="89.42" y2="498.20" stroke="#000" stroke-width="0.8"/>
<line x1="98.35" y1="496.50" x2="98.35" y2="499.00" stroke="#000" stroke-width="0.8"/>
<text x="98.35" y="508.80" font-size="6.8" fill="#231f20" text-anchor="middle" stroke="#231f20" stroke-width="0.16">36</text>
<line x1="107.28" y1="496.50" x2="107.28" y2="498.20" stroke="#000" stroke-width="0.8"/>
<line x1="116.20" y1="496.50" x2="116.20" y2="499.00" stroke="#000" stroke-width="0.8"/>
<text x="116.20" y="508.80" font-size="6.8" fill="#231f20" text-anchor="middle" stroke="#231f20" stroke-width="0.16">48</text>
<line x1="125.12" y1="496.50" x2="125.12" y2="498.20" stroke="#000" stroke-width="0.8"/>
<line x1="134.05" y1="496.50" x2="134.05" y2="499.00" stroke="#000" stroke-width="0.8"/>
<text x="134.05" y="508.80" font-size="6.8" fill="#231f20" text-anchor="middle" stroke="#231f20" stroke-width="0.16">60</text>
<line x1="142.97" y1="496.50" x2="142.97" y2="498.20" stroke="#000" stroke-width="0.8"/>
<line x1="151.90" y1="496.50" x2="151.90" y2="499.00" stroke="#000" stroke-width="0.8"/>
<text x="151.90" y="508.80" font-size="6.8" fill="#231f20" text-anchor="middle" stroke="#231f20" stroke-width="0.16">72</text>
<line x1="160.82" y1="496.50" x2="160.82" y2="498.20" stroke="#000" stroke-width="0.8"/>
<line x1="169.75" y1="496.50" x2="169.75" y2="499.00" stroke="#000" stroke-width="0.8"/>
<text x="169.75" y="508.80" font-size="6.8" fill="#231f20" text-anchor="middle" stroke="#231f20" stroke-width="0.16">84</text>
<line x1="178.68" y1="496.50" x2="178.68" y2="498.20" stroke="#000" stroke-width="0.8"/>
<line x1="187.60" y1="496.50" x2="187.60" y2="499.00" stroke="#000" stroke-width="0.8"/>
<text x="187.60" y="508.80" font-size="6.8" fill="#231f20" text-anchor="middle" stroke="#231f20" stroke-width="0.16">96</text>
<text x="95.40" y="520.60" font-size="8.9" fill="#231f20" textLength="44.50" lengthAdjust="spacingAndGlyphs" stroke="#231f20" stroke-width="0.16">Time (months)</text>
<text x="24.40" y="437.00" font-size="8.8" fill="#231f20" text-anchor="middle" textLength="47.00" lengthAdjust="spacingAndGlyphs" transform="rotate(-90 24.40 437.00)" stroke="#231f20" stroke-width="0.16">Overall survival</text>
<path d="M44.8,387 H46.9 V391.9 H50 V394 H52.3 V396.5 H53.5 V401.2 H54.6 V409.6 H56.2 V411 H56.9 V418 H59.2 V421.2 H60 V427.3 H62.3 V428.8 H62.8 V440.4 H65.4 V442 H67 V445 H68.5 V447.5 H70 V450.4 H71.5 V452.5 H73 V456.9 H81.5 V459 H83 V462 H84.2 V465 H86.5 V467.5 H89.6 V469.8 H112.5 V473.1 H124.6 V475 H126 V477.1 H185.2" stroke="#3a5f9e" stroke-width="1" fill="none"/>
<path d="M44.8,380.8 H46 V384 H47.5 V387 H49 V390 H51 V393 H52.3 V396.5 H53 V400 H53.8 V402.7 H55 V408 H57.7 V411.9 H60 V415.3 H63 V416.5 H67.7 V419.6 H72.3 V421.2 H73 V425.8 H76.2 V428 H81.5 V430.4 H83.8 V432 H85.4 V438 H89.2 V441.2 H92.3 V446.2 H114 V450.3 H115.8 V454.2 H128 V459.6 H167.7" stroke="#c2294f" stroke-width="1.1" fill="none"/>
<line x1="93.00" y1="468.30" x2="93.00" y2="471.30" stroke="#3a5f9e" stroke-width="0.8"/>
<line x1="96.00" y1="468.30" x2="96.00" y2="471.30" stroke="#3a5f9e" stroke-width="0.8"/>
<line x1="99.50" y1="468.30" x2="99.50" y2="471.30" stroke="#3a5f9e" stroke-width="0.8"/>
<line x1="103.00" y1="468.30" x2="103.00" y2="471.30" stroke="#3a5f9e" stroke-width="0.8"/>
<line x1="107.00" y1="468.30" x2="107.00" y2="471.30" stroke="#3a5f9e" stroke-width="0.8"/>
<line x1="118.00" y1="471.60" x2="118.00" y2="474.60" stroke="#3a5f9e" stroke-width="0.8"/>
<line x1="150.00" y1="475.60" x2="150.00" y2="478.60" stroke="#3a5f9e" stroke-width="0.8"/>
<line x1="170.00" y1="475.60" x2="170.00" y2="478.60" stroke="#3a5f9e" stroke-width="0.8"/>
<line x1="185.00" y1="475.60" x2="185.00" y2="478.60" stroke="#3a5f9e" stroke-width="0.8"/>
<line x1="74.00" y1="455.40" x2="74.00" y2="458.40" stroke="#3a5f9e" stroke-width="0.8"/>
<line x1="77.00" y1="455.40" x2="77.00" y2="458.40" stroke="#3a5f9e" stroke-width="0.8"/>
<line x1="64.00" y1="440.50" x2="64.00" y2="443.50" stroke="#3a5f9e" stroke-width="0.8"/>
<line x1="57.80" y1="416.50" x2="57.80" y2="419.50" stroke="#3a5f9e" stroke-width="0.8"/>
<line x1="95.00" y1="444.70" x2="95.00" y2="447.70" stroke="#c2294f" stroke-width="0.8"/>
<line x1="98.00" y1="444.70" x2="98.00" y2="447.70" stroke="#c2294f" stroke-width="0.8"/>
<line x1="104.00" y1="444.70" x2="104.00" y2="447.70" stroke="#c2294f" stroke-width="0.8"/>
<line x1="108.00" y1="444.70" x2="108.00" y2="447.70" stroke="#c2294f" stroke-width="0.8"/>
<line x1="110.00" y1="444.70" x2="110.00" y2="447.70" stroke="#c2294f" stroke-width="0.8"/>
<line x1="120.00" y1="452.70" x2="120.00" y2="455.70" stroke="#c2294f" stroke-width="0.8"/>
<line x1="123.00" y1="452.70" x2="123.00" y2="455.70" stroke="#c2294f" stroke-width="0.8"/>
<line x1="131.00" y1="458.10" x2="131.00" y2="461.10" stroke="#c2294f" stroke-width="0.8"/>
<line x1="134.00" y1="458.10" x2="134.00" y2="461.10" stroke="#c2294f" stroke-width="0.8"/>
<line x1="150.00" y1="458.10" x2="150.00" y2="461.10" stroke="#c2294f" stroke-width="0.8"/>
<line x1="166.80" y1="458.10" x2="166.80" y2="461.10" stroke="#c2294f" stroke-width="0.8"/>
<line x1="48.00" y1="382.50" x2="48.00" y2="385.50" stroke="#c2294f" stroke-width="0.8"/>
<line x1="50.00" y1="388.50" x2="50.00" y2="391.50" stroke="#c2294f" stroke-width="0.8"/>
<line x1="54.50" y1="401.20" x2="54.50" y2="404.20" stroke="#c2294f" stroke-width="0.8"/>
<line x1="62.00" y1="413.80" x2="62.00" y2="416.80" stroke="#c2294f" stroke-width="0.8"/>
<line x1="66.00" y1="415.00" x2="66.00" y2="418.00" stroke="#c2294f" stroke-width="0.8"/>
<line x1="69.00" y1="418.10" x2="69.00" y2="421.10" stroke="#c2294f" stroke-width="0.8"/>
<line x1="79.00" y1="426.50" x2="79.00" y2="429.50" stroke="#c2294f" stroke-width="0.8"/>
<line x1="82.00" y1="428.90" x2="82.00" y2="431.90" stroke="#c2294f" stroke-width="0.8"/>
<text x="143.50" y="457.20" font-size="6.6" fill="#231f20" textLength="20.20" lengthAdjust="spacingAndGlyphs" stroke="#231f20" stroke-width="0.16">P = 0.01</text>
<line x1="48.50" y1="483.10" x2="58.00" y2="483.10" stroke="#c2294f" stroke-width="1.2"/>
<line x1="48.50" y1="491.80" x2="58.00" y2="491.80" stroke="#3a5f9e" stroke-width="1.2"/>
<text x="61.20" y="485.40" font-size="6.2" fill="#231f20" textLength="80.30" lengthAdjust="spacingAndGlyphs" stroke="#231f20" stroke-width="0.16">MIR146a high expression (N=71)</text>
<text x="61.20" y="494.10" font-size="6.2" fill="#231f20" textLength="78.20" lengthAdjust="spacingAndGlyphs" stroke="#231f20" stroke-width="0.16">MIR146a low expression (N=93)</text>
<text x="207.70" y="378.40" font-size="12" fill="#000" font-weight="bold" stroke="#000" stroke-width="0.35">G</text>
<path d="M257.5,478.4 L257.50,465.28 L258.77,466.67 L260.05,467.89 L261.32,468.95 L262.59,469.88 L263.87,470.69 L265.14,471.40 L266.41,472.03 L267.68,472.58 L268.96,473.06 L270.23,473.48 L271.50,473.86 L272.78,474.19 L274.05,474.49 L275.32,474.75 L276.60,474.98 L277.87,475.19 L279.14,475.38 L280.41,475.55 L281.69,475.70 L282.96,475.84 L284.23,475.97 L285.51,476.09 L286.78,476.20 L288.05,476.30 L289.32,476.39 L290.60,476.48 L291.87,476.56 L293.14,476.64 L294.42,476.71 L295.69,476.78 L296.96,476.85 L298.24,476.91 L299.51,476.98 L300.78,477.04 L302.06,477.10 L303.33,477.15 L304.60,477.21 L305.87,477.27 L307.15,477.32 L308.42,477.37 L309.69,477.43 L310.97,477.48 L312.24,477.53 L313.51,477.58 L314.79,477.63 L316.06,477.68 L317.33,477.73 L318.60,477.78 L319.88,477.83 L321.15,477.88 L322.42,477.93 L323.70,477.98 L324.97,478.03 L326.24,478.08 L327.51,478.13 L328.79,478.18 L330.06,478.23 L331.33,478.27 L332.61,478.32 L333.88,478.37 L335.15,478.42 L336.43,478.45 L337.70,478.49 L338.97,478.53 L340.25,478.56 L341.52,478.60 L342.79,478.64 L344.06,478.67 L345.34,478.71 L346.61,478.75 L347.88,478.79 L349.16,478.82 L350.43,478.86 L351.70,478.90 L352.98,478.93 L354.25,478.97 L355.52,479.01 L356.79,479.05 L358.07,479.08 L359.34,479.12 L360.61,479.16 L361.89,479.20 L363.16,479.24 L364.43,479.29 L365.71,479.34 L366.98,479.40 L368.25,479.48 L369.52,479.57 L370.80,479.69 L372.07,479.85 L373.34,480.07 L374.62,480.36 L375.89,480.76 L377.16,481.31 L378.44,482.06 L379.71,483.08 L380.98,484.45 L382.25,486.29 L383.53,488.75 L384.80,492.01 L384.8,478.4 Z" stroke="none" stroke-width="0" fill="#c9c9c9"/>
<line x1="257.50" y1="478.40" x2="384.80" y2="478.40" stroke="#bdbdbd" stroke-width="0.5"/>
<rect x="305.80" y="435.60" width="1.40" height="18.60" fill="#d6d6d6"/>
<rect x="314.40" y="435.60" width="4.80" height="18.60" fill="#dcdcdc"/>
<rect x="326.00" y="435.60" width="2.80" height="18.60" fill="#c8c8c8"/>
<rect x="349.80" y="435.60" width="4.80" height="18.60" fill="#c4c4c4"/>
<rect x="358.00" y="435.60" width="4.30" height="18.60" fill="#bcbcbc"/>
<rect x="364.20" y="435.60" width="5.80" height="18.60" fill="#d8d8d8"/>
<rect x="370.00" y="435.60" width="4.80" height="18.60" fill="#b8b8b8"/>
<rect x="377.70" y="435.60" width="3.80" height="18.60" fill="#c0c0c0"/>
<rect x="338.50" y="435.60" width="1.90" height="18.60" fill="#b0b0b0"/>
<rect x="323.00" y="435.60" width="1.00" height="18.60" fill="#a8a8a8"/>
<line x1="261.60" y1="435.60" x2="261.60" y2="454.20" stroke="#8c8c8c" stroke-width="0.8"/>
<line x1="271.90" y1="435.60" x2="271.90" y2="454.20" stroke="#8c8c8c" stroke-width="0.8"/>
<line x1="277.00" y1="435.60" x2="277.00" y2="454.20" stroke="#8c8c8c" stroke-width="0.8"/>
<line x1="292.50" y1="435.60" x2="292.50" y2="454.20" stroke="#8c8c8c" stroke-width="0.8"/>
<line x1="295.40" y1="435.60" x2="295.40" y2="454.20" stroke="#8c8c8c" stroke-width="0.8"/>
<line x1="311.30" y1="435.60" x2="311.30" y2="454.20" stroke="#8c8c8c" stroke-width="0.8"/>
<line x1="320.20" y1="435.60" x2="320.20" y2="454.20" stroke="#8c8c8c" stroke-width="0.8"/>
<line x1="345.20" y1="435.60" x2="345.20" y2="454.20" stroke="#8c8c8c" stroke-width="0.8"/>
<line x1="349.00" y1="435.60" x2="349.00" y2="454.20" stroke="#8c8c8c" stroke-width="0.8"/>
<line x1="352.00" y1="435.60" x2="352.00" y2="454.20" stroke="#8c8c8c" stroke-width="0.8"/>
<line x1="356.50" y1="435.60" x2="356.50" y2="454.20" stroke="#8c8c8c" stroke-width="0.8"/>
<line x1="366.50" y1="435.60" x2="366.50" y2="454.20" stroke="#8c8c8c" stroke-width="0.8"/>
<line x1="368.20" y1="435.60" x2="368.20" y2="454.20" stroke="#8c8c8c" stroke-width="0.8"/>
<line x1="379.50" y1="435.60" x2="379.50" y2="454.20" stroke="#8c8c8c" stroke-width="0.8"/>
<line x1="274.30" y1="435.60" x2="274.30" y2="454.20" stroke="#303030" stroke-width="0.8"/>
<line x1="289.50" y1="435.60" x2="289.50" y2="454.20" stroke="#303030" stroke-width="0.8"/>
<line x1="309.00" y1="435.60" x2="309.00" y2="454.20" stroke="#303030" stroke-width="1.1"/>
<line x1="314.00" y1="435.60" x2="314.00" y2="454.20" stroke="#303030" stroke-width="0.9"/>
<line x1="324.80" y1="435.60" x2="324.80" y2="454.20" stroke="#303030" stroke-width="0.8"/>
<line x1="331.20" y1="435.60" x2="331.20" y2="454.20" stroke="#303030" stroke-width="0.9"/>
<line x1="341.30" y1="435.60" x2="341.30" y2="454.20" stroke="#303030" stroke-width="0.8"/>
<line x1="346.00" y1="435.60" x2="346.00" y2="454.20" stroke="#303030" stroke-width="0.8"/>
<line x1="347.10" y1="435.60" x2="347.10" y2="454.20" stroke="#303030" stroke-width="0.7"/>
<line x1="348.80" y1="435.60" x2="348.80" y2="454.20" stroke="#303030" stroke-width="0.8"/>
<line x1="358.50" y1="435.60" x2="358.50" y2="454.20" stroke="#303030" stroke-width="0.7"/>
<line x1="360.40" y1="435.60" x2="360.40" y2="454.20" stroke="#303030" stroke-width="0.7"/>
<line x1="362.30" y1="435.60" x2="362.30" y2="454.20" stroke="#303030" stroke-width="0.7"/>
<line x1="363.75" y1="435.60" x2="363.75" y2="454.20" stroke="#303030" stroke-width="0.8"/>
<line x1="370.50" y1="435.60" x2="370.50" y2="454.20" stroke="#303030" stroke-width="0.7"/>
<line x1="372.90" y1="435.60" x2="372.90" y2="454.20" stroke="#303030" stroke-width="0.7"/>
<line x1="374.80" y1="435.60" x2="374.80" y2="454.20" stroke="#303030" stroke-width="0.7"/>
<line x1="376.20" y1="435.60" x2="376.20" y2="454.20" stroke="#303030" stroke-width="0.9"/>
<line x1="383.20" y1="435.60" x2="383.20" y2="454.20" stroke="#303030" stroke-width="2.4"/>
<rect x="257.70" y="454.40" width="6.80" height="4.30" fill="#d42d2d"/>
<rect x="264.40" y="454.40" width="21.70" height="4.30" fill="#d84a4a"/>
<rect x="286.00" y="454.40" width="10.80" height="4.30" fill="#df6272"/>
<rect x="296.70" y="454.40" width="16.90" height="4.30" fill="#e27a7a"/>
<rect x="313.50" y="454.40" width="24.80" height="4.30" fill="#e9acd9"/>
<rect x="338.20" y="454.40" width="25.70" height="4.30" fill="#c9c6ee"/>
<rect x="363.80" y="454.40" width="5.50" height="4.30" fill="#8a82d2"/>
<rect x="369.20" y="454.40" width="7.90" height="4.30" fill="#5a4eb0"/>
<rect x="377.00" y="454.40" width="7.70" height="4.30" fill="#3c2c96"/>
<line x1="257.40" y1="458.90" x2="391.40" y2="458.90" stroke="#9a9a9a" stroke-width="0.6"/>
<line x1="257.40" y1="454.30" x2="391.40" y2="454.30" stroke="#555" stroke-width="0.6"/>
<path d="M257.50,381.50 L259.00,381.00 L261.50,380.60 L263.50,383.00 L267.00,385.50 L271.20,387.90 L274.00,384.00 L276.00,385.30 L277.00,384.00 L278.80,385.00 L283.00,387.50 L288.50,391.70 L290.40,390.80 L292.30,392.30 L294.20,391.70 L300.00,395.30 L307.70,400.40 L310.60,399.80 L316.30,402.30 L326.90,409.40 L338.50,418.00 L348.00,423.80 L357.70,428.70 L363.50,430.00 L370.20,431.90 L374.00,429.60 L376.90,426.70 L377.90,421.90 L381.70,419.00 L383.00,409.40 L384.00,395.00 L385.20,381.20" stroke="#52a034" stroke-width="1.3" fill="none"/>
<rect x="257.40" y="378.80" width="134.00" height="117.60" fill="none" stroke="#111" stroke-width="0.9"/>
<line x1="257.40" y1="435.50" x2="391.40" y2="435.50" stroke="#111" stroke-width="0.8"/>
<line x1="257.40" y1="378.80" x2="257.40" y2="497.00" stroke="#000" stroke-width="1.1"/>
<line x1="257.00" y1="496.40" x2="391.40" y2="496.40" stroke="#000" stroke-width="1.1"/>
<line x1="254.60" y1="381.50" x2="257.40" y2="381.50" stroke="#000" stroke-width="0.8"/>
<text x="251.60" y="384.00" font-size="7" fill="#231f20" text-anchor="end" stroke="#231f20" stroke-width="0.16">0.0</text>
<line x1="254.60" y1="391.12" x2="257.40" y2="391.12" stroke="#000" stroke-width="0.8"/>
<text x="251.60" y="393.62" font-size="7" fill="#231f20" text-anchor="end" stroke="#231f20" stroke-width="0.16">-0.1</text>
<line x1="254.60" y1="400.74" x2="257.40" y2="400.74" stroke="#000" stroke-width="0.8"/>
<text x="251.60" y="403.24" font-size="7" fill="#231f20" text-anchor="end" stroke="#231f20" stroke-width="0.16">-0.2</text>
<line x1="254.60" y1="410.36" x2="257.40" y2="410.36" stroke="#000" stroke-width="0.8"/>
<text x="251.60" y="412.86" font-size="7" fill="#231f20" text-anchor="end" stroke="#231f20" stroke-width="0.16">-0.3</text>
<line x1="254.60" y1="419.98" x2="257.40" y2="419.98" stroke="#000" stroke-width="0.8"/>
<text x="251.60" y="422.48" font-size="7" fill="#231f20" text-anchor="end" stroke="#231f20" stroke-width="0.16">-0.4</text>
<line x1="254.60" y1="429.60" x2="257.40" y2="429.60" stroke="#000" stroke-width="0.8"/>
<text x="251.60" y="432.10" font-size="7" fill="#231f20" text-anchor="end" stroke="#231f20" stroke-width="0.16">-0.5</text>
<line x1="254.60" y1="466.10" x2="257.40" y2="466.10" stroke="#000" stroke-width="0.8"/>
<text x="251.60" y="468.70" font-size="7.2" fill="#231f20" text-anchor="end" stroke="#231f20" stroke-width="0.16">0.5</text>
<line x1="254.60" y1="478.40" x2="257.40" y2="478.40" stroke="#000" stroke-width="0.8"/>
<text x="251.60" y="481.00" font-size="7.2" fill="#231f20" text-anchor="end" stroke="#231f20" stroke-width="0.16">0.0</text>
<line x1="254.60" y1="490.40" x2="257.40" y2="490.40" stroke="#000" stroke-width="0.8"/>
<text x="251.60" y="493.00" font-size="7.2" fill="#231f20" text-anchor="end" stroke="#231f20" stroke-width="0.16">-0.5</text>
<line x1="257.50" y1="496.40" x2="257.50" y2="499.00" stroke="#000" stroke-width="0.8"/>
<text x="257.50" y="508.60" font-size="7" fill="#231f20" text-anchor="middle" stroke="#231f20" stroke-width="0.16">0</text>
<line x1="288.65" y1="496.40" x2="288.65" y2="499.00" stroke="#000" stroke-width="0.8"/>
<text x="288.65" y="508.60" font-size="7" fill="#231f20" text-anchor="middle" stroke="#231f20" stroke-width="0.16">5,000</text>
<line x1="319.80" y1="496.40" x2="319.80" y2="499.00" stroke="#000" stroke-width="0.8"/>
<text x="319.80" y="508.60" font-size="7" fill="#231f20" text-anchor="middle" stroke="#231f20" stroke-width="0.16">10,000</text>
<line x1="350.95" y1="496.40" x2="350.95" y2="499.00" stroke="#000" stroke-width="0.8"/>
<text x="350.95" y="508.60" font-size="7" fill="#231f20" text-anchor="middle" stroke="#231f20" stroke-width="0.16">15,000</text>
<line x1="382.10" y1="496.40" x2="382.10" y2="499.00" stroke="#000" stroke-width="0.8"/>
<text x="382.10" y="508.60" font-size="7" fill="#231f20" text-anchor="middle" stroke="#231f20" stroke-width="0.16">20,000</text>
<text x="288.50" y="521.00" font-size="9.2" fill="#231f20" textLength="73.00" lengthAdjust="spacingAndGlyphs" stroke="#231f20" stroke-width="0.16">Rank in ordered dataset</text>
<text x="261.20" y="420.00" font-size="7.4" fill="#231f20" textLength="34.80" lengthAdjust="spacingAndGlyphs" stroke="#231f20" stroke-width="0.16">NES = -1.83</text>
<text x="261.20" y="428.10" font-size="7.4" fill="#231f20" textLength="28.50" lengthAdjust="spacingAndGlyphs" stroke="#231f20" stroke-width="0.16">P = 0.012</text>
<text x="224.20" y="406.10" font-size="9.4" fill="#231f20" text-anchor="middle" textLength="35.00" lengthAdjust="spacingAndGlyphs" transform="rotate(-90 224.20 406.10)" stroke="#231f20" stroke-width="0.16">Enrichment</text>
<text x="235.20" y="405.40" font-size="9.4" fill="#231f20" text-anchor="middle" textLength="29.20" lengthAdjust="spacingAndGlyphs" transform="rotate(-90 235.20 405.40)" stroke="#231f20" stroke-width="0.16">score (ES)</text>
<text x="224.10" y="478.00" font-size="9.4" fill="#231f20" text-anchor="middle" textLength="54.00" lengthAdjust="spacingAndGlyphs" transform="rotate(-90 224.10 478.00)" stroke="#231f20" stroke-width="0.16">Ranked list metric</text>
<text x="234.90" y="477.80" font-size="9.4" fill="#231f20" text-anchor="middle" textLength="44.60" lengthAdjust="spacingAndGlyphs" transform="rotate(-90 234.90 477.80)" stroke="#231f20" stroke-width="0.16">(signal2noise)</text>
<text x="259.00" y="462.30" font-size="3.2" fill="#c0264b" textLength="45.80" lengthAdjust="spacingAndGlyphs">mir146a (positively correlated)</text>
<text x="321.50" y="477.20" font-size="3.2" fill="#444" textLength="26.50" lengthAdjust="spacingAndGlyphs">Zero cross at 12379</text>
<text x="327.50" y="494.60" font-size="3.2" fill="#3a4aa0" textLength="46.00" lengthAdjust="spacingAndGlyphs">mir146a (negatively correlated)</text>
<line x1="334.60" y1="459.50" x2="334.60" y2="492.00" stroke="#888" stroke-width="0.5" stroke-dasharray="0.8 0.8"/>
<line x1="251.80" y1="528.80" x2="256.70" y2="528.80" stroke="#6ab04c" stroke-width="1.6"/>
<text x="259.80" y="530.80" font-size="5.9" fill="#333" textLength="45.50" lengthAdjust="spacingAndGlyphs" stroke="#333" stroke-width="0.16">Enrichment profile</text>
<line x1="308.00" y1="528.80" x2="312.70" y2="528.80" stroke="#333" stroke-width="1.1"/>
<text x="316.40" y="530.80" font-size="5.9" fill="#333" textLength="10.10" lengthAdjust="spacingAndGlyphs" stroke="#333" stroke-width="0.16">Hits</text>
<line x1="329.60" y1="527.30" x2="334.20" y2="527.30" stroke="#aaa" stroke-width="0.6"/>
<line x1="336.40" y1="528.80" x2="341.00" y2="528.80" stroke="#aaa" stroke-width="1.1"/>
<text x="344.00" y="530.80" font-size="5.9" fill="#333" textLength="54.00" lengthAdjust="spacingAndGlyphs" stroke="#333" stroke-width="0.16">Ranking metric scores</text>
<text x="7.70" y="552.00" font-size="12" fill="#000" font-weight="bold" stroke="#000" stroke-width="0.35">H</text>
<line x1="45.40" y1="554.40" x2="45.40" y2="666.30" stroke="#000" stroke-width="1.1"/>
<line x1="44.90" y1="665.80" x2="155.40" y2="665.80" stroke="#000" stroke-width="1.1"/>
<line x1="42.80" y1="638.80" x2="45.40" y2="638.80" stroke="#000" stroke-width="0.8"/>
<text x="41.20" y="641.20" font-size="6.8" fill="#231f20" text-anchor="end" stroke="#231f20" stroke-width="0.16">10</text>
<line x1="42.80" y1="606.50" x2="45.40" y2="606.50" stroke="#000" stroke-width="0.8"/>
<text x="41.20" y="608.90" font-size="6.8" fill="#231f20" text-anchor="end" stroke="#231f20" stroke-width="0.16">11</text>
<line x1="42.80" y1="574.20" x2="45.40" y2="574.20" stroke="#000" stroke-width="0.8"/>
<text x="41.20" y="576.60" font-size="6.8" fill="#231f20" text-anchor="end" stroke="#231f20" stroke-width="0.16">12</text>
<line x1="75.55" y1="573.00" x2="75.55" y2="649.70" stroke="#2f5591" stroke-width="1"/>
<rect x="56.60" y="599.60" width="37.90" height="24.70" fill="none" stroke="#2f5591" stroke-width="1"/>
<line x1="56.60" y1="614.60" x2="94.50" y2="614.60" stroke="#2f5591" stroke-width="1.2"/>
<path d="M77.5 612.8h1.2v1.2h-1.2zM73.6 587.6h1.2v1.2h-1.2zM71.8 611.6h1.2v1.2h-1.2zM71.6 606.5h1.2v1.2h-1.2zM74.7 619.0h1.2v1.2h-1.2zM74.2 647.5h1.2v1.2h-1.2zM75.2 586.8h1.2v1.2h-1.2zM75.3 598.7h1.2v1.2h-1.2zM77.8 605.0h1.2v1.2h-1.2zM75.5 619.8h1.2v1.2h-1.2zM71.1 586.0h1.2v1.2h-1.2zM75.0 605.9h1.2v1.2h-1.2zM77.1 648.9h1.2v1.2h-1.2zM71.5 604.7h1.2v1.2h-1.2zM75.2 600.7h1.2v1.2h-1.2zM72.3 628.3h1.2v1.2h-1.2zM76.7 642.5h1.2v1.2h-1.2zM75.0 630.2h1.2v1.2h-1.2zM78.2 628.5h1.2v1.2h-1.2zM76.6 626.1h1.2v1.2h-1.2zM79.2 607.2h1.2v1.2h-1.2zM74.0 605.1h1.2v1.2h-1.2zM75.4 600.5h1.2v1.2h-1.2zM73.4 591.7h1.2v1.2h-1.2zM77.5 617.1h1.2v1.2h-1.2zM77.7 609.4h1.2v1.2h-1.2zM79.6 605.7h1.2v1.2h-1.2zM74.1 620.9h1.2v1.2h-1.2zM77.2 608.7h1.2v1.2h-1.2zM72.0 623.4h1.2v1.2h-1.2zM75.3 605.4h1.2v1.2h-1.2zM72.7 600.8h1.2v1.2h-1.2zM75.1 613.4h1.2v1.2h-1.2zM78.5 610.2h1.2v1.2h-1.2zM70.3 630.6h1.2v1.2h-1.2zM72.6 602.8h1.2v1.2h-1.2zM75.0 641.4h1.2v1.2h-1.2zM76.6 574.9h1.2v1.2h-1.2zM77.6 622.5h1.2v1.2h-1.2zM72.6 601.6h1.2v1.2h-1.2zM75.2 622.8h1.2v1.2h-1.2zM79.0 619.3h1.2v1.2h-1.2zM76.8 595.3h1.2v1.2h-1.2zM78.7 604.6h1.2v1.2h-1.2zM73.4 578.4h1.2v1.2h-1.2zM73.6 625.2h1.2v1.2h-1.2zM74.1 605.6h1.2v1.2h-1.2zM75.3 608.1h1.2v1.2h-1.2zM71.4 598.0h1.2v1.2h-1.2zM79.1 635.6h1.2v1.2h-1.2zM75.4 587.7h1.2v1.2h-1.2zM75.5 621.5h1.2v1.2h-1.2zM78.6 574.0h1.2v1.2h-1.2zM75.4 617.0h1.2v1.2h-1.2zM77.9 623.7h1.2v1.2h-1.2zM76.4 576.5h1.2v1.2h-1.2zM76.5 583.8h1.2v1.2h-1.2zM69.4 615.9h1.2v1.2h-1.2zM71.0 643.5h1.2v1.2h-1.2zM77.2 633.0h1.2v1.2h-1.2zM71.9 593.3h1.2v1.2h-1.2zM73.2 614.8h1.2v1.2h-1.2zM74.6 643.9h1.2v1.2h-1.2zM72.4 587.8h1.2v1.2h-1.2zM78.7 619.7h1.2v1.2h-1.2zM77.1 613.9h1.2v1.2h-1.2zM74.0 604.7h1.2v1.2h-1.2zM72.1 575.7h1.2v1.2h-1.2zM73.7 599.3h1.2v1.2h-1.2zM78.7 603.2h1.2v1.2h-1.2zM69.8 635.7h1.2v1.2h-1.2zM76.9 615.4h1.2v1.2h-1.2zM76.9 609.6h1.2v1.2h-1.2zM69.5 628.2h1.2v1.2h-1.2zM76.9 594.8h1.2v1.2h-1.2zM77.2 642.6h1.2v1.2h-1.2zM74.7 574.5h1.2v1.2h-1.2zM76.5 605.8h1.2v1.2h-1.2zM72.8 609.2h1.2v1.2h-1.2zM72.8 619.7h1.2v1.2h-1.2zM72.9 563.4h1.2v1.2h-1.2zM77.4 573.4h1.2v1.2h-1.2z" fill="#2f5591"/>
<line x1="126.05" y1="577.20" x2="126.05" y2="656.20" stroke="#b8254c" stroke-width="1"/>
<rect x="106.90" y="606.10" width="38.30" height="21.90" fill="none" stroke="#b8254c" stroke-width="1"/>
<line x1="106.90" y1="617.40" x2="145.20" y2="617.40" stroke="#b8254c" stroke-width="1.2"/>
<path d="M126.0 634.2h1.2v1.2h-1.2zM125.7 627.5h1.2v1.2h-1.2zM123.8 593.7h1.2v1.2h-1.2zM129.7 608.5h1.2v1.2h-1.2zM126.4 606.0h1.2v1.2h-1.2zM123.8 606.5h1.2v1.2h-1.2zM122.9 597.5h1.2v1.2h-1.2zM122.7 653.5h1.2v1.2h-1.2zM123.8 603.3h1.2v1.2h-1.2zM125.7 615.8h1.2v1.2h-1.2zM125.1 603.7h1.2v1.2h-1.2zM127.8 595.3h1.2v1.2h-1.2zM121.8 587.0h1.2v1.2h-1.2zM128.3 627.7h1.2v1.2h-1.2zM127.4 643.1h1.2v1.2h-1.2zM127.5 580.6h1.2v1.2h-1.2zM128.8 618.0h1.2v1.2h-1.2zM122.3 634.5h1.2v1.2h-1.2zM124.6 603.2h1.2v1.2h-1.2zM120.7 588.5h1.2v1.2h-1.2zM132.6 625.2h1.2v1.2h-1.2zM124.6 585.6h1.2v1.2h-1.2zM126.9 625.4h1.2v1.2h-1.2zM123.6 615.2h1.2v1.2h-1.2zM124.8 586.5h1.2v1.2h-1.2zM125.5 627.6h1.2v1.2h-1.2zM123.1 628.6h1.2v1.2h-1.2zM129.4 608.8h1.2v1.2h-1.2zM127.6 588.3h1.2v1.2h-1.2zM122.1 635.3h1.2v1.2h-1.2zM126.0 627.7h1.2v1.2h-1.2zM128.6 621.5h1.2v1.2h-1.2zM127.3 595.3h1.2v1.2h-1.2zM122.7 613.8h1.2v1.2h-1.2zM126.8 650.8h1.2v1.2h-1.2zM130.3 636.2h1.2v1.2h-1.2zM122.5 603.3h1.2v1.2h-1.2zM124.8 605.4h1.2v1.2h-1.2zM121.7 636.0h1.2v1.2h-1.2zM128.2 596.2h1.2v1.2h-1.2zM122.8 605.1h1.2v1.2h-1.2zM124.8 651.8h1.2v1.2h-1.2zM127.4 615.9h1.2v1.2h-1.2zM127.4 650.8h1.2v1.2h-1.2zM126.7 612.4h1.2v1.2h-1.2zM128.8 628.1h1.2v1.2h-1.2zM126.1 627.4h1.2v1.2h-1.2zM127.2 600.8h1.2v1.2h-1.2zM128.8 619.1h1.2v1.2h-1.2zM128.0 616.7h1.2v1.2h-1.2zM122.7 609.8h1.2v1.2h-1.2zM124.9 614.6h1.2v1.2h-1.2zM126.5 604.0h1.2v1.2h-1.2zM129.0 595.0h1.2v1.2h-1.2zM126.6 639.0h1.2v1.2h-1.2zM124.0 584.9h1.2v1.2h-1.2zM123.1 630.9h1.2v1.2h-1.2zM130.9 627.4h1.2v1.2h-1.2zM125.7 628.2h1.2v1.2h-1.2zM129.6 607.6h1.2v1.2h-1.2zM125.8 633.4h1.2v1.2h-1.2zM124.1 620.5h1.2v1.2h-1.2zM123.1 609.9h1.2v1.2h-1.2zM120.2 628.0h1.2v1.2h-1.2zM121.5 586.9h1.2v1.2h-1.2zM122.4 661.9h1.2v1.2h-1.2zM126.9 574.4h1.2v1.2h-1.2z" fill="#b8254c"/>
<path d="M75.3,561.7 V559.2 H125.9 V561.7" stroke="#222" stroke-width="0.9" fill="none"/>
<path d="M99.35,555.50V557.70M98.39,556.05L100.31,557.15M98.39,557.15L100.31,556.05M101.85,555.50V557.70M100.89,556.05L102.81,557.15M100.89,557.15L102.81,556.05" stroke="#231f20" stroke-width="0.6" fill="none"/>
<text x="72.70" y="678.30" font-size="7" fill="#231f20" text-anchor="middle" stroke="#231f20" stroke-width="0.16">Low</text>
<text x="123.30" y="678.30" font-size="7" fill="#231f20" text-anchor="middle" stroke="#231f20" stroke-width="0.16">High</text>
<text x="65.80" y="689.6" font-size="8" fill="#231f20" textLength="64.70" lengthAdjust="spacingAndGlyphs" stroke="#231f20" stroke-width="0.16"><tspan font-style="italic">miR-146a</tspan> expression</text>
<text x="23.90" y="609.60" font-size="8.8" fill="#231f20" text-anchor="middle" transform="rotate(-90 23.90 609.60)" textLength="76" lengthAdjust="spacingAndGlyphs" stroke="#231f20" stroke-width="0.16">Log<tspan font-size="5" dy="1.8">2</tspan><tspan dy="-1.8"> (</tspan><tspan font-style="italic">IRAK1</tspan> expression)</text>
<line x1="200.50" y1="551.30" x2="200.50" y2="666.00" stroke="#000" stroke-width="1.1"/>
<line x1="200.00" y1="665.50" x2="311.75" y2="665.50" stroke="#000" stroke-width="1.1"/>
<line x1="197.90" y1="635.00" x2="200.50" y2="635.00" stroke="#000" stroke-width="0.8"/>
<text x="196.30" y="637.40" font-size="6.8" fill="#231f20" text-anchor="end" stroke="#231f20" stroke-width="0.16">10</text>
<line x1="197.90" y1="594.50" x2="200.50" y2="594.50" stroke="#000" stroke-width="0.8"/>
<text x="196.30" y="596.90" font-size="6.8" fill="#231f20" text-anchor="end" stroke="#231f20" stroke-width="0.16">11</text>
<line x1="197.90" y1="553.90" x2="200.50" y2="553.90" stroke="#000" stroke-width="0.8"/>
<text x="196.30" y="556.30" font-size="6.8" fill="#231f20" text-anchor="end" stroke="#231f20" stroke-width="0.16">12</text>
<line x1="231.25" y1="563.75" x2="231.25" y2="633.75" stroke="#2f5591" stroke-width="1"/>
<rect x="212.00" y="586.75" width="38.50" height="19.50" fill="none" stroke="#2f5591" stroke-width="1"/>
<line x1="212.00" y1="596.50" x2="250.50" y2="596.50" stroke="#2f5591" stroke-width="1.2"/>
<path d="M229.9 599.0h1.2v1.2h-1.2zM229.4 593.5h1.2v1.2h-1.2zM229.4 602.0h1.2v1.2h-1.2zM227.4 574.3h1.2v1.2h-1.2zM233.6 594.7h1.2v1.2h-1.2zM235.5 602.1h1.2v1.2h-1.2zM229.3 599.5h1.2v1.2h-1.2zM232.9 605.7h1.2v1.2h-1.2zM229.5 604.0h1.2v1.2h-1.2zM230.6 630.6h1.2v1.2h-1.2zM232.1 594.4h1.2v1.2h-1.2zM232.3 584.9h1.2v1.2h-1.2zM232.9 586.0h1.2v1.2h-1.2zM234.9 594.3h1.2v1.2h-1.2zM230.2 579.1h1.2v1.2h-1.2zM231.1 564.3h1.2v1.2h-1.2zM229.1 618.8h1.2v1.2h-1.2zM232.6 573.9h1.2v1.2h-1.2zM228.6 590.7h1.2v1.2h-1.2zM233.0 613.5h1.2v1.2h-1.2zM227.8 602.2h1.2v1.2h-1.2zM232.0 594.5h1.2v1.2h-1.2zM233.3 601.2h1.2v1.2h-1.2zM232.6 599.7h1.2v1.2h-1.2zM228.6 591.5h1.2v1.2h-1.2zM233.7 595.1h1.2v1.2h-1.2zM224.2 591.6h1.2v1.2h-1.2zM231.6 604.8h1.2v1.2h-1.2zM229.5 604.2h1.2v1.2h-1.2zM231.9 566.3h1.2v1.2h-1.2zM231.0 591.4h1.2v1.2h-1.2zM228.3 586.3h1.2v1.2h-1.2zM240.0 598.2h1.2v1.2h-1.2zM229.7 586.1h1.2v1.2h-1.2zM232.5 601.5h1.2v1.2h-1.2zM227.4 596.4h1.2v1.2h-1.2zM230.1 598.4h1.2v1.2h-1.2zM236.9 606.7h1.2v1.2h-1.2zM229.5 603.2h1.2v1.2h-1.2zM236.8 573.3h1.2v1.2h-1.2zM230.2 584.2h1.2v1.2h-1.2zM232.6 573.3h1.2v1.2h-1.2zM229.0 603.4h1.2v1.2h-1.2zM231.6 605.2h1.2v1.2h-1.2zM236.5 575.3h1.2v1.2h-1.2zM227.4 611.4h1.2v1.2h-1.2zM231.5 566.7h1.2v1.2h-1.2zM227.3 593.3h1.2v1.2h-1.2zM234.7 577.0h1.2v1.2h-1.2zM231.1 624.0h1.2v1.2h-1.2zM226.2 628.9h1.2v1.2h-1.2zM229.7 588.1h1.2v1.2h-1.2zM234.3 592.2h1.2v1.2h-1.2zM229.0 575.4h1.2v1.2h-1.2zM229.9 596.6h1.2v1.2h-1.2zM228.2 594.1h1.2v1.2h-1.2zM231.4 599.5h1.2v1.2h-1.2zM231.5 599.7h1.2v1.2h-1.2zM232.9 618.6h1.2v1.2h-1.2zM229.7 595.7h1.2v1.2h-1.2zM229.5 589.6h1.2v1.2h-1.2zM228.6 592.5h1.2v1.2h-1.2zM229.3 605.7h1.2v1.2h-1.2zM232.3 594.6h1.2v1.2h-1.2zM226.6 604.1h1.2v1.2h-1.2zM230.6 595.2h1.2v1.2h-1.2zM230.7 568.7h1.2v1.2h-1.2zM233.5 625.4h1.2v1.2h-1.2zM230.8 596.6h1.2v1.2h-1.2zM228.0 574.2h1.2v1.2h-1.2zM229.6 615.1h1.2v1.2h-1.2zM228.5 582.4h1.2v1.2h-1.2zM230.2 593.2h1.2v1.2h-1.2zM232.0 596.8h1.2v1.2h-1.2zM231.4 587.0h1.2v1.2h-1.2zM228.6 616.6h1.2v1.2h-1.2zM232.5 603.2h1.2v1.2h-1.2zM229.3 598.6h1.2v1.2h-1.2zM231.2 616.9h1.2v1.2h-1.2zM228.0 583.4h1.2v1.2h-1.2zM227.4 654.4h1.2v1.2h-1.2zM226.4 639.4h1.2v1.2h-1.2zM233.4 561.9h1.2v1.2h-1.2z" fill="#2f5591"/>
<line x1="281.62" y1="569.25" x2="281.62" y2="660.50" stroke="#b8254c" stroke-width="1"/>
<rect x="262.50" y="593.75" width="38.25" height="28.75" fill="none" stroke="#b8254c" stroke-width="1"/>
<line x1="262.50" y1="604.25" x2="300.75" y2="604.25" stroke="#b8254c" stroke-width="1.2"/>
<path d="M279.1 604.1h1.2v1.2h-1.2zM282.8 623.5h1.2v1.2h-1.2zM284.1 600.5h1.2v1.2h-1.2zM280.5 617.2h1.2v1.2h-1.2zM278.4 648.6h1.2v1.2h-1.2zM284.3 597.1h1.2v1.2h-1.2zM282.3 649.3h1.2v1.2h-1.2zM286.2 602.0h1.2v1.2h-1.2zM283.2 598.1h1.2v1.2h-1.2zM284.6 598.6h1.2v1.2h-1.2zM283.3 602.1h1.2v1.2h-1.2zM278.3 612.8h1.2v1.2h-1.2zM277.3 586.4h1.2v1.2h-1.2zM280.4 633.0h1.2v1.2h-1.2zM279.3 585.9h1.2v1.2h-1.2zM279.1 608.0h1.2v1.2h-1.2zM283.7 590.0h1.2v1.2h-1.2zM279.6 641.4h1.2v1.2h-1.2zM278.6 641.0h1.2v1.2h-1.2zM282.2 577.6h1.2v1.2h-1.2zM282.2 622.9h1.2v1.2h-1.2zM281.5 594.8h1.2v1.2h-1.2zM284.0 600.3h1.2v1.2h-1.2zM283.6 570.0h1.2v1.2h-1.2zM281.6 644.4h1.2v1.2h-1.2zM280.8 619.8h1.2v1.2h-1.2zM281.1 599.1h1.2v1.2h-1.2zM278.3 589.3h1.2v1.2h-1.2zM276.0 595.7h1.2v1.2h-1.2zM277.0 645.4h1.2v1.2h-1.2zM279.3 628.0h1.2v1.2h-1.2zM286.7 580.3h1.2v1.2h-1.2zM276.8 599.7h1.2v1.2h-1.2zM281.5 644.9h1.2v1.2h-1.2zM286.1 604.1h1.2v1.2h-1.2zM275.0 598.7h1.2v1.2h-1.2zM279.8 584.1h1.2v1.2h-1.2zM282.5 610.8h1.2v1.2h-1.2zM285.1 608.7h1.2v1.2h-1.2zM279.8 605.2h1.2v1.2h-1.2zM279.9 614.3h1.2v1.2h-1.2zM279.8 582.4h1.2v1.2h-1.2zM280.1 588.0h1.2v1.2h-1.2zM283.3 627.1h1.2v1.2h-1.2zM282.2 586.1h1.2v1.2h-1.2zM283.4 602.4h1.2v1.2h-1.2zM283.0 603.2h1.2v1.2h-1.2zM280.2 612.1h1.2v1.2h-1.2zM280.4 608.0h1.2v1.2h-1.2zM280.2 592.5h1.2v1.2h-1.2zM284.9 616.4h1.2v1.2h-1.2zM280.8 605.8h1.2v1.2h-1.2zM281.2 617.3h1.2v1.2h-1.2zM282.7 581.2h1.2v1.2h-1.2zM283.8 585.6h1.2v1.2h-1.2zM280.3 628.9h1.2v1.2h-1.2zM280.1 603.5h1.2v1.2h-1.2zM276.8 608.3h1.2v1.2h-1.2zM279.1 585.0h1.2v1.2h-1.2zM278.0 588.5h1.2v1.2h-1.2zM284.6 593.9h1.2v1.2h-1.2zM278.1 621.0h1.2v1.2h-1.2zM282.4 623.2h1.2v1.2h-1.2zM278.7 600.6h1.2v1.2h-1.2zM282.3 594.6h1.2v1.2h-1.2zM281.9 661.9h1.2v1.2h-1.2zM277.4 568.4h1.2v1.2h-1.2z" fill="#b8254c"/>
<path d="M231.25,561.25 V558.75 H281.5 V561.25" stroke="#222" stroke-width="0.9" fill="none"/>
<path d="M255.12,555.05V557.25M254.17,555.60L256.08,556.70M254.17,556.70L256.08,555.60M257.62,555.05V557.25M256.67,555.60L258.58,556.70M256.67,556.70L258.58,555.60" stroke="#231f20" stroke-width="0.6" fill="none"/>
<text x="231.25" y="678.30" font-size="7" fill="#231f20" text-anchor="middle" stroke="#231f20" stroke-width="0.16">Low</text>
<text x="281.50" y="678.30" font-size="7" fill="#231f20" text-anchor="middle" stroke="#231f20" stroke-width="0.16">High</text>
<text x="223.70" y="689.6" font-size="8" fill="#231f20" textLength="65.00" lengthAdjust="spacingAndGlyphs" stroke="#231f20" stroke-width="0.16"><tspan font-style="italic">miR-146a</tspan> expression</text>
<text x="179.40" y="610.50" font-size="8.8" fill="#231f20" text-anchor="middle" transform="rotate(-90 179.40 610.50)" textLength="76" lengthAdjust="spacingAndGlyphs" stroke="#231f20" stroke-width="0.16">Log<tspan font-size="5" dy="1.8">2</tspan><tspan dy="-1.8"> (</tspan><tspan font-style="italic">NFKB1</tspan> expression)</text>
<line x1="356.75" y1="554.50" x2="356.75" y2="666.00" stroke="#000" stroke-width="1.1"/>
<line x1="356.25" y1="665.50" x2="466.75" y2="665.50" stroke="#000" stroke-width="1.1"/>
<line x1="354.15" y1="660.29" x2="356.75" y2="660.29" stroke="#000" stroke-width="0.8"/>
<text x="352.55" y="662.69" font-size="6.8" fill="#231f20" text-anchor="end" stroke="#231f20" stroke-width="0.16">6</text>
<line x1="354.15" y1="645.86" x2="356.75" y2="645.86" stroke="#000" stroke-width="0.8"/>
<text x="352.55" y="648.26" font-size="6.8" fill="#231f20" text-anchor="end" stroke="#231f20" stroke-width="0.16">7</text>
<line x1="354.15" y1="631.43" x2="356.75" y2="631.43" stroke="#000" stroke-width="0.8"/>
<text x="352.55" y="633.83" font-size="6.8" fill="#231f20" text-anchor="end" stroke="#231f20" stroke-width="0.16">8</text>
<line x1="354.15" y1="617.00" x2="356.75" y2="617.00" stroke="#000" stroke-width="0.8"/>
<text x="352.55" y="619.40" font-size="6.8" fill="#231f20" text-anchor="end" stroke="#231f20" stroke-width="0.16">9</text>
<line x1="354.15" y1="602.57" x2="356.75" y2="602.57" stroke="#000" stroke-width="0.8"/>
<text x="352.55" y="604.97" font-size="6.8" fill="#231f20" text-anchor="end" stroke="#231f20" stroke-width="0.16">10</text>
<line x1="354.15" y1="588.14" x2="356.75" y2="588.14" stroke="#000" stroke-width="0.8"/>
<text x="352.55" y="590.54" font-size="6.8" fill="#231f20" text-anchor="end" stroke="#231f20" stroke-width="0.16">11</text>
<line x1="354.15" y1="573.71" x2="356.75" y2="573.71" stroke="#000" stroke-width="0.8"/>
<text x="352.55" y="576.11" font-size="6.8" fill="#231f20" text-anchor="end" stroke="#231f20" stroke-width="0.16">12</text>
<line x1="354.15" y1="559.28" x2="356.75" y2="559.28" stroke="#000" stroke-width="0.8"/>
<text x="352.55" y="561.68" font-size="6.8" fill="#231f20" text-anchor="end" stroke="#231f20" stroke-width="0.16">13</text>
<line x1="386.88" y1="591.25" x2="386.88" y2="645.00" stroke="#2f5591" stroke-width="1"/>
<rect x="367.50" y="606.25" width="38.75" height="20.00" fill="none" stroke="#2f5591" stroke-width="1"/>
<line x1="367.50" y1="616.25" x2="406.25" y2="616.25" stroke="#2f5591" stroke-width="1.2"/>
<path d="M384.2 619.4h1.2v1.2h-1.2zM381.6 610.3h1.2v1.2h-1.2zM386.1 610.2h1.2v1.2h-1.2zM384.9 604.4h1.2v1.2h-1.2zM388.1 614.3h1.2v1.2h-1.2zM383.2 611.2h1.2v1.2h-1.2zM388.0 623.1h1.2v1.2h-1.2zM381.9 636.7h1.2v1.2h-1.2zM386.1 638.0h1.2v1.2h-1.2zM391.3 620.8h1.2v1.2h-1.2zM384.5 601.8h1.2v1.2h-1.2zM388.4 608.0h1.2v1.2h-1.2zM390.2 638.1h1.2v1.2h-1.2zM385.9 596.2h1.2v1.2h-1.2zM384.8 619.2h1.2v1.2h-1.2zM386.8 616.1h1.2v1.2h-1.2zM384.2 614.8h1.2v1.2h-1.2zM384.7 615.5h1.2v1.2h-1.2zM387.1 610.4h1.2v1.2h-1.2zM388.6 618.7h1.2v1.2h-1.2zM385.1 629.1h1.2v1.2h-1.2zM380.3 608.5h1.2v1.2h-1.2zM385.3 639.3h1.2v1.2h-1.2zM385.1 623.0h1.2v1.2h-1.2zM387.8 638.3h1.2v1.2h-1.2zM391.2 620.0h1.2v1.2h-1.2zM383.0 625.1h1.2v1.2h-1.2zM383.8 618.0h1.2v1.2h-1.2zM383.6 599.2h1.2v1.2h-1.2zM389.5 611.6h1.2v1.2h-1.2zM387.7 619.3h1.2v1.2h-1.2zM387.5 618.5h1.2v1.2h-1.2zM389.0 600.0h1.2v1.2h-1.2zM387.0 607.5h1.2v1.2h-1.2zM387.9 625.6h1.2v1.2h-1.2zM387.8 617.6h1.2v1.2h-1.2zM383.0 615.0h1.2v1.2h-1.2zM389.9 612.3h1.2v1.2h-1.2zM383.3 625.0h1.2v1.2h-1.2zM386.0 603.5h1.2v1.2h-1.2zM389.9 615.7h1.2v1.2h-1.2zM384.0 619.3h1.2v1.2h-1.2zM384.2 627.3h1.2v1.2h-1.2zM385.0 611.4h1.2v1.2h-1.2zM388.8 612.7h1.2v1.2h-1.2zM386.9 620.8h1.2v1.2h-1.2zM386.5 605.6h1.2v1.2h-1.2zM384.6 616.7h1.2v1.2h-1.2zM385.0 611.4h1.2v1.2h-1.2zM386.8 626.0h1.2v1.2h-1.2zM385.4 626.9h1.2v1.2h-1.2zM388.7 608.2h1.2v1.2h-1.2zM391.9 614.5h1.2v1.2h-1.2zM380.8 616.4h1.2v1.2h-1.2zM383.9 621.7h1.2v1.2h-1.2zM391.2 605.1h1.2v1.2h-1.2zM387.3 610.6h1.2v1.2h-1.2zM385.2 613.1h1.2v1.2h-1.2zM387.2 621.7h1.2v1.2h-1.2zM390.3 592.2h1.2v1.2h-1.2zM383.1 592.5h1.2v1.2h-1.2zM387.5 594.3h1.2v1.2h-1.2zM388.4 626.0h1.2v1.2h-1.2zM388.7 631.7h1.2v1.2h-1.2zM385.9 624.9h1.2v1.2h-1.2zM387.3 606.3h1.2v1.2h-1.2zM385.2 605.2h1.2v1.2h-1.2zM381.2 638.5h1.2v1.2h-1.2zM388.3 618.1h1.2v1.2h-1.2zM382.7 620.9h1.2v1.2h-1.2zM389.2 611.8h1.2v1.2h-1.2zM386.2 621.3h1.2v1.2h-1.2zM388.3 605.7h1.2v1.2h-1.2zM386.6 624.4h1.2v1.2h-1.2zM387.9 622.7h1.2v1.2h-1.2zM384.1 637.1h1.2v1.2h-1.2zM380.8 610.9h1.2v1.2h-1.2zM387.6 604.6h1.2v1.2h-1.2zM387.5 615.2h1.2v1.2h-1.2zM389.4 622.1h1.2v1.2h-1.2zM382.4 566.4h1.2v1.2h-1.2zM384.4 642.4h1.2v1.2h-1.2zM388.4 643.4h1.2v1.2h-1.2z" fill="#2f5591"/>
<line x1="437.25" y1="602.50" x2="437.25" y2="649.50" stroke="#b8254c" stroke-width="1"/>
<rect x="418.00" y="615.00" width="38.50" height="16.75" fill="none" stroke="#b8254c" stroke-width="1"/>
<line x1="418.00" y1="623.75" x2="456.50" y2="623.75" stroke="#b8254c" stroke-width="1.2"/>
<path d="M434.8 616.1h1.2v1.2h-1.2zM435.5 636.2h1.2v1.2h-1.2zM437.6 605.0h1.2v1.2h-1.2zM440.8 611.2h1.2v1.2h-1.2zM437.6 631.2h1.2v1.2h-1.2zM435.5 631.8h1.2v1.2h-1.2zM438.4 622.8h1.2v1.2h-1.2zM435.7 624.6h1.2v1.2h-1.2zM439.5 623.3h1.2v1.2h-1.2zM436.8 633.7h1.2v1.2h-1.2zM435.8 615.3h1.2v1.2h-1.2zM434.0 641.5h1.2v1.2h-1.2zM441.0 629.7h1.2v1.2h-1.2zM434.7 640.0h1.2v1.2h-1.2zM435.0 607.9h1.2v1.2h-1.2zM435.6 626.6h1.2v1.2h-1.2zM434.4 614.3h1.2v1.2h-1.2zM433.9 606.1h1.2v1.2h-1.2zM437.9 634.3h1.2v1.2h-1.2zM433.8 611.4h1.2v1.2h-1.2zM438.9 635.3h1.2v1.2h-1.2zM436.0 603.6h1.2v1.2h-1.2zM439.3 611.8h1.2v1.2h-1.2zM438.0 628.0h1.2v1.2h-1.2zM434.1 648.5h1.2v1.2h-1.2zM437.5 606.5h1.2v1.2h-1.2zM438.1 618.0h1.2v1.2h-1.2zM438.5 630.6h1.2v1.2h-1.2zM436.2 630.0h1.2v1.2h-1.2zM438.3 631.4h1.2v1.2h-1.2zM439.0 616.6h1.2v1.2h-1.2zM437.7 617.1h1.2v1.2h-1.2zM438.4 626.1h1.2v1.2h-1.2zM437.2 604.1h1.2v1.2h-1.2zM435.2 607.2h1.2v1.2h-1.2zM432.2 631.8h1.2v1.2h-1.2zM433.5 624.8h1.2v1.2h-1.2zM436.3 631.9h1.2v1.2h-1.2zM434.9 611.2h1.2v1.2h-1.2zM437.6 624.1h1.2v1.2h-1.2zM435.9 603.7h1.2v1.2h-1.2zM440.7 625.3h1.2v1.2h-1.2zM438.6 628.8h1.2v1.2h-1.2zM436.2 632.3h1.2v1.2h-1.2zM435.5 616.1h1.2v1.2h-1.2zM437.1 609.2h1.2v1.2h-1.2zM436.9 626.3h1.2v1.2h-1.2zM439.0 614.4h1.2v1.2h-1.2zM440.4 631.4h1.2v1.2h-1.2zM439.4 635.3h1.2v1.2h-1.2zM439.8 616.7h1.2v1.2h-1.2zM436.7 616.9h1.2v1.2h-1.2zM433.8 631.2h1.2v1.2h-1.2zM440.0 614.1h1.2v1.2h-1.2zM432.4 609.4h1.2v1.2h-1.2zM432.1 638.2h1.2v1.2h-1.2zM432.1 636.1h1.2v1.2h-1.2zM435.1 611.8h1.2v1.2h-1.2zM435.2 627.6h1.2v1.2h-1.2zM439.0 623.7h1.2v1.2h-1.2zM433.9 628.4h1.2v1.2h-1.2zM434.8 635.2h1.2v1.2h-1.2zM435.9 606.5h1.2v1.2h-1.2zM432.4 637.4h1.2v1.2h-1.2zM436.8 613.5h1.2v1.2h-1.2zM436.9 648.9h1.2v1.2h-1.2z" fill="#b8254c"/>
<path d="M386.5,562.0 V559.5 H437.5 V562.0" stroke="#222" stroke-width="0.9" fill="none"/>
<path d="M409.50,555.80V558.00M408.54,556.35L410.46,557.45M408.54,557.45L410.46,556.35M412.00,555.80V558.00M411.04,556.35L412.96,557.45M411.04,557.45L412.96,556.35M414.50,555.80V558.00M413.54,556.35L415.46,557.45M413.54,557.45L415.46,556.35" stroke="#231f20" stroke-width="0.6" fill="none"/>
<text x="386.50" y="678.30" font-size="7" fill="#231f20" text-anchor="middle" stroke="#231f20" stroke-width="0.16">Low</text>
<text x="437.50" y="678.30" font-size="7" fill="#231f20" text-anchor="middle" stroke="#231f20" stroke-width="0.16">High</text>
<text x="379.80" y="689.6" font-size="8" fill="#231f20" textLength="64.00" lengthAdjust="spacingAndGlyphs" stroke="#231f20" stroke-width="0.16"><tspan font-style="italic">miR-146a</tspan> expression</text>
<text x="332.70" y="610.00" font-size="8.8" fill="#231f20" text-anchor="middle" transform="rotate(-90 332.70 610.00)" textLength="76" lengthAdjust="spacingAndGlyphs" stroke="#231f20" stroke-width="0.16">Log<tspan font-size="5" dy="1.8">2</tspan><tspan dy="-1.8"> (</tspan><tspan font-style="italic">NFKB2</tspan> expression)</text>
</svg>
</body></html>
